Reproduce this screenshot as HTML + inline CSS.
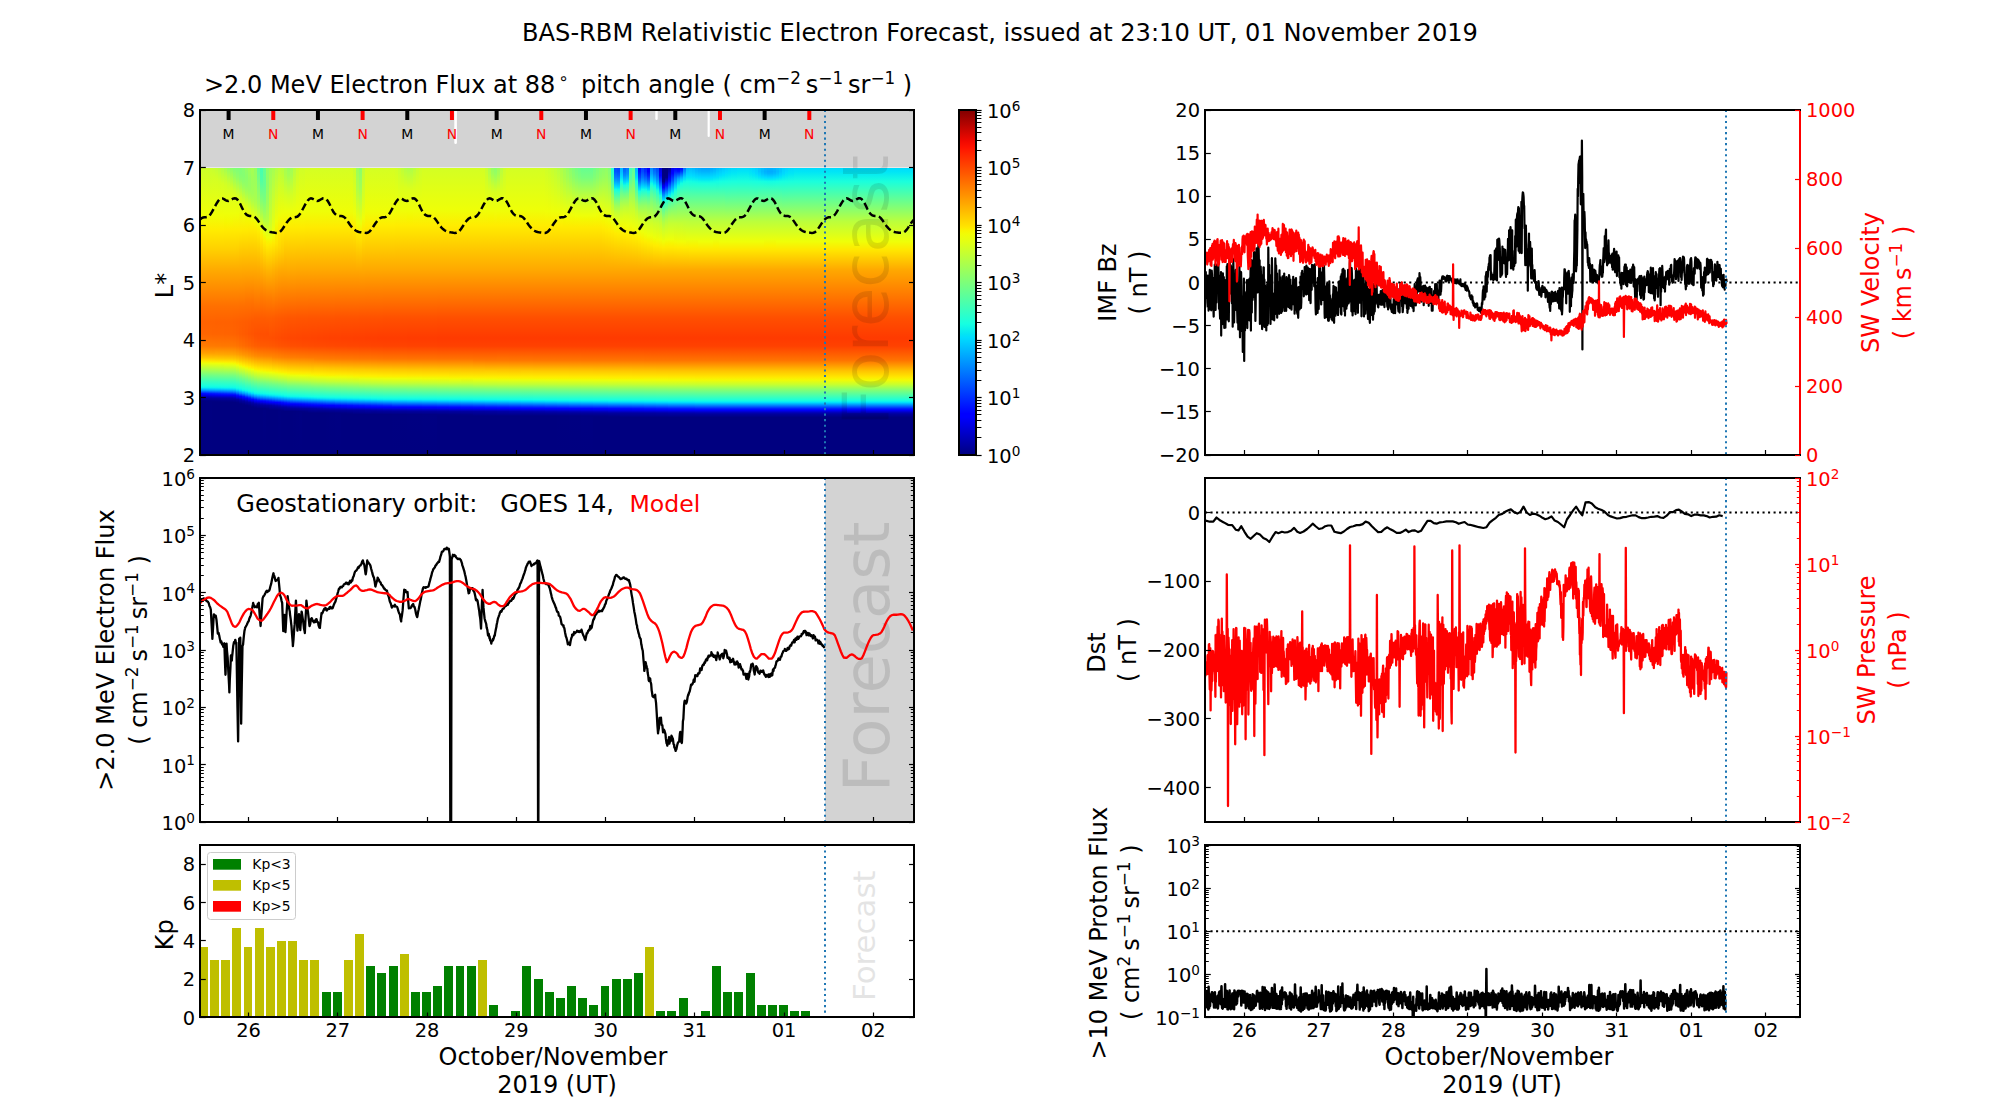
<!DOCTYPE html><html><head><meta charset="utf-8"><title>BAS-RBM Relativistic Electron Forecast</title>
<style>html,body{margin:0;padding:0;background:#fff}svg{display:block}text{font-family:'DejaVu Sans','Liberation Sans',sans-serif}</style></head><body>
<svg width="2000" height="1100" viewBox="0 0 2000 1100">
<rect width="2000" height="1100" fill="#fff"/>
<text xml:space="preserve" x="1000" y="41" font-size="24.11" text-anchor="middle" fill="#000" >BAS-RBM Relativistic Electron Forecast, issued at 23:10 UT, 01 November 2019</text>
<g id="p1">
<rect x="200" y="110" width="714" height="57.5" fill="#d3d3d3" />
<g shape-rendering="crispEdges">
<defs>
<linearGradient id="h0_0" gradientUnits="userSpaceOnUse" x1="0" y1="167.5" x2="0" y2="270"><stop offset="0" stop-color="#cdff2a"/><stop offset="0.468" stop-color="#f0fe07"/><stop offset="0.624" stop-color="#ffea00"/><stop offset="0.8" stop-color="#ffd000"/><stop offset="1" stop-color="#ffab00"/></linearGradient>
<linearGradient id="h0_1" gradientUnits="userSpaceOnUse" x1="0" y1="167.5" x2="0" y2="270"><stop offset="0" stop-color="#caff2d"/><stop offset="0.468" stop-color="#f0fe07"/><stop offset="0.605" stop-color="#ffed00"/><stop offset="0.8" stop-color="#ffd000"/><stop offset="1" stop-color="#ffaa00"/></linearGradient>
<linearGradient id="h0_2" gradientUnits="userSpaceOnUse" x1="0" y1="167.5" x2="0" y2="270"><stop offset="0" stop-color="#c6ff31"/><stop offset="0.098" stop-color="#d3ff24"/><stop offset="0.468" stop-color="#f0fe07"/><stop offset="0.605" stop-color="#ffed00"/><stop offset="0.8" stop-color="#ffd000"/><stop offset="1" stop-color="#ffaa00"/></linearGradient>
<linearGradient id="h0_3" gradientUnits="userSpaceOnUse" x1="0" y1="167.5" x2="0" y2="270"><stop offset="0" stop-color="#c0ff36"/><stop offset="0.117" stop-color="#d4ff23"/><stop offset="0.468" stop-color="#f0fe07"/><stop offset="0.605" stop-color="#ffed00"/><stop offset="0.8" stop-color="#ffd000"/><stop offset="1" stop-color="#ffaa00"/></linearGradient>
<linearGradient id="h0_4" gradientUnits="userSpaceOnUse" x1="0" y1="167.5" x2="0" y2="270"><stop offset="0" stop-color="#b8ff3e"/><stop offset="0.137" stop-color="#d4ff22"/><stop offset="0.468" stop-color="#f0fe07"/><stop offset="0.605" stop-color="#ffed00"/><stop offset="0.8" stop-color="#ffd000"/><stop offset="1" stop-color="#ffaa00"/></linearGradient>
<linearGradient id="h0_5" gradientUnits="userSpaceOnUse" x1="0" y1="167.5" x2="0" y2="270"><stop offset="0" stop-color="#aeff49"/><stop offset="0.156" stop-color="#d5ff22"/><stop offset="0.468" stop-color="#f0fe07"/><stop offset="0.605" stop-color="#ffed00"/><stop offset="0.8" stop-color="#ffd000"/><stop offset="1" stop-color="#ffaa00"/></linearGradient>
<linearGradient id="h0_6" gradientUnits="userSpaceOnUse" x1="0" y1="167.5" x2="0" y2="270"><stop offset="0" stop-color="#a1ff55"/><stop offset="0.098" stop-color="#c2ff34"/><stop offset="0.176" stop-color="#d4ff22"/><stop offset="0.449" stop-color="#eeff09"/><stop offset="0.546" stop-color="#f7f500"/><stop offset="0.605" stop-color="#ffec00"/><stop offset="0.8" stop-color="#ffd000"/><stop offset="1" stop-color="#ffaa00"/></linearGradient>
<linearGradient id="h0_7" gradientUnits="userSpaceOnUse" x1="0" y1="167.5" x2="0" y2="270"><stop offset="0" stop-color="#94ff62"/><stop offset="0.156" stop-color="#caff2c"/><stop offset="0.273" stop-color="#dfff18"/><stop offset="0.449" stop-color="#eeff09"/><stop offset="0.527" stop-color="#f5f802"/><stop offset="0.605" stop-color="#ffec00"/><stop offset="0.8" stop-color="#ffd000"/><stop offset="1" stop-color="#ffaa00"/></linearGradient>
<linearGradient id="h0_8" gradientUnits="userSpaceOnUse" x1="0" y1="167.5" x2="0" y2="270"><stop offset="0" stop-color="#88ff6e"/><stop offset="0.195" stop-color="#cdff29"/><stop offset="0.293" stop-color="#dfff17"/><stop offset="0.449" stop-color="#eeff09"/><stop offset="0.527" stop-color="#f5f802"/><stop offset="0.605" stop-color="#ffec00"/><stop offset="0.8" stop-color="#ffd000"/><stop offset="1" stop-color="#ffaa00"/></linearGradient>
<linearGradient id="h0_9" gradientUnits="userSpaceOnUse" x1="0" y1="167.5" x2="0" y2="270"><stop offset="0" stop-color="#80ff77"/><stop offset="0.078" stop-color="#95ff61"/><stop offset="0.234" stop-color="#d0ff26"/><stop offset="0.351" stop-color="#e5ff12"/><stop offset="0.449" stop-color="#eeff09"/><stop offset="0.605" stop-color="#ffec00"/><stop offset="0.8" stop-color="#ffd000"/><stop offset="1" stop-color="#ffaa00"/></linearGradient>
<linearGradient id="h0_10" gradientUnits="userSpaceOnUse" x1="0" y1="167.5" x2="0" y2="270"><stop offset="0" stop-color="#7dff7a"/><stop offset="0.098" stop-color="#91ff66"/><stop offset="0.273" stop-color="#d4ff23"/><stop offset="0.371" stop-color="#e6ff10"/><stop offset="0.449" stop-color="#eeff08"/><stop offset="0.605" stop-color="#ffec00"/><stop offset="0.8" stop-color="#ffcf00"/><stop offset="1" stop-color="#ffaa00"/></linearGradient>
<linearGradient id="h0_11" gradientUnits="userSpaceOnUse" x1="0" y1="167.5" x2="0" y2="270"><stop offset="0" stop-color="#7fff78"/><stop offset="0.059" stop-color="#82ff75"/><stop offset="0.117" stop-color="#8dff69"/><stop offset="0.293" stop-color="#d1ff26"/><stop offset="0.41" stop-color="#eaff0c"/><stop offset="0.605" stop-color="#ffec00"/><stop offset="1" stop-color="#ffaa00"/></linearGradient>
<linearGradient id="h0_12" gradientUnits="userSpaceOnUse" x1="0" y1="167.5" x2="0" y2="270"><stop offset="0" stop-color="#87ff70"/><stop offset="0.078" stop-color="#85ff72"/><stop offset="0.137" stop-color="#8dff6a"/><stop offset="0.195" stop-color="#9eff59"/><stop offset="0.351" stop-color="#dbff1c"/><stop offset="0.449" stop-color="#eeff08"/><stop offset="0.605" stop-color="#ffeb00"/><stop offset="1" stop-color="#ffa900"/></linearGradient>
<linearGradient id="h0_13" gradientUnits="userSpaceOnUse" x1="0" y1="167.5" x2="0" y2="270"><stop offset="0" stop-color="#92ff65"/><stop offset="0.098" stop-color="#8cff6b"/><stop offset="0.176" stop-color="#93ff64"/><stop offset="0.254" stop-color="#a9ff4e"/><stop offset="0.39" stop-color="#dfff17"/><stop offset="0.507" stop-color="#f4f802"/><stop offset="0.605" stop-color="#ffeb00"/><stop offset="1" stop-color="#ffa900"/></linearGradient>
<linearGradient id="h0_14" gradientUnits="userSpaceOnUse" x1="0" y1="167.5" x2="0" y2="270"><stop offset="0" stop-color="#9fff58"/><stop offset="0.117" stop-color="#95ff62"/><stop offset="0.215" stop-color="#9aff5d"/><stop offset="0.293" stop-color="#aeff49"/><stop offset="0.429" stop-color="#e4ff13"/><stop offset="0.527" stop-color="#f6f601"/><stop offset="0.605" stop-color="#ffea00"/><stop offset="1" stop-color="#ffa900"/></linearGradient>
<linearGradient id="h0_15" gradientUnits="userSpaceOnUse" x1="0" y1="167.5" x2="0" y2="270"><stop offset="0" stop-color="#a6ff51"/><stop offset="0.156" stop-color="#9dff5a"/><stop offset="0.254" stop-color="#a1ff56"/><stop offset="0.332" stop-color="#b3ff44"/><stop offset="0.488" stop-color="#edff09"/><stop offset="0.546" stop-color="#f9f400"/><stop offset="0.605" stop-color="#ffea00"/><stop offset="1" stop-color="#ffa900"/></linearGradient>
<linearGradient id="h0_16" gradientUnits="userSpaceOnUse" x1="0" y1="167.5" x2="0" y2="270"><stop offset="0" stop-color="#95ff62"/><stop offset="0.312" stop-color="#a8ff4f"/><stop offset="0.371" stop-color="#b7ff40"/><stop offset="0.507" stop-color="#ebff0c"/><stop offset="0.546" stop-color="#f6f701"/><stop offset="0.605" stop-color="#ffeb00"/><stop offset="1" stop-color="#ffa900"/></linearGradient>
<linearGradient id="h0_17" gradientUnits="userSpaceOnUse" x1="0" y1="167.5" x2="0" y2="270"><stop offset="0" stop-color="#63ff94"/><stop offset="0.351" stop-color="#a3ff54"/><stop offset="0.429" stop-color="#bcff3b"/><stop offset="0.546" stop-color="#ecff0b"/><stop offset="0.585" stop-color="#f7f500"/><stop offset="0.624" stop-color="#ffec00"/><stop offset="1" stop-color="#ffaa00"/></linearGradient>
<linearGradient id="h0_18" gradientUnits="userSpaceOnUse" x1="0" y1="167.5" x2="0" y2="270"><stop offset="0" stop-color="#46ffb1"/><stop offset="0.117" stop-color="#50ffa6"/><stop offset="0.332" stop-color="#86ff71"/><stop offset="0.449" stop-color="#abff4b"/><stop offset="0.605" stop-color="#efff08"/><stop offset="0.624" stop-color="#f4f802"/><stop offset="0.683" stop-color="#ffea00"/><stop offset="1" stop-color="#ffad00"/></linearGradient>
<linearGradient id="h0_19" gradientUnits="userSpaceOnUse" x1="0" y1="167.5" x2="0" y2="270"><stop offset="0" stop-color="#65ff91"/><stop offset="0.156" stop-color="#62ff95"/><stop offset="0.312" stop-color="#7aff7d"/><stop offset="0.488" stop-color="#a9ff4e"/><stop offset="0.644" stop-color="#ebff0c"/><stop offset="0.683" stop-color="#f6f601"/><stop offset="0.722" stop-color="#feed00"/><stop offset="1" stop-color="#ffb100"/></linearGradient>
<linearGradient id="h0_20" gradientUnits="userSpaceOnUse" x1="0" y1="167.5" x2="0" y2="270"><stop offset="0" stop-color="#8eff68"/><stop offset="0.176" stop-color="#8cff6a"/><stop offset="0.351" stop-color="#9bff5c"/><stop offset="0.527" stop-color="#b8ff3f"/><stop offset="0.683" stop-color="#eeff09"/><stop offset="0.722" stop-color="#f8f400"/><stop offset="0.761" stop-color="#ffeb00"/><stop offset="1" stop-color="#ffb500"/></linearGradient>
<linearGradient id="h0_21" gradientUnits="userSpaceOnUse" x1="0" y1="167.5" x2="0" y2="270"><stop offset="0" stop-color="#9eff58"/><stop offset="0.156" stop-color="#a7ff50"/><stop offset="0.527" stop-color="#ccff2b"/><stop offset="0.605" stop-color="#d8ff1f"/><stop offset="0.683" stop-color="#edff0a"/><stop offset="0.722" stop-color="#f9f400"/><stop offset="0.761" stop-color="#ffe900"/><stop offset="1" stop-color="#ffb500"/></linearGradient>
<linearGradient id="h0_22" gradientUnits="userSpaceOnUse" x1="0" y1="167.5" x2="0" y2="270"><stop offset="0" stop-color="#a5ff52"/><stop offset="0.644" stop-color="#eeff09"/><stop offset="0.741" stop-color="#ffea00"/><stop offset="1" stop-color="#ffb100"/></linearGradient>
<linearGradient id="h0_23" gradientUnits="userSpaceOnUse" x1="0" y1="167.5" x2="0" y2="270"><stop offset="0" stop-color="#b1ff46"/><stop offset="0.527" stop-color="#effe07"/><stop offset="0.585" stop-color="#f6f600"/><stop offset="0.741" stop-color="#ffe400"/><stop offset="1" stop-color="#ffad00"/></linearGradient>
<linearGradient id="h0_24" gradientUnits="userSpaceOnUse" x1="0" y1="167.5" x2="0" y2="270"><stop offset="0" stop-color="#bbff3c"/><stop offset="0.468" stop-color="#effe07"/><stop offset="0.605" stop-color="#ffeb00"/><stop offset="0.78" stop-color="#ffd700"/><stop offset="1" stop-color="#ffaa00"/></linearGradient>
<linearGradient id="h0_25" gradientUnits="userSpaceOnUse" x1="0" y1="167.5" x2="0" y2="270"><stop offset="0" stop-color="#b6ff40"/><stop offset="0.449" stop-color="#effe08"/><stop offset="0.585" stop-color="#ffec00"/><stop offset="0.82" stop-color="#ffcc00"/><stop offset="1" stop-color="#ffa900"/></linearGradient>
<linearGradient id="h0_26" gradientUnits="userSpaceOnUse" x1="0" y1="167.5" x2="0" y2="270"><stop offset="0" stop-color="#a6ff51"/><stop offset="0.078" stop-color="#aeff48"/><stop offset="0.273" stop-color="#d5ff22"/><stop offset="0.429" stop-color="#edff0a"/><stop offset="0.507" stop-color="#f6f701"/><stop offset="0.585" stop-color="#ffeb00"/><stop offset="1" stop-color="#ffa900"/></linearGradient>
<linearGradient id="h0_27" gradientUnits="userSpaceOnUse" x1="0" y1="167.5" x2="0" y2="270"><stop offset="0" stop-color="#9aff5c"/><stop offset="0.078" stop-color="#a4ff53"/><stop offset="0.273" stop-color="#d2ff25"/><stop offset="0.429" stop-color="#edff0a"/><stop offset="0.507" stop-color="#f6f701"/><stop offset="0.585" stop-color="#ffeb00"/><stop offset="1" stop-color="#ffaa00"/></linearGradient>
<linearGradient id="h0_28" gradientUnits="userSpaceOnUse" x1="0" y1="167.5" x2="0" y2="270"><stop offset="0" stop-color="#a1ff56"/><stop offset="0.078" stop-color="#aaff4d"/><stop offset="0.273" stop-color="#d4ff23"/><stop offset="0.429" stop-color="#edff0a"/><stop offset="0.507" stop-color="#f6f601"/><stop offset="0.585" stop-color="#ffeb00"/><stop offset="1" stop-color="#ffa900"/></linearGradient>
<linearGradient id="h0_29" gradientUnits="userSpaceOnUse" x1="0" y1="167.5" x2="0" y2="270"><stop offset="0" stop-color="#b5ff42"/><stop offset="0.429" stop-color="#eeff09"/><stop offset="0.585" stop-color="#ffeb00"/><stop offset="1" stop-color="#ffa900"/></linearGradient>
<linearGradient id="h0_30" gradientUnits="userSpaceOnUse" x1="0" y1="167.5" x2="0" y2="270"><stop offset="0" stop-color="#c7ff30"/><stop offset="0.429" stop-color="#efff08"/><stop offset="0.585" stop-color="#ffeb00"/><stop offset="1" stop-color="#ffa800"/></linearGradient>
<linearGradient id="h0_31" gradientUnits="userSpaceOnUse" x1="0" y1="167.5" x2="0" y2="270"><stop offset="0" stop-color="#d0ff27"/><stop offset="0.429" stop-color="#effe08"/><stop offset="0.585" stop-color="#ffeb00"/><stop offset="1" stop-color="#ffa800"/></linearGradient>
<linearGradient id="h0_32" gradientUnits="userSpaceOnUse" x1="0" y1="167.5" x2="0" y2="270"><stop offset="0" stop-color="#d4ff23"/><stop offset="0.429" stop-color="#effe07"/><stop offset="0.585" stop-color="#ffea00"/><stop offset="1" stop-color="#ffa800"/></linearGradient>
<linearGradient id="h0_33" gradientUnits="userSpaceOnUse" x1="0" y1="167.5" x2="0" y2="270"><stop offset="0" stop-color="#caff2c"/><stop offset="0.312" stop-color="#dfff18"/><stop offset="0.449" stop-color="#eeff09"/><stop offset="0.585" stop-color="#ffec00"/><stop offset="1" stop-color="#ffa800"/></linearGradient>
<linearGradient id="h0_34" gradientUnits="userSpaceOnUse" x1="0" y1="167.5" x2="0" y2="270"><stop offset="0" stop-color="#9aff5d"/><stop offset="0.215" stop-color="#b2ff45"/><stop offset="0.546" stop-color="#f0fe07"/><stop offset="0.585" stop-color="#f7f500"/><stop offset="0.644" stop-color="#ffe900"/><stop offset="1" stop-color="#ffa900"/></linearGradient>
<linearGradient id="h0_35" gradientUnits="userSpaceOnUse" x1="0" y1="167.5" x2="0" y2="270"><stop offset="0" stop-color="#89ff6d"/><stop offset="0.195" stop-color="#a1ff56"/><stop offset="0.546" stop-color="#ecff0b"/><stop offset="0.605" stop-color="#f8f400"/><stop offset="0.644" stop-color="#ffeb00"/><stop offset="1" stop-color="#ffa900"/></linearGradient>
<linearGradient id="h0_36" gradientUnits="userSpaceOnUse" x1="0" y1="167.5" x2="0" y2="270"><stop offset="0" stop-color="#bfff38"/><stop offset="0.312" stop-color="#d8ff1f"/><stop offset="0.488" stop-color="#effe08"/><stop offset="0.605" stop-color="#ffea00"/><stop offset="1" stop-color="#ffa800"/></linearGradient>
<linearGradient id="h0_37" gradientUnits="userSpaceOnUse" x1="0" y1="167.5" x2="0" y2="270"><stop offset="0" stop-color="#d4ff23"/><stop offset="0.429" stop-color="#effe07"/><stop offset="0.566" stop-color="#ffed00"/><stop offset="1" stop-color="#ffa800"/></linearGradient>
<linearGradient id="h0_38" gradientUnits="userSpaceOnUse" x1="0" y1="167.5" x2="0" y2="270"><stop offset="0" stop-color="#d0ff27"/><stop offset="0.41" stop-color="#eeff08"/><stop offset="0.566" stop-color="#ffec00"/><stop offset="1" stop-color="#ffa800"/></linearGradient>
<linearGradient id="h0_39" gradientUnits="userSpaceOnUse" x1="0" y1="167.5" x2="0" y2="270"><stop offset="0" stop-color="#c8ff2f"/><stop offset="0.41" stop-color="#eeff08"/><stop offset="0.566" stop-color="#ffec00"/><stop offset="1" stop-color="#ffa800"/></linearGradient>
<linearGradient id="h0_40" gradientUnits="userSpaceOnUse" x1="0" y1="167.5" x2="0" y2="270"><stop offset="0" stop-color="#bdff39"/><stop offset="0.195" stop-color="#dbff1b"/><stop offset="0.41" stop-color="#eeff08"/><stop offset="0.566" stop-color="#ffec00"/><stop offset="1" stop-color="#ffa800"/></linearGradient>
<linearGradient id="h0_41" gradientUnits="userSpaceOnUse" x1="0" y1="167.5" x2="0" y2="270"><stop offset="0" stop-color="#b2ff44"/><stop offset="0.195" stop-color="#daff1d"/><stop offset="0.41" stop-color="#eeff08"/><stop offset="0.566" stop-color="#ffec00"/><stop offset="1" stop-color="#ffa800"/></linearGradient>
<linearGradient id="h0_42" gradientUnits="userSpaceOnUse" x1="0" y1="167.5" x2="0" y2="270"><stop offset="0" stop-color="#adff4a"/><stop offset="0.215" stop-color="#dcff1b"/><stop offset="0.41" stop-color="#eeff08"/><stop offset="0.488" stop-color="#f6f601"/><stop offset="0.566" stop-color="#ffec00"/><stop offset="1" stop-color="#ffa800"/></linearGradient>
<linearGradient id="h0_43" gradientUnits="userSpaceOnUse" x1="0" y1="167.5" x2="0" y2="270"><stop offset="0" stop-color="#b9ff3d"/><stop offset="0.195" stop-color="#dbff1c"/><stop offset="0.41" stop-color="#eeff08"/><stop offset="0.566" stop-color="#ffec00"/><stop offset="1" stop-color="#ffa800"/></linearGradient>
<linearGradient id="h0_44" gradientUnits="userSpaceOnUse" x1="0" y1="167.5" x2="0" y2="270"><stop offset="0" stop-color="#c5ff32"/><stop offset="0.195" stop-color="#ddff1a"/><stop offset="0.41" stop-color="#eeff08"/><stop offset="0.566" stop-color="#ffec00"/><stop offset="1" stop-color="#ffa800"/></linearGradient>
<linearGradient id="h0_45" gradientUnits="userSpaceOnUse" x1="0" y1="167.5" x2="0" y2="270"><stop offset="0" stop-color="#ceff29"/><stop offset="0.41" stop-color="#eeff08"/><stop offset="0.566" stop-color="#ffec00"/><stop offset="1" stop-color="#ffa800"/></linearGradient>
<linearGradient id="h0_46" gradientUnits="userSpaceOnUse" x1="0" y1="167.5" x2="0" y2="270"><stop offset="0" stop-color="#d3ff24"/><stop offset="0.41" stop-color="#eeff08"/><stop offset="0.566" stop-color="#ffec00"/><stop offset="1" stop-color="#ffa800"/></linearGradient>
<linearGradient id="h0_47" gradientUnits="userSpaceOnUse" x1="0" y1="167.5" x2="0" y2="270"><stop offset="0" stop-color="#c5ff32"/><stop offset="0.41" stop-color="#eeff08"/><stop offset="0.566" stop-color="#ffec00"/><stop offset="1" stop-color="#ffa800"/></linearGradient>
<linearGradient id="h0_48" gradientUnits="userSpaceOnUse" x1="0" y1="167.5" x2="0" y2="270"><stop offset="0" stop-color="#aeff49"/><stop offset="0.059" stop-color="#b5ff42"/><stop offset="0.234" stop-color="#dbff1c"/><stop offset="0.41" stop-color="#eeff09"/><stop offset="0.488" stop-color="#f6f601"/><stop offset="0.566" stop-color="#ffec00"/><stop offset="1" stop-color="#ffa800"/></linearGradient>
<linearGradient id="h0_49" gradientUnits="userSpaceOnUse" x1="0" y1="167.5" x2="0" y2="270"><stop offset="0" stop-color="#95ff62"/><stop offset="0.059" stop-color="#9fff58"/><stop offset="0.176" stop-color="#c7ff30"/><stop offset="0.254" stop-color="#dbff1c"/><stop offset="0.41" stop-color="#eeff09"/><stop offset="0.488" stop-color="#f6f601"/><stop offset="0.566" stop-color="#ffec00"/><stop offset="1" stop-color="#ffa800"/></linearGradient>
<linearGradient id="h0_50" gradientUnits="userSpaceOnUse" x1="0" y1="167.5" x2="0" y2="270"><stop offset="0" stop-color="#8cff6b"/><stop offset="0.059" stop-color="#97ff60"/><stop offset="0.234" stop-color="#d5ff22"/><stop offset="0.41" stop-color="#eeff09"/><stop offset="0.566" stop-color="#ffec00"/><stop offset="1" stop-color="#ffa800"/></linearGradient>
<linearGradient id="h0_51" gradientUnits="userSpaceOnUse" x1="0" y1="167.5" x2="0" y2="270"><stop offset="0" stop-color="#9cff5b"/><stop offset="0.059" stop-color="#a5ff52"/><stop offset="0.234" stop-color="#d8ff1f"/><stop offset="0.41" stop-color="#eeff09"/><stop offset="0.488" stop-color="#f6f601"/><stop offset="0.566" stop-color="#ffec00"/><stop offset="1" stop-color="#ffa800"/></linearGradient>
<linearGradient id="h0_52" gradientUnits="userSpaceOnUse" x1="0" y1="167.5" x2="0" y2="270"><stop offset="0" stop-color="#b7ff40"/><stop offset="0.234" stop-color="#dcff1a"/><stop offset="0.41" stop-color="#eeff08"/><stop offset="0.566" stop-color="#ffec00"/><stop offset="1" stop-color="#ffa800"/></linearGradient>
<linearGradient id="h0_53" gradientUnits="userSpaceOnUse" x1="0" y1="167.5" x2="0" y2="270"><stop offset="0" stop-color="#caff2d"/><stop offset="0.41" stop-color="#eeff08"/><stop offset="0.566" stop-color="#ffec00"/><stop offset="1" stop-color="#ffa800"/></linearGradient>
<linearGradient id="h0_54" gradientUnits="userSpaceOnUse" x1="0" y1="167.5" x2="0" y2="270"><stop offset="0" stop-color="#d3ff24"/><stop offset="0.41" stop-color="#eeff08"/><stop offset="0.566" stop-color="#ffec00"/><stop offset="1" stop-color="#ffa800"/></linearGradient>
<linearGradient id="h0_55" gradientUnits="userSpaceOnUse" x1="0" y1="167.5" x2="0" y2="270"><stop offset="0" stop-color="#ceff29"/><stop offset="0.429" stop-color="#f0fe07"/><stop offset="0.566" stop-color="#ffec00"/><stop offset="1" stop-color="#ffa800"/></linearGradient>
<linearGradient id="h0_56" gradientUnits="userSpaceOnUse" x1="0" y1="167.5" x2="0" y2="270"><stop offset="0" stop-color="#caff2c"/><stop offset="0.429" stop-color="#effe07"/><stop offset="0.566" stop-color="#ffec00"/><stop offset="1" stop-color="#ffa800"/></linearGradient>
<linearGradient id="h0_57" gradientUnits="userSpaceOnUse" x1="0" y1="167.5" x2="0" y2="270"><stop offset="0" stop-color="#c5ff31"/><stop offset="0.429" stop-color="#efff08"/><stop offset="0.566" stop-color="#ffec00"/><stop offset="1" stop-color="#ffa800"/></linearGradient>
<linearGradient id="h0_58" gradientUnits="userSpaceOnUse" x1="0" y1="167.5" x2="0" y2="270"><stop offset="0" stop-color="#bfff38"/><stop offset="0.429" stop-color="#eeff08"/><stop offset="0.566" stop-color="#ffec00"/><stop offset="1" stop-color="#ffa800"/></linearGradient>
<linearGradient id="h0_59" gradientUnits="userSpaceOnUse" x1="0" y1="167.5" x2="0" y2="270"><stop offset="0" stop-color="#b7ff40"/><stop offset="0.429" stop-color="#eeff09"/><stop offset="0.566" stop-color="#ffec00"/><stop offset="1" stop-color="#ffa800"/></linearGradient>
<linearGradient id="h0_60" gradientUnits="userSpaceOnUse" x1="0" y1="167.5" x2="0" y2="270"><stop offset="0" stop-color="#adff4a"/><stop offset="0.098" stop-color="#b7ff40"/><stop offset="0.449" stop-color="#effe07"/><stop offset="0.566" stop-color="#ffed00"/><stop offset="1" stop-color="#ffa800"/></linearGradient>
<linearGradient id="h0_61" gradientUnits="userSpaceOnUse" x1="0" y1="167.5" x2="0" y2="270"><stop offset="0" stop-color="#a2ff55"/><stop offset="0.098" stop-color="#adff49"/><stop offset="0.449" stop-color="#efff08"/><stop offset="0.507" stop-color="#f6f600"/><stop offset="0.585" stop-color="#ffea00"/><stop offset="1" stop-color="#ffa800"/></linearGradient>
<linearGradient id="h0_62" gradientUnits="userSpaceOnUse" x1="0" y1="167.5" x2="0" y2="270"><stop offset="0" stop-color="#96ff60"/><stop offset="0.098" stop-color="#a3ff54"/><stop offset="0.449" stop-color="#eeff09"/><stop offset="0.507" stop-color="#f6f701"/><stop offset="0.585" stop-color="#ffea00"/><stop offset="1" stop-color="#ffa800"/></linearGradient>
<linearGradient id="h0_63" gradientUnits="userSpaceOnUse" x1="0" y1="167.5" x2="0" y2="270"><stop offset="0" stop-color="#8aff6d"/><stop offset="0.098" stop-color="#98ff5f"/><stop offset="0.293" stop-color="#cdff2a"/><stop offset="0.449" stop-color="#edff0a"/><stop offset="0.507" stop-color="#f6f701"/><stop offset="0.585" stop-color="#ffea00"/><stop offset="1" stop-color="#ffa800"/></linearGradient>
<linearGradient id="h0_64" gradientUnits="userSpaceOnUse" x1="0" y1="167.5" x2="0" y2="270"><stop offset="0" stop-color="#7eff79"/><stop offset="0.098" stop-color="#8dff69"/><stop offset="0.371" stop-color="#ddff1a"/><stop offset="0.468" stop-color="#effe07"/><stop offset="0.507" stop-color="#f5f702"/><stop offset="0.585" stop-color="#ffea00"/><stop offset="1" stop-color="#ffa800"/></linearGradient>
<linearGradient id="h0_65" gradientUnits="userSpaceOnUse" x1="0" y1="167.5" x2="0" y2="270"><stop offset="0" stop-color="#73ff83"/><stop offset="0.098" stop-color="#84ff73"/><stop offset="0.371" stop-color="#dbff1c"/><stop offset="0.468" stop-color="#efff08"/><stop offset="0.507" stop-color="#f5f802"/><stop offset="0.585" stop-color="#ffea00"/><stop offset="1" stop-color="#ffa800"/></linearGradient>
<linearGradient id="h0_66" gradientUnits="userSpaceOnUse" x1="0" y1="167.5" x2="0" y2="270"><stop offset="0" stop-color="#6bff8c"/><stop offset="0.098" stop-color="#7dff7a"/><stop offset="0.371" stop-color="#daff1d"/><stop offset="0.468" stop-color="#eeff08"/><stop offset="0.507" stop-color="#f5f802"/><stop offset="0.585" stop-color="#ffea00"/><stop offset="1" stop-color="#ffa800"/></linearGradient>
<linearGradient id="h0_67" gradientUnits="userSpaceOnUse" x1="0" y1="167.5" x2="0" y2="270"><stop offset="0" stop-color="#65ff92"/><stop offset="0.098" stop-color="#78ff7f"/><stop offset="0.273" stop-color="#baff3d"/><stop offset="0.371" stop-color="#d9ff1e"/><stop offset="0.468" stop-color="#eeff09"/><stop offset="0.507" stop-color="#f4f802"/><stop offset="0.585" stop-color="#ffea00"/><stop offset="1" stop-color="#ffa800"/></linearGradient>
<linearGradient id="h0_68" gradientUnits="userSpaceOnUse" x1="0" y1="167.5" x2="0" y2="270"><stop offset="0" stop-color="#70ff86"/><stop offset="0.098" stop-color="#81ff75"/><stop offset="0.371" stop-color="#dbff1c"/><stop offset="0.468" stop-color="#efff08"/><stop offset="0.507" stop-color="#f5f802"/><stop offset="0.585" stop-color="#ffea00"/><stop offset="1" stop-color="#ffa800"/></linearGradient>
<linearGradient id="h0_69" gradientUnits="userSpaceOnUse" x1="0" y1="167.5" x2="0" y2="270"><stop offset="0" stop-color="#7aff7c"/><stop offset="0.098" stop-color="#8aff6d"/><stop offset="0.371" stop-color="#dcff1b"/><stop offset="0.468" stop-color="#effe07"/><stop offset="0.507" stop-color="#f5f802"/><stop offset="0.585" stop-color="#ffea00"/><stop offset="1" stop-color="#ffa800"/></linearGradient>
<linearGradient id="h0_70" gradientUnits="userSpaceOnUse" x1="0" y1="167.5" x2="0" y2="270"><stop offset="0" stop-color="#85ff72"/><stop offset="0.098" stop-color="#93ff63"/><stop offset="0.351" stop-color="#d9ff1e"/><stop offset="0.449" stop-color="#ecff0a"/><stop offset="0.507" stop-color="#f5f802"/><stop offset="0.585" stop-color="#ffea00"/><stop offset="1" stop-color="#ffa800"/></linearGradient>
<linearGradient id="h0_71" gradientUnits="userSpaceOnUse" x1="0" y1="167.5" x2="0" y2="270"><stop offset="0" stop-color="#8aff6c"/><stop offset="0.098" stop-color="#98ff5f"/><stop offset="0.293" stop-color="#caff2c"/><stop offset="0.468" stop-color="#eeff09"/><stop offset="0.527" stop-color="#f6f600"/><stop offset="0.585" stop-color="#ffec00"/><stop offset="1" stop-color="#ffa800"/></linearGradient>
<linearGradient id="h0_72" gradientUnits="userSpaceOnUse" x1="0" y1="167.5" x2="0" y2="270"><stop offset="0" stop-color="#8fff68"/><stop offset="0.098" stop-color="#9bff5b"/><stop offset="0.468" stop-color="#ecff0b"/><stop offset="0.527" stop-color="#f5f802"/><stop offset="0.605" stop-color="#ffeb00"/><stop offset="1" stop-color="#ffa800"/></linearGradient>
<linearGradient id="h0_73" gradientUnits="userSpaceOnUse" x1="0" y1="167.5" x2="0" y2="270"><stop offset="0" stop-color="#81ff76"/><stop offset="0.098" stop-color="#8fff68"/><stop offset="0.371" stop-color="#d5ff21"/><stop offset="0.488" stop-color="#ecff0b"/><stop offset="0.546" stop-color="#f6f701"/><stop offset="0.605" stop-color="#ffed00"/><stop offset="1" stop-color="#ffa800"/></linearGradient>
<linearGradient id="h0_74" gradientUnits="userSpaceOnUse" x1="0" y1="167.5" x2="0" y2="270"><stop offset="0" stop-color="#25ffd2"/><stop offset="0.059" stop-color="#2fffc7"/><stop offset="0.117" stop-color="#44ffb2"/><stop offset="0.273" stop-color="#95ff62"/><stop offset="0.371" stop-color="#c0ff36"/><stop offset="0.527" stop-color="#edff0a"/><stop offset="0.624" stop-color="#ffec00"/><stop offset="1" stop-color="#ffa800"/></linearGradient>
<linearGradient id="h0_75" gradientUnits="userSpaceOnUse" x1="0" y1="167.5" x2="0" y2="270"><stop offset="0" stop-color="#0049ff"/><stop offset="0.039" stop-color="#0054ff"/><stop offset="0.098" stop-color="#007bff"/><stop offset="0.176" stop-color="#00d0ff"/><stop offset="0.195" stop-color="#02e8f5"/><stop offset="0.215" stop-color="#16ffe1"/><stop offset="0.293" stop-color="#60ff96"/><stop offset="0.371" stop-color="#9dff59"/><stop offset="0.449" stop-color="#c9ff2e"/><stop offset="0.527" stop-color="#e5ff12"/><stop offset="0.585" stop-color="#f4f903"/><stop offset="0.644" stop-color="#ffeb00"/><stop offset="1" stop-color="#ffa800"/></linearGradient>
<linearGradient id="h0_76" gradientUnits="userSpaceOnUse" x1="0" y1="167.5" x2="0" y2="270"><stop offset="0" stop-color="#0040ff"/><stop offset="0.039" stop-color="#004bff"/><stop offset="0.078" stop-color="#0063ff"/><stop offset="0.117" stop-color="#0086ff"/><stop offset="0.176" stop-color="#00caff"/><stop offset="0.195" stop-color="#00e2f9"/><stop offset="0.215" stop-color="#11fbe5"/><stop offset="0.234" stop-color="#25ffd2"/><stop offset="0.312" stop-color="#6eff89"/><stop offset="0.39" stop-color="#a7ff50"/><stop offset="0.468" stop-color="#cfff28"/><stop offset="0.546" stop-color="#e9ff0e"/><stop offset="0.605" stop-color="#f6f600"/><stop offset="0.644" stop-color="#feed00"/><stop offset="1" stop-color="#ffa800"/></linearGradient>
<linearGradient id="h0_77" gradientUnits="userSpaceOnUse" x1="0" y1="167.5" x2="0" y2="270"><stop offset="0" stop-color="#00b6ff"/><stop offset="0.039" stop-color="#00c0ff"/><stop offset="0.078" stop-color="#00d4ff"/><stop offset="0.098" stop-color="#00e1fa"/><stop offset="0.137" stop-color="#16ffe1"/><stop offset="0.254" stop-color="#6fff88"/><stop offset="0.351" stop-color="#aaff4d"/><stop offset="0.429" stop-color="#cbff2b"/><stop offset="0.527" stop-color="#e7ff0f"/><stop offset="0.605" stop-color="#f7f500"/><stop offset="0.644" stop-color="#feed00"/><stop offset="1" stop-color="#ffa800"/></linearGradient>
<linearGradient id="h0_78" gradientUnits="userSpaceOnUse" x1="0" y1="167.5" x2="0" y2="270"><stop offset="0" stop-color="#0064ff"/><stop offset="0.039" stop-color="#0071ff"/><stop offset="0.078" stop-color="#008eff"/><stop offset="0.137" stop-color="#00d0ff"/><stop offset="0.156" stop-color="#04eaf3"/><stop offset="0.176" stop-color="#19ffde"/><stop offset="0.254" stop-color="#68ff8f"/><stop offset="0.312" stop-color="#96ff61"/><stop offset="0.39" stop-color="#c0ff37"/><stop offset="0.468" stop-color="#daff1d"/><stop offset="0.566" stop-color="#f0fd07"/><stop offset="0.605" stop-color="#f7f600"/><stop offset="0.663" stop-color="#ffea00"/><stop offset="1" stop-color="#ffa800"/></linearGradient>
<linearGradient id="h0_79" gradientUnits="userSpaceOnUse" x1="0" y1="167.5" x2="0" y2="270"><stop offset="0" stop-color="#0076ff"/><stop offset="0.059" stop-color="#008fff"/><stop offset="0.098" stop-color="#00b1ff"/><stop offset="0.137" stop-color="#00defd"/><stop offset="0.156" stop-color="#0ef7e9"/><stop offset="0.176" stop-color="#22ffd5"/><stop offset="0.254" stop-color="#6dff8a"/><stop offset="0.312" stop-color="#98ff5f"/><stop offset="0.39" stop-color="#c0ff36"/><stop offset="0.468" stop-color="#d9ff1d"/><stop offset="0.566" stop-color="#efff08"/><stop offset="0.663" stop-color="#ffec00"/><stop offset="1" stop-color="#ffa800"/></linearGradient>
<linearGradient id="h0_80" gradientUnits="userSpaceOnUse" x1="0" y1="167.5" x2="0" y2="270"><stop offset="0" stop-color="#3effb8"/><stop offset="0.098" stop-color="#56ffa1"/><stop offset="0.254" stop-color="#9aff5d"/><stop offset="0.351" stop-color="#bcff3b"/><stop offset="0.546" stop-color="#eaff0d"/><stop offset="0.624" stop-color="#f7f500"/><stop offset="0.683" stop-color="#ffe900"/><stop offset="1" stop-color="#ffa800"/></linearGradient>
<linearGradient id="h0_81" gradientUnits="userSpaceOnUse" x1="0" y1="167.5" x2="0" y2="270"><stop offset="0" stop-color="#5cff9a"/><stop offset="0.117" stop-color="#72ff84"/><stop offset="0.41" stop-color="#caff2d"/><stop offset="0.585" stop-color="#effe08"/><stop offset="0.624" stop-color="#f6f601"/><stop offset="0.683" stop-color="#ffeb00"/><stop offset="1" stop-color="#ffa800"/></linearGradient>
<linearGradient id="h0_82" gradientUnits="userSpaceOnUse" x1="0" y1="167.5" x2="0" y2="270"><stop offset="0" stop-color="#00baff"/><stop offset="0.039" stop-color="#00c5ff"/><stop offset="0.078" stop-color="#00d7ff"/><stop offset="0.098" stop-color="#00e3f9"/><stop offset="0.137" stop-color="#15ffe1"/><stop offset="0.254" stop-color="#68ff8f"/><stop offset="0.351" stop-color="#a1ff56"/><stop offset="0.429" stop-color="#c2ff35"/><stop offset="0.527" stop-color="#dfff18"/><stop offset="0.605" stop-color="#effe07"/><stop offset="0.683" stop-color="#feed00"/><stop offset="1" stop-color="#ffa800"/></linearGradient>
<linearGradient id="h0_83" gradientUnits="userSpaceOnUse" x1="0" y1="167.5" x2="0" y2="270"><stop offset="0" stop-color="#0006ff"/><stop offset="0.039" stop-color="#0015ff"/><stop offset="0.098" stop-color="#0045ff"/><stop offset="0.137" stop-color="#0074ff"/><stop offset="0.195" stop-color="#00c8ff"/><stop offset="0.215" stop-color="#00e4f8"/><stop offset="0.234" stop-color="#15ffe2"/><stop offset="0.293" stop-color="#52ffa5"/><stop offset="0.371" stop-color="#91ff66"/><stop offset="0.449" stop-color="#bbff3b"/><stop offset="0.527" stop-color="#d8ff1e"/><stop offset="0.624" stop-color="#effe07"/><stop offset="0.702" stop-color="#ffec00"/><stop offset="1" stop-color="#ffa800"/></linearGradient>
<linearGradient id="h0_84" gradientUnits="userSpaceOnUse" x1="0" y1="167.5" x2="0" y2="270"><stop offset="0" stop-color="#003cff"/><stop offset="0.039" stop-color="#0049ff"/><stop offset="0.098" stop-color="#0074ff"/><stop offset="0.176" stop-color="#00ccff"/><stop offset="0.195" stop-color="#00e5f7"/><stop offset="0.215" stop-color="#13fde4"/><stop offset="0.293" stop-color="#5bff9c"/><stop offset="0.371" stop-color="#92ff64"/><stop offset="0.449" stop-color="#b9ff3e"/><stop offset="0.527" stop-color="#d5ff21"/><stop offset="0.624" stop-color="#ecff0b"/><stop offset="0.683" stop-color="#f8f400"/><stop offset="0.722" stop-color="#ffeb00"/><stop offset="1" stop-color="#ffa800"/></linearGradient>
<linearGradient id="h0_85" gradientUnits="userSpaceOnUse" x1="0" y1="167.5" x2="0" y2="270"><stop offset="0" stop-color="#001fff"/><stop offset="0.039" stop-color="#002eff"/><stop offset="0.078" stop-color="#004cff"/><stop offset="0.117" stop-color="#0075ff"/><stop offset="0.195" stop-color="#00e0fb"/><stop offset="0.215" stop-color="#11fae6"/><stop offset="0.234" stop-color="#25ffd1"/><stop offset="0.293" stop-color="#5cff9b"/><stop offset="0.371" stop-color="#93ff64"/><stop offset="0.429" stop-color="#b0ff47"/><stop offset="0.527" stop-color="#d3ff24"/><stop offset="0.644" stop-color="#edff09"/><stop offset="0.722" stop-color="#feee00"/><stop offset="1" stop-color="#ffa800"/></linearGradient>
<linearGradient id="h0_86" gradientUnits="userSpaceOnUse" x1="0" y1="167.5" x2="0" y2="270"><stop offset="0" stop-color="#0000fd"/><stop offset="0.039" stop-color="#0000ff"/><stop offset="0.078" stop-color="#0023ff"/><stop offset="0.117" stop-color="#0052ff"/><stop offset="0.195" stop-color="#00caff"/><stop offset="0.215" stop-color="#02e7f5"/><stop offset="0.234" stop-color="#18ffdf"/><stop offset="0.293" stop-color="#53ffa4"/><stop offset="0.371" stop-color="#8dff6a"/><stop offset="0.429" stop-color="#abff4c"/><stop offset="0.527" stop-color="#cfff28"/><stop offset="0.663" stop-color="#efff08"/><stop offset="0.702" stop-color="#f7f500"/><stop offset="0.741" stop-color="#ffeb00"/><stop offset="1" stop-color="#ffa800"/></linearGradient>
<linearGradient id="h0_87" gradientUnits="userSpaceOnUse" x1="0" y1="167.5" x2="0" y2="270"><stop offset="0" stop-color="#0085ff"/><stop offset="0.059" stop-color="#00a2ff"/><stop offset="0.117" stop-color="#00d3ff"/><stop offset="0.137" stop-color="#02e8f5"/><stop offset="0.156" stop-color="#12fce4"/><stop offset="0.176" stop-color="#22ffd4"/><stop offset="0.254" stop-color="#59ff9e"/><stop offset="0.332" stop-color="#83ff74"/><stop offset="0.429" stop-color="#abff4c"/><stop offset="0.546" stop-color="#d1ff26"/><stop offset="0.663" stop-color="#ecff0b"/><stop offset="0.741" stop-color="#fdee00"/><stop offset="1" stop-color="#ffa800"/></linearGradient>
<linearGradient id="h0_88" gradientUnits="userSpaceOnUse" x1="0" y1="167.5" x2="0" y2="270"><stop offset="0" stop-color="#005aff"/><stop offset="0.059" stop-color="#007bff"/><stop offset="0.137" stop-color="#00ccff"/><stop offset="0.156" stop-color="#00e3f9"/><stop offset="0.176" stop-color="#10f9e7"/><stop offset="0.195" stop-color="#21ffd6"/><stop offset="0.273" stop-color="#58ff9f"/><stop offset="0.351" stop-color="#82ff75"/><stop offset="0.546" stop-color="#cdff2a"/><stop offset="0.683" stop-color="#edff09"/><stop offset="0.722" stop-color="#f6f600"/><stop offset="0.761" stop-color="#ffec00"/><stop offset="1" stop-color="#ffa800"/></linearGradient>
<linearGradient id="h0_89" gradientUnits="userSpaceOnUse" x1="0" y1="167.5" x2="0" y2="270"><stop offset="0" stop-color="#0046ff"/><stop offset="0.039" stop-color="#0055ff"/><stop offset="0.078" stop-color="#006eff"/><stop offset="0.117" stop-color="#008eff"/><stop offset="0.176" stop-color="#00cfff"/><stop offset="0.195" stop-color="#00e4f8"/><stop offset="0.215" stop-color="#10fae6"/><stop offset="0.234" stop-color="#21ffd6"/><stop offset="0.293" stop-color="#4effa8"/><stop offset="0.371" stop-color="#80ff77"/><stop offset="0.449" stop-color="#a6ff51"/><stop offset="0.546" stop-color="#cbff2c"/><stop offset="0.702" stop-color="#f1fc06"/><stop offset="0.761" stop-color="#ffed00"/><stop offset="1" stop-color="#ffa800"/></linearGradient>
<linearGradient id="h0_90" gradientUnits="userSpaceOnUse" x1="0" y1="167.5" x2="0" y2="270"><stop offset="0" stop-color="#0000da"/><stop offset="0.059" stop-color="#0000fc"/><stop offset="0.078" stop-color="#0000ff"/><stop offset="0.098" stop-color="#0012ff"/><stop offset="0.137" stop-color="#0042ff"/><stop offset="0.234" stop-color="#00cfff"/><stop offset="0.254" stop-color="#03eaf3"/><stop offset="0.273" stop-color="#18ffdf"/><stop offset="0.332" stop-color="#4fffa8"/><stop offset="0.39" stop-color="#7aff7d"/><stop offset="0.468" stop-color="#a6ff51"/><stop offset="0.546" stop-color="#c6ff30"/><stop offset="0.702" stop-color="#effe07"/><stop offset="0.78" stop-color="#ffe900"/><stop offset="1" stop-color="#ffa800"/></linearGradient>
<linearGradient id="h0_91" gradientUnits="userSpaceOnUse" x1="0" y1="167.5" x2="0" y2="270"><stop offset="0" stop-color="#000080"/><stop offset="0.117" stop-color="#000080"/><stop offset="0.137" stop-color="#00008d"/><stop offset="0.176" stop-color="#0000e4"/><stop offset="0.195" stop-color="#0000ff"/><stop offset="0.254" stop-color="#0074ff"/><stop offset="0.312" stop-color="#00d9ff"/><stop offset="0.332" stop-color="#0ef7e8"/><stop offset="0.351" stop-color="#25ffd2"/><stop offset="0.41" stop-color="#5eff99"/><stop offset="0.488" stop-color="#97ff60"/><stop offset="0.546" stop-color="#b6ff40"/><stop offset="0.624" stop-color="#d3ff24"/><stop offset="0.722" stop-color="#f0fd06"/><stop offset="0.78" stop-color="#ffeb00"/><stop offset="1" stop-color="#ffa800"/></linearGradient>
<linearGradient id="h0_92" gradientUnits="userSpaceOnUse" x1="0" y1="167.5" x2="0" y2="270"><stop offset="0" stop-color="#000080"/><stop offset="0.078" stop-color="#000080"/><stop offset="0.098" stop-color="#000085"/><stop offset="0.117" stop-color="#0000a6"/><stop offset="0.156" stop-color="#0000f7"/><stop offset="0.176" stop-color="#000fff"/><stop offset="0.273" stop-color="#00c4ff"/><stop offset="0.293" stop-color="#00e3f8"/><stop offset="0.312" stop-color="#16ffe1"/><stop offset="0.371" stop-color="#53ffa4"/><stop offset="0.429" stop-color="#81ff76"/><stop offset="0.507" stop-color="#aeff48"/><stop offset="0.566" stop-color="#c6ff31"/><stop offset="0.702" stop-color="#edff0a"/><stop offset="0.741" stop-color="#f7f500"/><stop offset="0.78" stop-color="#ffea00"/><stop offset="1" stop-color="#ffa800"/></linearGradient>
<linearGradient id="h0_93" gradientUnits="userSpaceOnUse" x1="0" y1="167.5" x2="0" y2="270"><stop offset="0" stop-color="#000094"/><stop offset="0.039" stop-color="#0000aa"/><stop offset="0.117" stop-color="#0000ff"/><stop offset="0.137" stop-color="#0017ff"/><stop offset="0.254" stop-color="#00d6ff"/><stop offset="0.273" stop-color="#0af2ec"/><stop offset="0.293" stop-color="#20ffd7"/><stop offset="0.351" stop-color="#58ff9f"/><stop offset="0.41" stop-color="#83ff74"/><stop offset="0.488" stop-color="#adff4a"/><stop offset="0.546" stop-color="#c5ff32"/><stop offset="0.702" stop-color="#eeff09"/><stop offset="0.741" stop-color="#f8f400"/><stop offset="0.78" stop-color="#ffea00"/><stop offset="1" stop-color="#ffa800"/></linearGradient>
<linearGradient id="h0_94" gradientUnits="userSpaceOnUse" x1="0" y1="167.5" x2="0" y2="270"><stop offset="0" stop-color="#0000eb"/><stop offset="0.039" stop-color="#0000ff"/><stop offset="0.059" stop-color="#0005ff"/><stop offset="0.117" stop-color="#0043ff"/><stop offset="0.215" stop-color="#00c7ff"/><stop offset="0.234" stop-color="#00e0fb"/><stop offset="0.254" stop-color="#0ff9e7"/><stop offset="0.273" stop-color="#22ffd5"/><stop offset="0.332" stop-color="#54ffa3"/><stop offset="0.39" stop-color="#7cff7b"/><stop offset="0.468" stop-color="#a5ff52"/><stop offset="0.546" stop-color="#c5ff32"/><stop offset="0.702" stop-color="#eeff09"/><stop offset="0.741" stop-color="#f7f500"/><stop offset="0.78" stop-color="#ffea00"/><stop offset="1" stop-color="#ffa800"/></linearGradient>
<linearGradient id="h0_95" gradientUnits="userSpaceOnUse" x1="0" y1="167.5" x2="0" y2="270"><stop offset="0" stop-color="#0000ff"/><stop offset="0.02" stop-color="#0008ff"/><stop offset="0.039" stop-color="#001cff"/><stop offset="0.098" stop-color="#006fff"/><stop offset="0.176" stop-color="#00ceff"/><stop offset="0.195" stop-color="#00e3f9"/><stop offset="0.215" stop-color="#0ef7e9"/><stop offset="0.234" stop-color="#1dffda"/><stop offset="0.371" stop-color="#78ff7f"/><stop offset="0.546" stop-color="#c5ff32"/><stop offset="0.722" stop-color="#f2fb05"/><stop offset="0.78" stop-color="#ffeb00"/><stop offset="1" stop-color="#ffa800"/></linearGradient>
<linearGradient id="h0_96" gradientUnits="userSpaceOnUse" x1="0" y1="167.5" x2="0" y2="270"><stop offset="0" stop-color="#0000f0"/><stop offset="0.02" stop-color="#0000ff"/><stop offset="0.039" stop-color="#0012ff"/><stop offset="0.098" stop-color="#0090ff"/><stop offset="0.117" stop-color="#00b1ff"/><stop offset="0.137" stop-color="#00ceff"/><stop offset="0.156" stop-color="#00e6f7"/><stop offset="0.176" stop-color="#10f9e7"/><stop offset="0.195" stop-color="#1dffda"/><stop offset="0.371" stop-color="#7eff79"/><stop offset="0.546" stop-color="#c4ff32"/><stop offset="0.722" stop-color="#f1fc06"/><stop offset="0.78" stop-color="#ffec00"/><stop offset="1" stop-color="#ffa800"/></linearGradient>
<linearGradient id="h0_97" gradientUnits="userSpaceOnUse" x1="0" y1="167.5" x2="0" y2="270"><stop offset="0" stop-color="#0007ff"/><stop offset="0.02" stop-color="#0016ff"/><stop offset="0.039" stop-color="#0035ff"/><stop offset="0.098" stop-color="#00b0ff"/><stop offset="0.117" stop-color="#00cfff"/><stop offset="0.137" stop-color="#03eaf3"/><stop offset="0.156" stop-color="#14ffe2"/><stop offset="0.215" stop-color="#38ffbf"/><stop offset="0.332" stop-color="#6fff88"/><stop offset="0.546" stop-color="#c4ff33"/><stop offset="0.722" stop-color="#f1fd06"/><stop offset="0.78" stop-color="#ffec00"/><stop offset="1" stop-color="#ffa800"/></linearGradient>
<linearGradient id="h0_98" gradientUnits="userSpaceOnUse" x1="0" y1="167.5" x2="0" y2="270"><stop offset="0" stop-color="#006fff"/><stop offset="0.02" stop-color="#007aff"/><stop offset="0.039" stop-color="#008dff"/><stop offset="0.098" stop-color="#00d5ff"/><stop offset="0.117" stop-color="#02e8f4"/><stop offset="0.137" stop-color="#11fbe5"/><stop offset="0.156" stop-color="#1effd8"/><stop offset="0.293" stop-color="#5fff98"/><stop offset="0.527" stop-color="#bdff3a"/><stop offset="0.722" stop-color="#f0fd07"/><stop offset="0.78" stop-color="#feed00"/><stop offset="1" stop-color="#ffa800"/></linearGradient>
<linearGradient id="h0_99" gradientUnits="userSpaceOnUse" x1="0" y1="167.5" x2="0" y2="270"><stop offset="0" stop-color="#00b0ff"/><stop offset="0.078" stop-color="#00dbff"/><stop offset="0.098" stop-color="#01e7f5"/><stop offset="0.137" stop-color="#16ffe1"/><stop offset="0.254" stop-color="#4dffa9"/><stop offset="0.527" stop-color="#bcff3b"/><stop offset="0.702" stop-color="#eaff0c"/><stop offset="0.78" stop-color="#feed00"/><stop offset="1" stop-color="#ffa800"/></linearGradient>
<linearGradient id="h0_100" gradientUnits="userSpaceOnUse" x1="0" y1="167.5" x2="0" y2="270"><stop offset="0" stop-color="#00b8ff"/><stop offset="0.078" stop-color="#00dcfe"/><stop offset="0.098" stop-color="#01e7f6"/><stop offset="0.137" stop-color="#14fee3"/><stop offset="0.254" stop-color="#4cffab"/><stop offset="0.527" stop-color="#bbff3c"/><stop offset="0.702" stop-color="#eaff0d"/><stop offset="0.761" stop-color="#f9f300"/><stop offset="0.8" stop-color="#ffe800"/><stop offset="1" stop-color="#ffa800"/></linearGradient>
<linearGradient id="h0_101" gradientUnits="userSpaceOnUse" x1="0" y1="167.5" x2="0" y2="270"><stop offset="0" stop-color="#00b2ff"/><stop offset="0.078" stop-color="#00d8ff"/><stop offset="0.117" stop-color="#07eff0"/><stop offset="0.137" stop-color="#12fce5"/><stop offset="0.156" stop-color="#1dffd9"/><stop offset="0.273" stop-color="#54ffa3"/><stop offset="0.527" stop-color="#bbff3c"/><stop offset="0.702" stop-color="#eaff0d"/><stop offset="0.761" stop-color="#f9f300"/><stop offset="0.8" stop-color="#ffe800"/><stop offset="1" stop-color="#ffa800"/></linearGradient>
<linearGradient id="h0_102" gradientUnits="userSpaceOnUse" x1="0" y1="167.5" x2="0" y2="270"><stop offset="0" stop-color="#00aaff"/><stop offset="0.039" stop-color="#00bbff"/><stop offset="0.098" stop-color="#00dffc"/><stop offset="0.137" stop-color="#11fae6"/><stop offset="0.156" stop-color="#1cffda"/><stop offset="0.273" stop-color="#54ffa3"/><stop offset="0.527" stop-color="#bbff3c"/><stop offset="0.702" stop-color="#eaff0d"/><stop offset="0.761" stop-color="#f9f300"/><stop offset="0.8" stop-color="#ffe800"/><stop offset="1" stop-color="#ffa800"/></linearGradient>
<linearGradient id="h0_103" gradientUnits="userSpaceOnUse" x1="0" y1="167.5" x2="0" y2="270"><stop offset="0" stop-color="#00a4ff"/><stop offset="0.039" stop-color="#00b5ff"/><stop offset="0.098" stop-color="#00dcfe"/><stop offset="0.117" stop-color="#03e9f4"/><stop offset="0.137" stop-color="#0ff8e8"/><stop offset="0.156" stop-color="#1bffdb"/><stop offset="0.273" stop-color="#54ffa3"/><stop offset="0.527" stop-color="#bbff3c"/><stop offset="0.722" stop-color="#efff08"/><stop offset="0.8" stop-color="#ffe800"/><stop offset="1" stop-color="#ffa800"/></linearGradient>
<linearGradient id="h0_104" gradientUnits="userSpaceOnUse" x1="0" y1="167.5" x2="0" y2="270"><stop offset="0" stop-color="#009fff"/><stop offset="0.039" stop-color="#00b1ff"/><stop offset="0.098" stop-color="#00daff"/><stop offset="0.117" stop-color="#02e7f5"/><stop offset="0.137" stop-color="#0ef7e8"/><stop offset="0.156" stop-color="#1bffdc"/><stop offset="0.273" stop-color="#54ffa3"/><stop offset="0.527" stop-color="#bbff3c"/><stop offset="0.722" stop-color="#efff08"/><stop offset="0.8" stop-color="#ffe800"/><stop offset="1" stop-color="#ffa800"/></linearGradient>
<linearGradient id="h0_105" gradientUnits="userSpaceOnUse" x1="0" y1="167.5" x2="0" y2="270"><stop offset="0" stop-color="#00a6ff"/><stop offset="0.039" stop-color="#00b7ff"/><stop offset="0.098" stop-color="#00ddfe"/><stop offset="0.117" stop-color="#03eaf3"/><stop offset="0.137" stop-color="#10f9e7"/><stop offset="0.156" stop-color="#1cffdb"/><stop offset="0.273" stop-color="#54ffa3"/><stop offset="0.527" stop-color="#bbff3c"/><stop offset="0.722" stop-color="#efff08"/><stop offset="0.8" stop-color="#ffe800"/><stop offset="1" stop-color="#ffa800"/></linearGradient>
<linearGradient id="h0_106" gradientUnits="userSpaceOnUse" x1="0" y1="167.5" x2="0" y2="270"><stop offset="0" stop-color="#00adff"/><stop offset="0.039" stop-color="#00bdff"/><stop offset="0.098" stop-color="#00e1fb"/><stop offset="0.137" stop-color="#11fbe6"/><stop offset="0.156" stop-color="#1dffda"/><stop offset="0.273" stop-color="#54ffa3"/><stop offset="0.527" stop-color="#bbff3c"/><stop offset="0.702" stop-color="#eaff0d"/><stop offset="0.761" stop-color="#f9f300"/><stop offset="0.8" stop-color="#ffe800"/><stop offset="1" stop-color="#ffa800"/></linearGradient>
<linearGradient id="h0_107" gradientUnits="userSpaceOnUse" x1="0" y1="167.5" x2="0" y2="270"><stop offset="0" stop-color="#00b6ff"/><stop offset="0.078" stop-color="#00daff"/><stop offset="0.098" stop-color="#00e5f7"/><stop offset="0.137" stop-color="#13fde4"/><stop offset="0.254" stop-color="#4cffab"/><stop offset="0.527" stop-color="#bbff3c"/><stop offset="0.702" stop-color="#eaff0d"/><stop offset="0.761" stop-color="#f9f300"/><stop offset="0.8" stop-color="#ffe800"/><stop offset="1" stop-color="#ffa800"/></linearGradient>
<linearGradient id="h0_108" gradientUnits="userSpaceOnUse" x1="0" y1="167.5" x2="0" y2="270"><stop offset="0" stop-color="#00beff"/><stop offset="0.078" stop-color="#00dffc"/><stop offset="0.137" stop-color="#15ffe2"/><stop offset="0.273" stop-color="#54ffa3"/><stop offset="0.527" stop-color="#bbff3c"/><stop offset="0.722" stop-color="#efff08"/><stop offset="0.8" stop-color="#ffe800"/><stop offset="1" stop-color="#ffa800"/></linearGradient>
<linearGradient id="h0_109" gradientUnits="userSpaceOnUse" x1="0" y1="167.5" x2="0" y2="270"><stop offset="0" stop-color="#00c6ff"/><stop offset="0.059" stop-color="#00dcff"/><stop offset="0.078" stop-color="#00e5f8"/><stop offset="0.137" stop-color="#16ffe0"/><stop offset="0.293" stop-color="#5dff9a"/><stop offset="0.527" stop-color="#bbff3c"/><stop offset="0.722" stop-color="#efff08"/><stop offset="0.8" stop-color="#ffe800"/><stop offset="1" stop-color="#ffa800"/></linearGradient>
<linearGradient id="h0_110" gradientUnits="userSpaceOnUse" x1="0" y1="167.5" x2="0" y2="270"><stop offset="0" stop-color="#00cdff"/><stop offset="0.039" stop-color="#00daff"/><stop offset="0.078" stop-color="#03e9f4"/><stop offset="0.137" stop-color="#18ffdf"/><stop offset="0.527" stop-color="#bbff3c"/><stop offset="0.722" stop-color="#efff08"/><stop offset="0.8" stop-color="#ffe800"/><stop offset="1" stop-color="#ffa800"/></linearGradient>
<linearGradient id="h0_111" gradientUnits="userSpaceOnUse" x1="0" y1="167.5" x2="0" y2="270"><stop offset="0" stop-color="#00d2ff"/><stop offset="0.059" stop-color="#00e5f7"/><stop offset="0.137" stop-color="#19ffde"/><stop offset="0.527" stop-color="#bbff3c"/><stop offset="0.722" stop-color="#efff08"/><stop offset="0.8" stop-color="#ffe800"/><stop offset="1" stop-color="#ffa800"/></linearGradient>
<linearGradient id="h0_112" gradientUnits="userSpaceOnUse" x1="0" y1="167.5" x2="0" y2="270"><stop offset="0" stop-color="#00d5ff"/><stop offset="0.059" stop-color="#02e8f5"/><stop offset="0.137" stop-color="#1affdd"/><stop offset="0.527" stop-color="#bbff3c"/><stop offset="0.722" stop-color="#efff08"/><stop offset="0.8" stop-color="#ffe800"/><stop offset="1" stop-color="#ffa800"/></linearGradient>
<linearGradient id="h0_113" gradientUnits="userSpaceOnUse" x1="0" y1="167.5" x2="0" y2="270"><stop offset="0" stop-color="#00d9ff"/><stop offset="0.039" stop-color="#00e5f7"/><stop offset="0.137" stop-color="#1affdc"/><stop offset="0.527" stop-color="#bbff3c"/><stop offset="0.722" stop-color="#efff08"/><stop offset="0.8" stop-color="#ffe800"/><stop offset="1" stop-color="#ffa800"/></linearGradient>
<linearGradient id="h0_114" gradientUnits="userSpaceOnUse" x1="0" y1="167.5" x2="0" y2="270"><stop offset="0" stop-color="#00d7ff"/><stop offset="0.059" stop-color="#01e6f6"/><stop offset="0.137" stop-color="#1affdd"/><stop offset="0.527" stop-color="#bbff3c"/><stop offset="0.722" stop-color="#efff08"/><stop offset="0.8" stop-color="#ffe800"/><stop offset="1" stop-color="#ffa800"/></linearGradient>
<linearGradient id="h0_115" gradientUnits="userSpaceOnUse" x1="0" y1="167.5" x2="0" y2="270"><stop offset="0" stop-color="#00d3ff"/><stop offset="0.039" stop-color="#00dbff"/><stop offset="0.078" stop-color="#03e9f4"/><stop offset="0.137" stop-color="#19ffde"/><stop offset="0.527" stop-color="#bbff3c"/><stop offset="0.722" stop-color="#efff08"/><stop offset="0.8" stop-color="#ffe800"/><stop offset="1" stop-color="#ffa800"/></linearGradient>
<linearGradient id="h0_116" gradientUnits="userSpaceOnUse" x1="0" y1="167.5" x2="0" y2="270"><stop offset="0" stop-color="#00ceff"/><stop offset="0.059" stop-color="#00d9ff"/><stop offset="0.098" stop-color="#06edf1"/><stop offset="0.137" stop-color="#18ffdf"/><stop offset="0.527" stop-color="#bbff3c"/><stop offset="0.722" stop-color="#efff08"/><stop offset="0.8" stop-color="#ffe800"/><stop offset="1" stop-color="#ffa800"/></linearGradient>
<linearGradient id="h0_117" gradientUnits="userSpaceOnUse" x1="0" y1="167.5" x2="0" y2="270"><stop offset="0" stop-color="#00c6ff"/><stop offset="0.039" stop-color="#00c7ff"/><stop offset="0.078" stop-color="#00d9ff"/><stop offset="0.098" stop-color="#01e7f6"/><stop offset="0.137" stop-color="#17ffe0"/><stop offset="0.254" stop-color="#4cffab"/><stop offset="0.527" stop-color="#bbff3c"/><stop offset="0.722" stop-color="#efff08"/><stop offset="0.8" stop-color="#ffe800"/><stop offset="1" stop-color="#ffa800"/></linearGradient>
<linearGradient id="h0_118" gradientUnits="userSpaceOnUse" x1="0" y1="167.5" x2="0" y2="270"><stop offset="0" stop-color="#00beff"/><stop offset="0.039" stop-color="#00bbff"/><stop offset="0.059" stop-color="#00c3ff"/><stop offset="0.098" stop-color="#00e0fb"/><stop offset="0.137" stop-color="#15ffe2"/><stop offset="0.215" stop-color="#3cffbb"/><stop offset="0.527" stop-color="#bbff3c"/><stop offset="0.722" stop-color="#efff08"/><stop offset="0.8" stop-color="#ffe800"/><stop offset="1" stop-color="#ffa800"/></linearGradient>
<linearGradient id="h0_119" gradientUnits="userSpaceOnUse" x1="0" y1="167.5" x2="0" y2="270"><stop offset="0" stop-color="#00b7ff"/><stop offset="0.039" stop-color="#00b1ff"/><stop offset="0.059" stop-color="#00b9ff"/><stop offset="0.098" stop-color="#00dbff"/><stop offset="0.117" stop-color="#06ecf1"/><stop offset="0.137" stop-color="#14fee3"/><stop offset="0.215" stop-color="#3cffbb"/><stop offset="0.527" stop-color="#bbff3c"/><stop offset="0.702" stop-color="#eaff0d"/><stop offset="0.761" stop-color="#f9f300"/><stop offset="0.8" stop-color="#ffe800"/><stop offset="1" stop-color="#ffa800"/></linearGradient>
<linearGradient id="h0_120" gradientUnits="userSpaceOnUse" x1="0" y1="167.5" x2="0" y2="270"><stop offset="0" stop-color="#00b3ff"/><stop offset="0.039" stop-color="#00abff"/><stop offset="0.059" stop-color="#00b3ff"/><stop offset="0.098" stop-color="#00d7ff"/><stop offset="0.117" stop-color="#04eaf3"/><stop offset="0.137" stop-color="#13fde4"/><stop offset="0.215" stop-color="#3cffbb"/><stop offset="0.527" stop-color="#bbff3c"/><stop offset="0.702" stop-color="#eaff0d"/><stop offset="0.761" stop-color="#f9f300"/><stop offset="0.8" stop-color="#ffe800"/><stop offset="1" stop-color="#ffa800"/></linearGradient>
<linearGradient id="h0_121" gradientUnits="userSpaceOnUse" x1="0" y1="167.5" x2="0" y2="270"><stop offset="0" stop-color="#00b7ff"/><stop offset="0.039" stop-color="#00b1ff"/><stop offset="0.059" stop-color="#00b9ff"/><stop offset="0.098" stop-color="#00dbff"/><stop offset="0.117" stop-color="#06ecf1"/><stop offset="0.137" stop-color="#14fee3"/><stop offset="0.215" stop-color="#3cffbb"/><stop offset="0.527" stop-color="#bbff3c"/><stop offset="0.702" stop-color="#eaff0d"/><stop offset="0.761" stop-color="#f9f300"/><stop offset="0.8" stop-color="#ffe800"/><stop offset="1" stop-color="#ffa800"/></linearGradient>
<linearGradient id="h0_122" gradientUnits="userSpaceOnUse" x1="0" y1="167.5" x2="0" y2="270"><stop offset="0" stop-color="#00beff"/><stop offset="0.039" stop-color="#00bbff"/><stop offset="0.059" stop-color="#00c3ff"/><stop offset="0.098" stop-color="#00e0fb"/><stop offset="0.137" stop-color="#15ffe2"/><stop offset="0.215" stop-color="#3cffbb"/><stop offset="0.527" stop-color="#bbff3c"/><stop offset="0.722" stop-color="#efff08"/><stop offset="0.8" stop-color="#ffe800"/><stop offset="1" stop-color="#ffa800"/></linearGradient>
<linearGradient id="h0_123" gradientUnits="userSpaceOnUse" x1="0" y1="167.5" x2="0" y2="270"><stop offset="0" stop-color="#00c6ff"/><stop offset="0.039" stop-color="#00c7ff"/><stop offset="0.078" stop-color="#00d9ff"/><stop offset="0.098" stop-color="#01e7f6"/><stop offset="0.137" stop-color="#17ffe0"/><stop offset="0.254" stop-color="#4cffab"/><stop offset="0.527" stop-color="#bbff3c"/><stop offset="0.722" stop-color="#efff08"/><stop offset="0.8" stop-color="#ffe800"/><stop offset="1" stop-color="#ffa800"/></linearGradient>
<linearGradient id="h0_124" gradientUnits="userSpaceOnUse" x1="0" y1="167.5" x2="0" y2="270"><stop offset="0" stop-color="#00ceff"/><stop offset="0.059" stop-color="#00d9ff"/><stop offset="0.098" stop-color="#06edf1"/><stop offset="0.137" stop-color="#18ffdf"/><stop offset="0.527" stop-color="#bbff3c"/><stop offset="0.722" stop-color="#efff08"/><stop offset="0.8" stop-color="#ffe800"/><stop offset="1" stop-color="#ffa800"/></linearGradient>
<linearGradient id="h0_125" gradientUnits="userSpaceOnUse" x1="0" y1="167.5" x2="0" y2="270"><stop offset="0" stop-color="#00d3ff"/><stop offset="0.039" stop-color="#00dbff"/><stop offset="0.078" stop-color="#03e9f4"/><stop offset="0.137" stop-color="#19ffde"/><stop offset="0.527" stop-color="#bbff3c"/><stop offset="0.722" stop-color="#efff08"/><stop offset="0.8" stop-color="#ffe800"/><stop offset="1" stop-color="#ffa800"/></linearGradient>
<linearGradient id="h0_126" gradientUnits="userSpaceOnUse" x1="0" y1="167.5" x2="0" y2="270"><stop offset="0" stop-color="#00d7ff"/><stop offset="0.059" stop-color="#01e6f6"/><stop offset="0.137" stop-color="#1affdd"/><stop offset="0.527" stop-color="#bbff3c"/><stop offset="0.722" stop-color="#efff08"/><stop offset="0.8" stop-color="#ffe800"/><stop offset="1" stop-color="#ffa800"/></linearGradient>
<linearGradient id="h0_127" gradientUnits="userSpaceOnUse" x1="0" y1="167.5" x2="0" y2="270"><stop offset="0" stop-color="#00daff"/><stop offset="0.039" stop-color="#00e5f7"/><stop offset="0.137" stop-color="#1bffdc"/><stop offset="0.527" stop-color="#bbff3c"/><stop offset="0.722" stop-color="#efff08"/><stop offset="0.8" stop-color="#ffe800"/><stop offset="1" stop-color="#ffa800"/></linearGradient>
</defs>
<rect x="200" y="167.5" width="9" height="103" fill="url(#h0_0)"/>
<rect x="209" y="167.5" width="3" height="103" fill="url(#h0_1)"/>
<rect x="212" y="167.5" width="3" height="103" fill="url(#h0_2)"/>
<rect x="215" y="167.5" width="3" height="103" fill="url(#h0_3)"/>
<rect x="218" y="167.5" width="3" height="103" fill="url(#h0_4)"/>
<rect x="221" y="167.5" width="3" height="103" fill="url(#h0_5)"/>
<rect x="224" y="167.5" width="3" height="103" fill="url(#h0_6)"/>
<rect x="227" y="167.5" width="3" height="103" fill="url(#h0_7)"/>
<rect x="230" y="167.5" width="3" height="103" fill="url(#h0_8)"/>
<rect x="233" y="167.5" width="3" height="103" fill="url(#h0_9)"/>
<rect x="236" y="167.5" width="3" height="103" fill="url(#h0_10)"/>
<rect x="239" y="167.5" width="3" height="103" fill="url(#h0_11)"/>
<rect x="242" y="167.5" width="3" height="103" fill="url(#h0_12)"/>
<rect x="245" y="167.5" width="3" height="103" fill="url(#h0_13)"/>
<rect x="248" y="167.5" width="3" height="103" fill="url(#h0_14)"/>
<rect x="251" y="167.5" width="3" height="103" fill="url(#h0_15)"/>
<rect x="254" y="167.5" width="3" height="103" fill="url(#h0_16)"/>
<rect x="257" y="167.5" width="3" height="103" fill="url(#h0_17)"/>
<rect x="260" y="167.5" width="3" height="103" fill="url(#h0_18)"/>
<rect x="263" y="167.5" width="3" height="103" fill="url(#h0_19)"/>
<rect x="266" y="167.5" width="3" height="103" fill="url(#h0_20)"/>
<rect x="269" y="167.5" width="3" height="103" fill="url(#h0_21)"/>
<rect x="272" y="167.5" width="3" height="103" fill="url(#h0_22)"/>
<rect x="275" y="167.5" width="3" height="103" fill="url(#h0_23)"/>
<rect x="278" y="167.5" width="3" height="103" fill="url(#h0_24)"/>
<rect x="281" y="167.5" width="3" height="103" fill="url(#h0_25)"/>
<rect x="284" y="167.5" width="3" height="103" fill="url(#h0_26)"/>
<rect x="287" y="167.5" width="3" height="103" fill="url(#h0_27)"/>
<rect x="290" y="167.5" width="3" height="103" fill="url(#h0_28)"/>
<rect x="293" y="167.5" width="3" height="103" fill="url(#h0_29)"/>
<rect x="296" y="167.5" width="3" height="103" fill="url(#h0_30)"/>
<rect x="299" y="167.5" width="6" height="103" fill="url(#h0_31)"/>
<rect x="305" y="167.5" width="48" height="103" fill="url(#h0_32)"/>
<rect x="353" y="167.5" width="3" height="103" fill="url(#h0_33)"/>
<rect x="356" y="167.5" width="3" height="103" fill="url(#h0_34)"/>
<rect x="359" y="167.5" width="3" height="103" fill="url(#h0_35)"/>
<rect x="362" y="167.5" width="3" height="103" fill="url(#h0_36)"/>
<rect x="365" y="167.5" width="30" height="103" fill="url(#h0_37)"/>
<rect x="395" y="167.5" width="3" height="103" fill="url(#h0_38)"/>
<rect x="398" y="167.5" width="3" height="103" fill="url(#h0_39)"/>
<rect x="401" y="167.5" width="3" height="103" fill="url(#h0_40)"/>
<rect x="404" y="167.5" width="3" height="103" fill="url(#h0_41)"/>
<rect x="407" y="167.5" width="6" height="103" fill="url(#h0_42)"/>
<rect x="413" y="167.5" width="3" height="103" fill="url(#h0_43)"/>
<rect x="416" y="167.5" width="3" height="103" fill="url(#h0_44)"/>
<rect x="419" y="167.5" width="3" height="103" fill="url(#h0_45)"/>
<rect x="422" y="167.5" width="63" height="103" fill="url(#h0_46)"/>
<rect x="485" y="167.5" width="3" height="103" fill="url(#h0_47)"/>
<rect x="488" y="167.5" width="3" height="103" fill="url(#h0_48)"/>
<rect x="491" y="167.5" width="3" height="103" fill="url(#h0_49)"/>
<rect x="494" y="167.5" width="3" height="103" fill="url(#h0_50)"/>
<rect x="497" y="167.5" width="3" height="103" fill="url(#h0_51)"/>
<rect x="500" y="167.5" width="3" height="103" fill="url(#h0_52)"/>
<rect x="503" y="167.5" width="3" height="103" fill="url(#h0_53)"/>
<rect x="506" y="167.5" width="39" height="103" fill="url(#h0_54)"/>
<rect x="545" y="167.5" width="3" height="103" fill="url(#h0_55)"/>
<rect x="548" y="167.5" width="3" height="103" fill="url(#h0_56)"/>
<rect x="551" y="167.5" width="3" height="103" fill="url(#h0_57)"/>
<rect x="554" y="167.5" width="3" height="103" fill="url(#h0_58)"/>
<rect x="557" y="167.5" width="3" height="103" fill="url(#h0_59)"/>
<rect x="560" y="167.5" width="3" height="103" fill="url(#h0_60)"/>
<rect x="563" y="167.5" width="3" height="103" fill="url(#h0_61)"/>
<rect x="566" y="167.5" width="3" height="103" fill="url(#h0_62)"/>
<rect x="569" y="167.5" width="3" height="103" fill="url(#h0_63)"/>
<rect x="572" y="167.5" width="3" height="103" fill="url(#h0_64)"/>
<rect x="575" y="167.5" width="3" height="103" fill="url(#h0_65)"/>
<rect x="578" y="167.5" width="3" height="103" fill="url(#h0_66)"/>
<rect x="581" y="167.5" width="12" height="103" fill="url(#h0_67)"/>
<rect x="593" y="167.5" width="3" height="103" fill="url(#h0_68)"/>
<rect x="596" y="167.5" width="3" height="103" fill="url(#h0_69)"/>
<rect x="599" y="167.5" width="3" height="103" fill="url(#h0_70)"/>
<rect x="602" y="167.5" width="3" height="103" fill="url(#h0_71)"/>
<rect x="605" y="167.5" width="3" height="103" fill="url(#h0_72)"/>
<rect x="608" y="167.5" width="3" height="103" fill="url(#h0_73)"/>
<rect x="611" y="167.5" width="3" height="103" fill="url(#h0_74)"/>
<rect x="614" y="167.5" width="3" height="103" fill="url(#h0_75)"/>
<rect x="617" y="167.5" width="3" height="103" fill="url(#h0_76)"/>
<rect x="620" y="167.5" width="3" height="103" fill="url(#h0_77)"/>
<rect x="623" y="167.5" width="3" height="103" fill="url(#h0_78)"/>
<rect x="626" y="167.5" width="3" height="103" fill="url(#h0_79)"/>
<rect x="629" y="167.5" width="3" height="103" fill="url(#h0_80)"/>
<rect x="632" y="167.5" width="3" height="103" fill="url(#h0_81)"/>
<rect x="635" y="167.5" width="3" height="103" fill="url(#h0_82)"/>
<rect x="638" y="167.5" width="3" height="103" fill="url(#h0_83)"/>
<rect x="641" y="167.5" width="3" height="103" fill="url(#h0_84)"/>
<rect x="644" y="167.5" width="3" height="103" fill="url(#h0_85)"/>
<rect x="647" y="167.5" width="3" height="103" fill="url(#h0_86)"/>
<rect x="650" y="167.5" width="3" height="103" fill="url(#h0_87)"/>
<rect x="653" y="167.5" width="3" height="103" fill="url(#h0_88)"/>
<rect x="656" y="167.5" width="3" height="103" fill="url(#h0_89)"/>
<rect x="659" y="167.5" width="3" height="103" fill="url(#h0_90)"/>
<rect x="662" y="167.5" width="3" height="103" fill="url(#h0_91)"/>
<rect x="665" y="167.5" width="3" height="103" fill="url(#h0_92)"/>
<rect x="668" y="167.5" width="3" height="103" fill="url(#h0_93)"/>
<rect x="671" y="167.5" width="3" height="103" fill="url(#h0_94)"/>
<rect x="674" y="167.5" width="3" height="103" fill="url(#h0_95)"/>
<rect x="677" y="167.5" width="3" height="103" fill="url(#h0_96)"/>
<rect x="680" y="167.5" width="3" height="103" fill="url(#h0_97)"/>
<rect x="683" y="167.5" width="3" height="103" fill="url(#h0_98)"/>
<rect x="686" y="167.5" width="3" height="103" fill="url(#h0_99)"/>
<rect x="689" y="167.5" width="3" height="103" fill="url(#h0_100)"/>
<rect x="692" y="167.5" width="3" height="103" fill="url(#h0_101)"/>
<rect x="695" y="167.5" width="3" height="103" fill="url(#h0_102)"/>
<rect x="698" y="167.5" width="3" height="103" fill="url(#h0_103)"/>
<rect x="701" y="167.5" width="9" height="103" fill="url(#h0_104)"/>
<rect x="710" y="167.5" width="3" height="103" fill="url(#h0_105)"/>
<rect x="713" y="167.5" width="3" height="103" fill="url(#h0_106)"/>
<rect x="716" y="167.5" width="3" height="103" fill="url(#h0_107)"/>
<rect x="719" y="167.5" width="3" height="103" fill="url(#h0_108)"/>
<rect x="722" y="167.5" width="3" height="103" fill="url(#h0_109)"/>
<rect x="725" y="167.5" width="3" height="103" fill="url(#h0_110)"/>
<rect x="728" y="167.5" width="3" height="103" fill="url(#h0_111)"/>
<rect x="731" y="167.5" width="6" height="103" fill="url(#h0_112)"/>
<rect x="737" y="167.5" width="12" height="103" fill="url(#h0_113)"/>
<rect x="749" y="167.5" width="3" height="103" fill="url(#h0_114)"/>
<rect x="752" y="167.5" width="3" height="103" fill="url(#h0_115)"/>
<rect x="755" y="167.5" width="3" height="103" fill="url(#h0_116)"/>
<rect x="758" y="167.5" width="3" height="103" fill="url(#h0_117)"/>
<rect x="761" y="167.5" width="3" height="103" fill="url(#h0_118)"/>
<rect x="764" y="167.5" width="3" height="103" fill="url(#h0_119)"/>
<rect x="767" y="167.5" width="6" height="103" fill="url(#h0_120)"/>
<rect x="773" y="167.5" width="3" height="103" fill="url(#h0_121)"/>
<rect x="776" y="167.5" width="3" height="103" fill="url(#h0_122)"/>
<rect x="779" y="167.5" width="3" height="103" fill="url(#h0_123)"/>
<rect x="782" y="167.5" width="3" height="103" fill="url(#h0_124)"/>
<rect x="785" y="167.5" width="3" height="103" fill="url(#h0_125)"/>
<rect x="788" y="167.5" width="6" height="103" fill="url(#h0_126)"/>
<rect x="794" y="167.5" width="120" height="103" fill="url(#h0_127)"/>
<defs>
<linearGradient id="h1_0" gradientUnits="userSpaceOnUse" x1="0" y1="270" x2="0" y2="455"><stop offset="0" stop-color="#ffab00"/><stop offset="0.195" stop-color="#ff7000"/><stop offset="0.281" stop-color="#ff6200"/><stop offset="0.346" stop-color="#ff6500"/><stop offset="0.411" stop-color="#ff7b00"/><stop offset="0.449" stop-color="#ffa000"/><stop offset="0.473" stop-color="#ffc200"/><stop offset="0.489" stop-color="#ffe300"/><stop offset="0.497" stop-color="#f7f500"/><stop offset="0.505" stop-color="#e9ff0e"/><stop offset="0.57" stop-color="#6eff89"/><stop offset="0.603" stop-color="#36ffc1"/><stop offset="0.627" stop-color="#15ffe2"/><stop offset="0.635" stop-color="#0af2ed"/><stop offset="0.643" stop-color="#00c5ff"/><stop offset="0.651" stop-color="#0092ff"/><stop offset="0.659" stop-color="#0050ff"/><stop offset="0.668" stop-color="#0007ff"/><stop offset="0.676" stop-color="#0000ea"/><stop offset="0.684" stop-color="#0000bc"/><stop offset="0.692" stop-color="#00009c"/><stop offset="0.708" stop-color="#000080"/><stop offset="1" stop-color="#000080"/></linearGradient>
<linearGradient id="h1_1" gradientUnits="userSpaceOnUse" x1="0" y1="270" x2="0" y2="455"><stop offset="0" stop-color="#ffab00"/><stop offset="0.195" stop-color="#ff7000"/><stop offset="0.281" stop-color="#ff6200"/><stop offset="0.346" stop-color="#ff6500"/><stop offset="0.411" stop-color="#ff7b00"/><stop offset="0.449" stop-color="#ffa000"/><stop offset="0.473" stop-color="#ffc200"/><stop offset="0.489" stop-color="#ffe200"/><stop offset="0.497" stop-color="#f8f400"/><stop offset="0.505" stop-color="#eaff0d"/><stop offset="0.57" stop-color="#6fff88"/><stop offset="0.603" stop-color="#37ffc0"/><stop offset="0.627" stop-color="#16ffe1"/><stop offset="0.635" stop-color="#0bf3ec"/><stop offset="0.643" stop-color="#00c7ff"/><stop offset="0.651" stop-color="#0094ff"/><stop offset="0.659" stop-color="#0054ff"/><stop offset="0.668" stop-color="#000bff"/><stop offset="0.676" stop-color="#0000ec"/><stop offset="0.684" stop-color="#0000bf"/><stop offset="0.692" stop-color="#00009d"/><stop offset="0.708" stop-color="#000081"/><stop offset="1" stop-color="#000080"/></linearGradient>
<linearGradient id="h1_2" gradientUnits="userSpaceOnUse" x1="0" y1="270" x2="0" y2="455"><stop offset="0" stop-color="#ffaa00"/><stop offset="0.195" stop-color="#ff7000"/><stop offset="0.281" stop-color="#ff6200"/><stop offset="0.346" stop-color="#ff6500"/><stop offset="0.411" stop-color="#ff7a00"/><stop offset="0.449" stop-color="#ff9f00"/><stop offset="0.473" stop-color="#ffc100"/><stop offset="0.489" stop-color="#ffe100"/><stop offset="0.497" stop-color="#f9f300"/><stop offset="0.505" stop-color="#ebff0c"/><stop offset="0.57" stop-color="#6fff87"/><stop offset="0.603" stop-color="#37ffbf"/><stop offset="0.627" stop-color="#16ffe1"/><stop offset="0.635" stop-color="#0bf3ec"/><stop offset="0.643" stop-color="#00caff"/><stop offset="0.651" stop-color="#0097ff"/><stop offset="0.659" stop-color="#0058ff"/><stop offset="0.668" stop-color="#000fff"/><stop offset="0.676" stop-color="#0000ef"/><stop offset="0.684" stop-color="#0000c1"/><stop offset="0.692" stop-color="#00009e"/><stop offset="0.708" stop-color="#000082"/><stop offset="1" stop-color="#000080"/></linearGradient>
<linearGradient id="h1_3" gradientUnits="userSpaceOnUse" x1="0" y1="270" x2="0" y2="455"><stop offset="0" stop-color="#ffaa00"/><stop offset="0.195" stop-color="#ff7000"/><stop offset="0.281" stop-color="#ff6200"/><stop offset="0.346" stop-color="#ff6500"/><stop offset="0.411" stop-color="#ff7a00"/><stop offset="0.449" stop-color="#ff9f00"/><stop offset="0.473" stop-color="#ffc100"/><stop offset="0.489" stop-color="#ffe000"/><stop offset="0.497" stop-color="#faf200"/><stop offset="0.505" stop-color="#ecff0b"/><stop offset="0.57" stop-color="#70ff86"/><stop offset="0.603" stop-color="#38ffbf"/><stop offset="0.627" stop-color="#17ffe0"/><stop offset="0.635" stop-color="#0cf4eb"/><stop offset="0.643" stop-color="#00cdff"/><stop offset="0.651" stop-color="#009aff"/><stop offset="0.659" stop-color="#005cff"/><stop offset="0.668" stop-color="#0013ff"/><stop offset="0.676" stop-color="#0000f1"/><stop offset="0.684" stop-color="#0000c4"/><stop offset="0.692" stop-color="#00009e"/><stop offset="0.708" stop-color="#000082"/><stop offset="1" stop-color="#000080"/></linearGradient>
<linearGradient id="h1_4" gradientUnits="userSpaceOnUse" x1="0" y1="270" x2="0" y2="455"><stop offset="0" stop-color="#ffaa00"/><stop offset="0.195" stop-color="#ff7000"/><stop offset="0.281" stop-color="#ff6200"/><stop offset="0.346" stop-color="#ff6400"/><stop offset="0.411" stop-color="#ff7a00"/><stop offset="0.449" stop-color="#ff9e00"/><stop offset="0.473" stop-color="#ffc000"/><stop offset="0.489" stop-color="#ffdf00"/><stop offset="0.497" stop-color="#fbf000"/><stop offset="0.505" stop-color="#edff0a"/><stop offset="0.57" stop-color="#71ff86"/><stop offset="0.603" stop-color="#39ffbe"/><stop offset="0.627" stop-color="#17ffdf"/><stop offset="0.635" stop-color="#0cf5eb"/><stop offset="0.643" stop-color="#00cfff"/><stop offset="0.651" stop-color="#009cff"/><stop offset="0.659" stop-color="#0060ff"/><stop offset="0.668" stop-color="#0017ff"/><stop offset="0.676" stop-color="#0000f4"/><stop offset="0.692" stop-color="#00009f"/><stop offset="0.708" stop-color="#000083"/><stop offset="0.716" stop-color="#000080"/><stop offset="1" stop-color="#000080"/></linearGradient>
<linearGradient id="h1_5" gradientUnits="userSpaceOnUse" x1="0" y1="270" x2="0" y2="455"><stop offset="0" stop-color="#ffaa00"/><stop offset="0.195" stop-color="#ff7000"/><stop offset="0.281" stop-color="#ff6100"/><stop offset="0.346" stop-color="#ff6400"/><stop offset="0.411" stop-color="#ff7900"/><stop offset="0.457" stop-color="#ffa900"/><stop offset="0.481" stop-color="#ffcd00"/><stop offset="0.497" stop-color="#fcef00"/><stop offset="0.505" stop-color="#eeff09"/><stop offset="0.57" stop-color="#72ff85"/><stop offset="0.603" stop-color="#39ffbd"/><stop offset="0.627" stop-color="#18ffdf"/><stop offset="0.635" stop-color="#0df5ea"/><stop offset="0.643" stop-color="#00d2ff"/><stop offset="0.651" stop-color="#009fff"/><stop offset="0.659" stop-color="#0064ff"/><stop offset="0.668" stop-color="#001bff"/><stop offset="0.676" stop-color="#0000f6"/><stop offset="0.692" stop-color="#0000a0"/><stop offset="0.708" stop-color="#000084"/><stop offset="0.716" stop-color="#000080"/><stop offset="1" stop-color="#000080"/></linearGradient>
<linearGradient id="h1_6" gradientUnits="userSpaceOnUse" x1="0" y1="270" x2="0" y2="455"><stop offset="0" stop-color="#ffaa00"/><stop offset="0.195" stop-color="#ff7000"/><stop offset="0.281" stop-color="#ff6100"/><stop offset="0.346" stop-color="#ff6400"/><stop offset="0.411" stop-color="#ff7900"/><stop offset="0.457" stop-color="#ffa800"/><stop offset="0.481" stop-color="#ffcc00"/><stop offset="0.497" stop-color="#fdee00"/><stop offset="0.505" stop-color="#efff08"/><stop offset="0.57" stop-color="#73ff84"/><stop offset="0.603" stop-color="#3affbd"/><stop offset="0.627" stop-color="#19ffde"/><stop offset="0.635" stop-color="#0df6e9"/><stop offset="0.643" stop-color="#00d4ff"/><stop offset="0.659" stop-color="#0067ff"/><stop offset="0.668" stop-color="#001fff"/><stop offset="0.676" stop-color="#0000f9"/><stop offset="0.692" stop-color="#0000a1"/><stop offset="0.708" stop-color="#000085"/><stop offset="0.716" stop-color="#000080"/><stop offset="1" stop-color="#000080"/></linearGradient>
<linearGradient id="h1_7" gradientUnits="userSpaceOnUse" x1="0" y1="270" x2="0" y2="455"><stop offset="0" stop-color="#ffaa00"/><stop offset="0.195" stop-color="#ff7000"/><stop offset="0.281" stop-color="#ff6100"/><stop offset="0.346" stop-color="#ff6400"/><stop offset="0.411" stop-color="#ff7800"/><stop offset="0.457" stop-color="#ffa800"/><stop offset="0.481" stop-color="#ffcb00"/><stop offset="0.497" stop-color="#feed00"/><stop offset="0.505" stop-color="#effe07"/><stop offset="0.57" stop-color="#74ff83"/><stop offset="0.603" stop-color="#3bffbc"/><stop offset="0.627" stop-color="#19ffde"/><stop offset="0.635" stop-color="#0ef7e9"/><stop offset="0.643" stop-color="#00d7ff"/><stop offset="0.659" stop-color="#006bff"/><stop offset="0.668" stop-color="#0023ff"/><stop offset="0.676" stop-color="#0000fc"/><stop offset="0.692" stop-color="#0000a2"/><stop offset="0.708" stop-color="#000086"/><stop offset="0.716" stop-color="#000080"/><stop offset="1" stop-color="#000080"/></linearGradient>
<linearGradient id="h1_8" gradientUnits="userSpaceOnUse" x1="0" y1="270" x2="0" y2="455"><stop offset="0" stop-color="#ffaa00"/><stop offset="0.195" stop-color="#ff7000"/><stop offset="0.281" stop-color="#ff6100"/><stop offset="0.346" stop-color="#ff6300"/><stop offset="0.411" stop-color="#ff7800"/><stop offset="0.457" stop-color="#ffa700"/><stop offset="0.481" stop-color="#ffca00"/><stop offset="0.497" stop-color="#ffec00"/><stop offset="0.505" stop-color="#f0fd06"/><stop offset="0.514" stop-color="#e2ff15"/><stop offset="0.57" stop-color="#75ff82"/><stop offset="0.603" stop-color="#3cffbb"/><stop offset="0.627" stop-color="#1affdd"/><stop offset="0.635" stop-color="#0ff8e8"/><stop offset="0.643" stop-color="#00daff"/><stop offset="0.659" stop-color="#006fff"/><stop offset="0.668" stop-color="#0027ff"/><stop offset="0.676" stop-color="#0000fe"/><stop offset="0.692" stop-color="#0000a3"/><stop offset="0.708" stop-color="#000086"/><stop offset="0.716" stop-color="#000080"/><stop offset="1" stop-color="#000080"/></linearGradient>
<linearGradient id="h1_9" gradientUnits="userSpaceOnUse" x1="0" y1="270" x2="0" y2="455"><stop offset="0" stop-color="#ffaa00"/><stop offset="0.195" stop-color="#ff7000"/><stop offset="0.281" stop-color="#ff6100"/><stop offset="0.346" stop-color="#ff6300"/><stop offset="0.411" stop-color="#ff7800"/><stop offset="0.457" stop-color="#ffa600"/><stop offset="0.481" stop-color="#ffca00"/><stop offset="0.497" stop-color="#ffeb00"/><stop offset="0.505" stop-color="#f1fc05"/><stop offset="0.514" stop-color="#e3ff14"/><stop offset="0.57" stop-color="#76ff81"/><stop offset="0.603" stop-color="#3dffba"/><stop offset="0.627" stop-color="#1affdc"/><stop offset="0.635" stop-color="#0ff8e8"/><stop offset="0.643" stop-color="#00dcfe"/><stop offset="0.659" stop-color="#0073ff"/><stop offset="0.668" stop-color="#002bff"/><stop offset="0.676" stop-color="#0000ff"/><stop offset="0.692" stop-color="#0000a5"/><stop offset="0.708" stop-color="#000087"/><stop offset="0.716" stop-color="#000080"/><stop offset="1" stop-color="#000080"/></linearGradient>
<linearGradient id="h1_10" gradientUnits="userSpaceOnUse" x1="0" y1="270" x2="0" y2="455"><stop offset="0" stop-color="#ffaa00"/><stop offset="0.195" stop-color="#ff7000"/><stop offset="0.281" stop-color="#ff6100"/><stop offset="0.346" stop-color="#ff6300"/><stop offset="0.411" stop-color="#ff7700"/><stop offset="0.457" stop-color="#ffa600"/><stop offset="0.481" stop-color="#ffc900"/><stop offset="0.497" stop-color="#ffea00"/><stop offset="0.505" stop-color="#f2fb04"/><stop offset="0.514" stop-color="#e4ff13"/><stop offset="0.57" stop-color="#76ff80"/><stop offset="0.603" stop-color="#3dffb9"/><stop offset="0.627" stop-color="#1bffdc"/><stop offset="0.635" stop-color="#10f9e7"/><stop offset="0.643" stop-color="#00dffc"/><stop offset="0.659" stop-color="#0076ff"/><stop offset="0.668" stop-color="#002fff"/><stop offset="0.676" stop-color="#0000ff"/><stop offset="0.692" stop-color="#0000a8"/><stop offset="0.708" stop-color="#000088"/><stop offset="0.716" stop-color="#000080"/><stop offset="1" stop-color="#000080"/></linearGradient>
<linearGradient id="h1_11" gradientUnits="userSpaceOnUse" x1="0" y1="270" x2="0" y2="455"><stop offset="0" stop-color="#ffaa00"/><stop offset="0.195" stop-color="#ff7000"/><stop offset="0.281" stop-color="#ff6000"/><stop offset="0.346" stop-color="#ff6200"/><stop offset="0.411" stop-color="#ff7600"/><stop offset="0.457" stop-color="#ffa400"/><stop offset="0.481" stop-color="#ffc700"/><stop offset="0.497" stop-color="#ffe800"/><stop offset="0.505" stop-color="#f5f802"/><stop offset="0.514" stop-color="#e6ff11"/><stop offset="0.57" stop-color="#78ff7e"/><stop offset="0.603" stop-color="#3fffb7"/><stop offset="0.627" stop-color="#1cffda"/><stop offset="0.635" stop-color="#11fbe6"/><stop offset="0.643" stop-color="#00e5f7"/><stop offset="0.659" stop-color="#007fff"/><stop offset="0.668" stop-color="#0038ff"/><stop offset="0.676" stop-color="#0000ff"/><stop offset="0.684" stop-color="#0000dc"/><stop offset="0.692" stop-color="#0000ae"/><stop offset="0.7" stop-color="#000098"/><stop offset="0.716" stop-color="#000080"/><stop offset="1" stop-color="#000080"/></linearGradient>
<linearGradient id="h1_12" gradientUnits="userSpaceOnUse" x1="0" y1="270" x2="0" y2="455"><stop offset="0" stop-color="#ffaa00"/><stop offset="0.195" stop-color="#ff7000"/><stop offset="0.281" stop-color="#ff5f00"/><stop offset="0.346" stop-color="#ff6000"/><stop offset="0.411" stop-color="#ff7300"/><stop offset="0.457" stop-color="#ff9f00"/><stop offset="0.481" stop-color="#ffc200"/><stop offset="0.505" stop-color="#fdef00"/><stop offset="0.514" stop-color="#efff08"/><stop offset="0.578" stop-color="#72ff85"/><stop offset="0.611" stop-color="#39ffbe"/><stop offset="0.635" stop-color="#16ffe0"/><stop offset="0.643" stop-color="#0bf3ec"/><stop offset="0.651" stop-color="#00c9ff"/><stop offset="0.659" stop-color="#0097ff"/><stop offset="0.668" stop-color="#005aff"/><stop offset="0.676" stop-color="#0014ff"/><stop offset="0.684" stop-color="#0000f3"/><stop offset="0.7" stop-color="#00009f"/><stop offset="0.716" stop-color="#000083"/><stop offset="0.724" stop-color="#000080"/><stop offset="1" stop-color="#000080"/></linearGradient>
<linearGradient id="h1_13" gradientUnits="userSpaceOnUse" x1="0" y1="270" x2="0" y2="455"><stop offset="0" stop-color="#ffaa00"/><stop offset="0.195" stop-color="#ff6f00"/><stop offset="0.281" stop-color="#ff5e00"/><stop offset="0.346" stop-color="#ff5d00"/><stop offset="0.411" stop-color="#ff6f00"/><stop offset="0.457" stop-color="#ff9a00"/><stop offset="0.489" stop-color="#ffc800"/><stop offset="0.505" stop-color="#ffe600"/><stop offset="0.514" stop-color="#f7f500"/><stop offset="0.522" stop-color="#e9ff0e"/><stop offset="0.546" stop-color="#beff39"/><stop offset="0.578" stop-color="#7aff7d"/><stop offset="0.611" stop-color="#40ffb7"/><stop offset="0.635" stop-color="#1cffdb"/><stop offset="0.643" stop-color="#10fae6"/><stop offset="0.651" stop-color="#00e1fb"/><stop offset="0.668" stop-color="#007bff"/><stop offset="0.676" stop-color="#0036ff"/><stop offset="0.684" stop-color="#0000ff"/><stop offset="0.692" stop-color="#0000dc"/><stop offset="0.7" stop-color="#0000af"/><stop offset="0.708" stop-color="#000098"/><stop offset="0.724" stop-color="#000080"/><stop offset="1" stop-color="#000080"/></linearGradient>
<linearGradient id="h1_14" gradientUnits="userSpaceOnUse" x1="0" y1="270" x2="0" y2="455"><stop offset="0" stop-color="#ffa900"/><stop offset="0.195" stop-color="#ff6f00"/><stop offset="0.281" stop-color="#ff5d00"/><stop offset="0.346" stop-color="#ff5b00"/><stop offset="0.411" stop-color="#ff6c00"/><stop offset="0.457" stop-color="#ff9500"/><stop offset="0.489" stop-color="#ffc300"/><stop offset="0.514" stop-color="#ffec00"/><stop offset="0.522" stop-color="#f2fb05"/><stop offset="0.53" stop-color="#e3ff14"/><stop offset="0.586" stop-color="#74ff83"/><stop offset="0.619" stop-color="#39ffbd"/><stop offset="0.643" stop-color="#16ffe1"/><stop offset="0.651" stop-color="#0af2ed"/><stop offset="0.659" stop-color="#00c6ff"/><stop offset="0.668" stop-color="#0093ff"/><stop offset="0.684" stop-color="#0014ff"/><stop offset="0.692" stop-color="#0000f3"/><stop offset="0.708" stop-color="#00009f"/><stop offset="0.724" stop-color="#000084"/><stop offset="0.732" stop-color="#000080"/><stop offset="1" stop-color="#000080"/></linearGradient>
<linearGradient id="h1_15" gradientUnits="userSpaceOnUse" x1="0" y1="270" x2="0" y2="455"><stop offset="0" stop-color="#ffa900"/><stop offset="0.173" stop-color="#ff7300"/><stop offset="0.281" stop-color="#ff5c00"/><stop offset="0.346" stop-color="#ff5900"/><stop offset="0.411" stop-color="#ff6800"/><stop offset="0.465" stop-color="#ff9a00"/><stop offset="0.514" stop-color="#ffe500"/><stop offset="0.522" stop-color="#faf200"/><stop offset="0.53" stop-color="#ecff0b"/><stop offset="0.554" stop-color="#c1ff36"/><stop offset="0.586" stop-color="#7cff7b"/><stop offset="0.643" stop-color="#1cffdb"/><stop offset="0.651" stop-color="#10f9e7"/><stop offset="0.659" stop-color="#00ddfe"/><stop offset="0.676" stop-color="#0077ff"/><stop offset="0.684" stop-color="#0035ff"/><stop offset="0.692" stop-color="#0000ff"/><stop offset="0.7" stop-color="#0000dd"/><stop offset="0.708" stop-color="#0000b0"/><stop offset="0.716" stop-color="#000099"/><stop offset="0.732" stop-color="#000080"/><stop offset="1" stop-color="#000080"/></linearGradient>
<linearGradient id="h1_16" gradientUnits="userSpaceOnUse" x1="0" y1="270" x2="0" y2="455"><stop offset="0" stop-color="#ffa900"/><stop offset="0.173" stop-color="#ff7300"/><stop offset="0.281" stop-color="#ff5b00"/><stop offset="0.346" stop-color="#ff5600"/><stop offset="0.411" stop-color="#ff6500"/><stop offset="0.465" stop-color="#ff9500"/><stop offset="0.522" stop-color="#ffeb00"/><stop offset="0.53" stop-color="#f4f802"/><stop offset="0.538" stop-color="#e6ff11"/><stop offset="0.562" stop-color="#baff3c"/><stop offset="0.595" stop-color="#75ff81"/><stop offset="0.627" stop-color="#3affbd"/><stop offset="0.651" stop-color="#15ffe1"/><stop offset="0.659" stop-color="#09f1ee"/><stop offset="0.668" stop-color="#00c2ff"/><stop offset="0.676" stop-color="#0090ff"/><stop offset="0.692" stop-color="#0014ff"/><stop offset="0.7" stop-color="#0000f4"/><stop offset="0.716" stop-color="#0000a0"/><stop offset="0.732" stop-color="#000084"/><stop offset="0.741" stop-color="#000080"/><stop offset="1" stop-color="#000080"/></linearGradient>
<linearGradient id="h1_17" gradientUnits="userSpaceOnUse" x1="0" y1="270" x2="0" y2="455"><stop offset="0" stop-color="#ffa900"/><stop offset="0.173" stop-color="#ff7200"/><stop offset="0.281" stop-color="#ff5900"/><stop offset="0.346" stop-color="#ff5400"/><stop offset="0.411" stop-color="#ff6100"/><stop offset="0.465" stop-color="#ff9000"/><stop offset="0.522" stop-color="#ffe400"/><stop offset="0.53" stop-color="#fcf000"/><stop offset="0.538" stop-color="#efff08"/><stop offset="0.562" stop-color="#c3ff33"/><stop offset="0.603" stop-color="#6fff88"/><stop offset="0.651" stop-color="#1bffdb"/><stop offset="0.659" stop-color="#0ff8e8"/><stop offset="0.668" stop-color="#00d9ff"/><stop offset="0.684" stop-color="#0073ff"/><stop offset="0.692" stop-color="#0034ff"/><stop offset="0.7" stop-color="#0000ff"/><stop offset="0.708" stop-color="#0000de"/><stop offset="0.716" stop-color="#0000b1"/><stop offset="0.724" stop-color="#000099"/><stop offset="0.741" stop-color="#000080"/><stop offset="1" stop-color="#000080"/></linearGradient>
<linearGradient id="h1_18" gradientUnits="userSpaceOnUse" x1="0" y1="270" x2="0" y2="455"><stop offset="0" stop-color="#ffa900"/><stop offset="0.259" stop-color="#ff5c00"/><stop offset="0.346" stop-color="#ff5100"/><stop offset="0.368" stop-color="#ff5400"/><stop offset="0.411" stop-color="#ff5e00"/><stop offset="0.465" stop-color="#ff8b00"/><stop offset="0.53" stop-color="#ffe900"/><stop offset="0.538" stop-color="#f7f500"/><stop offset="0.546" stop-color="#e9ff0e"/><stop offset="0.57" stop-color="#beff39"/><stop offset="0.603" stop-color="#77ff80"/><stop offset="0.635" stop-color="#3bffbc"/><stop offset="0.659" stop-color="#15ffe2"/><stop offset="0.668" stop-color="#08f0ef"/><stop offset="0.676" stop-color="#00beff"/><stop offset="0.684" stop-color="#008dff"/><stop offset="0.7" stop-color="#0014ff"/><stop offset="0.708" stop-color="#0000f5"/><stop offset="0.724" stop-color="#0000a0"/><stop offset="0.741" stop-color="#000085"/><stop offset="0.749" stop-color="#000080"/><stop offset="1" stop-color="#000080"/></linearGradient>
<linearGradient id="h1_19" gradientUnits="userSpaceOnUse" x1="0" y1="270" x2="0" y2="455"><stop offset="0" stop-color="#ffaa00"/><stop offset="0.259" stop-color="#ff5c00"/><stop offset="0.346" stop-color="#ff5000"/><stop offset="0.368" stop-color="#ff5200"/><stop offset="0.411" stop-color="#ff5c00"/><stop offset="0.465" stop-color="#ff8800"/><stop offset="0.53" stop-color="#ffe500"/><stop offset="0.538" stop-color="#fbf000"/><stop offset="0.546" stop-color="#efff08"/><stop offset="0.57" stop-color="#c4ff33"/><stop offset="0.611" stop-color="#6eff89"/><stop offset="0.659" stop-color="#19ffde"/><stop offset="0.668" stop-color="#0cf5ea"/><stop offset="0.676" stop-color="#00ceff"/><stop offset="0.692" stop-color="#0067ff"/><stop offset="0.7" stop-color="#002aff"/><stop offset="0.708" stop-color="#0000ff"/><stop offset="0.724" stop-color="#0000ab"/><stop offset="0.732" stop-color="#000097"/><stop offset="0.749" stop-color="#000080"/><stop offset="1" stop-color="#000080"/></linearGradient>
<linearGradient id="h1_20" gradientUnits="userSpaceOnUse" x1="0" y1="270" x2="0" y2="455"><stop offset="0" stop-color="#ffad00"/><stop offset="0.151" stop-color="#ff7900"/><stop offset="0.259" stop-color="#ff5c00"/><stop offset="0.346" stop-color="#ff4f00"/><stop offset="0.368" stop-color="#ff5100"/><stop offset="0.411" stop-color="#ff5a00"/><stop offset="0.465" stop-color="#ff8700"/><stop offset="0.538" stop-color="#feee00"/><stop offset="0.546" stop-color="#f2fb05"/><stop offset="0.554" stop-color="#e4ff13"/><stop offset="0.578" stop-color="#b8ff3f"/><stop offset="0.611" stop-color="#71ff86"/><stop offset="0.659" stop-color="#1bffdb"/><stop offset="0.668" stop-color="#0ff8e8"/><stop offset="0.676" stop-color="#00d7ff"/><stop offset="0.692" stop-color="#0072ff"/><stop offset="0.708" stop-color="#0000ff"/><stop offset="0.716" stop-color="#0000e1"/><stop offset="0.724" stop-color="#0000b4"/><stop offset="0.732" stop-color="#00009a"/><stop offset="0.749" stop-color="#000080"/><stop offset="1" stop-color="#000080"/></linearGradient>
<linearGradient id="h1_21" gradientUnits="userSpaceOnUse" x1="0" y1="270" x2="0" y2="455"><stop offset="0" stop-color="#ffb100"/><stop offset="0.151" stop-color="#ff7b00"/><stop offset="0.259" stop-color="#ff5c00"/><stop offset="0.346" stop-color="#ff4f00"/><stop offset="0.368" stop-color="#ff5000"/><stop offset="0.411" stop-color="#ff5a00"/><stop offset="0.465" stop-color="#ff8500"/><stop offset="0.538" stop-color="#ffeb00"/><stop offset="0.546" stop-color="#f6f701"/><stop offset="0.554" stop-color="#e7ff10"/><stop offset="0.578" stop-color="#bcff3b"/><stop offset="0.611" stop-color="#74ff82"/><stop offset="0.659" stop-color="#1effd9"/><stop offset="0.668" stop-color="#11fbe6"/><stop offset="0.676" stop-color="#00e0fb"/><stop offset="0.692" stop-color="#007dff"/><stop offset="0.708" stop-color="#0005ff"/><stop offset="0.716" stop-color="#0000ea"/><stop offset="0.724" stop-color="#0000bd"/><stop offset="0.732" stop-color="#00009d"/><stop offset="0.749" stop-color="#000082"/><stop offset="1" stop-color="#000080"/></linearGradient>
<linearGradient id="h1_22" gradientUnits="userSpaceOnUse" x1="0" y1="270" x2="0" y2="455"><stop offset="0" stop-color="#ffb500"/><stop offset="0.151" stop-color="#ff7d00"/><stop offset="0.259" stop-color="#ff5d00"/><stop offset="0.346" stop-color="#ff4e00"/><stop offset="0.368" stop-color="#ff5000"/><stop offset="0.411" stop-color="#ff5900"/><stop offset="0.465" stop-color="#ff8400"/><stop offset="0.538" stop-color="#ffe900"/><stop offset="0.546" stop-color="#f8f400"/><stop offset="0.554" stop-color="#eaff0c"/><stop offset="0.578" stop-color="#bfff38"/><stop offset="0.611" stop-color="#78ff7f"/><stop offset="0.659" stop-color="#20ffd6"/><stop offset="0.668" stop-color="#13fee3"/><stop offset="0.676" stop-color="#03e9f4"/><stop offset="0.684" stop-color="#00b8ff"/><stop offset="0.692" stop-color="#0086ff"/><stop offset="0.708" stop-color="#0011ff"/><stop offset="0.716" stop-color="#0000f2"/><stop offset="0.732" stop-color="#0000a0"/><stop offset="0.749" stop-color="#000085"/><stop offset="0.757" stop-color="#000080"/><stop offset="1" stop-color="#000080"/></linearGradient>
<linearGradient id="h1_23" gradientUnits="userSpaceOnUse" x1="0" y1="270" x2="0" y2="455"><stop offset="0" stop-color="#ffb500"/><stop offset="0.151" stop-color="#ff7d00"/><stop offset="0.259" stop-color="#ff5d00"/><stop offset="0.368" stop-color="#ff4f00"/><stop offset="0.411" stop-color="#ff5800"/><stop offset="0.465" stop-color="#ff8300"/><stop offset="0.538" stop-color="#ffe700"/><stop offset="0.546" stop-color="#faf200"/><stop offset="0.554" stop-color="#eeff09"/><stop offset="0.578" stop-color="#c3ff34"/><stop offset="0.611" stop-color="#7bff7c"/><stop offset="0.668" stop-color="#16ffe1"/><stop offset="0.676" stop-color="#09f0ee"/><stop offset="0.684" stop-color="#00c1ff"/><stop offset="0.692" stop-color="#008fff"/><stop offset="0.708" stop-color="#001cff"/><stop offset="0.716" stop-color="#0000fb"/><stop offset="0.732" stop-color="#0000a2"/><stop offset="0.757" stop-color="#000080"/><stop offset="1" stop-color="#000080"/></linearGradient>
<linearGradient id="h1_24" gradientUnits="userSpaceOnUse" x1="0" y1="270" x2="0" y2="455"><stop offset="0" stop-color="#ffb100"/><stop offset="0.259" stop-color="#ff5c00"/><stop offset="0.368" stop-color="#ff4e00"/><stop offset="0.411" stop-color="#ff5700"/><stop offset="0.473" stop-color="#ff8800"/><stop offset="0.546" stop-color="#fcef00"/><stop offset="0.554" stop-color="#f1fc06"/><stop offset="0.562" stop-color="#e3ff14"/><stop offset="0.586" stop-color="#b6ff41"/><stop offset="0.619" stop-color="#6fff88"/><stop offset="0.668" stop-color="#18ffdf"/><stop offset="0.676" stop-color="#0bf3ec"/><stop offset="0.684" stop-color="#00caff"/><stop offset="0.7" stop-color="#0063ff"/><stop offset="0.708" stop-color="#0028ff"/><stop offset="0.716" stop-color="#0000ff"/><stop offset="0.732" stop-color="#0000ab"/><stop offset="0.741" stop-color="#000098"/><stop offset="0.757" stop-color="#000080"/><stop offset="1" stop-color="#000080"/></linearGradient>
<linearGradient id="h1_25" gradientUnits="userSpaceOnUse" x1="0" y1="270" x2="0" y2="455"><stop offset="0" stop-color="#ffad00"/><stop offset="0.259" stop-color="#ff5a00"/><stop offset="0.368" stop-color="#ff4c00"/><stop offset="0.411" stop-color="#ff5500"/><stop offset="0.473" stop-color="#ff8600"/><stop offset="0.546" stop-color="#ffed00"/><stop offset="0.554" stop-color="#f5f802"/><stop offset="0.562" stop-color="#e6ff11"/><stop offset="0.586" stop-color="#baff3c"/><stop offset="0.619" stop-color="#72ff84"/><stop offset="0.668" stop-color="#1bffdc"/><stop offset="0.676" stop-color="#0ef6e9"/><stop offset="0.684" stop-color="#00d3ff"/><stop offset="0.7" stop-color="#006eff"/><stop offset="0.716" stop-color="#0000ff"/><stop offset="0.724" stop-color="#0000e1"/><stop offset="0.732" stop-color="#0000b4"/><stop offset="0.741" stop-color="#00009a"/><stop offset="0.757" stop-color="#000080"/><stop offset="1" stop-color="#000080"/></linearGradient>
<linearGradient id="h1_26" gradientUnits="userSpaceOnUse" x1="0" y1="270" x2="0" y2="455"><stop offset="0" stop-color="#ffaa00"/><stop offset="0.259" stop-color="#ff5900"/><stop offset="0.368" stop-color="#ff4b00"/><stop offset="0.411" stop-color="#ff5300"/><stop offset="0.473" stop-color="#ff8400"/><stop offset="0.546" stop-color="#ffea00"/><stop offset="0.554" stop-color="#f8f500"/><stop offset="0.562" stop-color="#eaff0d"/><stop offset="0.586" stop-color="#bfff38"/><stop offset="0.619" stop-color="#76ff81"/><stop offset="0.668" stop-color="#1dffd9"/><stop offset="0.676" stop-color="#10f9e7"/><stop offset="0.684" stop-color="#00dcff"/><stop offset="0.7" stop-color="#0078ff"/><stop offset="0.716" stop-color="#0005ff"/><stop offset="0.724" stop-color="#0000e9"/><stop offset="0.732" stop-color="#0000bd"/><stop offset="0.741" stop-color="#00009d"/><stop offset="0.757" stop-color="#000082"/><stop offset="1" stop-color="#000080"/></linearGradient>
<linearGradient id="h1_27" gradientUnits="userSpaceOnUse" x1="0" y1="270" x2="0" y2="455"><stop offset="0" stop-color="#ffa900"/><stop offset="0.259" stop-color="#ff5800"/><stop offset="0.368" stop-color="#ff4900"/><stop offset="0.411" stop-color="#ff5200"/><stop offset="0.473" stop-color="#ff8200"/><stop offset="0.546" stop-color="#ffe800"/><stop offset="0.554" stop-color="#faf200"/><stop offset="0.562" stop-color="#edff0a"/><stop offset="0.586" stop-color="#c2ff35"/><stop offset="0.619" stop-color="#79ff7d"/><stop offset="0.668" stop-color="#20ffd7"/><stop offset="0.676" stop-color="#13fce4"/><stop offset="0.684" stop-color="#00e4f8"/><stop offset="0.7" stop-color="#0083ff"/><stop offset="0.716" stop-color="#0010ff"/><stop offset="0.724" stop-color="#0000f2"/><stop offset="0.741" stop-color="#0000a0"/><stop offset="0.757" stop-color="#000085"/><stop offset="0.765" stop-color="#000080"/><stop offset="1" stop-color="#000080"/></linearGradient>
<linearGradient id="h1_28" gradientUnits="userSpaceOnUse" x1="0" y1="270" x2="0" y2="455"><stop offset="0" stop-color="#ffa900"/><stop offset="0.259" stop-color="#ff5700"/><stop offset="0.368" stop-color="#ff4800"/><stop offset="0.411" stop-color="#ff5100"/><stop offset="0.473" stop-color="#ff8000"/><stop offset="0.546" stop-color="#ffe500"/><stop offset="0.554" stop-color="#fcf000"/><stop offset="0.562" stop-color="#f1fd06"/><stop offset="0.586" stop-color="#c5ff31"/><stop offset="0.619" stop-color="#7dff7a"/><stop offset="0.651" stop-color="#3effb9"/><stop offset="0.676" stop-color="#15ffe2"/><stop offset="0.684" stop-color="#06edf0"/><stop offset="0.692" stop-color="#00bcff"/><stop offset="0.7" stop-color="#008cff"/><stop offset="0.716" stop-color="#001bff"/><stop offset="0.724" stop-color="#0000fb"/><stop offset="0.741" stop-color="#0000a3"/><stop offset="0.765" stop-color="#000080"/><stop offset="1" stop-color="#000080"/></linearGradient>
<linearGradient id="h1_29" gradientUnits="userSpaceOnUse" x1="0" y1="270" x2="0" y2="455"><stop offset="0" stop-color="#ffaa00"/><stop offset="0.259" stop-color="#ff5600"/><stop offset="0.368" stop-color="#ff4700"/><stop offset="0.411" stop-color="#ff5000"/><stop offset="0.473" stop-color="#ff7f00"/><stop offset="0.554" stop-color="#feed00"/><stop offset="0.562" stop-color="#f4f903"/><stop offset="0.57" stop-color="#e6ff11"/><stop offset="0.595" stop-color="#baff3d"/><stop offset="0.627" stop-color="#71ff86"/><stop offset="0.676" stop-color="#18ffdf"/><stop offset="0.684" stop-color="#0af2ed"/><stop offset="0.692" stop-color="#00c5ff"/><stop offset="0.7" stop-color="#0095ff"/><stop offset="0.716" stop-color="#0026ff"/><stop offset="0.724" stop-color="#0000ff"/><stop offset="0.741" stop-color="#0000ac"/><stop offset="0.749" stop-color="#000098"/><stop offset="0.765" stop-color="#000080"/><stop offset="1" stop-color="#000080"/></linearGradient>
<linearGradient id="h1_30" gradientUnits="userSpaceOnUse" x1="0" y1="270" x2="0" y2="455"><stop offset="0" stop-color="#ffa900"/><stop offset="0.259" stop-color="#ff5600"/><stop offset="0.368" stop-color="#ff4600"/><stop offset="0.411" stop-color="#ff4e00"/><stop offset="0.473" stop-color="#ff7d00"/><stop offset="0.554" stop-color="#ffeb00"/><stop offset="0.562" stop-color="#f7f500"/><stop offset="0.57" stop-color="#e9ff0e"/><stop offset="0.595" stop-color="#bdff39"/><stop offset="0.627" stop-color="#74ff83"/><stop offset="0.676" stop-color="#1affdd"/><stop offset="0.684" stop-color="#0cf5eb"/><stop offset="0.692" stop-color="#00cdff"/><stop offset="0.724" stop-color="#0000ff"/><stop offset="0.732" stop-color="#0000e0"/><stop offset="0.741" stop-color="#0000b4"/><stop offset="0.749" stop-color="#00009a"/><stop offset="0.765" stop-color="#000080"/><stop offset="1" stop-color="#000080"/></linearGradient>
<linearGradient id="h1_31" gradientUnits="userSpaceOnUse" x1="0" y1="270" x2="0" y2="455"><stop offset="0" stop-color="#ffa900"/><stop offset="0.259" stop-color="#ff5600"/><stop offset="0.368" stop-color="#ff4600"/><stop offset="0.411" stop-color="#ff4e00"/><stop offset="0.473" stop-color="#ff7d00"/><stop offset="0.554" stop-color="#ffea00"/><stop offset="0.562" stop-color="#f8f400"/><stop offset="0.57" stop-color="#eaff0d"/><stop offset="0.595" stop-color="#bfff38"/><stop offset="0.627" stop-color="#75ff82"/><stop offset="0.676" stop-color="#1bffdc"/><stop offset="0.684" stop-color="#0df6e9"/><stop offset="0.692" stop-color="#00d1ff"/><stop offset="0.708" stop-color="#006dff"/><stop offset="0.724" stop-color="#0000ff"/><stop offset="0.732" stop-color="#0000e4"/><stop offset="0.741" stop-color="#0000b8"/><stop offset="0.749" stop-color="#00009b"/><stop offset="0.765" stop-color="#000081"/><stop offset="1" stop-color="#000080"/></linearGradient>
<linearGradient id="h1_32" gradientUnits="userSpaceOnUse" x1="0" y1="270" x2="0" y2="455"><stop offset="0" stop-color="#ffa800"/><stop offset="0.259" stop-color="#ff5500"/><stop offset="0.368" stop-color="#ff4500"/><stop offset="0.411" stop-color="#ff4d00"/><stop offset="0.473" stop-color="#ff7c00"/><stop offset="0.554" stop-color="#ffe900"/><stop offset="0.562" stop-color="#f9f300"/><stop offset="0.57" stop-color="#ecff0b"/><stop offset="0.595" stop-color="#c0ff36"/><stop offset="0.627" stop-color="#77ff80"/><stop offset="0.676" stop-color="#1cffdb"/><stop offset="0.684" stop-color="#0ef7e8"/><stop offset="0.692" stop-color="#00d5ff"/><stop offset="0.708" stop-color="#0072ff"/><stop offset="0.724" stop-color="#0003ff"/><stop offset="0.732" stop-color="#0000e7"/><stop offset="0.741" stop-color="#0000bb"/><stop offset="0.749" stop-color="#00009d"/><stop offset="0.765" stop-color="#000082"/><stop offset="1" stop-color="#000080"/></linearGradient>
<linearGradient id="h1_33" gradientUnits="userSpaceOnUse" x1="0" y1="270" x2="0" y2="455"><stop offset="0" stop-color="#ffa800"/><stop offset="0.259" stop-color="#ff5500"/><stop offset="0.368" stop-color="#ff4500"/><stop offset="0.411" stop-color="#ff4d00"/><stop offset="0.473" stop-color="#ff7b00"/><stop offset="0.554" stop-color="#ffe800"/><stop offset="0.562" stop-color="#faf200"/><stop offset="0.57" stop-color="#edff0a"/><stop offset="0.595" stop-color="#c2ff35"/><stop offset="0.627" stop-color="#78ff7f"/><stop offset="0.676" stop-color="#1dffd9"/><stop offset="0.684" stop-color="#10f9e7"/><stop offset="0.692" stop-color="#00d9ff"/><stop offset="0.708" stop-color="#0076ff"/><stop offset="0.724" stop-color="#0006ff"/><stop offset="0.732" stop-color="#0000eb"/><stop offset="0.741" stop-color="#0000bf"/><stop offset="0.749" stop-color="#00009e"/><stop offset="0.765" stop-color="#000083"/><stop offset="1" stop-color="#000080"/></linearGradient>
<linearGradient id="h1_34" gradientUnits="userSpaceOnUse" x1="0" y1="270" x2="0" y2="455"><stop offset="0" stop-color="#ffa800"/><stop offset="0.259" stop-color="#ff5500"/><stop offset="0.368" stop-color="#ff4400"/><stop offset="0.411" stop-color="#ff4c00"/><stop offset="0.473" stop-color="#ff7b00"/><stop offset="0.554" stop-color="#ffe700"/><stop offset="0.562" stop-color="#faf100"/><stop offset="0.57" stop-color="#eeff08"/><stop offset="0.595" stop-color="#c3ff33"/><stop offset="0.627" stop-color="#7aff7d"/><stop offset="0.676" stop-color="#1effd8"/><stop offset="0.684" stop-color="#11fae6"/><stop offset="0.692" stop-color="#00ddfe"/><stop offset="0.708" stop-color="#007bff"/><stop offset="0.724" stop-color="#000bff"/><stop offset="0.732" stop-color="#0000ef"/><stop offset="0.749" stop-color="#00009f"/><stop offset="0.765" stop-color="#000084"/><stop offset="0.773" stop-color="#000080"/><stop offset="1" stop-color="#000080"/></linearGradient>
<linearGradient id="h1_35" gradientUnits="userSpaceOnUse" x1="0" y1="270" x2="0" y2="455"><stop offset="0" stop-color="#ffa800"/><stop offset="0.259" stop-color="#ff5500"/><stop offset="0.368" stop-color="#ff4400"/><stop offset="0.411" stop-color="#ff4c00"/><stop offset="0.473" stop-color="#ff7a00"/><stop offset="0.554" stop-color="#ffe700"/><stop offset="0.57" stop-color="#f0fd07"/><stop offset="0.595" stop-color="#c5ff32"/><stop offset="0.627" stop-color="#7bff7c"/><stop offset="0.676" stop-color="#20ffd7"/><stop offset="0.684" stop-color="#12fbe5"/><stop offset="0.692" stop-color="#00e0fb"/><stop offset="0.708" stop-color="#007fff"/><stop offset="0.724" stop-color="#0010ff"/><stop offset="0.732" stop-color="#0000f3"/><stop offset="0.749" stop-color="#0000a0"/><stop offset="0.765" stop-color="#000086"/><stop offset="0.773" stop-color="#000080"/><stop offset="1" stop-color="#000080"/></linearGradient>
<linearGradient id="h1_36" gradientUnits="userSpaceOnUse" x1="0" y1="270" x2="0" y2="455"><stop offset="0" stop-color="#ffa800"/><stop offset="0.259" stop-color="#ff5400"/><stop offset="0.368" stop-color="#ff4400"/><stop offset="0.411" stop-color="#ff4b00"/><stop offset="0.473" stop-color="#ff7900"/><stop offset="0.554" stop-color="#ffe600"/><stop offset="0.57" stop-color="#f1fc05"/><stop offset="0.595" stop-color="#c6ff31"/><stop offset="0.627" stop-color="#7dff7a"/><stop offset="0.676" stop-color="#21ffd6"/><stop offset="0.684" stop-color="#13fde4"/><stop offset="0.692" stop-color="#00e4f8"/><stop offset="0.708" stop-color="#0083ff"/><stop offset="0.724" stop-color="#0015ff"/><stop offset="0.732" stop-color="#0000f6"/><stop offset="0.749" stop-color="#0000a1"/><stop offset="0.773" stop-color="#000080"/><stop offset="1" stop-color="#000080"/></linearGradient>
<linearGradient id="h1_37" gradientUnits="userSpaceOnUse" x1="0" y1="270" x2="0" y2="455"><stop offset="0" stop-color="#ffa800"/><stop offset="0.259" stop-color="#ff5400"/><stop offset="0.368" stop-color="#ff4300"/><stop offset="0.411" stop-color="#ff4b00"/><stop offset="0.473" stop-color="#ff7900"/><stop offset="0.562" stop-color="#fdee00"/><stop offset="0.57" stop-color="#f3fa04"/><stop offset="0.578" stop-color="#e4ff12"/><stop offset="0.603" stop-color="#b8ff3f"/><stop offset="0.635" stop-color="#6eff88"/><stop offset="0.684" stop-color="#14fee3"/><stop offset="0.692" stop-color="#02e8f5"/><stop offset="0.7" stop-color="#00b7ff"/><stop offset="0.708" stop-color="#0087ff"/><stop offset="0.724" stop-color="#0019ff"/><stop offset="0.732" stop-color="#0000fa"/><stop offset="0.749" stop-color="#0000a3"/><stop offset="0.773" stop-color="#000080"/><stop offset="1" stop-color="#000080"/></linearGradient>
<linearGradient id="h1_38" gradientUnits="userSpaceOnUse" x1="0" y1="270" x2="0" y2="455"><stop offset="0" stop-color="#ffa800"/><stop offset="0.259" stop-color="#ff5400"/><stop offset="0.368" stop-color="#ff4300"/><stop offset="0.411" stop-color="#ff4a00"/><stop offset="0.481" stop-color="#ff7f00"/><stop offset="0.53" stop-color="#ffc700"/><stop offset="0.562" stop-color="#feee00"/><stop offset="0.57" stop-color="#f4f802"/><stop offset="0.578" stop-color="#e6ff11"/><stop offset="0.603" stop-color="#baff3d"/><stop offset="0.635" stop-color="#70ff87"/><stop offset="0.684" stop-color="#15ffe2"/><stop offset="0.692" stop-color="#05ecf2"/><stop offset="0.7" stop-color="#00bbff"/><stop offset="0.724" stop-color="#001eff"/><stop offset="0.732" stop-color="#0000fe"/><stop offset="0.749" stop-color="#0000a6"/><stop offset="0.773" stop-color="#000080"/><stop offset="1" stop-color="#000080"/></linearGradient>
<linearGradient id="h1_39" gradientUnits="userSpaceOnUse" x1="0" y1="270" x2="0" y2="455"><stop offset="0" stop-color="#ffa800"/><stop offset="0.259" stop-color="#ff5400"/><stop offset="0.368" stop-color="#ff4200"/><stop offset="0.411" stop-color="#ff4a00"/><stop offset="0.481" stop-color="#ff7e00"/><stop offset="0.53" stop-color="#ffc600"/><stop offset="0.562" stop-color="#ffed00"/><stop offset="0.57" stop-color="#f6f701"/><stop offset="0.578" stop-color="#e7ff0f"/><stop offset="0.603" stop-color="#bcff3b"/><stop offset="0.635" stop-color="#71ff85"/><stop offset="0.684" stop-color="#16ffe1"/><stop offset="0.692" stop-color="#08f0ef"/><stop offset="0.7" stop-color="#00bfff"/><stop offset="0.724" stop-color="#0023ff"/><stop offset="0.732" stop-color="#0000ff"/><stop offset="0.749" stop-color="#0000aa"/><stop offset="0.757" stop-color="#000097"/><stop offset="0.773" stop-color="#000080"/><stop offset="1" stop-color="#000080"/></linearGradient>
<linearGradient id="h1_40" gradientUnits="userSpaceOnUse" x1="0" y1="270" x2="0" y2="455"><stop offset="0" stop-color="#ffa800"/><stop offset="0.259" stop-color="#ff5300"/><stop offset="0.368" stop-color="#ff4200"/><stop offset="0.411" stop-color="#ff4900"/><stop offset="0.481" stop-color="#ff7d00"/><stop offset="0.53" stop-color="#ffc500"/><stop offset="0.562" stop-color="#ffec00"/><stop offset="0.57" stop-color="#f7f500"/><stop offset="0.578" stop-color="#e9ff0e"/><stop offset="0.603" stop-color="#beff39"/><stop offset="0.635" stop-color="#73ff84"/><stop offset="0.684" stop-color="#17ffdf"/><stop offset="0.692" stop-color="#09f1ed"/><stop offset="0.7" stop-color="#00c3ff"/><stop offset="0.724" stop-color="#0027ff"/><stop offset="0.732" stop-color="#0000ff"/><stop offset="0.749" stop-color="#0000ae"/><stop offset="0.757" stop-color="#000099"/><stop offset="0.773" stop-color="#000080"/><stop offset="1" stop-color="#000080"/></linearGradient>
<linearGradient id="h1_41" gradientUnits="userSpaceOnUse" x1="0" y1="270" x2="0" y2="455"><stop offset="0" stop-color="#ffa800"/><stop offset="0.259" stop-color="#ff5300"/><stop offset="0.368" stop-color="#ff4100"/><stop offset="0.411" stop-color="#ff4900"/><stop offset="0.481" stop-color="#ff7c00"/><stop offset="0.53" stop-color="#ffc400"/><stop offset="0.562" stop-color="#ffeb00"/><stop offset="0.57" stop-color="#f8f400"/><stop offset="0.578" stop-color="#eaff0c"/><stop offset="0.603" stop-color="#bfff38"/><stop offset="0.635" stop-color="#74ff82"/><stop offset="0.684" stop-color="#19ffde"/><stop offset="0.692" stop-color="#0af2ec"/><stop offset="0.7" stop-color="#00c7ff"/><stop offset="0.724" stop-color="#002cff"/><stop offset="0.732" stop-color="#0000ff"/><stop offset="0.741" stop-color="#0000de"/><stop offset="0.749" stop-color="#0000b2"/><stop offset="0.757" stop-color="#00009a"/><stop offset="0.773" stop-color="#000080"/><stop offset="1" stop-color="#000080"/></linearGradient>
<linearGradient id="h1_42" gradientUnits="userSpaceOnUse" x1="0" y1="270" x2="0" y2="455"><stop offset="0" stop-color="#ffa800"/><stop offset="0.259" stop-color="#ff5300"/><stop offset="0.368" stop-color="#ff4100"/><stop offset="0.411" stop-color="#ff4800"/><stop offset="0.481" stop-color="#ff7c00"/><stop offset="0.53" stop-color="#ffc300"/><stop offset="0.562" stop-color="#ffea00"/><stop offset="0.57" stop-color="#f9f300"/><stop offset="0.578" stop-color="#ecff0b"/><stop offset="0.603" stop-color="#c1ff36"/><stop offset="0.635" stop-color="#76ff81"/><stop offset="0.684" stop-color="#1affdd"/><stop offset="0.692" stop-color="#0cf4eb"/><stop offset="0.7" stop-color="#00cbff"/><stop offset="0.732" stop-color="#0000ff"/><stop offset="0.741" stop-color="#0000e1"/><stop offset="0.749" stop-color="#0000b6"/><stop offset="0.757" stop-color="#00009b"/><stop offset="0.773" stop-color="#000081"/><stop offset="1" stop-color="#000080"/></linearGradient>
<linearGradient id="h1_43" gradientUnits="userSpaceOnUse" x1="0" y1="270" x2="0" y2="455"><stop offset="0" stop-color="#ffa800"/><stop offset="0.259" stop-color="#ff5300"/><stop offset="0.368" stop-color="#ff4000"/><stop offset="0.411" stop-color="#ff4800"/><stop offset="0.481" stop-color="#ff7b00"/><stop offset="0.53" stop-color="#ffc200"/><stop offset="0.562" stop-color="#ffe900"/><stop offset="0.57" stop-color="#faf200"/><stop offset="0.578" stop-color="#edff0a"/><stop offset="0.603" stop-color="#c2ff35"/><stop offset="0.635" stop-color="#77ff7f"/><stop offset="0.684" stop-color="#1bffdc"/><stop offset="0.692" stop-color="#0df5ea"/><stop offset="0.7" stop-color="#00ceff"/><stop offset="0.732" stop-color="#0000ff"/><stop offset="0.741" stop-color="#0000e5"/><stop offset="0.749" stop-color="#0000b9"/><stop offset="0.757" stop-color="#00009c"/><stop offset="0.773" stop-color="#000082"/><stop offset="1" stop-color="#000080"/></linearGradient>
<linearGradient id="h1_44" gradientUnits="userSpaceOnUse" x1="0" y1="270" x2="0" y2="455"><stop offset="0" stop-color="#ffa800"/><stop offset="0.259" stop-color="#ff5200"/><stop offset="0.368" stop-color="#ff4000"/><stop offset="0.411" stop-color="#ff4700"/><stop offset="0.481" stop-color="#ff7a00"/><stop offset="0.53" stop-color="#ffc100"/><stop offset="0.562" stop-color="#ffe800"/><stop offset="0.578" stop-color="#effe08"/><stop offset="0.603" stop-color="#c4ff33"/><stop offset="0.635" stop-color="#79ff7d"/><stop offset="0.684" stop-color="#1cffda"/><stop offset="0.692" stop-color="#0ef7e9"/><stop offset="0.7" stop-color="#00d3ff"/><stop offset="0.716" stop-color="#0071ff"/><stop offset="0.732" stop-color="#0005ff"/><stop offset="0.741" stop-color="#0000ea"/><stop offset="0.749" stop-color="#0000be"/><stop offset="0.757" stop-color="#00009e"/><stop offset="0.773" stop-color="#000083"/><stop offset="1" stop-color="#000080"/></linearGradient>
<linearGradient id="h1_45" gradientUnits="userSpaceOnUse" x1="0" y1="270" x2="0" y2="455"><stop offset="0" stop-color="#ffa800"/><stop offset="0.259" stop-color="#ff5200"/><stop offset="0.368" stop-color="#ff3f00"/><stop offset="0.411" stop-color="#ff4700"/><stop offset="0.481" stop-color="#ff7900"/><stop offset="0.53" stop-color="#ffc000"/><stop offset="0.562" stop-color="#ffe700"/><stop offset="0.578" stop-color="#f1fd06"/><stop offset="0.603" stop-color="#c5ff31"/><stop offset="0.635" stop-color="#7bff7c"/><stop offset="0.684" stop-color="#1effd9"/><stop offset="0.692" stop-color="#0ff8e8"/><stop offset="0.7" stop-color="#00d7ff"/><stop offset="0.716" stop-color="#0075ff"/><stop offset="0.732" stop-color="#0009ff"/><stop offset="0.741" stop-color="#0000ee"/><stop offset="0.749" stop-color="#0000c2"/><stop offset="0.757" stop-color="#00009f"/><stop offset="0.773" stop-color="#000084"/><stop offset="0.781" stop-color="#000080"/><stop offset="1" stop-color="#000080"/></linearGradient>
<linearGradient id="h1_46" gradientUnits="userSpaceOnUse" x1="0" y1="270" x2="0" y2="455"><stop offset="0" stop-color="#ffa800"/><stop offset="0.259" stop-color="#ff5200"/><stop offset="0.368" stop-color="#ff3f00"/><stop offset="0.411" stop-color="#ff4600"/><stop offset="0.481" stop-color="#ff7900"/><stop offset="0.53" stop-color="#ffbf00"/><stop offset="0.562" stop-color="#ffe600"/><stop offset="0.578" stop-color="#f2fb05"/><stop offset="0.603" stop-color="#c7ff30"/><stop offset="0.635" stop-color="#7dff7a"/><stop offset="0.684" stop-color="#1fffd8"/><stop offset="0.692" stop-color="#10fae6"/><stop offset="0.7" stop-color="#00dbff"/><stop offset="0.716" stop-color="#007aff"/><stop offset="0.732" stop-color="#000eff"/><stop offset="0.741" stop-color="#0000f2"/><stop offset="0.757" stop-color="#0000a0"/><stop offset="0.773" stop-color="#000086"/><stop offset="0.781" stop-color="#000080"/><stop offset="1" stop-color="#000080"/></linearGradient>
<linearGradient id="h1_47" gradientUnits="userSpaceOnUse" x1="0" y1="270" x2="0" y2="455"><stop offset="0" stop-color="#ffa800"/><stop offset="0.259" stop-color="#ff5200"/><stop offset="0.368" stop-color="#ff3e00"/><stop offset="0.411" stop-color="#ff4600"/><stop offset="0.481" stop-color="#ff7800"/><stop offset="0.538" stop-color="#ffc900"/><stop offset="0.57" stop-color="#fdee00"/><stop offset="0.578" stop-color="#f4f903"/><stop offset="0.603" stop-color="#c8ff2e"/><stop offset="0.635" stop-color="#7fff78"/><stop offset="0.684" stop-color="#20ffd7"/><stop offset="0.692" stop-color="#12fbe5"/><stop offset="0.7" stop-color="#00dffc"/><stop offset="0.716" stop-color="#007eff"/><stop offset="0.732" stop-color="#0013ff"/><stop offset="0.741" stop-color="#0000f6"/><stop offset="0.757" stop-color="#0000a1"/><stop offset="0.781" stop-color="#000080"/><stop offset="1" stop-color="#000080"/></linearGradient>
<linearGradient id="h1_48" gradientUnits="userSpaceOnUse" x1="0" y1="270" x2="0" y2="455"><stop offset="0" stop-color="#ffa900"/><stop offset="0.259" stop-color="#ff5100"/><stop offset="0.368" stop-color="#ff3e00"/><stop offset="0.411" stop-color="#ff4500"/><stop offset="0.481" stop-color="#ff7700"/><stop offset="0.538" stop-color="#ffc900"/><stop offset="0.57" stop-color="#feed00"/><stop offset="0.578" stop-color="#f5f702"/><stop offset="0.586" stop-color="#e7ff10"/><stop offset="0.611" stop-color="#bbff3c"/><stop offset="0.643" stop-color="#6fff87"/><stop offset="0.684" stop-color="#21ffd6"/><stop offset="0.692" stop-color="#13fde4"/><stop offset="0.7" stop-color="#00e3f9"/><stop offset="0.716" stop-color="#0082ff"/><stop offset="0.732" stop-color="#0017ff"/><stop offset="0.741" stop-color="#0000f9"/><stop offset="0.757" stop-color="#0000a2"/><stop offset="0.781" stop-color="#000080"/><stop offset="1" stop-color="#000080"/></linearGradient>
<linearGradient id="h1_49" gradientUnits="userSpaceOnUse" x1="0" y1="270" x2="0" y2="455"><stop offset="0" stop-color="#ffa800"/><stop offset="0.259" stop-color="#ff5100"/><stop offset="0.368" stop-color="#ff3d00"/><stop offset="0.411" stop-color="#ff4500"/><stop offset="0.481" stop-color="#ff7700"/><stop offset="0.538" stop-color="#ffc800"/><stop offset="0.57" stop-color="#ffed00"/><stop offset="0.578" stop-color="#f7f600"/><stop offset="0.586" stop-color="#e8ff0f"/><stop offset="0.611" stop-color="#bdff3a"/><stop offset="0.643" stop-color="#71ff86"/><stop offset="0.692" stop-color="#14fee3"/><stop offset="0.7" stop-color="#01e7f6"/><stop offset="0.708" stop-color="#00b6ff"/><stop offset="0.732" stop-color="#001cff"/><stop offset="0.741" stop-color="#0000fd"/><stop offset="0.757" stop-color="#0000a6"/><stop offset="0.781" stop-color="#000080"/><stop offset="1" stop-color="#000080"/></linearGradient>
<linearGradient id="h1_50" gradientUnits="userSpaceOnUse" x1="0" y1="270" x2="0" y2="455"><stop offset="0" stop-color="#ffa800"/><stop offset="0.259" stop-color="#ff5100"/><stop offset="0.368" stop-color="#ff3d00"/><stop offset="0.411" stop-color="#ff4400"/><stop offset="0.481" stop-color="#ff7600"/><stop offset="0.538" stop-color="#ffc700"/><stop offset="0.57" stop-color="#ffec00"/><stop offset="0.578" stop-color="#f8f500"/><stop offset="0.586" stop-color="#eaff0d"/><stop offset="0.611" stop-color="#bfff38"/><stop offset="0.643" stop-color="#73ff84"/><stop offset="0.692" stop-color="#15ffe2"/><stop offset="0.7" stop-color="#04ebf3"/><stop offset="0.708" stop-color="#00baff"/><stop offset="0.732" stop-color="#0021ff"/><stop offset="0.741" stop-color="#0000ff"/><stop offset="0.757" stop-color="#0000aa"/><stop offset="0.765" stop-color="#000097"/><stop offset="0.781" stop-color="#000080"/><stop offset="1" stop-color="#000080"/></linearGradient>
<linearGradient id="h1_51" gradientUnits="userSpaceOnUse" x1="0" y1="270" x2="0" y2="455"><stop offset="0" stop-color="#ffa800"/><stop offset="0.259" stop-color="#ff5100"/><stop offset="0.368" stop-color="#ff3c00"/><stop offset="0.411" stop-color="#ff4400"/><stop offset="0.481" stop-color="#ff7500"/><stop offset="0.538" stop-color="#ffc600"/><stop offset="0.57" stop-color="#ffeb00"/><stop offset="0.578" stop-color="#f8f400"/><stop offset="0.586" stop-color="#ebff0c"/><stop offset="0.611" stop-color="#c0ff37"/><stop offset="0.643" stop-color="#74ff83"/><stop offset="0.692" stop-color="#16ffe0"/><stop offset="0.7" stop-color="#07eef0"/><stop offset="0.708" stop-color="#00beff"/><stop offset="0.732" stop-color="#0025ff"/><stop offset="0.741" stop-color="#0000ff"/><stop offset="0.757" stop-color="#0000ae"/><stop offset="0.765" stop-color="#000099"/><stop offset="0.781" stop-color="#000080"/><stop offset="1" stop-color="#000080"/></linearGradient>
<linearGradient id="h1_52" gradientUnits="userSpaceOnUse" x1="0" y1="270" x2="0" y2="455"><stop offset="0" stop-color="#ffa800"/><stop offset="0.259" stop-color="#ff5000"/><stop offset="0.368" stop-color="#ff3c00"/><stop offset="0.411" stop-color="#ff4300"/><stop offset="0.481" stop-color="#ff7400"/><stop offset="0.538" stop-color="#ffc600"/><stop offset="0.57" stop-color="#ffea00"/><stop offset="0.578" stop-color="#f9f300"/><stop offset="0.586" stop-color="#edff0a"/><stop offset="0.611" stop-color="#c2ff35"/><stop offset="0.643" stop-color="#76ff81"/><stop offset="0.692" stop-color="#18ffdf"/><stop offset="0.7" stop-color="#09f1ee"/><stop offset="0.708" stop-color="#00c2ff"/><stop offset="0.732" stop-color="#002aff"/><stop offset="0.741" stop-color="#0000ff"/><stop offset="0.749" stop-color="#0000dd"/><stop offset="0.757" stop-color="#0000b2"/><stop offset="0.765" stop-color="#00009a"/><stop offset="0.781" stop-color="#000080"/><stop offset="1" stop-color="#000080"/></linearGradient>
<linearGradient id="h1_53" gradientUnits="userSpaceOnUse" x1="0" y1="270" x2="0" y2="455"><stop offset="0" stop-color="#ffa800"/><stop offset="0.259" stop-color="#ff5000"/><stop offset="0.368" stop-color="#ff3c00"/><stop offset="0.411" stop-color="#ff4300"/><stop offset="0.481" stop-color="#ff7400"/><stop offset="0.538" stop-color="#ffc500"/><stop offset="0.57" stop-color="#ffe900"/><stop offset="0.578" stop-color="#faf200"/><stop offset="0.586" stop-color="#eeff09"/><stop offset="0.611" stop-color="#c3ff34"/><stop offset="0.643" stop-color="#77ff80"/><stop offset="0.692" stop-color="#19ffde"/><stop offset="0.7" stop-color="#0af2ed"/><stop offset="0.708" stop-color="#00c5ff"/><stop offset="0.741" stop-color="#0000ff"/><stop offset="0.749" stop-color="#0000e0"/><stop offset="0.757" stop-color="#0000b5"/><stop offset="0.765" stop-color="#00009b"/><stop offset="0.781" stop-color="#000081"/><stop offset="1" stop-color="#000080"/></linearGradient>
<linearGradient id="h1_54" gradientUnits="userSpaceOnUse" x1="0" y1="270" x2="0" y2="455"><stop offset="0" stop-color="#ffa800"/><stop offset="0.259" stop-color="#ff5000"/><stop offset="0.368" stop-color="#ff3b00"/><stop offset="0.411" stop-color="#ff4200"/><stop offset="0.481" stop-color="#ff7300"/><stop offset="0.538" stop-color="#ffc400"/><stop offset="0.57" stop-color="#ffe800"/><stop offset="0.586" stop-color="#effe07"/><stop offset="0.611" stop-color="#c4ff33"/><stop offset="0.643" stop-color="#79ff7e"/><stop offset="0.692" stop-color="#1affdd"/><stop offset="0.7" stop-color="#0bf3ec"/><stop offset="0.708" stop-color="#00c9ff"/><stop offset="0.741" stop-color="#0000ff"/><stop offset="0.749" stop-color="#0000e4"/><stop offset="0.757" stop-color="#0000b9"/><stop offset="0.765" stop-color="#00009c"/><stop offset="0.781" stop-color="#000082"/><stop offset="1" stop-color="#000080"/></linearGradient>
<linearGradient id="h1_55" gradientUnits="userSpaceOnUse" x1="0" y1="270" x2="0" y2="455"><stop offset="0" stop-color="#ffa800"/><stop offset="0.259" stop-color="#ff5000"/><stop offset="0.368" stop-color="#ff3b00"/><stop offset="0.411" stop-color="#ff4200"/><stop offset="0.481" stop-color="#ff7300"/><stop offset="0.538" stop-color="#ffc300"/><stop offset="0.57" stop-color="#ffe700"/><stop offset="0.586" stop-color="#f1fc06"/><stop offset="0.611" stop-color="#c6ff31"/><stop offset="0.643" stop-color="#7aff7d"/><stop offset="0.692" stop-color="#1bffdc"/><stop offset="0.7" stop-color="#0cf5ea"/><stop offset="0.708" stop-color="#00cdff"/><stop offset="0.741" stop-color="#0003ff"/><stop offset="0.749" stop-color="#0000e8"/><stop offset="0.757" stop-color="#0000bc"/><stop offset="0.765" stop-color="#00009d"/><stop offset="0.781" stop-color="#000083"/><stop offset="1" stop-color="#000080"/></linearGradient>
<linearGradient id="h1_56" gradientUnits="userSpaceOnUse" x1="0" y1="270" x2="0" y2="455"><stop offset="0" stop-color="#ffa800"/><stop offset="0.259" stop-color="#ff4f00"/><stop offset="0.368" stop-color="#ff3a00"/><stop offset="0.411" stop-color="#ff4100"/><stop offset="0.481" stop-color="#ff7200"/><stop offset="0.538" stop-color="#ffc200"/><stop offset="0.57" stop-color="#ffe700"/><stop offset="0.586" stop-color="#f2fb05"/><stop offset="0.611" stop-color="#c7ff30"/><stop offset="0.643" stop-color="#7cff7b"/><stop offset="0.692" stop-color="#1cffdb"/><stop offset="0.7" stop-color="#0df6e9"/><stop offset="0.708" stop-color="#00d1ff"/><stop offset="0.741" stop-color="#0006ff"/><stop offset="0.749" stop-color="#0000ec"/><stop offset="0.757" stop-color="#0000c0"/><stop offset="0.765" stop-color="#00009e"/><stop offset="0.781" stop-color="#000084"/><stop offset="0.789" stop-color="#000080"/><stop offset="1" stop-color="#000080"/></linearGradient>
<linearGradient id="h1_57" gradientUnits="userSpaceOnUse" x1="0" y1="270" x2="0" y2="455"><stop offset="0" stop-color="#ffa800"/><stop offset="0.259" stop-color="#ff4f00"/><stop offset="0.368" stop-color="#ff3a00"/><stop offset="0.411" stop-color="#ff4100"/><stop offset="0.481" stop-color="#ff7200"/><stop offset="0.538" stop-color="#ffc200"/><stop offset="0.578" stop-color="#fcef00"/><stop offset="0.586" stop-color="#f3fa04"/><stop offset="0.595" stop-color="#e4ff12"/><stop offset="0.611" stop-color="#c8ff2f"/><stop offset="0.643" stop-color="#7dff7a"/><stop offset="0.692" stop-color="#1dffda"/><stop offset="0.7" stop-color="#0ef7e8"/><stop offset="0.708" stop-color="#00d4ff"/><stop offset="0.741" stop-color="#000aff"/><stop offset="0.749" stop-color="#0000ef"/><stop offset="0.765" stop-color="#00009f"/><stop offset="0.781" stop-color="#000085"/><stop offset="0.789" stop-color="#000080"/><stop offset="1" stop-color="#000080"/></linearGradient>
<linearGradient id="h1_58" gradientUnits="userSpaceOnUse" x1="0" y1="270" x2="0" y2="455"><stop offset="0" stop-color="#ffa800"/><stop offset="0.259" stop-color="#ff4f00"/><stop offset="0.368" stop-color="#ff3a00"/><stop offset="0.411" stop-color="#ff4100"/><stop offset="0.481" stop-color="#ff7200"/><stop offset="0.538" stop-color="#ffc100"/><stop offset="0.578" stop-color="#fdef00"/><stop offset="0.586" stop-color="#f3f903"/><stop offset="0.611" stop-color="#c8ff2e"/><stop offset="0.643" stop-color="#7eff79"/><stop offset="0.692" stop-color="#1effd9"/><stop offset="0.7" stop-color="#0ff8e8"/><stop offset="0.708" stop-color="#00d7ff"/><stop offset="0.741" stop-color="#000dff"/><stop offset="0.749" stop-color="#0000f2"/><stop offset="0.765" stop-color="#0000a0"/><stop offset="0.781" stop-color="#000086"/><stop offset="0.789" stop-color="#000080"/><stop offset="1" stop-color="#000080"/></linearGradient>
<linearGradient id="h1_59" gradientUnits="userSpaceOnUse" x1="0" y1="270" x2="0" y2="455"><stop offset="0" stop-color="#ffa800"/><stop offset="0.259" stop-color="#ff4f00"/><stop offset="0.368" stop-color="#ff3a00"/><stop offset="0.411" stop-color="#ff4100"/><stop offset="0.481" stop-color="#ff7100"/><stop offset="0.489" stop-color="#ff7900"/><stop offset="0.538" stop-color="#ffc100"/><stop offset="0.578" stop-color="#fdee00"/><stop offset="0.586" stop-color="#f4f903"/><stop offset="0.595" stop-color="#e6ff11"/><stop offset="0.619" stop-color="#baff3d"/><stop offset="0.643" stop-color="#7fff78"/><stop offset="0.692" stop-color="#1fffd8"/><stop offset="0.7" stop-color="#10fae7"/><stop offset="0.708" stop-color="#00daff"/><stop offset="0.724" stop-color="#0079ff"/><stop offset="0.741" stop-color="#0011ff"/><stop offset="0.749" stop-color="#0000f5"/><stop offset="0.765" stop-color="#0000a1"/><stop offset="0.789" stop-color="#000080"/><stop offset="1" stop-color="#000080"/></linearGradient>
<linearGradient id="h1_60" gradientUnits="userSpaceOnUse" x1="0" y1="270" x2="0" y2="455"><stop offset="0" stop-color="#ffa800"/><stop offset="0.259" stop-color="#ff4f00"/><stop offset="0.368" stop-color="#ff3a00"/><stop offset="0.411" stop-color="#ff4100"/><stop offset="0.481" stop-color="#ff7100"/><stop offset="0.489" stop-color="#ff7800"/><stop offset="0.546" stop-color="#ffcb00"/><stop offset="0.578" stop-color="#fdee00"/><stop offset="0.586" stop-color="#f5f802"/><stop offset="0.595" stop-color="#e6ff10"/><stop offset="0.619" stop-color="#bbff3c"/><stop offset="0.643" stop-color="#80ff77"/><stop offset="0.692" stop-color="#20ffd7"/><stop offset="0.7" stop-color="#11fbe6"/><stop offset="0.708" stop-color="#00ddfe"/><stop offset="0.724" stop-color="#007dff"/><stop offset="0.741" stop-color="#0015ff"/><stop offset="0.749" stop-color="#0000f8"/><stop offset="0.765" stop-color="#0000a2"/><stop offset="0.789" stop-color="#000080"/><stop offset="1" stop-color="#000080"/></linearGradient>
<linearGradient id="h1_61" gradientUnits="userSpaceOnUse" x1="0" y1="270" x2="0" y2="455"><stop offset="0" stop-color="#ffa800"/><stop offset="0.259" stop-color="#ff4f00"/><stop offset="0.368" stop-color="#ff3a00"/><stop offset="0.411" stop-color="#ff4100"/><stop offset="0.489" stop-color="#ff7800"/><stop offset="0.538" stop-color="#ffc000"/><stop offset="0.578" stop-color="#feee00"/><stop offset="0.586" stop-color="#f5f701"/><stop offset="0.595" stop-color="#e7ff10"/><stop offset="0.619" stop-color="#bcff3b"/><stop offset="0.651" stop-color="#70ff87"/><stop offset="0.692" stop-color="#21ffd6"/><stop offset="0.7" stop-color="#12fce5"/><stop offset="0.708" stop-color="#00dffc"/><stop offset="0.724" stop-color="#0080ff"/><stop offset="0.741" stop-color="#0018ff"/><stop offset="0.749" stop-color="#0000fb"/><stop offset="0.765" stop-color="#0000a5"/><stop offset="0.789" stop-color="#000080"/><stop offset="1" stop-color="#000080"/></linearGradient>
<linearGradient id="h1_62" gradientUnits="userSpaceOnUse" x1="0" y1="270" x2="0" y2="455"><stop offset="0" stop-color="#ffa800"/><stop offset="0.259" stop-color="#ff4f00"/><stop offset="0.368" stop-color="#ff3a00"/><stop offset="0.411" stop-color="#ff4100"/><stop offset="0.489" stop-color="#ff7700"/><stop offset="0.538" stop-color="#ffbf00"/><stop offset="0.578" stop-color="#feed00"/><stop offset="0.586" stop-color="#f6f601"/><stop offset="0.595" stop-color="#e8ff0f"/><stop offset="0.619" stop-color="#bdff3a"/><stop offset="0.651" stop-color="#71ff86"/><stop offset="0.692" stop-color="#22ffd5"/><stop offset="0.7" stop-color="#13fde4"/><stop offset="0.708" stop-color="#00e2f9"/><stop offset="0.716" stop-color="#00b3ff"/><stop offset="0.741" stop-color="#001cff"/><stop offset="0.749" stop-color="#0000fe"/><stop offset="0.765" stop-color="#0000a8"/><stop offset="0.789" stop-color="#000080"/><stop offset="1" stop-color="#000080"/></linearGradient>
<linearGradient id="h1_63" gradientUnits="userSpaceOnUse" x1="0" y1="270" x2="0" y2="455"><stop offset="0" stop-color="#ffa800"/><stop offset="0.259" stop-color="#ff4f00"/><stop offset="0.368" stop-color="#ff3a00"/><stop offset="0.411" stop-color="#ff4100"/><stop offset="0.489" stop-color="#ff7700"/><stop offset="0.546" stop-color="#ffca00"/><stop offset="0.578" stop-color="#feed00"/><stop offset="0.586" stop-color="#f7f600"/><stop offset="0.595" stop-color="#e8ff0e"/><stop offset="0.619" stop-color="#beff39"/><stop offset="0.651" stop-color="#71ff85"/><stop offset="0.7" stop-color="#14fee3"/><stop offset="0.708" stop-color="#00e5f7"/><stop offset="0.716" stop-color="#00b6ff"/><stop offset="0.741" stop-color="#0020ff"/><stop offset="0.749" stop-color="#0000ff"/><stop offset="0.765" stop-color="#0000ab"/><stop offset="0.773" stop-color="#000098"/><stop offset="0.789" stop-color="#000080"/><stop offset="1" stop-color="#000080"/></linearGradient>
<linearGradient id="h1_64" gradientUnits="userSpaceOnUse" x1="0" y1="270" x2="0" y2="455"><stop offset="0" stop-color="#ffa800"/><stop offset="0.259" stop-color="#ff4f00"/><stop offset="0.368" stop-color="#ff3a00"/><stop offset="0.411" stop-color="#ff4100"/><stop offset="0.489" stop-color="#ff7600"/><stop offset="0.546" stop-color="#ffc900"/><stop offset="0.578" stop-color="#ffec00"/><stop offset="0.586" stop-color="#f7f500"/><stop offset="0.595" stop-color="#e9ff0e"/><stop offset="0.619" stop-color="#beff39"/><stop offset="0.651" stop-color="#72ff85"/><stop offset="0.7" stop-color="#15ffe2"/><stop offset="0.708" stop-color="#02e8f5"/><stop offset="0.716" stop-color="#00b9ff"/><stop offset="0.741" stop-color="#0023ff"/><stop offset="0.749" stop-color="#0000ff"/><stop offset="0.765" stop-color="#0000ae"/><stop offset="0.773" stop-color="#000099"/><stop offset="0.789" stop-color="#000080"/><stop offset="1" stop-color="#000080"/></linearGradient>
<linearGradient id="h1_65" gradientUnits="userSpaceOnUse" x1="0" y1="270" x2="0" y2="455"><stop offset="0" stop-color="#ffa800"/><stop offset="0.259" stop-color="#ff4f00"/><stop offset="0.368" stop-color="#ff3a00"/><stop offset="0.411" stop-color="#ff4100"/><stop offset="0.489" stop-color="#ff7600"/><stop offset="0.546" stop-color="#ffc900"/><stop offset="0.578" stop-color="#ffec00"/><stop offset="0.586" stop-color="#f7f500"/><stop offset="0.595" stop-color="#eaff0d"/><stop offset="0.619" stop-color="#bfff38"/><stop offset="0.651" stop-color="#73ff84"/><stop offset="0.7" stop-color="#15ffe1"/><stop offset="0.708" stop-color="#05ebf2"/><stop offset="0.716" stop-color="#00bcff"/><stop offset="0.741" stop-color="#0027ff"/><stop offset="0.749" stop-color="#0000ff"/><stop offset="0.757" stop-color="#0000dc"/><stop offset="0.765" stop-color="#0000b2"/><stop offset="0.773" stop-color="#00009a"/><stop offset="0.789" stop-color="#000080"/><stop offset="1" stop-color="#000080"/></linearGradient>
<linearGradient id="h1_66" gradientUnits="userSpaceOnUse" x1="0" y1="270" x2="0" y2="455"><stop offset="0" stop-color="#ffa800"/><stop offset="0.259" stop-color="#ff4f00"/><stop offset="0.368" stop-color="#ff3a00"/><stop offset="0.411" stop-color="#ff4100"/><stop offset="0.489" stop-color="#ff7600"/><stop offset="0.546" stop-color="#ffc900"/><stop offset="0.578" stop-color="#ffec00"/><stop offset="0.586" stop-color="#f8f400"/><stop offset="0.595" stop-color="#eaff0c"/><stop offset="0.619" stop-color="#c0ff37"/><stop offset="0.651" stop-color="#74ff83"/><stop offset="0.7" stop-color="#16ffe0"/><stop offset="0.708" stop-color="#07eef0"/><stop offset="0.716" stop-color="#00bfff"/><stop offset="0.741" stop-color="#002aff"/><stop offset="0.749" stop-color="#0000ff"/><stop offset="0.757" stop-color="#0000df"/><stop offset="0.765" stop-color="#0000b5"/><stop offset="0.773" stop-color="#00009b"/><stop offset="0.789" stop-color="#000081"/><stop offset="1" stop-color="#000080"/></linearGradient>
<linearGradient id="h1_67" gradientUnits="userSpaceOnUse" x1="0" y1="270" x2="0" y2="455"><stop offset="0" stop-color="#ffa800"/><stop offset="0.259" stop-color="#ff4f00"/><stop offset="0.368" stop-color="#ff3a00"/><stop offset="0.411" stop-color="#ff4100"/><stop offset="0.489" stop-color="#ff7600"/><stop offset="0.546" stop-color="#ffc800"/><stop offset="0.578" stop-color="#ffeb00"/><stop offset="0.586" stop-color="#f8f400"/><stop offset="0.595" stop-color="#ebff0c"/><stop offset="0.619" stop-color="#c0ff36"/><stop offset="0.651" stop-color="#75ff82"/><stop offset="0.7" stop-color="#17ffe0"/><stop offset="0.708" stop-color="#09f0ee"/><stop offset="0.716" stop-color="#00c2ff"/><stop offset="0.749" stop-color="#0000ff"/><stop offset="0.757" stop-color="#0000e3"/><stop offset="0.765" stop-color="#0000b8"/><stop offset="0.773" stop-color="#00009c"/><stop offset="0.789" stop-color="#000082"/><stop offset="1" stop-color="#000080"/></linearGradient>
<linearGradient id="h1_68" gradientUnits="userSpaceOnUse" x1="0" y1="270" x2="0" y2="455"><stop offset="0" stop-color="#ffa800"/><stop offset="0.259" stop-color="#ff4f00"/><stop offset="0.368" stop-color="#ff3a00"/><stop offset="0.411" stop-color="#ff4100"/><stop offset="0.489" stop-color="#ff7500"/><stop offset="0.546" stop-color="#ffc800"/><stop offset="0.578" stop-color="#ffeb00"/><stop offset="0.586" stop-color="#f8f400"/><stop offset="0.595" stop-color="#ecff0b"/><stop offset="0.619" stop-color="#c1ff36"/><stop offset="0.651" stop-color="#76ff81"/><stop offset="0.7" stop-color="#18ffdf"/><stop offset="0.708" stop-color="#0af1ed"/><stop offset="0.716" stop-color="#00c5ff"/><stop offset="0.749" stop-color="#0000ff"/><stop offset="0.757" stop-color="#0000e6"/><stop offset="0.765" stop-color="#0000bb"/><stop offset="0.773" stop-color="#00009d"/><stop offset="0.789" stop-color="#000083"/><stop offset="1" stop-color="#000080"/></linearGradient>
<linearGradient id="h1_69" gradientUnits="userSpaceOnUse" x1="0" y1="270" x2="0" y2="455"><stop offset="0" stop-color="#ffa800"/><stop offset="0.259" stop-color="#ff4f00"/><stop offset="0.368" stop-color="#ff3a00"/><stop offset="0.411" stop-color="#ff4100"/><stop offset="0.489" stop-color="#ff7500"/><stop offset="0.546" stop-color="#ffc700"/><stop offset="0.578" stop-color="#ffeb00"/><stop offset="0.586" stop-color="#f9f300"/><stop offset="0.595" stop-color="#ecff0a"/><stop offset="0.619" stop-color="#c2ff35"/><stop offset="0.651" stop-color="#77ff80"/><stop offset="0.7" stop-color="#19ffde"/><stop offset="0.708" stop-color="#0af2ec"/><stop offset="0.716" stop-color="#00c8ff"/><stop offset="0.749" stop-color="#0003ff"/><stop offset="0.757" stop-color="#0000e9"/><stop offset="0.765" stop-color="#0000be"/><stop offset="0.773" stop-color="#00009e"/><stop offset="0.789" stop-color="#000084"/><stop offset="0.797" stop-color="#000080"/><stop offset="1" stop-color="#000080"/></linearGradient>
<linearGradient id="h1_70" gradientUnits="userSpaceOnUse" x1="0" y1="270" x2="0" y2="455"><stop offset="0" stop-color="#ffa800"/><stop offset="0.259" stop-color="#ff4f00"/><stop offset="0.368" stop-color="#ff3a00"/><stop offset="0.411" stop-color="#ff4100"/><stop offset="0.489" stop-color="#ff7500"/><stop offset="0.546" stop-color="#ffc700"/><stop offset="0.578" stop-color="#ffea00"/><stop offset="0.586" stop-color="#f9f300"/><stop offset="0.595" stop-color="#edff0a"/><stop offset="0.619" stop-color="#c3ff34"/><stop offset="0.651" stop-color="#78ff7f"/><stop offset="0.7" stop-color="#1affdd"/><stop offset="0.708" stop-color="#0cf4eb"/><stop offset="0.716" stop-color="#00ccff"/><stop offset="0.749" stop-color="#0006ff"/><stop offset="0.757" stop-color="#0000ec"/><stop offset="0.773" stop-color="#00009f"/><stop offset="0.789" stop-color="#000086"/><stop offset="0.797" stop-color="#000080"/><stop offset="1" stop-color="#000080"/></linearGradient>
<linearGradient id="h1_71" gradientUnits="userSpaceOnUse" x1="0" y1="270" x2="0" y2="455"><stop offset="0" stop-color="#ffa800"/><stop offset="0.259" stop-color="#ff4f00"/><stop offset="0.368" stop-color="#ff3a00"/><stop offset="0.411" stop-color="#ff4100"/><stop offset="0.489" stop-color="#ff7500"/><stop offset="0.546" stop-color="#ffc700"/><stop offset="0.578" stop-color="#ffea00"/><stop offset="0.586" stop-color="#faf200"/><stop offset="0.595" stop-color="#eeff09"/><stop offset="0.619" stop-color="#c3ff34"/><stop offset="0.651" stop-color="#79ff7e"/><stop offset="0.7" stop-color="#1bffdc"/><stop offset="0.708" stop-color="#0cf5ea"/><stop offset="0.716" stop-color="#00cfff"/><stop offset="0.749" stop-color="#000aff"/><stop offset="0.757" stop-color="#0000f0"/><stop offset="0.773" stop-color="#0000a0"/><stop offset="0.797" stop-color="#000080"/><stop offset="1" stop-color="#000080"/></linearGradient>
<linearGradient id="h1_72" gradientUnits="userSpaceOnUse" x1="0" y1="270" x2="0" y2="455"><stop offset="0" stop-color="#ffa800"/><stop offset="0.259" stop-color="#ff4f00"/><stop offset="0.368" stop-color="#ff3a00"/><stop offset="0.411" stop-color="#ff4100"/><stop offset="0.489" stop-color="#ff7500"/><stop offset="0.546" stop-color="#ffc600"/><stop offset="0.578" stop-color="#ffe900"/><stop offset="0.586" stop-color="#faf200"/><stop offset="0.595" stop-color="#eeff08"/><stop offset="0.619" stop-color="#c4ff33"/><stop offset="0.651" stop-color="#79ff7d"/><stop offset="0.7" stop-color="#1cffdb"/><stop offset="0.708" stop-color="#0df6e9"/><stop offset="0.716" stop-color="#00d1ff"/><stop offset="0.749" stop-color="#000dff"/><stop offset="0.757" stop-color="#0000f3"/><stop offset="0.773" stop-color="#0000a1"/><stop offset="0.797" stop-color="#000080"/><stop offset="1" stop-color="#000080"/></linearGradient>
<linearGradient id="h1_73" gradientUnits="userSpaceOnUse" x1="0" y1="270" x2="0" y2="455"><stop offset="0" stop-color="#ffa800"/><stop offset="0.259" stop-color="#ff4f00"/><stop offset="0.368" stop-color="#ff3a00"/><stop offset="0.411" stop-color="#ff4100"/><stop offset="0.489" stop-color="#ff7400"/><stop offset="0.546" stop-color="#ffc600"/><stop offset="0.578" stop-color="#ffe900"/><stop offset="0.595" stop-color="#effe08"/><stop offset="0.619" stop-color="#c5ff32"/><stop offset="0.651" stop-color="#7aff7c"/><stop offset="0.7" stop-color="#1dffda"/><stop offset="0.708" stop-color="#0ef7e9"/><stop offset="0.716" stop-color="#00d4ff"/><stop offset="0.749" stop-color="#0011ff"/><stop offset="0.757" stop-color="#0000f6"/><stop offset="0.773" stop-color="#0000a2"/><stop offset="0.797" stop-color="#000080"/><stop offset="1" stop-color="#000080"/></linearGradient>
<linearGradient id="h1_74" gradientUnits="userSpaceOnUse" x1="0" y1="270" x2="0" y2="455"><stop offset="0" stop-color="#ffa800"/><stop offset="0.259" stop-color="#ff4f00"/><stop offset="0.368" stop-color="#ff3a00"/><stop offset="0.411" stop-color="#ff4100"/><stop offset="0.489" stop-color="#ff7400"/><stop offset="0.546" stop-color="#ffc500"/><stop offset="0.578" stop-color="#ffe900"/><stop offset="0.595" stop-color="#f0fe07"/><stop offset="0.619" stop-color="#c5ff31"/><stop offset="0.651" stop-color="#7bff7c"/><stop offset="0.7" stop-color="#1effd9"/><stop offset="0.708" stop-color="#0ff8e8"/><stop offset="0.716" stop-color="#00d7ff"/><stop offset="0.749" stop-color="#0014ff"/><stop offset="0.757" stop-color="#0000f9"/><stop offset="0.773" stop-color="#0000a4"/><stop offset="0.797" stop-color="#000080"/><stop offset="1" stop-color="#000080"/></linearGradient>
<linearGradient id="h1_75" gradientUnits="userSpaceOnUse" x1="0" y1="270" x2="0" y2="455"><stop offset="0" stop-color="#ffa800"/><stop offset="0.259" stop-color="#ff4f00"/><stop offset="0.368" stop-color="#ff3a00"/><stop offset="0.411" stop-color="#ff4100"/><stop offset="0.489" stop-color="#ff7400"/><stop offset="0.546" stop-color="#ffc500"/><stop offset="0.578" stop-color="#ffe800"/><stop offset="0.595" stop-color="#f0fd06"/><stop offset="0.619" stop-color="#c6ff31"/><stop offset="0.651" stop-color="#7cff7b"/><stop offset="0.7" stop-color="#1effd8"/><stop offset="0.708" stop-color="#10f9e7"/><stop offset="0.716" stop-color="#00daff"/><stop offset="0.732" stop-color="#007dff"/><stop offset="0.749" stop-color="#0018ff"/><stop offset="0.757" stop-color="#0000fc"/><stop offset="0.773" stop-color="#0000a7"/><stop offset="0.797" stop-color="#000080"/><stop offset="1" stop-color="#000080"/></linearGradient>
<linearGradient id="h1_76" gradientUnits="userSpaceOnUse" x1="0" y1="270" x2="0" y2="455"><stop offset="0" stop-color="#ffa800"/><stop offset="0.259" stop-color="#ff4f00"/><stop offset="0.368" stop-color="#ff3a00"/><stop offset="0.411" stop-color="#ff4100"/><stop offset="0.489" stop-color="#ff7400"/><stop offset="0.546" stop-color="#ffc400"/><stop offset="0.578" stop-color="#ffe800"/><stop offset="0.595" stop-color="#f1fc06"/><stop offset="0.619" stop-color="#c7ff30"/><stop offset="0.651" stop-color="#7dff7a"/><stop offset="0.7" stop-color="#1fffd7"/><stop offset="0.708" stop-color="#11fae6"/><stop offset="0.716" stop-color="#00ddfe"/><stop offset="0.732" stop-color="#0080ff"/><stop offset="0.749" stop-color="#001bff"/><stop offset="0.757" stop-color="#0000ff"/><stop offset="0.773" stop-color="#0000aa"/><stop offset="0.781" stop-color="#000098"/><stop offset="0.797" stop-color="#000080"/><stop offset="1" stop-color="#000080"/></linearGradient>
<linearGradient id="h1_77" gradientUnits="userSpaceOnUse" x1="0" y1="270" x2="0" y2="455"><stop offset="0" stop-color="#ffa800"/><stop offset="0.259" stop-color="#ff4f00"/><stop offset="0.368" stop-color="#ff3a00"/><stop offset="0.411" stop-color="#ff4100"/><stop offset="0.489" stop-color="#ff7400"/><stop offset="0.546" stop-color="#ffc400"/><stop offset="0.578" stop-color="#ffe700"/><stop offset="0.595" stop-color="#f2fb05"/><stop offset="0.619" stop-color="#c7ff2f"/><stop offset="0.651" stop-color="#7eff78"/><stop offset="0.7" stop-color="#20ffd6"/><stop offset="0.708" stop-color="#12fce5"/><stop offset="0.716" stop-color="#00e1fb"/><stop offset="0.749" stop-color="#0020ff"/><stop offset="0.757" stop-color="#0000ff"/><stop offset="0.773" stop-color="#0000ae"/><stop offset="0.781" stop-color="#000099"/><stop offset="0.797" stop-color="#000080"/><stop offset="1" stop-color="#000080"/></linearGradient>
</defs>
<rect x="200" y="270" width="3" height="185" fill="url(#h1_0)"/>
<rect x="203" y="270" width="3" height="185" fill="url(#h1_1)"/>
<rect x="206" y="270" width="3" height="185" fill="url(#h1_2)"/>
<rect x="209" y="270" width="3" height="185" fill="url(#h1_3)"/>
<rect x="212" y="270" width="3" height="185" fill="url(#h1_4)"/>
<rect x="215" y="270" width="3" height="185" fill="url(#h1_5)"/>
<rect x="218" y="270" width="3" height="185" fill="url(#h1_6)"/>
<rect x="221" y="270" width="3" height="185" fill="url(#h1_7)"/>
<rect x="224" y="270" width="3" height="185" fill="url(#h1_8)"/>
<rect x="227" y="270" width="3" height="185" fill="url(#h1_9)"/>
<rect x="230" y="270" width="3" height="185" fill="url(#h1_10)"/>
<rect x="233" y="270" width="3" height="185" fill="url(#h1_11)"/>
<rect x="236" y="270" width="3" height="185" fill="url(#h1_12)"/>
<rect x="239" y="270" width="3" height="185" fill="url(#h1_13)"/>
<rect x="242" y="270" width="3" height="185" fill="url(#h1_14)"/>
<rect x="245" y="270" width="3" height="185" fill="url(#h1_15)"/>
<rect x="248" y="270" width="3" height="185" fill="url(#h1_16)"/>
<rect x="251" y="270" width="3" height="185" fill="url(#h1_17)"/>
<rect x="254" y="270" width="3" height="185" fill="url(#h1_18)"/>
<rect x="257" y="270" width="3" height="185" fill="url(#h1_19)"/>
<rect x="260" y="270" width="3" height="185" fill="url(#h1_20)"/>
<rect x="263" y="270" width="3" height="185" fill="url(#h1_21)"/>
<rect x="266" y="270" width="3" height="185" fill="url(#h1_22)"/>
<rect x="269" y="270" width="3" height="185" fill="url(#h1_23)"/>
<rect x="272" y="270" width="3" height="185" fill="url(#h1_24)"/>
<rect x="275" y="270" width="3" height="185" fill="url(#h1_25)"/>
<rect x="278" y="270" width="3" height="185" fill="url(#h1_26)"/>
<rect x="281" y="270" width="3" height="185" fill="url(#h1_27)"/>
<rect x="284" y="270" width="3" height="185" fill="url(#h1_28)"/>
<rect x="287" y="270" width="3" height="185" fill="url(#h1_29)"/>
<rect x="290" y="270" width="3" height="185" fill="url(#h1_30)"/>
<rect x="293" y="270" width="3" height="185" fill="url(#h1_31)"/>
<rect x="296" y="270" width="3" height="185" fill="url(#h1_32)"/>
<rect x="299" y="270" width="3" height="185" fill="url(#h1_33)"/>
<rect x="302" y="270" width="3" height="185" fill="url(#h1_34)"/>
<rect x="305" y="270" width="3" height="185" fill="url(#h1_35)"/>
<rect x="308" y="270" width="3" height="185" fill="url(#h1_36)"/>
<rect x="311" y="270" width="3" height="185" fill="url(#h1_37)"/>
<rect x="314" y="270" width="3" height="185" fill="url(#h1_38)"/>
<rect x="317" y="270" width="3" height="185" fill="url(#h1_39)"/>
<rect x="320" y="270" width="3" height="185" fill="url(#h1_40)"/>
<rect x="323" y="270" width="3" height="185" fill="url(#h1_41)"/>
<rect x="326" y="270" width="3" height="185" fill="url(#h1_42)"/>
<rect x="329" y="270" width="6" height="185" fill="url(#h1_43)"/>
<rect x="335" y="270" width="6" height="185" fill="url(#h1_44)"/>
<rect x="341" y="270" width="6" height="185" fill="url(#h1_45)"/>
<rect x="347" y="270" width="6" height="185" fill="url(#h1_46)"/>
<rect x="353" y="270" width="6" height="185" fill="url(#h1_47)"/>
<rect x="359" y="270" width="6" height="185" fill="url(#h1_48)"/>
<rect x="365" y="270" width="6" height="185" fill="url(#h1_49)"/>
<rect x="371" y="270" width="6" height="185" fill="url(#h1_50)"/>
<rect x="377" y="270" width="6" height="185" fill="url(#h1_51)"/>
<rect x="383" y="270" width="9" height="185" fill="url(#h1_52)"/>
<rect x="392" y="270" width="15" height="185" fill="url(#h1_53)"/>
<rect x="407" y="270" width="15" height="185" fill="url(#h1_54)"/>
<rect x="422" y="270" width="15" height="185" fill="url(#h1_55)"/>
<rect x="437" y="270" width="12" height="185" fill="url(#h1_56)"/>
<rect x="449" y="270" width="12" height="185" fill="url(#h1_57)"/>
<rect x="461" y="270" width="12" height="185" fill="url(#h1_58)"/>
<rect x="473" y="270" width="12" height="185" fill="url(#h1_59)"/>
<rect x="485" y="270" width="12" height="185" fill="url(#h1_60)"/>
<rect x="497" y="270" width="12" height="185" fill="url(#h1_61)"/>
<rect x="509" y="270" width="12" height="185" fill="url(#h1_62)"/>
<rect x="521" y="270" width="12" height="185" fill="url(#h1_63)"/>
<rect x="533" y="270" width="12" height="185" fill="url(#h1_64)"/>
<rect x="545" y="270" width="12" height="185" fill="url(#h1_65)"/>
<rect x="557" y="270" width="12" height="185" fill="url(#h1_66)"/>
<rect x="569" y="270" width="12" height="185" fill="url(#h1_67)"/>
<rect x="581" y="270" width="12" height="185" fill="url(#h1_68)"/>
<rect x="593" y="270" width="15" height="185" fill="url(#h1_69)"/>
<rect x="608" y="270" width="12" height="185" fill="url(#h1_70)"/>
<rect x="620" y="270" width="12" height="185" fill="url(#h1_71)"/>
<rect x="632" y="270" width="12" height="185" fill="url(#h1_72)"/>
<rect x="644" y="270" width="12" height="185" fill="url(#h1_73)"/>
<rect x="656" y="270" width="12" height="185" fill="url(#h1_74)"/>
<rect x="668" y="270" width="12" height="185" fill="url(#h1_75)"/>
<rect x="680" y="270" width="15" height="185" fill="url(#h1_76)"/>
<rect x="695" y="270" width="219" height="185" fill="url(#h1_77)"/>
</g>
<line x1="455.6" y1="111" x2="455.6" y2="142.8" stroke="#fff" stroke-width="2.6" stroke-linecap="round"/>
<line x1="656.5" y1="111" x2="656.5" y2="118.8" stroke="#fff" stroke-width="2.4" stroke-linecap="round"/>
<line x1="708.7" y1="111" x2="708.7" y2="136" stroke="#fff" stroke-width="2.2" stroke-linecap="round"/>
<line x1="228.6" y1="111" x2="228.6" y2="120" stroke="#000" stroke-width="4" />
<text xml:space="preserve" x="228.6" y="138.5" font-size="13.89" text-anchor="middle" fill="#000" >M</text>
<line x1="273.27" y1="111" x2="273.27" y2="120" stroke="#f00" stroke-width="4" />
<text xml:space="preserve" x="273.27" y="138.5" font-size="13.89" text-anchor="middle" fill="#f00" >N</text>
<line x1="317.94" y1="111" x2="317.94" y2="120" stroke="#000" stroke-width="4" />
<text xml:space="preserve" x="317.94" y="138.5" font-size="13.89" text-anchor="middle" fill="#000" >M</text>
<line x1="362.61" y1="111" x2="362.61" y2="120" stroke="#f00" stroke-width="4" />
<text xml:space="preserve" x="362.61" y="138.5" font-size="13.89" text-anchor="middle" fill="#f00" >N</text>
<line x1="407.28" y1="111" x2="407.28" y2="120" stroke="#000" stroke-width="4" />
<text xml:space="preserve" x="407.28" y="138.5" font-size="13.89" text-anchor="middle" fill="#000" >M</text>
<line x1="451.95" y1="111" x2="451.95" y2="120" stroke="#f00" stroke-width="4" />
<text xml:space="preserve" x="451.95" y="138.5" font-size="13.89" text-anchor="middle" fill="#f00" >N</text>
<line x1="496.62" y1="111" x2="496.62" y2="120" stroke="#000" stroke-width="4" />
<text xml:space="preserve" x="496.62" y="138.5" font-size="13.89" text-anchor="middle" fill="#000" >M</text>
<line x1="541.29" y1="111" x2="541.29" y2="120" stroke="#f00" stroke-width="4" />
<text xml:space="preserve" x="541.29" y="138.5" font-size="13.89" text-anchor="middle" fill="#f00" >N</text>
<line x1="585.96" y1="111" x2="585.96" y2="120" stroke="#000" stroke-width="4" />
<text xml:space="preserve" x="585.96" y="138.5" font-size="13.89" text-anchor="middle" fill="#000" >M</text>
<line x1="630.63" y1="111" x2="630.63" y2="120" stroke="#f00" stroke-width="4" />
<text xml:space="preserve" x="630.63" y="138.5" font-size="13.89" text-anchor="middle" fill="#f00" >N</text>
<line x1="675.3" y1="111" x2="675.3" y2="120" stroke="#000" stroke-width="4" />
<text xml:space="preserve" x="675.3" y="138.5" font-size="13.89" text-anchor="middle" fill="#000" >M</text>
<line x1="719.97" y1="111" x2="719.97" y2="120" stroke="#f00" stroke-width="4" />
<text xml:space="preserve" x="719.97" y="138.5" font-size="13.89" text-anchor="middle" fill="#f00" >N</text>
<line x1="764.64" y1="111" x2="764.64" y2="120" stroke="#000" stroke-width="4" />
<text xml:space="preserve" x="764.64" y="138.5" font-size="13.89" text-anchor="middle" fill="#000" >M</text>
<line x1="809.31" y1="111" x2="809.31" y2="120" stroke="#f00" stroke-width="4" />
<text xml:space="preserve" x="809.31" y="138.5" font-size="13.89" text-anchor="middle" fill="#f00" >N</text>
<text xml:space="preserve" x="0" y="0" transform="translate(888 425.6) rotate(-90)" font-size="64" text-anchor="start" fill="#000" opacity="0.1">Forecast</text>
<path d="M200 219.5 201.5 218.25 203 217.52 204.5 217.28 206 217.2 207.5 216.9 209 215.99 210.5 214.26 212 211.91 213.5 209.18 215 206.33 216.5 203.59 218 201.22 219.5 199.43 221 198.46 222.5 198.46 224 199.16 225.5 200.1 227 200.84 228.5 200.95 230 200.37 231.5 199.46 233 198.61 234.5 198.19 236 198.52 237.5 199.67 239 201.67 240.5 204.47 242 207.68 243.5 210.72 245 213.08 246.5 214.64 248 215.54 249.5 215.92 251 216.01 252.5 216.11 254 216.53 255.5 217.58 257 219.29 258.5 221.4 260 223.64 261.5 225.75 263 227.57 264.5 229.09 266 230.29 267.5 231.17 269 231.74 270.5 232.1 272 232.34 273.5 232.53 275 232.75 276.5 232.9 278 232.77 279.5 232.15 281 230.85 282.5 228.95 284 226.7 285.5 224.36 287 222.17 288.5 220.29 290 218.81 291.5 217.81 293 217.36 294.5 217.25 296 217.1 297.5 216.54 299 215.22 300.5 213.15 302 210.58 303.5 207.75 305 204.93 306.5 202.35 308 200.23 309.5 198.82 311 198.34 312.5 198.75 314 199.62 315.5 200.52 317 201 318.5 200.72 320 199.93 321.5 199.01 323 198.32 324.5 198.26 326 198.99 327.5 200.56 329 202.99 330.5 206.06 332 209.25 333.5 212.01 335 213.95 336.5 215.17 338 215.79 339.5 215.99 341 216.04 342.5 216.26 344 216.96 345.5 218.37 347 220.31 348.5 222.52 350 224.73 351.5 226.7 353 228.37 354.5 229.73 356 230.77 357.5 231.48 359 231.94 360.5 232.23 362 232.43 363.5 232.64 365 232.85 366.5 232.89 368 232.54 369.5 231.59 371 229.96 372.5 227.85 374 225.52 375.5 223.23 377 221.19 378.5 219.5 380 218.25 381.5 217.52 383 217.28 384.5 217.2 386 216.9 387.5 215.99 389 214.26 390.5 211.91 392 209.18 393.5 206.33 395 203.59 396.5 201.22 398 199.43 399.5 198.46 401 198.46 402.5 199.16 404 200.1 405.5 200.84 407 200.95 408.5 200.37 410 199.46 411.5 198.61 413 198.19 414.5 198.52 416 199.67 417.5 201.67 419 204.47 420.5 207.68 422 210.72 423.5 213.08 425 214.64 426.5 215.54 428 215.92 429.5 216.01 431 216.11 432.5 216.53 434 217.58 435.5 219.29 437 221.4 438.5 223.64 440 225.75 441.5 227.57 443 229.09 444.5 230.29 446 231.17 447.5 231.74 449 232.1 450.5 232.34 452 232.53 453.5 232.75 455 232.9 456.5 232.77 458 232.15 459.5 230.85 461 228.95 462.5 226.7 464 224.36 465.5 222.17 467 220.29 468.5 218.81 470 217.81 471.5 217.36 473 217.25 474.5 217.1 476 216.54 477.5 215.22 479 213.15 480.5 210.58 482 207.75 483.5 204.93 485 202.35 486.5 200.23 488 198.82 489.5 198.34 491 198.75 492.5 199.62 494 200.52 495.5 201 497 200.72 498.5 199.93 500 199.01 501.5 198.32 503 198.26 504.5 198.99 506 200.56 507.5 202.99 509 206.06 510.5 209.25 512 212.01 513.5 213.95 515 215.17 516.5 215.79 518 215.99 519.5 216.04 521 216.26 522.5 216.96 524 218.37 525.5 220.31 527 222.52 528.5 224.73 530 226.7 531.5 228.37 533 229.73 534.5 230.77 536 231.48 537.5 231.94 539 232.23 540.5 232.43 542 232.64 543.5 232.85 545 232.89 546.5 232.54 548 231.59 549.5 229.96 551 227.85 552.5 225.52 554 223.23 555.5 221.19 557 219.5 558.5 218.25 560 217.52 561.5 217.28 563 217.2 564.5 216.9 566 215.99 567.5 214.26 569 211.91 570.5 209.18 572 206.33 573.5 203.59 575 201.22 576.5 199.43 578 198.46 579.5 198.46 581 199.16 582.5 200.1 584 200.84 585.5 200.95 587 200.37 588.5 199.46 590 198.61 591.5 198.19 593 198.52 594.5 199.67 596 201.67 597.5 204.47 599 207.68 600.5 210.72 602 213.08 603.5 214.64 605 215.54 606.5 215.92 608 216.01 609.5 216.11 611 216.53 612.5 217.58 614 219.29 615.5 221.4 617 223.64 618.5 225.75 620 227.57 621.5 229.09 623 230.29 624.5 231.17 626 231.74 627.5 232.1 629 232.34 630.5 232.53 632 232.75 633.5 232.9 635 232.77 636.5 232.15 638 230.85 639.5 228.95 641 226.7 642.5 224.36 644 222.17 645.5 220.29 647 218.81 648.5 217.81 650 217.36 651.5 217.25 653 217.1 654.5 216.54 656 215.22 657.5 213.15 659 210.58 660.5 207.75 662 204.93 663.5 202.35 665 200.23 666.5 198.82 668 198.34 669.5 198.75 671 199.62 672.5 200.52 674 201 675.5 200.72 677 199.93 678.5 199.01 680 198.32 681.5 198.26 683 198.99 684.5 200.56 686 202.99 687.5 206.06 689 209.25 690.5 212.01 692 213.95 693.5 215.17 695 215.79 696.5 215.99 698 216.04 699.5 216.26 701 216.96 702.5 218.37 704 220.31 705.5 222.52 707 224.73 708.5 226.7 710 228.37 711.5 229.73 713 230.77 714.5 231.48 716 231.94 717.5 232.23 719 232.43 720.5 232.64 722 232.85 723.5 232.89 725 232.54 726.5 231.59 728 229.96 729.5 227.85 731 225.52 732.5 223.23 734 221.19 735.5 219.5 737 218.25 738.5 217.52 740 217.28 741.5 217.2 743 216.9 744.5 215.99 746 214.26 747.5 211.91 749 209.18 750.5 206.33 752 203.59 753.5 201.22 755 199.43 756.5 198.46 758 198.46 759.5 199.16 761 200.1 762.5 200.84 764 200.95 765.5 200.37 767 199.46 768.5 198.61 770 198.19 771.5 198.52 773 199.67 774.5 201.67 776 204.47 777.5 207.68 779 210.72 780.5 213.08 782 214.64 783.5 215.54 785 215.92 786.5 216.01 788 216.11 789.5 216.53 791 217.58 792.5 219.29 794 221.4 795.5 223.64 797 225.75 798.5 227.57 800 229.09 801.5 230.29 803 231.17 804.5 231.74 806 232.1 807.5 232.34 809 232.53 810.5 232.75 812 232.9 813.5 232.77 815 232.15 816.5 230.85 818 228.95 819.5 226.7 821 224.36 822.5 222.17 824 220.29 825.5 218.81 827 217.81 828.5 217.36 830 217.25 831.5 217.1 833 216.54 834.5 215.22 836 213.15 837.5 210.58 839 207.75 840.5 204.93 842 202.35 843.5 200.23 845 198.82 846.5 198.34 848 198.75 849.5 199.62 851 200.52 852.5 201 854 200.72 855.5 199.93 857 199.01 858.5 198.32 860 198.26 861.5 198.99 863 200.56 864.5 202.99 866 206.06 867.5 209.25 869 212.01 870.5 213.95 872 215.17 873.5 215.79 875 215.99 876.5 216.04 878 216.26 879.5 216.96 881 218.37 882.5 220.31 884 222.52 885.5 224.73 887 226.7 888.5 228.37 890 229.73 891.5 230.77 893 231.48 894.5 231.94 896 232.23 897.5 232.43 899 232.64 900.5 232.85 902 232.89 903.5 232.54 905 231.59 906.5 229.96 908 227.85 909.5 225.52 911 223.23 912.5 221.19 914 219.5" fill="none" stroke="#000" stroke-width="2.5" stroke-dasharray="7.4 3.4"/>
<line x1="825" y1="110" x2="825" y2="455" stroke="#1f77b4" stroke-width="2" stroke-dasharray="2.08 3.44"/>
<rect x="200" y="110" width="714" height="345" fill="none" stroke="#000" stroke-width="2"/>
<line x1="248.5" y1="455" x2="248.5" y2="450" stroke="#000" stroke-width="1.2" />
<line x1="337.5" y1="455" x2="337.5" y2="450" stroke="#000" stroke-width="1.2" />
<line x1="427.5" y1="455" x2="427.5" y2="450" stroke="#000" stroke-width="1.2" />
<line x1="516.5" y1="455" x2="516.5" y2="450" stroke="#000" stroke-width="1.2" />
<line x1="605.5" y1="455" x2="605.5" y2="450" stroke="#000" stroke-width="1.2" />
<line x1="694.5" y1="455" x2="694.5" y2="450" stroke="#000" stroke-width="1.2" />
<line x1="784.5" y1="455" x2="784.5" y2="450" stroke="#000" stroke-width="1.2" />
<line x1="873.5" y1="455" x2="873.5" y2="450" stroke="#000" stroke-width="1.2" />
<line x1="200" y1="455.5" x2="205.8" y2="455.5" stroke="#000" stroke-width="1.2" />
<line x1="914" y1="455.5" x2="909" y2="455.5" stroke="#000" stroke-width="1.2" />
<text xml:space="preserve" x="195" y="462.1" font-size="19.44" text-anchor="end" fill="#000" >2</text>
<line x1="200" y1="397.5" x2="205.8" y2="397.5" stroke="#000" stroke-width="1.2" />
<line x1="914" y1="397.5" x2="909" y2="397.5" stroke="#000" stroke-width="1.2" />
<text xml:space="preserve" x="195" y="404.6" font-size="19.44" text-anchor="end" fill="#000" >3</text>
<line x1="200" y1="340.5" x2="205.8" y2="340.5" stroke="#000" stroke-width="1.2" />
<line x1="914" y1="340.5" x2="909" y2="340.5" stroke="#000" stroke-width="1.2" />
<text xml:space="preserve" x="195" y="347.1" font-size="19.44" text-anchor="end" fill="#000" >4</text>
<line x1="200" y1="282.5" x2="205.8" y2="282.5" stroke="#000" stroke-width="1.2" />
<line x1="914" y1="282.5" x2="909" y2="282.5" stroke="#000" stroke-width="1.2" />
<text xml:space="preserve" x="195" y="289.6" font-size="19.44" text-anchor="end" fill="#000" >5</text>
<line x1="200" y1="225.5" x2="205.8" y2="225.5" stroke="#000" stroke-width="1.2" />
<line x1="914" y1="225.5" x2="909" y2="225.5" stroke="#000" stroke-width="1.2" />
<text xml:space="preserve" x="195" y="232.1" font-size="19.44" text-anchor="end" fill="#000" >6</text>
<line x1="200" y1="167.5" x2="205.8" y2="167.5" stroke="#000" stroke-width="1.2" />
<line x1="914" y1="167.5" x2="909" y2="167.5" stroke="#000" stroke-width="1.2" />
<text xml:space="preserve" x="195" y="174.6" font-size="19.44" text-anchor="end" fill="#000" >7</text>
<line x1="200" y1="110.5" x2="205.8" y2="110.5" stroke="#000" stroke-width="1.2" />
<line x1="914" y1="110.5" x2="909" y2="110.5" stroke="#000" stroke-width="1.2" />
<text xml:space="preserve" x="195" y="117.1" font-size="19.44" text-anchor="end" fill="#000" >8</text>
<text xml:space="preserve" x="0" y="0" transform="translate(173 285.5) rotate(-90)" font-size="24" text-anchor="middle" fill="#000" >L*</text>
<text xml:space="preserve" x="204" y="93" font-size="24" text-anchor="start" fill="#000" >&gt;2.0 MeV Electron Flux at 88<tspan dy="-9" dx="3" font-size="16.8">∘</tspan><tspan dy="9" dx="4.5"> pitch angle ( cm</tspan><tspan dy="-9" font-size="16.8">−2</tspan><tspan dy="9" dx="5">s</tspan><tspan dy="-9" font-size="16.8">−1</tspan><tspan dy="9" dx="5">sr</tspan><tspan dy="-9" font-size="16.8">−1</tspan><tspan dy="9"> )</tspan></text>
<defs><linearGradient id="cb" x1="0" y1="1" x2="0" y2="0">
<stop offset="0" stop-color="#000080"/>
<stop offset="0.11" stop-color="#0000ff"/>
<stop offset="0.12" stop-color="#0000ff"/>
<stop offset="0.34" stop-color="#00dcfe"/>
<stop offset="0.35" stop-color="#03e4f4"/>
<stop offset="0.38" stop-color="#16ffe1"/>
<stop offset="0.5" stop-color="#7dff7a"/>
<stop offset="0.62" stop-color="#e4ff13"/>
<stop offset="0.64" stop-color="#f1fc06"/>
<stop offset="0.65" stop-color="#f8f500"/>
<stop offset="0.66" stop-color="#ffe600"/>
<stop offset="0.88" stop-color="#ff1e00"/>
<stop offset="0.89" stop-color="#ff1300"/>
<stop offset="0.91" stop-color="#f10800"/>
<stop offset="1" stop-color="#800000"/>
</linearGradient></defs>
<rect x="959" y="110" width="17" height="345" fill="url(#cb)" stroke="#000" stroke-width="2"/>
<line x1="976" y1="455.5" x2="981.6" y2="455.5" stroke="#000" stroke-width="1.2" />
<text xml:space="preserve" x="987" y="462.9" font-size="19.44" text-anchor="start" fill="#000" >10<tspan dy="-7.1" font-size="13.61">0</tspan></text>
<line x1="976" y1="437.5" x2="981.4" y2="437.5" stroke="#000" stroke-width="1" />
<line x1="976" y1="427.5" x2="981.4" y2="427.5" stroke="#000" stroke-width="1" />
<line x1="976" y1="420.5" x2="981.4" y2="420.5" stroke="#000" stroke-width="1" />
<line x1="976" y1="414.5" x2="981.4" y2="414.5" stroke="#000" stroke-width="1" />
<line x1="976" y1="410.5" x2="981.4" y2="410.5" stroke="#000" stroke-width="1" />
<line x1="976" y1="406.5" x2="981.4" y2="406.5" stroke="#000" stroke-width="1" />
<line x1="976" y1="403.5" x2="981.4" y2="403.5" stroke="#000" stroke-width="1" />
<line x1="976" y1="400.5" x2="981.4" y2="400.5" stroke="#000" stroke-width="1" />
<line x1="976" y1="397.5" x2="981.6" y2="397.5" stroke="#000" stroke-width="1.2" />
<text xml:space="preserve" x="987" y="405.4" font-size="19.44" text-anchor="start" fill="#000" >10<tspan dy="-7.1" font-size="13.61">1</tspan></text>
<line x1="976" y1="380.5" x2="981.4" y2="380.5" stroke="#000" stroke-width="1" />
<line x1="976" y1="370.5" x2="981.4" y2="370.5" stroke="#000" stroke-width="1" />
<line x1="976" y1="362.5" x2="981.4" y2="362.5" stroke="#000" stroke-width="1" />
<line x1="976" y1="357.5" x2="981.4" y2="357.5" stroke="#000" stroke-width="1" />
<line x1="976" y1="352.5" x2="981.4" y2="352.5" stroke="#000" stroke-width="1" />
<line x1="976" y1="348.5" x2="981.4" y2="348.5" stroke="#000" stroke-width="1" />
<line x1="976" y1="345.5" x2="981.4" y2="345.5" stroke="#000" stroke-width="1" />
<line x1="976" y1="342.5" x2="981.4" y2="342.5" stroke="#000" stroke-width="1" />
<line x1="976" y1="340.5" x2="981.6" y2="340.5" stroke="#000" stroke-width="1.2" />
<text xml:space="preserve" x="987" y="347.9" font-size="19.44" text-anchor="start" fill="#000" >10<tspan dy="-7.1" font-size="13.61">2</tspan></text>
<line x1="976" y1="322.5" x2="981.4" y2="322.5" stroke="#000" stroke-width="1" />
<line x1="976" y1="312.5" x2="981.4" y2="312.5" stroke="#000" stroke-width="1" />
<line x1="976" y1="305.5" x2="981.4" y2="305.5" stroke="#000" stroke-width="1" />
<line x1="976" y1="299.5" x2="981.4" y2="299.5" stroke="#000" stroke-width="1" />
<line x1="976" y1="295.5" x2="981.4" y2="295.5" stroke="#000" stroke-width="1" />
<line x1="976" y1="291.5" x2="981.4" y2="291.5" stroke="#000" stroke-width="1" />
<line x1="976" y1="288.5" x2="981.4" y2="288.5" stroke="#000" stroke-width="1" />
<line x1="976" y1="285.5" x2="981.4" y2="285.5" stroke="#000" stroke-width="1" />
<line x1="976" y1="282.5" x2="981.6" y2="282.5" stroke="#000" stroke-width="1.2" />
<text xml:space="preserve" x="987" y="290.4" font-size="19.44" text-anchor="start" fill="#000" >10<tspan dy="-7.1" font-size="13.61">3</tspan></text>
<line x1="976" y1="265.5" x2="981.4" y2="265.5" stroke="#000" stroke-width="1" />
<line x1="976" y1="255.5" x2="981.4" y2="255.5" stroke="#000" stroke-width="1" />
<line x1="976" y1="247.5" x2="981.4" y2="247.5" stroke="#000" stroke-width="1" />
<line x1="976" y1="242.5" x2="981.4" y2="242.5" stroke="#000" stroke-width="1" />
<line x1="976" y1="237.5" x2="981.4" y2="237.5" stroke="#000" stroke-width="1" />
<line x1="976" y1="233.5" x2="981.4" y2="233.5" stroke="#000" stroke-width="1" />
<line x1="976" y1="230.5" x2="981.4" y2="230.5" stroke="#000" stroke-width="1" />
<line x1="976" y1="227.5" x2="981.4" y2="227.5" stroke="#000" stroke-width="1" />
<line x1="976" y1="225.5" x2="981.6" y2="225.5" stroke="#000" stroke-width="1.2" />
<text xml:space="preserve" x="987" y="232.9" font-size="19.44" text-anchor="start" fill="#000" >10<tspan dy="-7.1" font-size="13.61">4</tspan></text>
<line x1="976" y1="207.5" x2="981.4" y2="207.5" stroke="#000" stroke-width="1" />
<line x1="976" y1="197.5" x2="981.4" y2="197.5" stroke="#000" stroke-width="1" />
<line x1="976" y1="190.5" x2="981.4" y2="190.5" stroke="#000" stroke-width="1" />
<line x1="976" y1="184.5" x2="981.4" y2="184.5" stroke="#000" stroke-width="1" />
<line x1="976" y1="180.5" x2="981.4" y2="180.5" stroke="#000" stroke-width="1" />
<line x1="976" y1="176.5" x2="981.4" y2="176.5" stroke="#000" stroke-width="1" />
<line x1="976" y1="173.5" x2="981.4" y2="173.5" stroke="#000" stroke-width="1" />
<line x1="976" y1="170.5" x2="981.4" y2="170.5" stroke="#000" stroke-width="1" />
<line x1="976" y1="167.5" x2="981.6" y2="167.5" stroke="#000" stroke-width="1.2" />
<text xml:space="preserve" x="987" y="175.4" font-size="19.44" text-anchor="start" fill="#000" >10<tspan dy="-7.1" font-size="13.61">5</tspan></text>
<line x1="976" y1="150.5" x2="981.4" y2="150.5" stroke="#000" stroke-width="1" />
<line x1="976" y1="140.5" x2="981.4" y2="140.5" stroke="#000" stroke-width="1" />
<line x1="976" y1="132.5" x2="981.4" y2="132.5" stroke="#000" stroke-width="1" />
<line x1="976" y1="127.5" x2="981.4" y2="127.5" stroke="#000" stroke-width="1" />
<line x1="976" y1="122.5" x2="981.4" y2="122.5" stroke="#000" stroke-width="1" />
<line x1="976" y1="118.5" x2="981.4" y2="118.5" stroke="#000" stroke-width="1" />
<line x1="976" y1="115.5" x2="981.4" y2="115.5" stroke="#000" stroke-width="1" />
<line x1="976" y1="112.5" x2="981.4" y2="112.5" stroke="#000" stroke-width="1" />
<line x1="976" y1="110.5" x2="981.6" y2="110.5" stroke="#000" stroke-width="1.2" />
<text xml:space="preserve" x="987" y="117.9" font-size="19.44" text-anchor="start" fill="#000" >10<tspan dy="-7.1" font-size="13.61">6</tspan></text>
</g>
<g id="p2">
<rect x="825" y="478" width="89" height="344" fill="#d3d3d3" />
<text xml:space="preserve" x="0" y="0" transform="translate(888.6 792.2) rotate(-90)" font-size="64" text-anchor="start" fill="#000" opacity="0.1">Forecast</text>
<clipPath id="c2"><rect x="200" y="478" width="714" height="344"/></clipPath>
<g clip-path="url(#c2)">
<path d="M200.36 601.83 201.06 601.38 201.76 599.91 202.46 600.07 203.16 598.81 203.64 598.31 203.86 598.39 204.56 599.54 205.26 599.93 205.96 599.71 206.66 601.13 207.36 601.3 208 601.89 208.06 602.17 208.76 603.23 209.46 605.96 210.16 607.27 210.84 609.75 210.86 610.45 211.56 623.52 212.26 635.96 212.36 638.93 212.96 629.2 213.66 616.64 213.89 614.29 214.36 614.81 215.06 616.81 215.76 615.8 216.07 617.46 216.46 619.66 217.16 626.73 217.82 633.62 217.86 633.61 218.56 632.8 219.26 635.68 219.96 639.35 220.66 642.37 221.09 641.39 221.36 641.47 222.06 644.43 222.76 643.94 223.27 646.73 223.46 644.39 224.16 643.86 224.36 643.23 224.86 658.85 225.45 674.76 225.56 673.62 226.26 651.21 226.55 643.56 226.96 650.51 227.66 657.5 228.07 666.2 228.36 672.05 229.06 684.63 229.38 692.46 229.76 680.6 230.46 666.91 230.91 655.47 231.16 656.18 231.86 660.5 232 657.6 232.56 652.71 233.26 645.76 233.53 644.47 233.96 642.18 234.66 642.93 235.27 639.79 235.36 640.35 236.06 643.79 236.36 642.57 236.76 665.27 237.46 707.54 238.11 741.41 238.16 738.34 238.86 670.58 239.2 638.62 239.56 639 240.26 638.83 240.29 637.71 240.96 702 241.16 723.63 241.66 689.95 242.36 652.24 242.47 646.16 243.06 644.63 243.76 636.81 244.46 630.94 245.09 628.24 245.16 627.7 245.86 626.5 246.56 625.22 247.26 623.83 247.96 621.95 248.36 621.69 248.66 621.13 249.36 618.57 250.06 617.08 250.55 615.79 250.76 615.11 251.46 611.9 252.16 608.31 252.86 604.76 253.16 602.89 253.56 604.79 254.26 605.54 254.91 607.28 254.96 607.04 255.66 606.95 256.36 606.4 257.06 607.4 257.09 606.26 257.76 603.96 258.46 603.37 258.84 602.68 259.16 607.73 259.86 617.4 260.56 625.18 260.58 625.98 261.26 616.2 261.96 606.88 262.55 598.81 262.66 598.14 263.36 596.29 264.06 595.87 264.76 594.37 265.46 593.05 265.82 592.15 266.16 591.54 266.86 590.67 267.56 591.94 268.26 590.98 268.96 590.35 269.09 590.73 269.66 589.47 270.36 586.55 271.06 584.16 271.27 583.4 271.76 580.73 272.46 577.35 273.16 574.34 273.46 573.29 273.86 574.74 274.56 576.89 275.26 579.8 275.64 581.02 275.96 580.67 276.66 580.23 277.36 579.8 278.06 579.07 278.47 577.84 278.76 581.04 279.46 588.18 280 594.33 280.16 595.6 280.86 597.34 281.56 600.82 282.18 602.86 282.26 604.92 282.96 623.38 283.27 631.16 283.66 626.6 284.36 614.91 284.36 615.85 285.06 626.39 285.46 632.06 285.76 627.6 286.46 614.62 287.16 604.21 287.64 596.15 287.86 597.88 288.56 603.13 289.26 609.1 289.82 611.85 289.96 613.99 290.66 618.93 291.35 625.28 291.36 624.76 292.06 634.52 292.76 643.09 292.87 646.19 293.46 640.01 294.16 629.71 294.62 624.63 294.86 619.87 295.56 607.21 295.93 600.64 296.26 606.62 296.96 622.57 297.46 630.71 297.66 628.04 298.36 621.17 298.98 614.03 299.06 614.68 299.76 623.34 300.29 630.2 300.46 627.51 301.16 618.5 301.6 611.54 301.86 612.6 302.56 617.3 303.26 622.11 303.35 622.85 303.96 628.39 304.66 631.57 304.87 633.02 305.36 621.79 306.06 609.26 306.4 600.67 306.76 603.57 307.46 609.51 307.93 611.5 308.16 613.69 308.86 619.86 309.46 625.53 309.56 626.14 310.26 623.88 310.96 619.04 311.64 618.41 311.66 618.05 312.36 619.78 313.06 621.2 313.76 621.35 313.82 622.47 314.46 620.77 315.16 622.06 315.86 621.2 316 619.29 316.56 619.18 317.26 622.1 317.96 622.06 318.18 622.98 318.66 625.73 319.36 627.72 319.93 627.89 320.06 625.85 320.76 619.71 321.46 613.8 321.46 613.16 322.16 613.46 322.86 611.91 323.56 610.28 324.26 608.88 324.73 608.49 324.96 609.46 325.66 608.07 326.36 610.15 326.91 610.49 327.06 609.87 327.76 609.26 328.46 608.69 329.16 608.88 329.53 607.28 329.86 607.14 330.56 606.92 331.26 608.42 331.96 607.74 332.36 608.34 332.66 608.1 333.36 606.06 334.06 604.18 334.76 602.67 335.46 601.6 335.64 600.72 336.16 598.92 336.86 596.44 337.56 593.5 338.26 591.26 338.91 588.69 338.96 589.26 339.66 588.48 340.36 586.89 341.06 587.19 341.76 587.38 342.18 586.51 342.46 586.05 343.16 586.06 343.86 584.32 344.56 584.2 345.26 583.76 345.46 583.4 345.96 582.76 346.66 582.65 347.36 584.02 348.06 582.88 348.73 583.26 348.76 584.45 349.46 582.31 350.16 580.74 350.86 582.53 351.56 580.94 352 580.05 352.26 580.69 352.96 577.4 353.66 576.29 354.36 573.71 355.06 571.7 355.27 571.37 355.76 571.06 356.46 570.33 357.16 569.35 357.86 567.57 358.55 566.9 358.56 567.86 359.26 566.5 359.96 565.54 360.66 565.47 360.73 564.94 361.36 564.1 362.06 561.78 362.76 560.46 362.91 560.48 363.46 562.94 364.16 564.24 364.44 565.75 364.86 568.54 365.56 573.83 365.75 574.38 366.26 571.1 366.96 563.29 367.27 560.46 367.66 562.1 368.36 562.42 369.06 563.61 369.76 564.26 370 564.8 370.46 565.83 371.16 568.77 371.86 571.27 372.18 572.22 372.56 574.21 373.26 576.38 373.96 577.67 374.36 580.12 374.66 581.34 375.36 586.3 375.45 586.43 376.06 583.93 376.76 581.52 377.46 579.48 377.64 577.59 378.16 578.53 378.86 579.7 379.56 581.58 380.26 582.08 380.91 583.34 380.96 584.03 381.66 584.92 382.36 585.49 383.06 586.65 383.76 587.9 384.18 588.75 384.46 588.52 385.16 589.46 385.86 590.31 386.56 590.33 387.02 590.84 387.26 591.98 387.96 594.86 388.66 596.41 389.36 599.22 389.64 600.93 390.06 602 390.76 603.5 391.46 606.28 391.82 607.56 392.16 606.67 392.86 606.01 393.56 605.97 394.26 606.57 394.96 604.8 395.09 605.18 395.66 606.25 396.36 606.73 397.06 606.86 397.27 607.39 397.76 608.85 398.46 611.38 399.16 613.22 399.45 613.85 399.86 614.35 400.56 619.17 401.2 621.43 401.26 619.28 401.96 615.43 402.66 610.15 402.73 609.43 403.36 600.01 404.06 591.91 404.25 589.67 404.76 590.3 405.46 590.18 406 592.04 406.16 592.27 406.86 592.29 407.53 591.99 407.56 592.4 408.26 601.72 408.84 608.45 408.96 608.04 409.66 608.14 410.36 608.03 411.02 607.49 411.06 607.49 411.76 605.7 412.46 604.83 413.16 604.18 413.2 604.05 413.86 606.59 414.56 606.94 415.26 609.73 415.38 610.32 415.96 613.47 416.66 615.91 417.13 617.17 417.36 616.51 418.06 612.03 418.76 609.25 419.09 607.29 419.46 605.47 420.16 601.85 420.86 598.89 421.27 596.52 421.56 594.28 422.26 591.4 422.96 588.38 423.02 588.16 423.66 587.17 424.36 587.4 425.06 587.58 425.64 587.9 425.76 587.16 426.46 587.13 427.16 587.04 427.86 586.73 428.47 586.57 428.56 586.17 429.26 583.29 429.96 580.73 430.65 577.86 430.66 577.98 431.36 575.66 432.06 572.55 432.76 570.88 433.27 569.12 433.46 569.2 434.16 568.1 434.86 567.48 435.46 565.7 435.56 565.62 436.26 564.92 436.96 563.63 437.66 562.93 438.07 562.49 438.36 561.77 439.06 561.82 439.76 559.35 439.82 559.49 440.46 556.6 441.16 554.71 441.86 551.81 442 551.69 442.56 551.8 443.26 551.09 443.96 549.69 444.18 549.09 444.66 548.91 445.36 548.93 446.06 549.24 446.76 547.58 446.8 548.32 447.46 548.23 448.16 549.56 448.86 548.8 448.98 549.58 449.56 553.99 449.86 556.94 450.26 808.34 450.29 825.46 450.96 825.46 451.16 825.46 451.6 559.14 451.66 559.37 452.36 556.73 452.91 554.77 453.06 555.25 453.76 555.96 454.46 555.01 455.16 555.82 455.53 555.89 455.86 557.1 456.56 557.75 457.26 558.51 457.27 558.6 457.96 559.19 458.66 558.71 459.36 558.92 459.89 558.81 460.06 559.43 460.76 559.91 461.46 561.9 462.07 563.69 462.16 564.86 462.86 566.57 463.56 568.83 464.26 571.18 464.26 570.99 464.96 574.28 465.66 577.05 466 578.93 466.36 580.74 467.06 585.22 467.75 587.63 467.76 588.31 468.46 591.93 468.62 593.24 469.16 592.95 469.86 589.71 470.36 588.56 470.56 589.21 471.26 588.51 471.96 588.14 472.55 588.15 472.66 588.5 473.36 590.55 474.06 591.72 474.29 591.92 474.76 593.83 475.46 597.03 475.82 599.48 476.16 600.42 476.86 599.59 477.56 600.78 477.56 600.92 478.26 605.08 478.96 609.7 479.09 609.6 479.66 615.16 480.18 618.06 480.36 619.6 481.06 628.54 481.06 628.11 481.76 607.72 481.93 602.82 482.46 593.01 482.58 589.9 483.16 601.72 483.46 607.16 483.86 611.44 484.55 618.09 484.56 618.2 485.26 621.16 485.96 623.1 486.29 624.52 486.66 627.58 487.36 629.93 487.82 633.88 488.06 635.46 488.76 633.86 489.46 638.23 489.56 636.48 490.16 640.41 490.86 641 491.31 643.54 491.56 641.42 492.26 641.28 492.84 638.95 492.96 640.41 493.66 638.36 494.36 635.49 494.8 635.75 495.06 633.36 495.76 629.83 496.46 626.61 496.55 625.14 497.16 622.43 497.86 618.86 498.56 616.75 498.73 616.47 499.26 614.87 499.96 612.55 500.66 611.23 500.91 611.41 501.36 611.81 502.06 610 502.76 608.88 503.46 608.69 503.53 608.55 504.16 607.56 504.86 606.37 505.56 606.16 506.26 605.7 506.36 604.82 506.96 603.73 507.66 604.91 508.36 603.35 509.06 602.6 509.64 601.61 509.76 601.2 510.46 600.88 511.16 600.94 511.86 599.66 512.56 598.1 512.91 598.78 513.26 598.76 513.96 597.24 514.66 595.09 515.36 594.15 516.06 593.17 516.18 593.11 516.76 592.84 517.46 589.87 518.16 588.79 518.86 587.74 519.46 586.46 519.56 586.02 520.26 583.66 520.96 582.55 521.66 580.5 522.36 578.88 522.73 577.96 523.06 576.71 523.76 574.74 524.46 572.89 525.16 570.5 525.35 570.21 525.86 567.77 526.56 566.11 527.26 564.69 527.53 563.67 527.96 563.65 528.66 561.95 529.36 561.71 529.93 561.44 530.06 561.8 530.76 563.73 531.46 566.03 531.46 565.58 532.16 565.07 532.86 564.9 533.56 564.3 534.07 563.66 534.26 564.36 534.96 563.47 535.66 562.73 536.26 562.4 536.36 562.97 537.06 560.89 537.56 560.42 537.76 664.63 538.07 825.46 538.37 825.46 538.46 787.19 539.09 561.5 539.16 561.03 539.86 563.93 540.56 567.11 540.62 566.72 541.26 569.65 541.96 572.25 542.62 575.02 542.66 574.62 543.36 578.47 544.06 581.05 544.36 582.7 544.76 582.76 545.46 583.41 546.16 584.1 546.55 583.8 546.86 583.77 547.56 584.49 548.26 584.49 548.73 584.79 548.96 586.47 549.66 588.04 550.36 590.68 550.91 593.52 551.06 593.71 551.76 597.04 552.46 599.31 553.09 601.18 553.16 601.25 553.86 602.76 554.56 604.26 555.26 606.18 555.71 607.63 555.96 607.62 556.66 610.47 557.36 611.86 558.06 612.16 558.55 613.61 558.76 615.62 559.46 616.09 560.16 616.91 560.86 619.96 561.38 622.96 561.56 624.2 562.26 624.55 562.96 625.73 563.56 625.55 563.66 627.2 564.36 628.21 565.06 632.4 565.75 635.81 565.76 636.11 566.46 637.79 567.16 640.54 567.86 644.39 567.93 642.31 568.56 643.94 569.26 642.64 569.89 643.85 569.96 645.13 570.66 640.82 571.36 638.03 572.06 636.41 572.07 634.51 572.76 634.36 573.46 635.09 574.16 632 574.47 632.8 574.86 633.3 575.56 632.71 576.26 631.88 576.96 631.58 577.09 630.68 577.66 631.7 578.36 631.81 579.06 631.07 579.27 632.11 579.76 631.38 580.46 631.72 581.16 630.28 581.45 629.6 581.86 630.92 582.56 633.57 583.2 634.75 583.26 635.38 583.96 636.4 584.66 638.73 584.73 638.92 585.36 640.01 586.06 636.56 586.76 633.25 586.91 633.71 587.46 633.05 588.16 630.9 588.86 630.61 589.09 629.58 589.56 630.13 590.26 625.92 590.96 628.59 591.66 627.53 591.71 627.55 592.36 623.94 593.06 620.77 593.45 619.37 593.76 619.42 594.46 617.83 595.16 615.11 595.86 614.61 596.29 614.18 596.56 613.02 597.26 612.72 597.96 612.03 598.66 610.85 598.91 610.59 599.36 611.66 600.06 611.08 600.76 611.14 601.46 610.54 602.16 611.03 602.18 610.78 602.86 609.42 603.56 608.12 604.26 606.92 604.8 605.36 604.96 604.58 605.66 603.78 606.36 600.49 607.06 599.38 607.2 598.89 607.76 597.84 608.46 595.54 609.16 593.5 609.82 592.38 609.86 591.59 610.56 589.98 611.26 588.74 611.96 587.06 612.44 585.6 612.66 585.62 613.36 582.43 614.06 580.52 614.76 577.91 614.84 577.1 615.46 576.2 616.16 574.92 616.8 575.06 616.86 575.75 617.56 575.91 618.26 576.7 618.96 577.06 618.98 577.38 619.66 577.89 620.36 578.96 621.06 578.65 621.16 578.97 621.76 578.76 622.46 578.19 623.16 577.51 623.86 577.41 624 577.35 624.56 578.41 625.26 578.79 625.96 578.63 626.18 579.18 626.66 578.82 627.36 579.81 628.06 580.3 628.76 579.84 629.02 580.3 629.46 582.47 630.16 584.47 630.55 586.95 630.86 589.76 631.56 594.34 632.26 598.02 632.73 601.09 632.96 602.92 633.66 607.12 634.36 611.89 634.91 614.24 635.06 615.3 635.76 619.17 636.46 624.16 637.09 625.95 637.16 627.7 637.86 629.97 638.56 633.19 639.26 635.23 639.27 636.02 639.96 637.95 640.66 638.87 641.36 644.77 641.46 644.31 642.06 648.41 642.76 650.73 642.98 653.36 643.46 659.49 644.16 666.82 644.29 670.97 644.86 667.7 645.56 662.1 646.04 664.09 646.26 665.08 646.96 667.83 647.35 668.8 647.66 672.83 648.36 676.62 648.66 680.05 649.06 681.09 649.76 678.23 650.18 678.63 650.46 681.21 651.16 683.92 651.71 690.81 651.86 691.22 652.56 696.22 653.26 696.91 653.46 696.66 653.96 697.23 654.66 695.58 655.2 694.74 655.36 697.53 656.06 702.86 656.73 713.22 656.76 713.77 657.46 726.17 658.04 733.4 658.16 731.79 658.86 728.36 659.56 717.84 659.56 721.67 660.26 721.38 660.96 717.68 661.31 722.12 661.66 725.06 662.36 725.33 663.06 732.37 663.27 730.77 663.76 729.52 664.46 730.54 665.16 733.22 665.46 733.89 665.86 738.4 666.56 743.32 667.2 744.56 667.26 745.72 667.96 741.5 668.66 738.98 669.16 737 669.36 743.65 670.06 741.04 670.76 741.12 670.91 739.2 671.46 735.69 672.16 737.15 672.66 738.28 672.86 738.7 673.56 744.23 674.18 744.85 674.26 747.12 674.96 748.56 675.66 750.88 675.71 748.98 676.36 749.35 677.06 745.69 677.46 744.2 677.76 743.18 678.46 741.96 679.16 741.54 679.2 741.29 679.86 733.86 680.29 731.84 680.56 734.23 681.26 741.89 681.82 742.97 681.96 741.8 682.66 728.3 682.91 721.16 683.36 719.11 684.06 705.26 684.44 701.79 684.76 700.63 685.46 701.68 686.16 702.59 686.18 703.51 686.86 701.73 687.56 697.32 688.26 694.41 688.36 695.26 688.96 692.88 689.66 691.51 690.36 688.25 691.06 684.64 691.64 685.09 691.76 684.7 692.46 684.14 693.16 682.11 693.86 679.34 694.56 681.71 694.91 677.96 695.26 675.08 695.96 676.12 696.66 675.38 697.36 676.08 698.06 673.45 698.18 674.19 698.76 673.59 699.46 673.11 700.16 668.42 700.86 670.07 701.46 668.18 701.56 670.15 702.26 665.99 702.96 664.71 703.66 665.04 704.36 662.86 704.73 662.14 705.06 662.7 705.76 660.11 706.46 659.03 707.16 660.3 707.86 657.26 708 657.89 708.56 655.63 709.26 656.52 709.96 655.44 710.66 655.65 711.27 655.4 711.36 652.16 712.06 654.07 712.76 655.6 713.46 656.78 713.46 654.81 714.16 656.95 714.86 656.2 715 657.39 715.56 655.7 716.26 660.07 716.96 656.17 717.55 655.73 717.66 652.51 718.36 655.01 719.06 656.37 719.76 659.37 720.09 657.03 720.46 657.36 721.16 654.75 721.86 654.83 722 654.08 722.56 653.72 723.26 656.95 723.27 658.34 723.96 655.63 724.55 651.56 724.66 649.98 725.36 652.62 725.82 650.87 726.06 650.59 726.76 653.33 727.09 654.72 727.46 657.92 728.16 657.29 728.86 658.23 729 659.09 729.56 657.7 730.26 662.24 730.96 659.9 731.55 661.87 731.66 660.44 732.36 660.71 733.06 658.77 733.76 661.92 734.09 662.75 734.46 664.49 735.16 662.83 735.86 664.52 736.56 661.71 737.26 661.47 737.27 663.59 737.96 662.83 738.66 667.55 739.36 667.21 740.06 664.22 740.46 666.12 740.76 666.37 741.46 669.44 742.16 669.11 742.86 671.04 743 670.67 743.56 674.58 744.26 674.33 744.96 673.94 745.55 673.79 745.66 674.75 746.36 678.87 746.82 674.11 747.06 676.81 747.76 673.94 748.35 679.49 748.46 678.55 749.16 676.46 749.62 671.54 749.86 672.17 750.56 669.26 751.26 664.54 751.27 664.29 751.96 665.71 752.55 665.18 752.66 663.73 753.36 666.31 753.82 670.79 754.06 671.29 754.71 674.47 754.76 673.25 755.46 669.43 755.98 667.08 756.16 666.24 756.86 667.2 757.56 668.57 757.64 670.26 758.26 672.55 758.96 672.5 759.55 673.7 759.66 673.36 760.36 670.73 761.06 670.88 761.46 671.78 761.76 671.12 762.46 671.88 763.11 671.74 763.16 670.32 763.86 673.3 764.56 674.87 764.64 674.22 765.26 675.7 765.96 676.86 766.55 675 766.66 676.32 767.36 676.07 768.06 675.69 768.46 674.41 768.76 677.05 769.46 676.09 769.98 676.66 770.16 674.07 770.86 675.95 771.56 673.65 771.64 673.22 772.26 675.31 772.96 669.67 773.55 671 773.66 668.83 774.36 668.15 775.06 667.57 775.46 665.5 775.76 665.11 776.46 661.57 776.73 661.16 777.16 661.22 777.86 660.44 778.56 658.32 778.64 659.1 779.26 658.72 779.96 659.79 780.55 657.33 780.66 656.75 781.36 656.64 782.06 653.93 782.46 653.01 782.76 652.53 783.46 650.9 784.16 650.74 784.75 650.24 784.86 648.85 785.56 650.9 786.26 650.88 786.27 649.77 786.96 650.05 787.66 647.88 788.18 647.89 788.36 649.45 789.06 648.89 789.76 646.29 790.46 645.41 790.73 644.83 791.16 645.66 791.86 643.29 792.56 642.07 793.26 642.4 793.27 642.09 793.96 639.99 794.66 642.32 795.36 638.61 796.06 638.1 796.46 639.85 796.76 638.91 797.46 636.7 798.16 638.91 798.86 638.05 799 636.93 799.56 636.47 800.26 636.22 800.96 636.34 801.55 635.04 801.66 633.82 802.36 634.15 803.06 633.03 803.76 631.24 804.09 632.39 804.46 630.93 805.16 631 805.37 630.97 805.86 631.82 806.56 635.15 806.64 632.67 807.26 633.29 807.96 632.94 808.66 635.41 809.18 635.19 809.36 633.44 810.06 634.62 810.76 636.12 811.46 635.17 811.73 635.85 812.16 636.15 812.86 638.41 813.56 635.08 814.26 636.8 814.27 636.58 814.96 636.73 815.66 640.46 816.36 640.08 816.82 639.74 817.06 639.72 817.76 640.52 818.46 643.45 819.16 640.73 819.37 642.53 819.86 643.85 820.56 642.26 821.26 644.27 821.91 644.4 821.96 644.73 822.66 646.06 823.36 645.73 824.06 647.19 824.46 646.19" fill="none" stroke="#000" stroke-width="2.3" stroke-linejoin="round" />
<path d="M200.36 602.91 201.86 601.25 203.36 599.87 204.86 598.91 206.36 598.18 207.86 597.62 209.36 597.47 210.86 597.96 212.36 598.89 213.86 599.94 215.36 601.41 216.86 603.07 218.36 604.45 219.86 605.6 221.36 606.67 222.86 607.75 224.36 608.68 225.86 609.83 227.36 611.92 228.86 615.72 230.36 619.57 231.86 623.69 233.36 626.03 234.86 626.86 236.36 626.38 237.86 624.57 239.36 622.28 240.86 619.05 242.36 616.08 243.86 613.36 245.36 611.34 246.86 609.76 248.36 609.02 249.86 609.12 251.36 609.39 252.86 610.53 254.36 612.95 255.86 615.51 257.36 618.31 258.86 619.76 260.36 620.58 261.86 620.73 263.36 619.45 264.86 617.33 266.36 615.29 267.86 613.18 269.36 610.83 270.86 608.21 272.36 605.15 273.86 602.03 275.36 599.17 276.86 596.29 278.36 594.27 279.86 593.21 281.36 592.66 282.86 593.43 284.36 595.27 285.86 598.22 287.36 601.43 288.86 603.38 290.36 604.99 291.86 605.74 293.36 605.72 294.86 605.63 296.36 605.53 297.86 605.37 299.36 605.17 300.86 605.1 302.36 606 303.86 607.21 305.36 607.89 306.86 608.34 308.36 608.04 309.86 606.96 311.36 605.88 312.86 605.21 314.36 604.59 315.86 604.14 317.36 604.01 318.86 604.32 320.36 604.82 321.86 605.16 323.36 605.42 324.86 605.52 326.36 604.99 327.86 603.89 329.36 602.69 330.86 601.19 332.36 599.54 333.86 598.23 335.36 597.03 336.86 596.13 338.36 595.93 339.86 595.93 341.36 595.93 342.86 595.81 344.36 594.91 345.86 593.64 347.36 592.47 348.86 591.22 350.36 589.88 351.86 588.36 353.36 586.69 354.86 585.81 356.36 585.46 357.86 586.92 359.36 589.15 360.86 590.19 362.36 590.85 363.86 590.82 365.36 590.46 366.86 590.08 368.36 589.64 369.86 589.38 371.36 589.63 372.86 590.27 374.36 590.91 375.86 591.48 377.36 592.05 378.86 592.47 380.36 592.73 381.86 592.94 383.36 593.12 384.86 593.25 386.36 593.37 387.86 593.66 389.36 594.85 390.86 596.53 392.36 597.91 393.86 599.22 395.36 600.33 396.86 600.98 398.36 601.48 399.86 601.78 401.36 601.76 402.86 601.42 404.36 600.92 405.86 600.2 407.36 599.2 408.86 599.09 410.36 599.8 411.86 600.43 413.36 600.94 414.86 601.16 416.36 600.44 417.86 599.11 419.36 597.26 420.86 595.08 422.36 593.55 423.86 592.35 425.36 591.71 426.86 591.31 428.36 591.01 429.86 590.76 431.36 590.58 432.86 590.35 434.36 589.82 435.86 588.85 437.36 587.81 438.86 586.87 440.36 585.92 441.86 585.09 443.36 584.35 444.86 583.69 446.36 583.27 447.86 583.1 449.36 582.99 450.86 582.81 452.36 582.4 453.86 581.86 455.36 581.48 456.86 581.21 458.36 581.09 459.86 581.4 461.36 582.06 462.86 582.93 464.36 584.17 465.86 585.36 467.36 586.37 468.86 587.32 470.36 588.07 471.86 588.54 473.36 588.91 474.86 589.44 476.36 590.42 477.86 591.8 479.36 593.41 480.86 595.62 482.36 598.11 483.86 600.12 485.36 601.82 486.86 602.98 488.36 603.74 489.86 603.96 491.36 602.96 492.86 602.23 494.36 601.85 495.86 602.33 497.36 603.78 498.86 605.03 500.36 606.07 501.86 606.18 503.36 606.18 504.86 604.96 506.36 602.47 507.86 600.11 509.36 597.8 510.86 596.07 512.36 594.64 513.86 593.39 515.36 592.3 516.86 591.9 518.36 591.77 519.86 591.65 521.36 591.42 522.86 591.03 524.36 590.49 525.86 589.66 527.36 588.29 528.86 586.87 530.36 585.71 531.86 584.61 533.36 583.8 534.86 583.35 536.36 583 537.86 582.84 539.36 582.86 540.86 582.94 542.36 583.05 543.86 583.16 545.36 583.27 546.86 583.39 548.36 583.58 549.86 584.12 551.36 585.35 552.86 586.72 554.36 588.04 555.86 589.44 557.36 590.57 558.86 591.3 560.36 591.89 561.86 592.38 563.36 592.73 564.86 593.03 566.36 593.54 567.86 594.91 569.36 597.06 570.86 599.44 572.36 602.66 573.86 606.01 575.36 608.13 576.86 609.67 578.36 610.71 579.86 610.8 581.36 609.89 582.86 608.91 584.36 608.86 585.86 609.78 587.36 611.06 588.86 612.35 590.36 614.02 591.86 615.18 593.36 614.82 594.86 612.9 596.36 610.4 597.86 607.67 599.36 604.26 600.86 601.4 602.36 599.49 603.86 597.89 605.36 597.17 606.86 597.32 608.36 597.65 609.86 597.82 611.36 597.56 612.86 596.96 614.36 596.19 615.86 594.86 617.36 593.13 618.86 591.65 620.36 590.33 621.86 589.19 623.36 588.49 624.86 587.97 626.36 587.63 627.86 587.63 629.36 588.17 630.86 588.85 632.36 589.22 633.86 589.4 635.36 589.6 636.86 590.12 638.36 591.35 639.86 593.26 641.36 596.79 642.86 600.86 644.36 605.43 645.86 609.94 647.36 614.2 648.86 617.73 650.36 619.85 651.86 621.38 653.36 622.5 654.86 623.36 656.36 624.94 657.86 627.94 659.36 631.82 660.86 637.17 662.36 643.31 663.86 650.39 665.36 657.03 666.86 662.14 668.36 659.73 669.86 656.27 671.36 653.44 672.86 652.18 674.36 651.72 675.86 652.47 677.36 653.86 678.86 656.58 680.36 657.58 681.86 657.81 683.36 656.63 684.86 652.95 686.36 648.14 687.86 642.15 689.36 636.98 690.86 632.31 692.36 629.25 693.86 627.07 695.36 625.96 696.86 625.47 698.36 625.03 699.86 624.62 701.36 624.05 702.86 622.26 704.36 619.27 705.86 615.92 707.36 612.17 708.86 609.49 710.36 607.42 711.86 606.09 713.36 605.11 714.86 604.8 716.36 604.88 717.86 605.07 719.36 605.23 720.86 605.35 722.36 605.52 723.86 605.96 725.36 606.8 726.86 607.93 728.36 609.64 729.86 612.39 731.36 615.8 732.86 619.68 734.36 623.13 735.86 625.99 737.36 627.85 738.86 628.84 740.36 629.21 741.86 629.53 743.36 629.89 744.86 631.34 746.36 634.2 747.86 638.58 749.36 643.65 750.86 649.08 752.36 653.6 753.86 656.78 755.36 658.26 756.86 658.51 758.36 657.24 759.86 655.61 761.36 654.19 762.86 654.18 764.36 654.25 765.86 655.44 767.36 657.03 768.86 658.6 770.36 658.64 771.86 658.59 773.36 656.48 774.86 653.26 776.36 648.89 777.86 644.34 779.36 639.95 780.86 636.11 782.36 633.85 783.86 632.65 785.36 632.55 786.86 632.55 788.36 632.29 789.86 631.73 791.36 630.65 792.86 628.64 794.36 625.31 795.86 621.9 797.36 618.65 798.86 615.87 800.36 613.81 801.86 612.35 803.36 611.76 804.86 611.55 806.36 611.55 807.86 611.55 809.36 611.42 810.86 611.21 812.36 611.2 813.86 611.54 815.36 612.24 816.86 614.41 818.36 616.84 819.86 619.56 821.36 622.45 822.86 625.65 824.36 629.22 825.86 631.06 827.36 632.08 828.86 632.61 830.36 633 831.86 633.3 833.36 633.9 834.86 635.41 836.36 639.12 837.86 643.29 839.36 647.48 840.86 651.51 842.36 654.99 843.86 657.61 845.36 657.75 846.86 657.73 848.36 656.34 849.86 655.13 851.36 654.49 852.86 654.74 854.36 655.71 855.86 657.12 857.36 658.26 858.86 658.94 860.36 658.92 861.86 658.2 863.36 655.28 864.86 651.6 866.36 647.71 867.86 643.9 869.36 640.49 870.86 637.7 872.36 635.81 873.86 635.03 875.36 634.91 876.86 634.68 878.36 634.27 879.86 633.53 881.36 632.25 882.86 629.66 884.36 626.53 885.86 623.03 887.36 620.09 888.86 617.74 890.36 615.99 891.86 615.14 893.36 614.76 894.86 614.73 896.36 614.73 897.86 614.65 899.36 614.3 900.86 614.09 902.36 614.36 903.86 615.02 905.36 616.6 906.86 618.54 908.36 620.93 909.86 623.77 911.36 626.97 912.86 630.52" fill="none" stroke="#f00" stroke-width="2.3" stroke-linejoin="round" />
</g>
<line x1="825" y1="478" x2="825" y2="822" stroke="#1f77b4" stroke-width="2" stroke-dasharray="2.08 3.44"/>
<rect x="200" y="478" width="714" height="344" fill="none" stroke="#000" stroke-width="2"/>
<line x1="248.5" y1="822" x2="248.5" y2="817" stroke="#000" stroke-width="1.2" />
<line x1="337.5" y1="822" x2="337.5" y2="817" stroke="#000" stroke-width="1.2" />
<line x1="427.5" y1="822" x2="427.5" y2="817" stroke="#000" stroke-width="1.2" />
<line x1="516.5" y1="822" x2="516.5" y2="817" stroke="#000" stroke-width="1.2" />
<line x1="605.5" y1="822" x2="605.5" y2="817" stroke="#000" stroke-width="1.2" />
<line x1="694.5" y1="822" x2="694.5" y2="817" stroke="#000" stroke-width="1.2" />
<line x1="784.5" y1="822" x2="784.5" y2="817" stroke="#000" stroke-width="1.2" />
<line x1="873.5" y1="822" x2="873.5" y2="817" stroke="#000" stroke-width="1.2" />
<line x1="200" y1="822.5" x2="205.8" y2="822.5" stroke="#000" stroke-width="1.2" />
<line x1="914" y1="822.5" x2="909" y2="822.5" stroke="#000" stroke-width="1.2" />
<text xml:space="preserve" x="195" y="829.9" font-size="19.44" text-anchor="end" fill="#000" >10<tspan dy="-7.1" font-size="13.61">0</tspan></text>
<line x1="200" y1="804.5" x2="203.8" y2="804.5" stroke="#000" stroke-width="1" />
<line x1="914" y1="804.5" x2="910.8" y2="804.5" stroke="#000" stroke-width="1" />
<line x1="200" y1="794.5" x2="203.8" y2="794.5" stroke="#000" stroke-width="1" />
<line x1="914" y1="794.5" x2="910.8" y2="794.5" stroke="#000" stroke-width="1" />
<line x1="200" y1="787.5" x2="203.8" y2="787.5" stroke="#000" stroke-width="1" />
<line x1="914" y1="787.5" x2="910.8" y2="787.5" stroke="#000" stroke-width="1" />
<line x1="200" y1="781.5" x2="203.8" y2="781.5" stroke="#000" stroke-width="1" />
<line x1="914" y1="781.5" x2="910.8" y2="781.5" stroke="#000" stroke-width="1" />
<line x1="200" y1="777.5" x2="203.8" y2="777.5" stroke="#000" stroke-width="1" />
<line x1="914" y1="777.5" x2="910.8" y2="777.5" stroke="#000" stroke-width="1" />
<line x1="200" y1="773.5" x2="203.8" y2="773.5" stroke="#000" stroke-width="1" />
<line x1="914" y1="773.5" x2="910.8" y2="773.5" stroke="#000" stroke-width="1" />
<line x1="200" y1="770.5" x2="203.8" y2="770.5" stroke="#000" stroke-width="1" />
<line x1="914" y1="770.5" x2="910.8" y2="770.5" stroke="#000" stroke-width="1" />
<line x1="200" y1="767.5" x2="203.8" y2="767.5" stroke="#000" stroke-width="1" />
<line x1="914" y1="767.5" x2="910.8" y2="767.5" stroke="#000" stroke-width="1" />
<line x1="200" y1="764.5" x2="205.8" y2="764.5" stroke="#000" stroke-width="1.2" />
<line x1="914" y1="764.5" x2="909" y2="764.5" stroke="#000" stroke-width="1.2" />
<text xml:space="preserve" x="195" y="772.57" font-size="19.44" text-anchor="end" fill="#000" >10<tspan dy="-7.1" font-size="13.61">1</tspan></text>
<line x1="200" y1="747.5" x2="203.8" y2="747.5" stroke="#000" stroke-width="1" />
<line x1="914" y1="747.5" x2="910.8" y2="747.5" stroke="#000" stroke-width="1" />
<line x1="200" y1="737.5" x2="203.8" y2="737.5" stroke="#000" stroke-width="1" />
<line x1="914" y1="737.5" x2="910.8" y2="737.5" stroke="#000" stroke-width="1" />
<line x1="200" y1="730.5" x2="203.8" y2="730.5" stroke="#000" stroke-width="1" />
<line x1="914" y1="730.5" x2="910.8" y2="730.5" stroke="#000" stroke-width="1" />
<line x1="200" y1="724.5" x2="203.8" y2="724.5" stroke="#000" stroke-width="1" />
<line x1="914" y1="724.5" x2="910.8" y2="724.5" stroke="#000" stroke-width="1" />
<line x1="200" y1="720.5" x2="203.8" y2="720.5" stroke="#000" stroke-width="1" />
<line x1="914" y1="720.5" x2="910.8" y2="720.5" stroke="#000" stroke-width="1" />
<line x1="200" y1="716.5" x2="203.8" y2="716.5" stroke="#000" stroke-width="1" />
<line x1="914" y1="716.5" x2="910.8" y2="716.5" stroke="#000" stroke-width="1" />
<line x1="200" y1="712.5" x2="203.8" y2="712.5" stroke="#000" stroke-width="1" />
<line x1="914" y1="712.5" x2="910.8" y2="712.5" stroke="#000" stroke-width="1" />
<line x1="200" y1="709.5" x2="203.8" y2="709.5" stroke="#000" stroke-width="1" />
<line x1="914" y1="709.5" x2="910.8" y2="709.5" stroke="#000" stroke-width="1" />
<line x1="200" y1="707.5" x2="205.8" y2="707.5" stroke="#000" stroke-width="1.2" />
<line x1="914" y1="707.5" x2="909" y2="707.5" stroke="#000" stroke-width="1.2" />
<text xml:space="preserve" x="195" y="715.23" font-size="19.44" text-anchor="end" fill="#000" >10<tspan dy="-7.1" font-size="13.61">2</tspan></text>
<line x1="200" y1="690.5" x2="203.8" y2="690.5" stroke="#000" stroke-width="1" />
<line x1="914" y1="690.5" x2="910.8" y2="690.5" stroke="#000" stroke-width="1" />
<line x1="200" y1="679.5" x2="203.8" y2="679.5" stroke="#000" stroke-width="1" />
<line x1="914" y1="679.5" x2="910.8" y2="679.5" stroke="#000" stroke-width="1" />
<line x1="200" y1="672.5" x2="203.8" y2="672.5" stroke="#000" stroke-width="1" />
<line x1="914" y1="672.5" x2="910.8" y2="672.5" stroke="#000" stroke-width="1" />
<line x1="200" y1="667.5" x2="203.8" y2="667.5" stroke="#000" stroke-width="1" />
<line x1="914" y1="667.5" x2="910.8" y2="667.5" stroke="#000" stroke-width="1" />
<line x1="200" y1="662.5" x2="203.8" y2="662.5" stroke="#000" stroke-width="1" />
<line x1="914" y1="662.5" x2="910.8" y2="662.5" stroke="#000" stroke-width="1" />
<line x1="200" y1="658.5" x2="203.8" y2="658.5" stroke="#000" stroke-width="1" />
<line x1="914" y1="658.5" x2="910.8" y2="658.5" stroke="#000" stroke-width="1" />
<line x1="200" y1="655.5" x2="203.8" y2="655.5" stroke="#000" stroke-width="1" />
<line x1="914" y1="655.5" x2="910.8" y2="655.5" stroke="#000" stroke-width="1" />
<line x1="200" y1="652.5" x2="203.8" y2="652.5" stroke="#000" stroke-width="1" />
<line x1="914" y1="652.5" x2="910.8" y2="652.5" stroke="#000" stroke-width="1" />
<line x1="200" y1="650.5" x2="205.8" y2="650.5" stroke="#000" stroke-width="1.2" />
<line x1="914" y1="650.5" x2="909" y2="650.5" stroke="#000" stroke-width="1.2" />
<text xml:space="preserve" x="195" y="657.9" font-size="19.44" text-anchor="end" fill="#000" >10<tspan dy="-7.1" font-size="13.61">3</tspan></text>
<line x1="200" y1="632.5" x2="203.8" y2="632.5" stroke="#000" stroke-width="1" />
<line x1="914" y1="632.5" x2="910.8" y2="632.5" stroke="#000" stroke-width="1" />
<line x1="200" y1="622.5" x2="203.8" y2="622.5" stroke="#000" stroke-width="1" />
<line x1="914" y1="622.5" x2="910.8" y2="622.5" stroke="#000" stroke-width="1" />
<line x1="200" y1="615.5" x2="203.8" y2="615.5" stroke="#000" stroke-width="1" />
<line x1="914" y1="615.5" x2="910.8" y2="615.5" stroke="#000" stroke-width="1" />
<line x1="200" y1="609.5" x2="203.8" y2="609.5" stroke="#000" stroke-width="1" />
<line x1="914" y1="609.5" x2="910.8" y2="609.5" stroke="#000" stroke-width="1" />
<line x1="200" y1="605.5" x2="203.8" y2="605.5" stroke="#000" stroke-width="1" />
<line x1="914" y1="605.5" x2="910.8" y2="605.5" stroke="#000" stroke-width="1" />
<line x1="200" y1="601.5" x2="203.8" y2="601.5" stroke="#000" stroke-width="1" />
<line x1="914" y1="601.5" x2="910.8" y2="601.5" stroke="#000" stroke-width="1" />
<line x1="200" y1="598.5" x2="203.8" y2="598.5" stroke="#000" stroke-width="1" />
<line x1="914" y1="598.5" x2="910.8" y2="598.5" stroke="#000" stroke-width="1" />
<line x1="200" y1="595.5" x2="203.8" y2="595.5" stroke="#000" stroke-width="1" />
<line x1="914" y1="595.5" x2="910.8" y2="595.5" stroke="#000" stroke-width="1" />
<line x1="200" y1="592.5" x2="205.8" y2="592.5" stroke="#000" stroke-width="1.2" />
<line x1="914" y1="592.5" x2="909" y2="592.5" stroke="#000" stroke-width="1.2" />
<text xml:space="preserve" x="195" y="600.57" font-size="19.44" text-anchor="end" fill="#000" >10<tspan dy="-7.1" font-size="13.61">4</tspan></text>
<line x1="200" y1="575.5" x2="203.8" y2="575.5" stroke="#000" stroke-width="1" />
<line x1="914" y1="575.5" x2="910.8" y2="575.5" stroke="#000" stroke-width="1" />
<line x1="200" y1="565.5" x2="203.8" y2="565.5" stroke="#000" stroke-width="1" />
<line x1="914" y1="565.5" x2="910.8" y2="565.5" stroke="#000" stroke-width="1" />
<line x1="200" y1="558.5" x2="203.8" y2="558.5" stroke="#000" stroke-width="1" />
<line x1="914" y1="558.5" x2="910.8" y2="558.5" stroke="#000" stroke-width="1" />
<line x1="200" y1="552.5" x2="203.8" y2="552.5" stroke="#000" stroke-width="1" />
<line x1="914" y1="552.5" x2="910.8" y2="552.5" stroke="#000" stroke-width="1" />
<line x1="200" y1="548.5" x2="203.8" y2="548.5" stroke="#000" stroke-width="1" />
<line x1="914" y1="548.5" x2="910.8" y2="548.5" stroke="#000" stroke-width="1" />
<line x1="200" y1="544.5" x2="203.8" y2="544.5" stroke="#000" stroke-width="1" />
<line x1="914" y1="544.5" x2="910.8" y2="544.5" stroke="#000" stroke-width="1" />
<line x1="200" y1="540.5" x2="203.8" y2="540.5" stroke="#000" stroke-width="1" />
<line x1="914" y1="540.5" x2="910.8" y2="540.5" stroke="#000" stroke-width="1" />
<line x1="200" y1="537.5" x2="203.8" y2="537.5" stroke="#000" stroke-width="1" />
<line x1="914" y1="537.5" x2="910.8" y2="537.5" stroke="#000" stroke-width="1" />
<line x1="200" y1="535.5" x2="205.8" y2="535.5" stroke="#000" stroke-width="1.2" />
<line x1="914" y1="535.5" x2="909" y2="535.5" stroke="#000" stroke-width="1.2" />
<text xml:space="preserve" x="195" y="543.23" font-size="19.44" text-anchor="end" fill="#000" >10<tspan dy="-7.1" font-size="13.61">5</tspan></text>
<line x1="200" y1="518.5" x2="203.8" y2="518.5" stroke="#000" stroke-width="1" />
<line x1="914" y1="518.5" x2="910.8" y2="518.5" stroke="#000" stroke-width="1" />
<line x1="200" y1="507.5" x2="203.8" y2="507.5" stroke="#000" stroke-width="1" />
<line x1="914" y1="507.5" x2="910.8" y2="507.5" stroke="#000" stroke-width="1" />
<line x1="200" y1="500.5" x2="203.8" y2="500.5" stroke="#000" stroke-width="1" />
<line x1="914" y1="500.5" x2="910.8" y2="500.5" stroke="#000" stroke-width="1" />
<line x1="200" y1="495.5" x2="203.8" y2="495.5" stroke="#000" stroke-width="1" />
<line x1="914" y1="495.5" x2="910.8" y2="495.5" stroke="#000" stroke-width="1" />
<line x1="200" y1="490.5" x2="203.8" y2="490.5" stroke="#000" stroke-width="1" />
<line x1="914" y1="490.5" x2="910.8" y2="490.5" stroke="#000" stroke-width="1" />
<line x1="200" y1="486.5" x2="203.8" y2="486.5" stroke="#000" stroke-width="1" />
<line x1="914" y1="486.5" x2="910.8" y2="486.5" stroke="#000" stroke-width="1" />
<line x1="200" y1="483.5" x2="203.8" y2="483.5" stroke="#000" stroke-width="1" />
<line x1="914" y1="483.5" x2="910.8" y2="483.5" stroke="#000" stroke-width="1" />
<line x1="200" y1="480.5" x2="203.8" y2="480.5" stroke="#000" stroke-width="1" />
<line x1="914" y1="480.5" x2="910.8" y2="480.5" stroke="#000" stroke-width="1" />
<line x1="200" y1="478.5" x2="205.8" y2="478.5" stroke="#000" stroke-width="1.2" />
<line x1="914" y1="478.5" x2="909" y2="478.5" stroke="#000" stroke-width="1.2" />
<text xml:space="preserve" x="195" y="485.9" font-size="19.44" text-anchor="end" fill="#000" >10<tspan dy="-7.1" font-size="13.61">6</tspan></text>
<text xml:space="preserve" x="236.3" y="512" font-size="24" text-anchor="start" fill="#000" >Geostationary orbit:   GOES 14,</text>
<text xml:space="preserve" x="629.5" y="512" font-size="23.6" text-anchor="start" fill="#f00" >Model</text>
<text xml:space="preserve" x="0" y="0" transform="translate(114 650) rotate(-90)" font-size="24" text-anchor="middle" fill="#000" >&gt;2.0 MeV Electron Flux</text>
<text xml:space="preserve" x="0" y="0" transform="translate(147 650) rotate(-90)" font-size="24" text-anchor="middle" fill="#000" >( cm<tspan dy="-9" font-size="16.8">−2</tspan><tspan dy="9" dx="5">s</tspan><tspan dy="-9" font-size="16.8">−1</tspan><tspan dy="9" dx="5">sr</tspan><tspan dy="-9" font-size="16.8">−1</tspan><tspan dy="9"> )</tspan></text>
</g>
<g id="p3">
<g shape-rendering="crispEdges">
<rect x="200" y="947.22" width="7.85" height="70.28" fill="#bfbf00" />
<rect x="210.09" y="960" width="8.92" height="57.5" fill="#bfbf00" />
<rect x="221.25" y="960" width="8.92" height="57.5" fill="#bfbf00" />
<rect x="232.4" y="928.05" width="8.92" height="89.45" fill="#bfbf00" />
<rect x="243.56" y="947.22" width="8.92" height="70.28" fill="#bfbf00" />
<rect x="254.71" y="928.05" width="8.92" height="89.45" fill="#bfbf00" />
<rect x="265.87" y="947.22" width="8.92" height="70.28" fill="#bfbf00" />
<rect x="277.03" y="940.83" width="8.92" height="76.67" fill="#bfbf00" />
<rect x="288.18" y="940.83" width="8.92" height="76.67" fill="#bfbf00" />
<rect x="299.34" y="960" width="8.92" height="57.5" fill="#bfbf00" />
<rect x="310.49" y="960" width="8.92" height="57.5" fill="#bfbf00" />
<rect x="321.65" y="991.95" width="8.92" height="25.55" fill="#008000" />
<rect x="332.81" y="991.95" width="8.92" height="25.55" fill="#008000" />
<rect x="343.96" y="960" width="8.92" height="57.5" fill="#bfbf00" />
<rect x="355.12" y="934.45" width="8.92" height="83.05" fill="#bfbf00" />
<rect x="366.27" y="966.38" width="8.92" height="51.12" fill="#008000" />
<rect x="377.43" y="972.78" width="8.92" height="44.72" fill="#008000" />
<rect x="388.59" y="966.38" width="8.92" height="51.12" fill="#008000" />
<rect x="399.74" y="953.62" width="8.92" height="63.88" fill="#bfbf00" />
<rect x="410.9" y="991.95" width="8.92" height="25.55" fill="#008000" />
<rect x="422.05" y="991.95" width="8.92" height="25.55" fill="#008000" />
<rect x="433.21" y="985.55" width="8.92" height="31.95" fill="#008000" />
<rect x="444.37" y="966.38" width="8.92" height="51.12" fill="#008000" />
<rect x="455.52" y="966.38" width="8.92" height="51.12" fill="#008000" />
<rect x="466.68" y="966.38" width="8.92" height="51.12" fill="#008000" />
<rect x="477.83" y="960" width="8.92" height="57.5" fill="#bfbf00" />
<rect x="488.99" y="1004.72" width="8.92" height="12.78" fill="#008000" />
<rect x="511.3" y="1011.12" width="8.92" height="6.38" fill="#008000" />
<rect x="522.46" y="966.38" width="8.92" height="51.12" fill="#008000" />
<rect x="533.61" y="979.17" width="8.92" height="38.33" fill="#008000" />
<rect x="544.77" y="991.95" width="8.92" height="25.55" fill="#008000" />
<rect x="555.93" y="998.33" width="8.92" height="19.17" fill="#008000" />
<rect x="567.08" y="985.55" width="8.92" height="31.95" fill="#008000" />
<rect x="578.24" y="998.33" width="8.92" height="19.17" fill="#008000" />
<rect x="589.39" y="1004.72" width="8.92" height="12.78" fill="#008000" />
<rect x="600.55" y="985.55" width="8.92" height="31.95" fill="#008000" />
<rect x="611.71" y="979.17" width="8.92" height="38.33" fill="#008000" />
<rect x="622.86" y="979.17" width="8.92" height="38.33" fill="#008000" />
<rect x="634.02" y="972.78" width="8.92" height="44.72" fill="#008000" />
<rect x="645.17" y="947.22" width="8.92" height="70.28" fill="#bfbf00" />
<rect x="656.33" y="1011.12" width="8.92" height="6.38" fill="#008000" />
<rect x="667.49" y="1011.12" width="8.92" height="6.38" fill="#008000" />
<rect x="678.64" y="998.33" width="8.92" height="19.17" fill="#008000" />
<rect x="700.95" y="1011.12" width="8.92" height="6.38" fill="#008000" />
<rect x="712.11" y="966.38" width="8.92" height="51.12" fill="#008000" />
<rect x="723.27" y="991.95" width="8.92" height="25.55" fill="#008000" />
<rect x="734.42" y="991.95" width="8.92" height="25.55" fill="#008000" />
<rect x="745.58" y="972.78" width="8.92" height="44.72" fill="#008000" />
<rect x="756.73" y="1004.72" width="8.92" height="12.78" fill="#008000" />
<rect x="767.89" y="1004.72" width="8.92" height="12.78" fill="#008000" />
<rect x="779.05" y="1004.72" width="8.92" height="12.78" fill="#008000" />
<rect x="790.2" y="1011.12" width="8.92" height="6.38" fill="#008000" />
<rect x="801.36" y="1011.12" width="8.92" height="6.38" fill="#008000" />
</g>
<line x1="825" y1="845" x2="825" y2="1017.5" stroke="#1f77b4" stroke-width="2" stroke-dasharray="2.08 3.44"/>
<text xml:space="preserve" x="0" y="0" transform="translate(875.2 1001) rotate(-90)" font-size="30.9" text-anchor="start" fill="#000" opacity="0.1">Forecast</text>
<rect x="200" y="845" width="714" height="172" fill="none" stroke="#000" stroke-width="2"/>
<line x1="248.5" y1="1017.5" x2="248.5" y2="1012.5" stroke="#000" stroke-width="1.2" />
<text xml:space="preserve" x="248.5" y="1037.1" font-size="19.44" text-anchor="middle" fill="#000" >26</text>
<line x1="337.5" y1="1017.5" x2="337.5" y2="1012.5" stroke="#000" stroke-width="1.2" />
<text xml:space="preserve" x="337.75" y="1037.1" font-size="19.44" text-anchor="middle" fill="#000" >27</text>
<line x1="427.5" y1="1017.5" x2="427.5" y2="1012.5" stroke="#000" stroke-width="1.2" />
<text xml:space="preserve" x="427" y="1037.1" font-size="19.44" text-anchor="middle" fill="#000" >28</text>
<line x1="516.5" y1="1017.5" x2="516.5" y2="1012.5" stroke="#000" stroke-width="1.2" />
<text xml:space="preserve" x="516.25" y="1037.1" font-size="19.44" text-anchor="middle" fill="#000" >29</text>
<line x1="605.5" y1="1017.5" x2="605.5" y2="1012.5" stroke="#000" stroke-width="1.2" />
<text xml:space="preserve" x="605.5" y="1037.1" font-size="19.44" text-anchor="middle" fill="#000" >30</text>
<line x1="694.5" y1="1017.5" x2="694.5" y2="1012.5" stroke="#000" stroke-width="1.2" />
<text xml:space="preserve" x="694.75" y="1037.1" font-size="19.44" text-anchor="middle" fill="#000" >31</text>
<line x1="784.5" y1="1017.5" x2="784.5" y2="1012.5" stroke="#000" stroke-width="1.2" />
<text xml:space="preserve" x="784" y="1037.1" font-size="19.44" text-anchor="middle" fill="#000" >01</text>
<line x1="873.5" y1="1017.5" x2="873.5" y2="1012.5" stroke="#000" stroke-width="1.2" />
<text xml:space="preserve" x="873.25" y="1037.1" font-size="19.44" text-anchor="middle" fill="#000" >02</text>
<line x1="200" y1="1017.5" x2="205.8" y2="1017.5" stroke="#000" stroke-width="1.2" />
<line x1="914" y1="1017.5" x2="909" y2="1017.5" stroke="#000" stroke-width="1.2" />
<text xml:space="preserve" x="195" y="1024.6" font-size="19.44" text-anchor="end" fill="#000" >0</text>
<line x1="200" y1="979.5" x2="205.8" y2="979.5" stroke="#000" stroke-width="1.2" />
<line x1="914" y1="979.5" x2="909" y2="979.5" stroke="#000" stroke-width="1.2" />
<text xml:space="preserve" x="195" y="986.27" font-size="19.44" text-anchor="end" fill="#000" >2</text>
<line x1="200" y1="940.5" x2="205.8" y2="940.5" stroke="#000" stroke-width="1.2" />
<line x1="914" y1="940.5" x2="909" y2="940.5" stroke="#000" stroke-width="1.2" />
<text xml:space="preserve" x="195" y="947.93" font-size="19.44" text-anchor="end" fill="#000" >4</text>
<line x1="200" y1="902.5" x2="205.8" y2="902.5" stroke="#000" stroke-width="1.2" />
<line x1="914" y1="902.5" x2="909" y2="902.5" stroke="#000" stroke-width="1.2" />
<text xml:space="preserve" x="195" y="909.6" font-size="19.44" text-anchor="end" fill="#000" >6</text>
<line x1="200" y1="864.5" x2="205.8" y2="864.5" stroke="#000" stroke-width="1.2" />
<line x1="914" y1="864.5" x2="909" y2="864.5" stroke="#000" stroke-width="1.2" />
<text xml:space="preserve" x="195" y="871.27" font-size="19.44" text-anchor="end" fill="#000" >8</text>
<text xml:space="preserve" x="0" y="0" transform="translate(173 934.75) rotate(-90)" font-size="24" text-anchor="middle" fill="#000" >Kp</text>
<text xml:space="preserve" x="553" y="1065" font-size="24" text-anchor="middle" fill="#000" >October/November</text>
<text xml:space="preserve" x="557" y="1093" font-size="24" text-anchor="middle" fill="#000" >2019 (UT)</text>
<rect x="207.5" y="852.5" width="88" height="67" rx="3" fill="#fff" fill-opacity="0.8" stroke="#ccc" stroke-width="1"/>
<rect x="213" y="859" width="28" height="10.7" fill="#008000" />
<text xml:space="preserve" x="252.3" y="869.2" font-size="13.89" text-anchor="start" fill="#000" >Kp&lt;3</text>
<rect x="213" y="880" width="28" height="10.7" fill="#bfbf00" />
<text xml:space="preserve" x="252.3" y="890.2" font-size="13.89" text-anchor="start" fill="#000" >Kp&lt;5</text>
<rect x="213" y="901" width="28" height="10.7" fill="#ff0000" />
<text xml:space="preserve" x="252.3" y="911.2" font-size="13.89" text-anchor="start" fill="#000" >Kp&gt;5</text>
</g>
<g id="r1">
<line x1="1205" y1="282.5" x2="1800" y2="282.5" stroke="#000" stroke-width="2" stroke-dasharray="2.08 3.44"/>
<clipPath id="cr1"><rect x="1205" y="110" width="595" height="345"/></clipPath><g clip-path="url(#cr1)">
<path d="M1205.0 299.6 1205.3 307.0 1205.6 302.3 1205.8 272.1 1206.1 293.4 1206.4 290.7 1206.7 295.3 1207.0 286.4 1207.2 298.3 1207.5 290.9 1207.8 275.6 1208.1 306.8 1208.4 302.3 1208.6 310.6 1208.9 283.4 1209.2 277.9 1209.5 278.6 1209.8 269.8 1210.0 308.9 1210.3 274.3 1210.6 271.9 1210.9 284.0 1211.2 310.3 1211.4 289.7 1211.7 270.6 1212.0 274.6 1212.3 299.7 1212.6 286.6 1212.8 278.0 1213.1 290.2 1213.4 309.0 1213.7 316.6 1214.0 277.9 1214.2 288.9 1214.5 283.2 1214.8 264.5 1215.1 275.9 1215.4 273.5 1215.6 309.9 1215.9 288.9 1216.2 266.8 1216.5 302.6 1216.8 280.8 1217.0 264.5 1217.3 273.9 1217.6 274.5 1217.9 271.7 1218.2 289.0 1218.4 264.4 1218.7 284.5 1219.0 308.8 1219.3 304.4 1219.6 308.6 1219.8 310.5 1220.1 318.7 1220.4 275.5 1220.7 317.9 1221.0 272.0 1221.2 335.6 1221.5 273.9 1221.8 324.0 1222.1 324.3 1222.4 292.6 1222.6 322.6 1222.9 273.4 1223.2 291.4 1223.5 297.8 1223.8 277.0 1224.0 313.1 1224.3 327.9 1224.6 279.8 1224.9 319.7 1225.2 297.7 1225.4 327.7 1225.7 314.7 1226.0 317.4 1226.3 315.0 1226.6 302.9 1226.8 266.3 1227.1 319.4 1227.4 264.2 1227.7 292.2 1228.0 304.6 1228.2 273.4 1228.5 299.2 1228.8 321.3 1229.1 291.1 1229.4 268.0 1229.6 258.7 1229.9 264.2 1230.2 269.1 1230.5 271.2 1230.8 265.3 1231.0 293.7 1231.3 270.6 1231.6 280.6 1231.9 303.3 1232.2 267.1 1232.4 275.5 1232.7 326.7 1233.0 295.9 1233.3 258.8 1233.6 276.2 1233.8 300.7 1234.1 322.4 1234.4 302.3 1234.7 285.2 1235.0 279.1 1235.2 310.1 1235.5 294.4 1235.8 269.9 1236.1 272.7 1236.4 269.9 1236.6 301.4 1236.9 275.0 1237.2 311.6 1237.5 322.8 1237.8 317.4 1238.0 285.0 1238.3 329.5 1238.6 288.8 1238.9 315.6 1239.2 283.6 1239.4 266.8 1239.7 297.1 1240.0 337.3 1240.3 281.5 1240.6 287.5 1240.8 271.8 1241.1 272.5 1241.4 286.3 1241.7 330.9 1242.0 321.2 1242.2 296.4 1242.5 324.4 1242.8 352.0 1243.1 310.3 1243.4 331.1 1243.6 308.9 1243.9 278.7 1244.2 361.0 1244.5 314.2 1244.8 314.1 1245.0 330.5 1245.3 294.2 1245.6 323.9 1245.9 313.3 1246.2 292.1 1246.4 312.7 1246.7 306.1 1247.0 280.2 1247.3 328.1 1247.6 285.6 1247.8 316.1 1248.1 309.5 1248.4 312.0 1248.7 279.7 1249.0 293.4 1249.2 292.2 1249.5 320.5 1249.8 278.4 1250.1 295.4 1250.4 283.1 1250.6 264.8 1250.9 330.6 1251.2 278.1 1251.5 260.1 1251.8 312.6 1252.0 260.9 1252.3 285.6 1252.6 300.0 1252.9 264.7 1253.2 266.5 1253.4 261.7 1253.7 264.3 1254.0 252.1 1254.3 252.1 1254.6 262.1 1254.8 297.8 1255.1 294.1 1255.4 320.9 1255.7 304.1 1256.0 272.2 1256.2 284.8 1256.5 248.3 1256.8 263.4 1257.1 259.9 1257.4 289.6 1257.6 292.4 1257.9 253.3 1258.2 249.5 1258.5 243.6 1258.8 256.1 1259.0 270.7 1259.3 286.0 1259.6 260.3 1259.9 324.0 1260.2 316.7 1260.4 281.0 1260.7 266.5 1261.0 274.8 1261.3 296.1 1261.6 298.1 1261.8 313.3 1262.1 329.1 1262.4 322.9 1262.7 316.2 1263.0 275.0 1263.2 287.3 1263.5 267.3 1263.8 267.6 1264.1 325.7 1264.4 279.7 1264.6 327.0 1264.9 285.3 1265.2 303.1 1265.5 320.2 1265.8 296.7 1266.0 307.9 1266.3 330.4 1266.6 286.7 1266.9 297.4 1267.2 284.3 1267.4 325.1 1267.7 295.2 1268.0 323.6 1268.3 247.5 1268.6 279.9 1268.8 290.2 1269.1 264.9 1269.4 299.9 1269.7 291.6 1270.0 275.1 1270.2 301.6 1270.5 323.9 1270.8 302.5 1271.1 303.0 1271.4 281.4 1271.6 290.7 1271.9 258.2 1272.2 272.4 1272.5 319.3 1272.8 299.6 1273.0 293.4 1273.3 309.9 1273.6 319.7 1273.9 311.2 1274.2 320.3 1274.4 314.8 1274.7 293.9 1275.0 314.2 1275.3 258.3 1275.6 266.7 1275.8 281.6 1276.1 265.6 1276.4 280.2 1276.7 274.0 1277.0 273.5 1277.2 317.7 1277.5 294.8 1277.8 282.2 1278.1 309.2 1278.4 285.3 1278.6 307.8 1278.9 299.9 1279.2 313.8 1279.5 270.3 1279.8 305.1 1280.0 297.2 1280.3 277.4 1280.6 310.6 1280.9 280.7 1281.2 312.9 1281.4 301.6 1281.7 305.6 1282.0 300.3 1282.3 311.3 1282.6 276.3 1282.8 302.8 1283.1 288.2 1283.4 297.5 1283.7 286.8 1284.0 293.0 1284.2 273.5 1284.5 306.9 1284.8 310.8 1285.1 282.9 1285.4 288.8 1285.6 296.0 1285.9 307.8 1286.2 310.8 1286.5 277.1 1286.8 285.3 1287.0 282.1 1287.3 284.1 1287.6 278.6 1287.9 303.2 1288.2 279.4 1288.4 307.0 1288.7 298.6 1289.0 275.0 1289.3 276.6 1289.6 284.7 1289.8 308.2 1290.1 286.9 1290.4 279.5 1290.7 297.1 1291.0 301.0 1291.2 286.7 1291.5 309.7 1291.8 299.3 1292.1 302.1 1292.4 285.5 1292.6 298.0 1292.9 298.0 1293.2 276.8 1293.5 304.3 1293.8 279.3 1294.0 298.8 1294.3 280.8 1294.6 313.7 1294.9 302.6 1295.2 308.5 1295.4 308.8 1295.7 282.0 1296.0 278.2 1296.3 292.8 1296.6 309.8 1296.8 302.9 1297.1 312.0 1297.4 313.9 1297.7 287.5 1298.0 311.3 1298.2 317.8 1298.5 305.5 1298.8 287.2 1299.1 308.4 1299.4 303.3 1299.6 309.4 1299.9 291.4 1300.2 302.8 1300.5 276.6 1300.8 305.7 1301.0 307.9 1301.3 302.2 1301.6 272.9 1301.9 283.9 1302.2 270.9 1302.4 286.3 1302.7 283.3 1303.0 273.8 1303.3 288.8 1303.6 286.2 1303.8 296.3 1304.1 286.6 1304.4 288.1 1304.7 267.1 1305.0 270.9 1305.2 277.1 1305.5 286.1 1305.8 280.6 1306.1 294.6 1306.4 265.6 1306.6 268.2 1306.9 271.9 1307.2 267.5 1307.5 276.8 1307.8 267.6 1308.0 294.1 1308.3 272.9 1308.6 293.5 1308.9 279.6 1309.2 300.2 1309.4 268.9 1309.7 297.0 1310.0 286.0 1310.3 295.3 1310.6 303.1 1310.8 271.6 1311.1 269.0 1311.4 271.8 1311.7 289.8 1312.0 264.8 1312.2 280.8 1312.5 265.2 1312.8 265.2 1313.1 270.0 1313.4 282.8 1313.6 272.4 1313.9 277.4 1314.2 286.3 1314.5 280.9 1314.8 264.3 1315.0 277.4 1315.3 289.1 1315.6 308.5 1315.9 314.4 1316.2 308.9 1316.4 303.5 1316.7 285.7 1317.0 303.6 1317.3 310.6 1317.6 312.9 1317.8 278.0 1318.1 293.1 1318.4 298.0 1318.7 309.1 1319.0 278.9 1319.2 266.7 1319.5 264.9 1319.8 267.7 1320.1 265.5 1320.4 290.9 1320.6 298.5 1320.9 294.3 1321.2 304.5 1321.5 274.0 1321.8 288.9 1322.0 272.4 1322.3 278.0 1322.6 300.0 1322.9 273.7 1323.2 260.5 1323.4 273.5 1323.7 270.6 1324.0 266.0 1324.3 278.8 1324.6 313.1 1324.8 318.0 1325.1 293.0 1325.4 315.2 1325.7 317.2 1326.0 286.3 1326.2 309.1 1326.5 311.1 1326.8 314.1 1327.1 283.7 1327.4 301.9 1327.6 317.4 1327.9 318.2 1328.2 320.6 1328.5 295.7 1328.8 320.8 1329.0 311.2 1329.3 281.3 1329.6 312.6 1329.9 295.4 1330.2 309.4 1330.4 298.8 1330.7 317.3 1331.0 306.5 1331.3 300.7 1331.6 319.2 1331.8 312.7 1332.1 301.7 1332.4 320.4 1332.7 298.3 1333.0 294.1 1333.2 296.3 1333.5 285.9 1333.8 301.8 1334.1 322.8 1334.4 297.2 1334.6 308.4 1334.9 287.0 1335.2 288.8 1335.5 315.6 1335.8 307.1 1336.0 287.6 1336.3 301.4 1336.6 292.1 1336.9 296.0 1337.2 296.0 1337.4 296.7 1337.7 313.6 1338.0 315.0 1338.3 312.4 1338.6 300.6 1338.8 281.6 1339.1 295.3 1339.4 281.3 1339.7 305.6 1340.0 301.2 1340.2 306.8 1340.5 292.3 1340.8 276.4 1341.1 313.9 1341.4 314.5 1341.6 274.0 1341.9 286.8 1342.2 297.6 1342.5 269.7 1342.8 299.7 1343.0 271.3 1343.3 268.9 1343.6 306.6 1343.9 296.4 1344.2 285.1 1344.4 311.3 1344.7 270.6 1345.0 315.6 1345.3 288.8 1345.6 305.8 1345.8 293.0 1346.1 304.8 1346.4 308.7 1346.7 279.1 1347.0 305.8 1347.2 286.8 1347.5 277.8 1347.8 284.7 1348.1 269.9 1348.4 272.7 1348.6 303.4 1348.9 281.1 1349.2 301.9 1349.5 286.1 1349.8 263.9 1350.0 260.3 1350.3 272.9 1350.6 296.2 1350.9 295.3 1351.2 281.2 1351.4 311.3 1351.7 268.2 1352.0 275.8 1352.3 302.5 1352.6 315.5 1352.8 306.9 1353.1 280.5 1353.4 308.0 1353.7 308.8 1354.0 311.0 1354.2 289.2 1354.5 279.9 1354.8 296.2 1355.1 298.9 1355.4 312.1 1355.6 314.1 1355.9 268.4 1356.2 269.3 1356.5 274.6 1356.8 271.8 1357.0 287.4 1357.3 292.1 1357.6 293.2 1357.9 312.8 1358.2 293.2 1358.4 277.5 1358.7 270.4 1359.0 277.0 1359.3 276.2 1359.6 267.0 1359.8 302.7 1360.1 291.9 1360.4 280.6 1360.7 274.5 1361.0 268.8 1361.2 275.1 1361.5 316.3 1361.8 267.6 1362.1 290.2 1362.4 298.8 1362.6 285.9 1362.9 278.2 1363.2 296.4 1363.5 272.6 1363.8 300.9 1364.0 316.4 1364.3 284.2 1364.6 289.9 1364.9 304.8 1365.2 312.8 1365.4 313.6 1365.7 301.6 1366.0 279.6 1366.3 276.7 1366.6 301.3 1366.8 306.4 1367.1 281.9 1367.4 303.2 1367.7 310.2 1368.0 319.0 1368.2 293.1 1368.5 316.8 1368.8 289.2 1369.1 300.3 1369.4 304.3 1369.6 320.3 1369.9 322.8 1370.2 300.0 1370.5 300.6 1370.8 306.1 1371.0 273.8 1371.3 298.4 1371.6 274.4 1371.9 315.1 1372.2 314.9 1372.4 305.1 1372.7 287.9 1373.0 319.7 1373.3 310.0 1373.6 309.2 1373.8 314.1 1374.1 283.5 1374.4 309.7 1374.7 311.5 1375.0 299.1 1375.2 292.2 1375.5 280.5 1375.8 296.4 1376.1 291.4 1376.4 289.1 1376.6 283.8 1376.9 298.7 1377.2 304.0 1377.5 297.1 1377.8 303.7 1378.0 306.6 1378.3 307.4 1378.6 298.2 1378.9 294.8 1379.2 294.6 1379.4 299.8 1379.7 303.4 1380.0 304.2 1380.3 296.4 1380.6 299.8 1380.8 291.1 1381.1 304.8 1381.4 295.9 1381.7 300.8 1382.0 291.9 1382.2 293.2 1382.5 290.1 1382.8 304.7 1383.1 298.1 1383.4 296.5 1383.6 293.2 1383.9 296.4 1384.2 303.9 1384.5 307.1 1384.8 291.2 1385.0 293.2 1385.3 297.0 1385.6 293.5 1385.9 290.4 1386.2 296.3 1386.4 301.3 1386.7 291.5 1387.0 300.6 1387.3 306.2 1387.6 307.2 1387.8 301.1 1388.1 309.4 1388.4 305.6 1388.7 296.8 1389.0 305.5 1389.2 294.6 1389.5 303.8 1389.8 294.2 1390.1 303.2 1390.4 297.0 1390.6 307.9 1390.9 308.4 1391.2 309.4 1391.5 310.1 1391.8 311.9 1392.0 304.5 1392.3 311.9 1392.6 311.5 1392.9 310.6 1393.2 308.9 1393.4 313.1 1393.7 299.4 1394.0 302.1 1394.3 300.4 1394.6 310.2 1394.8 297.5 1395.1 313.2 1395.4 302.9 1395.7 297.1 1396.0 297.8 1396.2 298.7 1396.5 296.0 1396.8 291.0 1397.1 303.6 1397.4 302.3 1397.6 305.0 1397.9 289.4 1398.2 308.7 1398.5 311.5 1398.8 302.8 1399.0 291.8 1399.3 294.9 1399.6 312.6 1399.9 289.8 1400.2 285.3 1400.4 283.5 1400.7 287.6 1401.0 283.2 1401.3 283.0 1401.6 282.9 1401.8 291.7 1402.1 306.5 1402.4 302.1 1402.7 312.2 1403.0 308.6 1403.2 306.3 1403.5 302.5 1403.8 296.7 1404.1 302.2 1404.4 297.4 1404.6 290.6 1404.9 297.3 1405.2 297.6 1405.5 303.4 1405.8 300.6 1406.0 300.6 1406.3 287.2 1406.6 299.0 1406.9 308.2 1407.2 292.5 1407.4 312.8 1407.7 309.2 1408.0 306.0 1408.3 292.5 1408.6 308.8 1408.8 292.1 1409.1 293.2 1409.4 299.6 1409.7 289.8 1410.0 290.7 1410.2 291.2 1410.5 299.8 1410.8 305.9 1411.1 304.4 1411.4 301.5 1411.6 292.9 1411.9 293.5 1412.2 290.1 1412.5 307.7 1412.8 302.1 1413.0 293.7 1413.3 301.9 1413.6 311.1 1413.9 292.5 1414.2 291.3 1414.4 290.2 1414.7 284.0 1415.0 288.8 1415.3 296.2 1415.6 286.7 1415.8 305.4 1416.1 295.5 1416.4 293.9 1416.7 297.4 1417.0 288.3 1417.2 280.2 1417.5 281.5 1417.8 278.4 1418.1 278.6 1418.4 279.1 1418.6 291.4 1418.9 290.9 1419.2 285.9 1419.5 273.2 1419.8 277.6 1420.0 282.2 1420.3 277.2 1420.6 284.1 1420.9 299.5 1421.2 301.6 1421.4 298.5 1421.7 300.3 1422.0 298.5 1422.3 297.4 1422.6 294.7 1422.8 286.4 1423.1 288.4 1423.4 285.8 1423.7 305.2 1424.0 289.5 1424.2 287.6 1424.5 286.5 1424.8 287.3 1425.1 285.7 1425.4 290.6 1425.6 287.1 1425.9 295.9 1426.2 287.4 1426.5 297.1 1426.8 302.4 1427.0 288.3 1427.3 299.7 1427.6 301.7 1427.9 298.1 1428.2 297.7 1428.4 287.8 1428.7 305.8 1429.0 288.5 1429.3 287.0 1429.6 298.9 1429.8 286.8 1430.1 302.9 1430.4 298.3 1430.7 299.1 1431.0 294.5 1431.2 290.3 1431.5 289.1 1431.8 310.7 1432.1 296.5 1432.4 295.6 1432.6 310.6 1432.9 298.1 1433.2 302.9 1433.5 303.0 1433.8 301.8 1434.0 291.5 1434.3 290.7 1434.6 300.8 1434.9 296.7 1435.2 284.0 1435.4 284.9 1435.7 295.6 1436.0 293.3 1436.3 291.3 1436.6 299.5 1436.8 284.2 1437.1 300.5 1437.4 295.5 1437.7 301.0 1438.0 300.2 1438.2 303.3 1438.5 295.5 1438.8 290.3 1439.1 294.6 1439.4 287.4 1439.6 280.6 1439.9 291.3 1440.2 291.0 1440.5 294.7 1440.8 290.3 1441.0 291.6 1441.3 286.6 1441.6 280.5 1441.9 279.1 1442.2 277.1 1442.4 276.5 1442.7 277.1 1443.0 276.4 1443.3 276.4 1443.6 276.6 1443.8 278.8 1444.1 277.3 1444.4 277.6 1444.7 277.4 1445.0 278.1 1445.2 277.8 1445.5 281.5 1445.8 280.9 1446.1 280.8 1446.4 277.4 1446.6 281.5 1446.9 276.1 1447.2 275.7 1447.5 276.3 1447.8 276.9 1448.0 278.1 1448.3 276.1 1448.6 278.5 1448.9 280.9 1449.2 276.7 1449.4 277.1 1449.7 276.0 1450.0 278.4 1450.3 279.1 1450.6 278.5 1450.8 278.5 1451.1 280.0 1451.4 278.6 1451.7 281.4 1452.0 279.4 1452.2 280.8 1452.5 282.7 1452.8 281.9 1453.1 283.1 1453.4 283.3 1453.6 282.6 1453.9 280.6 1454.2 280.0 1454.5 282.8 1454.8 279.3 1455.0 281.3 1455.3 281.1 1455.6 281.9 1455.9 283.2 1456.2 281.4 1456.4 279.6 1456.7 283.4 1457.0 281.4 1457.3 281.6 1457.6 279.4 1457.8 280.6 1458.1 281.8 1458.4 282.8 1458.7 281.4 1459.0 282.4 1459.2 283.9 1459.5 283.9 1459.8 284.3 1460.1 282.4 1460.4 279.4 1460.6 284.4 1460.9 285.0 1461.2 285.2 1461.5 286.0 1461.8 285.6 1462.0 283.8 1462.3 285.8 1462.6 284.2 1462.9 286.1 1463.2 284.6 1463.4 284.9 1463.7 284.8 1464.0 285.4 1464.3 283.7 1464.6 287.1 1464.8 283.3 1465.1 287.9 1465.4 288.8 1465.7 290.0 1466.0 288.7 1466.2 286.8 1466.5 285.6 1466.8 290.7 1467.1 286.3 1467.4 288.1 1467.6 287.6 1467.9 288.7 1468.2 290.1 1468.5 290.5 1468.8 290.9 1469.0 291.3 1469.3 292.2 1469.6 296.2 1469.9 296.7 1470.2 296.7 1470.4 298.0 1470.7 295.9 1471.0 299.3 1471.3 299.3 1471.6 295.4 1471.8 296.8 1472.1 299.1 1472.4 296.5 1472.7 302.6 1473.0 303.0 1473.2 301.2 1473.5 304.6 1473.8 305.6 1474.1 303.2 1474.4 306.1 1474.6 305.8 1474.9 306.2 1475.2 307.4 1475.5 307.0 1475.8 305.3 1476.0 303.8 1476.3 305.2 1476.6 305.2 1476.9 303.3 1477.2 304.0 1477.4 306.2 1477.7 309.8 1478.0 310.2 1478.3 310.0 1478.6 310.4 1478.8 310.9 1479.1 308.6 1479.4 307.9 1479.7 308.3 1480.0 307.7 1480.2 311.3 1480.5 309.1 1480.8 312.6 1481.1 311.5 1481.4 309.5 1481.6 309.5 1481.9 303.0 1482.2 304.4 1482.5 300.3 1482.8 292.8 1483.0 290.2 1483.3 291.3 1483.6 286.4 1483.9 290.8 1484.2 295.0 1484.4 299.4 1484.7 292.1 1485.0 293.8 1485.3 297.0 1485.6 276.2 1485.8 287.4 1486.1 274.5 1486.4 272.0 1486.7 291.7 1487.0 276.7 1487.2 284.5 1487.5 271.6 1487.8 277.4 1488.1 269.5 1488.4 266.6 1488.6 266.0 1488.9 263.7 1489.2 269.6 1489.5 257.6 1489.8 257.7 1490.0 255.4 1490.3 259.3 1490.6 255.2 1490.9 279.4 1491.2 272.3 1491.4 277.0 1491.7 274.6 1492.0 278.1 1492.3 275.2 1492.6 274.9 1492.8 278.2 1493.1 279.5 1493.4 280.2 1493.7 278.0 1494.0 277.4 1494.2 275.3 1494.5 264.6 1494.8 250.6 1495.1 276.7 1495.4 279.3 1495.6 265.4 1495.9 264.1 1496.2 248.3 1496.5 272.6 1496.8 253.5 1497.0 280.4 1497.3 239.8 1497.6 257.2 1497.9 260.2 1498.2 243.8 1498.4 238.9 1498.7 242.6 1499.0 238.5 1499.3 240.2 1499.6 245.1 1499.8 248.0 1500.1 260.9 1500.4 276.9 1500.7 268.6 1501.0 271.7 1501.2 261.6 1501.5 275.4 1501.8 257.4 1502.1 274.1 1502.4 246.5 1502.6 254.1 1502.9 248.8 1503.2 261.9 1503.5 255.6 1503.8 249.2 1504.0 250.6 1504.3 263.3 1504.6 254.4 1504.9 262.6 1505.2 249.8 1505.4 252.9 1505.7 271.8 1506.0 277.0 1506.3 264.4 1506.6 272.5 1506.8 257.9 1507.1 274.2 1507.4 258.5 1507.7 256.7 1508.0 238.9 1508.2 249.3 1508.5 251.4 1508.8 260.3 1509.1 230.3 1509.4 245.3 1509.6 231.3 1509.9 232.8 1510.2 230.1 1510.5 227.2 1510.8 232.1 1511.0 268.4 1511.3 236.1 1511.6 247.8 1511.9 267.0 1512.2 230.4 1512.4 265.7 1512.7 259.6 1513.0 267.0 1513.3 269.7 1513.6 263.0 1513.8 260.6 1514.1 266.1 1514.4 265.0 1514.7 250.8 1515.0 255.3 1515.2 236.1 1515.5 262.9 1515.8 219.7 1516.1 227.9 1516.4 246.8 1516.6 231.6 1516.9 218.6 1517.2 214.4 1517.5 213.1 1517.8 226.4 1518.0 211.4 1518.3 207.0 1518.6 250.8 1518.9 208.0 1519.2 223.2 1519.4 236.9 1519.7 252.8 1520.0 250.2 1520.3 230.7 1520.6 247.0 1520.8 243.7 1521.1 231.0 1521.4 201.8 1521.7 253.1 1522.0 209.2 1522.2 201.2 1522.5 195.9 1522.8 192.3 1523.1 192.7 1523.4 194.8 1523.6 196.8 1523.9 205.2 1524.2 206.1 1524.5 228.5 1524.8 226.7 1525.0 250.3 1525.3 265.2 1525.6 253.2 1525.9 225.6 1526.2 242.1 1526.4 244.8 1526.7 264.9 1527.0 249.0 1527.3 253.8 1527.6 251.0 1527.8 290.7 1528.1 263.4 1528.4 254.6 1528.7 260.2 1529.0 233.6 1529.2 264.6 1529.5 250.0 1529.8 254.3 1530.1 241.9 1530.4 250.0 1530.6 266.8 1530.9 265.3 1531.2 278.4 1531.5 267.5 1531.8 248.6 1532.0 264.0 1532.3 265.0 1532.6 278.5 1532.9 274.1 1533.2 278.0 1533.4 273.6 1533.7 278.1 1534.0 280.8 1534.3 272.1 1534.6 270.0 1534.8 273.8 1535.1 282.8 1535.4 281.5 1535.7 282.1 1536.0 281.9 1536.2 287.9 1536.5 288.6 1536.8 289.5 1537.1 289.3 1537.4 289.7 1537.6 286.9 1537.9 288.4 1538.2 290.4 1538.5 281.0 1538.8 282.9 1539.0 291.2 1539.3 294.9 1539.6 287.5 1539.9 292.1 1540.2 292.7 1540.4 291.7 1540.7 290.8 1541.0 292.3 1541.3 296.6 1541.6 293.7 1541.8 290.1 1542.1 287.4 1542.4 285.8 1542.7 286.7 1543.0 291.6 1543.2 290.2 1543.5 291.9 1543.8 288.6 1544.1 287.5 1544.4 287.9 1544.6 287.4 1544.9 288.7 1545.2 289.5 1545.5 297.3 1545.8 291.4 1546.0 294.0 1546.3 289.8 1546.6 292.1 1546.9 293.7 1547.2 291.3 1547.4 295.0 1547.7 297.2 1548.0 302.0 1548.3 294.2 1548.6 295.4 1548.8 293.3 1549.1 293.0 1549.4 304.5 1549.7 307.8 1550.0 299.3 1550.2 311.0 1550.5 296.8 1550.8 304.5 1551.1 301.8 1551.4 292.2 1551.6 298.8 1551.9 291.6 1552.2 294.4 1552.5 296.6 1552.8 301.5 1553.0 298.1 1553.3 292.8 1553.6 295.7 1553.9 301.2 1554.2 296.1 1554.4 300.2 1554.7 292.6 1555.0 292.6 1555.3 291.8 1555.6 293.8 1555.8 300.9 1556.1 293.9 1556.4 299.8 1556.7 297.2 1557.0 297.8 1557.2 293.6 1557.5 294.4 1557.8 302.7 1558.1 290.8 1558.4 297.0 1558.6 301.5 1558.9 298.7 1559.2 308.4 1559.5 288.1 1559.8 307.9 1560.0 303.5 1560.3 307.1 1560.6 307.6 1560.9 309.7 1561.2 296.2 1561.4 311.1 1561.7 287.7 1562.0 314.4 1562.3 309.3 1562.6 296.4 1562.8 297.3 1563.1 290.9 1563.4 288.3 1563.7 287.1 1564.0 289.4 1564.2 278.2 1564.5 269.4 1564.8 269.3 1565.1 275.3 1565.4 272.2 1565.6 281.4 1565.9 278.9 1566.2 303.3 1566.5 273.3 1566.8 281.9 1567.0 292.7 1567.3 277.1 1567.6 275.8 1567.9 293.7 1568.2 271.9 1568.4 271.4 1568.7 271.0 1569.0 275.2 1569.3 282.0 1569.6 281.1 1569.8 311.8 1570.1 295.5 1570.4 300.6 1570.7 295.0 1571.0 306.2 1571.2 286.1 1571.5 277.7 1571.8 297.3 1572.1 293.1 1572.4 290.4 1572.6 274.4 1572.9 277.7 1573.2 283.2 1573.5 283.0 1573.8 277.6 1574.0 262.9 1574.3 250.8 1574.6 220.4 1574.9 221.0 1575.2 214.7 1575.4 220.0 1575.7 239.7 1576.0 271.3 1576.3 267.9 1576.6 245.3 1576.8 265.7 1577.1 247.9 1577.4 229.0 1577.7 188.8 1578.0 196.2 1578.2 178.9 1578.5 164.4 1578.8 162.6 1579.1 160.4 1579.4 182.8 1579.6 159.2 1579.9 156.8 1580.2 156.5 1580.5 179.6 1580.8 204.3 1581.0 162.0 1581.3 204.4 1581.6 181.1 1581.9 140.5 1582.2 176.9 1582.4 349.5 1582.7 207.3 1583.0 226.4 1583.3 193.8 1583.6 213.1 1583.8 217.9 1584.1 224.9 1584.4 211.9 1584.7 218.8 1585.0 236.7 1585.2 248.1 1585.5 232.3 1585.8 243.9 1586.1 239.3 1586.4 245.1 1586.6 241.5 1586.9 244.6 1587.2 244.4 1587.5 250.8 1587.8 262.6 1588.0 259.4 1588.3 265.6 1588.6 258.4 1588.9 267.9 1589.2 258.1 1589.4 261.0 1589.7 266.7 1590.0 263.8 1590.3 281.6 1590.6 281.6 1590.8 274.4 1591.1 278.7 1591.4 265.9 1591.7 267.5 1592.0 270.5 1592.2 265.1 1592.5 282.0 1592.8 270.8 1593.1 282.5 1593.4 275.2 1593.6 278.0 1593.9 269.6 1594.2 272.2 1594.5 270.5 1594.8 273.5 1595.0 280.9 1595.3 270.5 1595.6 273.7 1595.9 277.9 1596.2 282.3 1596.4 277.2 1596.7 276.0 1597.0 275.0 1597.3 279.4 1597.6 281.7 1597.8 278.8 1598.1 282.0 1598.4 283.6 1598.7 282.1 1599.0 278.1 1599.2 277.8 1599.5 271.0 1599.8 265.0 1600.1 263.8 1600.4 260.1 1600.6 268.1 1600.9 273.1 1601.2 274.5 1601.5 266.4 1601.8 275.9 1602.0 276.8 1602.3 276.6 1602.6 272.9 1602.9 272.7 1603.2 259.6 1603.4 255.5 1603.7 248.0 1604.0 252.1 1604.3 262.1 1604.6 260.5 1604.8 236.0 1605.1 242.5 1605.4 246.6 1605.7 234.3 1606.0 229.5 1606.2 258.5 1606.5 247.6 1606.8 250.9 1607.1 265.3 1607.4 258.2 1607.6 260.3 1607.9 263.8 1608.2 249.2 1608.5 240.4 1608.8 257.8 1609.0 253.0 1609.3 262.0 1609.6 262.5 1609.9 255.9 1610.2 261.5 1610.4 257.9 1610.7 258.1 1611.0 259.7 1611.3 263.0 1611.6 263.7 1611.8 254.5 1612.1 267.1 1612.4 253.7 1612.7 269.7 1613.0 254.4 1613.2 257.0 1613.5 264.8 1613.8 254.1 1614.1 248.8 1614.4 251.8 1614.6 268.1 1614.9 270.6 1615.2 272.2 1615.5 270.5 1615.8 262.9 1616.0 264.7 1616.3 267.8 1616.6 251.6 1616.9 276.1 1617.2 256.6 1617.4 267.6 1617.7 268.4 1618.0 258.2 1618.3 255.4 1618.6 260.6 1618.8 270.8 1619.1 257.4 1619.4 277.3 1619.7 275.7 1620.0 275.4 1620.2 281.0 1620.5 282.4 1620.8 285.2 1621.1 280.5 1621.4 288.7 1621.6 272.8 1621.9 279.1 1622.2 277.1 1622.5 283.5 1622.8 277.9 1623.0 282.6 1623.3 272.8 1623.6 284.2 1623.9 280.9 1624.2 272.9 1624.4 266.8 1624.7 267.4 1625.0 264.7 1625.3 277.8 1625.6 274.0 1625.8 264.6 1626.1 285.1 1626.4 276.0 1626.7 267.4 1627.0 286.3 1627.2 286.3 1627.5 278.9 1627.8 271.4 1628.1 282.0 1628.4 271.0 1628.6 272.9 1628.9 275.8 1629.2 275.7 1629.5 273.1 1629.8 272.4 1630.0 282.7 1630.3 269.7 1630.6 281.7 1630.9 281.5 1631.2 282.6 1631.4 275.9 1631.7 278.2 1632.0 280.5 1632.3 267.0 1632.6 271.3 1632.8 273.3 1633.1 264.7 1633.4 266.5 1633.7 286.6 1634.0 281.8 1634.2 267.2 1634.5 283.1 1634.8 285.2 1635.1 296.8 1635.4 298.1 1635.6 279.3 1635.9 297.5 1636.2 299.9 1636.5 300.1 1636.8 296.5 1637.0 288.0 1637.3 291.1 1637.6 279.7 1637.9 280.4 1638.2 278.5 1638.4 283.6 1638.7 282.4 1639.0 282.2 1639.3 276.9 1639.6 276.2 1639.8 279.9 1640.1 294.9 1640.4 278.9 1640.7 294.8 1641.0 298.1 1641.2 275.9 1641.5 276.5 1641.8 285.7 1642.1 286.3 1642.4 278.0 1642.6 287.1 1642.9 294.2 1643.2 295.0 1643.5 299.7 1643.8 297.7 1644.0 299.1 1644.3 276.7 1644.6 292.4 1644.9 287.8 1645.2 279.8 1645.4 281.6 1645.7 285.1 1646.0 281.2 1646.3 279.2 1646.6 285.1 1646.8 279.0 1647.1 274.3 1647.4 273.1 1647.7 271.2 1648.0 271.9 1648.2 273.9 1648.5 273.9 1648.8 292.1 1649.1 286.8 1649.4 288.4 1649.6 289.3 1649.9 283.7 1650.2 283.2 1650.5 293.1 1650.8 267.6 1651.0 279.9 1651.3 276.6 1651.6 288.7 1651.9 279.8 1652.2 293.5 1652.4 284.1 1652.7 292.5 1653.0 268.2 1653.3 288.3 1653.6 291.5 1653.8 276.0 1654.1 298.6 1654.4 288.9 1654.7 300.5 1655.0 294.6 1655.2 294.3 1655.5 285.2 1655.8 272.1 1656.1 287.9 1656.4 285.5 1656.6 274.2 1656.9 284.1 1657.2 287.5 1657.5 282.8 1657.8 280.9 1658.0 296.8 1658.3 278.6 1658.6 281.7 1658.9 284.3 1659.2 272.4 1659.4 268.9 1659.7 277.0 1660.0 268.0 1660.3 272.4 1660.6 305.2 1660.8 280.0 1661.1 291.9 1661.4 275.4 1661.7 280.7 1662.0 280.0 1662.2 265.9 1662.5 271.7 1662.8 283.2 1663.1 287.1 1663.4 285.1 1663.6 277.4 1663.9 288.1 1664.2 282.7 1664.5 280.7 1664.8 284.4 1665.0 291.6 1665.3 276.6 1665.6 284.6 1665.9 279.2 1666.2 272.1 1666.4 273.2 1666.7 275.6 1667.0 273.6 1667.3 275.6 1667.6 271.0 1667.8 270.8 1668.1 279.5 1668.4 276.4 1668.7 274.3 1669.0 279.4 1669.2 284.6 1669.5 274.8 1669.8 268.9 1670.1 273.7 1670.4 274.8 1670.6 270.3 1670.9 265.3 1671.2 264.8 1671.5 277.5 1671.8 275.5 1672.0 281.2 1672.3 281.4 1672.6 282.7 1672.9 282.4 1673.2 282.0 1673.4 281.6 1673.7 274.7 1674.0 275.4 1674.3 268.6 1674.6 259.1 1674.8 260.4 1675.1 260.6 1675.4 260.9 1675.7 274.4 1676.0 279.1 1676.2 277.9 1676.5 267.3 1676.8 261.5 1677.1 271.9 1677.4 263.7 1677.6 265.6 1677.9 261.5 1678.2 260.4 1678.5 280.9 1678.8 268.5 1679.0 267.1 1679.3 258.9 1679.6 266.8 1679.9 258.0 1680.2 258.2 1680.4 259.2 1680.7 261.9 1681.0 277.1 1681.3 262.7 1681.6 279.9 1681.8 273.5 1682.1 272.7 1682.4 266.5 1682.7 269.0 1683.0 256.5 1683.2 257.5 1683.5 262.6 1683.8 257.1 1684.1 259.2 1684.4 270.5 1684.6 274.8 1684.9 278.0 1685.2 284.3 1685.5 283.1 1685.8 289.3 1686.0 284.0 1686.3 277.2 1686.6 286.3 1686.9 267.3 1687.2 265.4 1687.4 264.9 1687.7 268.6 1688.0 265.3 1688.3 270.2 1688.6 275.3 1688.8 283.8 1689.1 276.9 1689.4 279.9 1689.7 283.6 1690.0 267.5 1690.2 264.0 1690.5 259.2 1690.8 260.0 1691.1 258.1 1691.4 261.9 1691.6 271.3 1691.9 281.9 1692.2 284.1 1692.5 282.4 1692.8 284.3 1693.0 272.0 1693.3 285.2 1693.6 285.0 1693.9 268.2 1694.2 272.6 1694.4 268.9 1694.7 273.7 1695.0 261.9 1695.3 257.3 1695.6 266.2 1695.8 257.5 1696.1 261.7 1696.4 258.6 1696.7 259.5 1697.0 266.9 1697.2 268.3 1697.5 259.5 1697.8 259.4 1698.1 259.8 1698.4 260.1 1698.6 260.4 1698.9 262.2 1699.2 261.4 1699.5 268.8 1699.8 264.6 1700.0 266.7 1700.3 262.8 1700.6 265.5 1700.9 277.5 1701.2 287.6 1701.4 287.8 1701.7 287.1 1702.0 277.0 1702.3 290.6 1702.6 289.7 1702.8 288.0 1703.1 295.7 1703.4 278.8 1703.7 294.6 1704.0 273.3 1704.2 271.8 1704.5 275.8 1704.8 267.6 1705.1 275.5 1705.4 282.6 1705.6 269.3 1705.9 275.8 1706.2 268.4 1706.5 270.3 1706.8 274.8 1707.0 259.0 1707.3 258.7 1707.6 262.5 1707.9 259.9 1708.2 274.2 1708.4 271.1 1708.7 268.9 1709.0 260.1 1709.3 262.8 1709.6 272.6 1709.8 272.3 1710.1 261.2 1710.4 261.1 1710.7 259.9 1711.0 259.9 1711.2 260.2 1711.5 268.2 1711.8 261.5 1712.1 266.5 1712.4 281.0 1712.6 271.8 1712.9 280.0 1713.2 286.2 1713.5 283.2 1713.8 284.3 1714.0 275.7 1714.3 280.2 1714.6 273.1 1714.9 264.4 1715.2 266.3 1715.4 274.3 1715.7 277.5 1716.0 278.0 1716.3 280.6 1716.6 273.9 1716.8 271.5 1717.1 271.3 1717.4 261.9 1717.7 272.3 1718.0 273.5 1718.2 277.0 1718.5 264.6 1718.8 265.9 1719.1 269.1 1719.4 267.7 1719.6 265.2 1719.9 278.9 1720.2 273.8 1720.5 277.0 1720.8 268.8 1721.0 279.8 1721.3 274.5 1721.6 275.6 1721.9 284.5 1722.2 285.9 1722.4 283.1 1722.7 286.8 1723.0 287.3 1723.3 284.5 1723.6 274.8 1723.8 283.4 1724.1 286.9 1724.4 282.5 1724.7 289.6 1725.0 286.5 1725.2 284.7 1725.5 285.9 1725.8 279.8 1726.1 282.1 1726.4 279.5 1726.6 282.1" fill="none" stroke="#000" stroke-width="2.2" stroke-linejoin="round" />
<path d="M1205.0 261.0 1205.3 258.4 1205.6 260.6 1205.8 262.3 1206.1 256.1 1206.4 259.9 1206.7 259.8 1207.0 252.5 1207.2 264.5 1207.5 262.7 1207.8 255.3 1208.1 257.5 1208.4 261.4 1208.6 256.0 1208.9 255.7 1209.2 249.9 1209.5 260.3 1209.8 257.0 1210.0 257.7 1210.3 248.1 1210.6 265.0 1210.9 255.8 1211.2 251.6 1211.4 265.9 1211.7 253.1 1212.0 245.7 1212.3 249.3 1212.6 243.9 1212.8 259.6 1213.1 246.9 1213.4 244.6 1213.7 257.8 1214.0 241.8 1214.2 252.2 1214.5 240.7 1214.8 243.2 1215.1 241.1 1215.4 262.8 1215.6 264.8 1215.9 247.8 1216.2 260.5 1216.5 250.6 1216.8 258.7 1217.0 245.1 1217.3 239.4 1217.6 239.2 1217.9 255.4 1218.2 265.6 1218.4 253.0 1218.7 244.9 1219.0 264.2 1219.3 251.7 1219.6 250.3 1219.8 251.8 1220.1 248.1 1220.4 246.5 1220.7 240.5 1221.0 254.1 1221.2 248.4 1221.5 259.7 1221.8 246.0 1222.1 240.2 1222.4 248.3 1222.6 262.1 1222.9 246.4 1223.2 243.6 1223.5 242.5 1223.8 243.5 1224.0 248.9 1224.3 243.5 1224.6 261.9 1224.9 250.1 1225.2 253.7 1225.4 261.8 1225.7 261.9 1226.0 250.9 1226.3 255.3 1226.6 258.0 1226.8 250.1 1227.1 241.2 1227.4 256.6 1227.7 258.1 1228.0 254.6 1228.2 244.2 1228.5 249.7 1228.8 246.8 1229.1 249.5 1229.4 301.3 1229.6 261.4 1229.9 258.1 1230.2 257.5 1230.5 258.5 1230.8 253.9 1231.0 253.7 1231.3 248.7 1231.6 253.9 1231.9 262.0 1232.2 259.3 1232.4 250.1 1232.7 248.1 1233.0 244.2 1233.3 253.5 1233.6 252.6 1233.8 239.9 1234.1 251.6 1234.4 242.5 1234.7 258.8 1235.0 247.5 1235.2 261.1 1235.5 243.0 1235.8 244.6 1236.1 250.7 1236.4 258.9 1236.6 255.1 1236.9 281.6 1237.2 252.6 1237.5 251.4 1237.8 247.2 1238.0 245.5 1238.3 266.2 1238.6 249.0 1238.9 244.8 1239.2 261.5 1239.4 257.0 1239.7 255.4 1240.0 264.5 1240.3 262.6 1240.6 261.6 1240.8 266.4 1241.1 260.0 1241.4 247.9 1241.7 249.7 1242.0 246.4 1242.2 254.1 1242.5 239.4 1242.8 236.4 1243.1 248.7 1243.4 236.9 1243.6 235.6 1243.9 250.7 1244.2 239.1 1244.5 252.3 1244.8 240.5 1245.0 236.8 1245.3 236.3 1245.6 240.8 1245.9 243.0 1246.2 237.9 1246.4 242.2 1246.7 234.6 1247.0 245.0 1247.3 233.9 1247.6 242.6 1247.8 255.6 1248.1 262.1 1248.4 269.1 1248.7 234.3 1249.0 260.7 1249.2 266.0 1249.5 262.9 1249.8 237.3 1250.1 253.5 1250.4 266.4 1250.6 232.2 1250.9 250.3 1251.2 256.8 1251.5 234.4 1251.8 248.3 1252.0 231.3 1252.3 232.5 1252.6 232.4 1252.9 242.6 1253.2 239.5 1253.4 251.0 1253.7 231.6 1254.0 239.3 1254.3 249.5 1254.6 245.1 1254.8 226.5 1255.1 243.1 1255.4 229.5 1255.7 236.7 1256.0 234.3 1256.2 242.8 1256.5 230.6 1256.8 219.5 1257.1 219.9 1257.4 238.2 1257.6 214.5 1257.9 243.6 1258.2 238.0 1258.5 228.4 1258.8 245.3 1259.0 230.2 1259.3 220.6 1259.6 247.1 1259.9 221.4 1260.2 244.0 1260.4 245.0 1260.7 239.0 1261.0 220.8 1261.3 243.8 1261.6 220.9 1261.8 220.8 1262.1 227.6 1262.4 238.9 1262.7 232.9 1263.0 237.7 1263.2 224.2 1263.5 226.4 1263.8 219.9 1264.1 225.3 1264.4 235.3 1264.6 226.2 1264.9 235.1 1265.2 224.8 1265.5 225.1 1265.8 232.3 1266.0 230.5 1266.3 238.8 1266.6 235.6 1266.9 244.5 1267.2 233.5 1267.4 234.2 1267.7 228.5 1268.0 237.4 1268.3 241.1 1268.6 232.8 1268.8 237.7 1269.1 240.9 1269.4 237.3 1269.7 234.9 1270.0 240.3 1270.2 237.3 1270.5 238.0 1270.8 239.6 1271.1 239.2 1271.4 233.3 1271.6 232.1 1271.9 235.6 1272.2 233.5 1272.5 228.2 1272.8 238.4 1273.0 234.3 1273.3 237.0 1273.6 229.7 1273.9 239.2 1274.2 232.8 1274.4 235.8 1274.7 230.0 1275.0 236.0 1275.3 235.7 1275.6 236.0 1275.8 240.8 1276.1 238.1 1276.4 245.9 1276.7 234.9 1277.0 232.1 1277.2 239.2 1277.5 245.7 1277.8 250.7 1278.1 248.4 1278.4 228.7 1278.6 246.0 1278.9 253.5 1279.2 244.4 1279.5 238.7 1279.8 248.0 1280.0 239.5 1280.3 251.3 1280.6 245.2 1280.9 255.0 1281.2 249.8 1281.4 234.9 1281.7 250.0 1282.0 252.3 1282.3 234.7 1282.6 235.8 1282.8 223.9 1283.1 250.7 1283.4 232.9 1283.7 224.5 1284.0 225.4 1284.2 237.4 1284.5 249.6 1284.8 239.7 1285.1 247.0 1285.4 229.7 1285.6 228.5 1285.9 252.3 1286.2 248.6 1286.5 242.5 1286.8 255.6 1287.0 232.4 1287.3 237.9 1287.6 254.1 1287.9 258.2 1288.2 243.3 1288.4 257.9 1288.7 236.4 1289.0 247.8 1289.3 241.8 1289.6 229.6 1289.8 247.0 1290.1 253.9 1290.4 241.2 1290.7 241.5 1291.0 256.2 1291.2 230.5 1291.5 229.5 1291.8 233.3 1292.1 230.3 1292.4 253.9 1292.6 242.5 1292.9 232.2 1293.2 234.4 1293.5 260.8 1293.8 236.1 1294.0 235.5 1294.3 247.8 1294.6 251.9 1294.9 247.1 1295.2 234.8 1295.4 232.8 1295.7 248.8 1296.0 239.8 1296.3 230.7 1296.6 251.1 1296.8 245.7 1297.1 235.3 1297.4 235.5 1297.7 240.6 1298.0 234.3 1298.2 232.5 1298.5 248.2 1298.8 234.5 1299.1 254.0 1299.4 237.5 1299.6 252.6 1299.9 253.1 1300.2 262.1 1300.5 243.4 1300.8 239.9 1301.0 246.0 1301.3 240.9 1301.6 244.6 1301.9 253.7 1302.2 256.2 1302.4 261.1 1302.7 242.8 1303.0 262.8 1303.3 262.3 1303.6 250.1 1303.8 239.5 1304.1 253.7 1304.4 256.0 1304.7 241.1 1305.0 257.4 1305.2 255.8 1305.5 251.3 1305.8 261.1 1306.1 262.4 1306.4 254.5 1306.6 259.5 1306.9 253.2 1307.2 252.1 1307.5 258.4 1307.8 260.6 1308.0 253.2 1308.3 244.8 1308.6 260.6 1308.9 246.8 1309.2 257.8 1309.4 263.8 1309.7 257.1 1310.0 249.4 1310.3 248.4 1310.6 263.1 1310.8 257.6 1311.1 260.8 1311.4 262.3 1311.7 256.6 1312.0 254.3 1312.2 250.2 1312.5 247.3 1312.8 248.3 1313.1 253.4 1313.4 252.4 1313.6 255.5 1313.9 252.3 1314.2 253.9 1314.5 257.9 1314.8 250.3 1315.0 252.7 1315.3 249.9 1315.6 261.1 1315.9 256.3 1316.2 259.8 1316.4 264.9 1316.7 263.9 1317.0 258.5 1317.3 263.6 1317.6 253.0 1317.8 262.6 1318.1 261.2 1318.4 253.3 1318.7 266.5 1319.0 256.9 1319.2 264.4 1319.5 258.3 1319.8 265.6 1320.1 266.8 1320.4 256.4 1320.6 254.7 1320.9 260.3 1321.2 265.9 1321.5 259.9 1321.8 259.2 1322.0 265.7 1322.3 255.3 1322.6 260.8 1322.9 257.9 1323.2 266.2 1323.4 260.7 1323.7 258.6 1324.0 262.4 1324.3 256.5 1324.6 263.1 1324.8 258.6 1325.1 259.3 1325.4 256.8 1325.7 264.6 1326.0 258.6 1326.2 261.7 1326.5 261.1 1326.8 254.5 1327.1 261.5 1327.4 260.3 1327.6 260.4 1327.9 256.7 1328.2 256.9 1328.5 263.5 1328.8 265.8 1329.0 255.3 1329.3 262.5 1329.6 257.6 1329.9 262.9 1330.2 261.1 1330.4 263.1 1330.7 249.2 1331.0 253.9 1331.3 251.1 1331.6 255.2 1331.8 250.6 1332.1 250.2 1332.4 258.2 1332.7 262.2 1333.0 242.8 1333.2 249.8 1333.5 254.4 1333.8 251.7 1334.1 248.6 1334.4 241.4 1334.6 243.2 1334.9 256.6 1335.2 258.2 1335.5 251.2 1335.8 241.9 1336.0 250.5 1336.3 246.7 1336.6 253.5 1336.9 249.0 1337.2 241.2 1337.4 248.6 1337.7 236.6 1338.0 254.0 1338.3 256.5 1338.6 236.3 1338.8 251.0 1339.1 237.7 1339.4 256.4 1339.7 255.5 1340.0 245.7 1340.2 256.2 1340.5 244.4 1340.8 242.6 1341.1 243.4 1341.4 247.2 1341.6 245.3 1341.9 249.2 1342.2 242.3 1342.5 253.3 1342.8 254.7 1343.0 243.2 1343.3 238.1 1343.6 252.9 1343.9 255.0 1344.2 246.9 1344.4 239.9 1344.7 250.6 1345.0 255.9 1345.3 238.7 1345.6 252.2 1345.8 247.1 1346.1 243.6 1346.4 252.0 1346.7 241.5 1347.0 250.6 1347.2 254.4 1347.5 250.3 1347.8 244.2 1348.1 240.6 1348.4 242.8 1348.6 240.7 1348.9 258.3 1349.2 251.3 1349.5 245.4 1349.8 284.9 1350.0 244.7 1350.3 249.9 1350.6 242.0 1350.9 261.5 1351.2 243.9 1351.4 242.9 1351.7 251.7 1352.0 261.1 1352.3 260.6 1352.6 244.1 1352.8 251.9 1353.1 251.8 1353.4 257.3 1353.7 255.7 1354.0 244.1 1354.2 242.4 1354.5 258.6 1354.8 243.9 1355.1 269.1 1355.4 258.3 1355.6 245.2 1355.9 252.9 1356.2 250.3 1356.5 254.8 1356.8 266.8 1357.0 242.5 1357.3 241.2 1357.6 262.0 1357.9 256.7 1358.2 261.8 1358.4 265.6 1358.7 227.3 1359.0 269.5 1359.3 251.7 1359.6 262.9 1359.8 252.3 1360.1 249.3 1360.4 267.7 1360.7 267.1 1361.0 245.3 1361.2 249.8 1361.5 265.5 1361.8 272.5 1362.1 257.3 1362.4 264.2 1362.6 252.5 1362.9 276.3 1363.2 272.6 1363.5 274.9 1363.8 274.3 1364.0 275.9 1364.3 274.8 1364.6 266.5 1364.9 275.9 1365.2 270.4 1365.4 279.0 1365.7 259.8 1366.0 262.1 1366.3 276.3 1366.6 280.7 1366.8 271.0 1367.1 259.3 1367.4 267.5 1367.7 262.1 1368.0 285.3 1368.2 280.5 1368.5 283.7 1368.8 274.0 1369.1 261.2 1369.4 284.6 1369.6 288.0 1369.9 279.7 1370.2 271.1 1370.5 286.2 1370.8 265.7 1371.0 283.7 1371.3 259.8 1371.6 255.9 1371.9 294.7 1372.2 275.3 1372.4 292.0 1372.7 263.2 1373.0 267.3 1373.3 253.4 1373.6 251.1 1373.8 251.6 1374.1 271.9 1374.4 254.2 1374.7 281.2 1375.0 284.7 1375.2 262.5 1375.5 287.2 1375.8 271.1 1376.1 283.6 1376.4 267.7 1376.6 283.5 1376.9 262.7 1377.2 282.1 1377.5 270.6 1377.8 275.8 1378.0 284.3 1378.3 280.6 1378.6 278.4 1378.9 285.3 1379.2 285.5 1379.4 266.0 1379.7 283.3 1380.0 283.6 1380.3 270.7 1380.6 281.2 1380.8 266.8 1381.1 287.6 1381.4 275.4 1381.7 277.2 1382.0 287.5 1382.2 277.8 1382.5 285.2 1382.8 272.3 1383.1 277.3 1383.4 272.2 1383.6 283.1 1383.9 291.4 1384.2 288.6 1384.5 292.1 1384.8 280.3 1385.0 282.2 1385.3 286.2 1385.6 292.7 1385.9 291.7 1386.2 289.1 1386.4 292.5 1386.7 286.3 1387.0 286.3 1387.3 294.3 1387.6 280.5 1387.8 285.7 1388.1 295.3 1388.4 285.0 1388.7 290.1 1389.0 281.2 1389.2 297.5 1389.5 278.1 1389.8 281.0 1390.1 282.3 1390.4 298.5 1390.6 294.3 1390.9 290.7 1391.2 283.9 1391.5 295.9 1391.8 294.7 1392.0 289.0 1392.3 283.9 1392.6 286.7 1392.9 296.4 1393.2 297.3 1393.4 296.4 1393.7 295.2 1394.0 284.5 1394.3 296.7 1394.6 288.8 1394.8 296.3 1395.1 298.4 1395.4 290.0 1395.7 287.2 1396.0 299.8 1396.2 295.9 1396.5 288.6 1396.8 283.5 1397.1 292.7 1397.4 297.8 1397.6 300.6 1397.9 290.1 1398.2 291.1 1398.5 293.3 1398.8 301.0 1399.0 289.6 1399.3 296.9 1399.6 291.5 1399.9 299.0 1400.2 284.0 1400.4 293.8 1400.7 288.5 1401.0 289.6 1401.3 293.1 1401.6 294.9 1401.8 282.4 1402.1 293.9 1402.4 291.9 1402.7 287.3 1403.0 294.3 1403.2 289.8 1403.5 293.8 1403.8 286.0 1404.1 285.1 1404.4 294.3 1404.6 295.6 1404.9 293.1 1405.2 294.3 1405.5 288.5 1405.8 285.1 1406.0 290.1 1406.3 296.3 1406.6 284.3 1406.9 288.8 1407.2 284.6 1407.4 291.8 1407.7 295.3 1408.0 286.2 1408.3 289.3 1408.6 297.1 1408.8 291.2 1409.1 286.9 1409.4 286.9 1409.7 286.2 1410.0 296.1 1410.2 289.2 1410.5 297.7 1410.8 297.2 1411.1 290.2 1411.4 291.0 1411.6 297.5 1411.9 294.6 1412.2 295.2 1412.5 288.5 1412.8 298.2 1413.0 290.1 1413.3 288.5 1413.6 290.8 1413.9 295.3 1414.2 301.3 1414.4 291.7 1414.7 289.6 1415.0 301.5 1415.3 294.6 1415.6 293.1 1415.8 290.8 1416.1 291.4 1416.4 301.5 1416.7 295.4 1417.0 294.8 1417.2 295.5 1417.5 302.4 1417.8 295.9 1418.1 301.1 1418.4 300.1 1418.6 300.1 1418.9 295.2 1419.2 301.4 1419.5 302.8 1419.8 298.5 1420.0 294.4 1420.3 293.0 1420.6 298.6 1420.9 296.3 1421.2 297.0 1421.4 297.4 1421.7 292.6 1422.0 300.5 1422.3 298.2 1422.6 296.8 1422.8 298.0 1423.1 300.9 1423.4 297.2 1423.7 294.2 1424.0 301.8 1424.2 295.7 1424.5 294.9 1424.8 293.4 1425.1 298.1 1425.4 294.6 1425.6 296.4 1425.9 300.7 1426.2 299.1 1426.5 303.0 1426.8 300.5 1427.0 297.4 1427.3 297.6 1427.6 296.9 1427.9 301.9 1428.2 299.1 1428.4 297.3 1428.7 302.8 1429.0 299.7 1429.3 297.4 1429.6 294.6 1429.8 301.9 1430.1 301.1 1430.4 300.3 1430.7 298.2 1431.0 296.6 1431.2 299.1 1431.5 301.3 1431.8 299.7 1432.1 299.6 1432.4 298.2 1432.6 302.1 1432.9 301.6 1433.2 297.2 1433.5 304.1 1433.8 304.1 1434.0 304.1 1434.3 299.3 1434.6 299.0 1434.9 295.9 1435.2 303.6 1435.4 295.1 1435.7 298.2 1436.0 298.4 1436.3 304.3 1436.6 300.1 1436.8 297.1 1437.1 296.6 1437.4 298.2 1437.7 301.9 1438.0 302.1 1438.2 301.5 1438.5 299.9 1438.8 302.6 1439.1 308.7 1439.4 299.8 1439.6 305.4 1439.9 311.0 1440.2 308.7 1440.5 304.0 1440.8 309.4 1441.0 302.6 1441.3 306.2 1441.6 311.8 1441.9 312.3 1442.2 300.0 1442.4 308.9 1442.7 312.6 1443.0 302.9 1443.3 306.7 1443.6 312.0 1443.8 303.7 1444.1 308.4 1444.4 306.4 1444.7 301.5 1445.0 309.3 1445.2 307.1 1445.5 312.1 1445.8 314.1 1446.1 311.5 1446.4 307.0 1446.6 310.6 1446.9 309.4 1447.2 312.5 1447.5 303.7 1447.8 304.2 1448.0 303.5 1448.3 310.2 1448.6 307.5 1448.9 305.6 1449.2 305.6 1449.4 306.1 1449.7 305.5 1450.0 307.3 1450.3 307.1 1450.6 314.2 1450.8 310.9 1451.1 306.9 1451.4 307.9 1451.7 314.4 1452.0 312.3 1452.2 311.9 1452.5 313.5 1452.8 315.4 1453.1 264.3 1453.4 308.5 1453.6 320.0 1453.9 313.2 1454.2 310.0 1454.5 309.0 1454.8 308.8 1455.0 314.0 1455.3 311.1 1455.6 309.7 1455.9 315.4 1456.2 308.4 1456.4 308.0 1456.7 316.5 1457.0 310.5 1457.3 310.0 1457.6 309.5 1457.8 311.5 1458.1 314.6 1458.4 314.5 1458.7 314.0 1459.0 311.3 1459.2 328.0 1459.5 313.6 1459.8 316.5 1460.1 316.1 1460.4 313.2 1460.6 316.0 1460.9 313.1 1461.2 314.3 1461.5 310.7 1461.8 313.6 1462.0 314.8 1462.3 313.6 1462.6 315.9 1462.9 317.2 1463.2 316.5 1463.4 311.9 1463.7 310.7 1464.0 310.8 1464.3 310.3 1464.6 312.5 1464.8 313.7 1465.1 313.2 1465.4 313.4 1465.7 313.6 1466.0 313.0 1466.2 311.7 1466.5 317.8 1466.8 316.9 1467.1 312.0 1467.4 312.2 1467.6 313.2 1467.9 315.2 1468.2 318.2 1468.5 318.0 1468.8 318.3 1469.0 318.5 1469.3 318.7 1469.6 318.3 1469.9 317.8 1470.2 316.4 1470.4 312.6 1470.7 316.5 1471.0 319.9 1471.3 315.3 1471.6 315.0 1471.8 319.3 1472.1 317.0 1472.4 315.4 1472.7 320.3 1473.0 318.8 1473.2 319.3 1473.5 315.7 1473.8 319.0 1474.1 318.8 1474.4 319.9 1474.6 320.6 1474.9 320.7 1475.2 318.4 1475.5 319.8 1475.8 315.0 1476.0 319.5 1476.3 319.5 1476.6 316.2 1476.9 315.2 1477.2 316.6 1477.4 314.5 1477.7 317.6 1478.0 317.5 1478.3 314.7 1478.6 317.0 1478.8 319.7 1479.1 319.7 1479.4 319.6 1479.7 316.8 1480.0 316.4 1480.2 316.2 1480.5 318.5 1480.8 320.0 1481.1 319.0 1481.4 318.4 1481.6 317.4 1481.9 311.5 1482.2 312.8 1482.5 311.6 1482.8 314.3 1483.0 314.1 1483.3 309.6 1483.6 310.9 1483.9 312.2 1484.2 310.1 1484.4 310.0 1484.7 310.1 1485.0 314.0 1485.3 310.0 1485.6 315.0 1485.8 312.7 1486.1 314.7 1486.4 316.3 1486.7 311.1 1487.0 310.8 1487.2 314.4 1487.5 310.5 1487.8 311.1 1488.1 313.0 1488.4 314.1 1488.6 310.4 1488.9 312.7 1489.2 316.4 1489.5 318.6 1489.8 310.1 1490.0 319.0 1490.3 318.2 1490.6 311.6 1490.9 310.8 1491.2 316.3 1491.4 313.0 1491.7 314.8 1492.0 317.3 1492.3 312.7 1492.6 314.4 1492.8 315.5 1493.1 317.2 1493.4 319.7 1493.7 319.8 1494.0 315.4 1494.2 313.9 1494.5 320.9 1494.8 317.6 1495.1 316.9 1495.4 312.2 1495.6 318.3 1495.9 313.0 1496.2 314.0 1496.5 312.1 1496.8 314.1 1497.0 316.3 1497.3 312.3 1497.6 313.6 1497.9 316.5 1498.2 313.1 1498.4 313.2 1498.7 314.4 1499.0 313.1 1499.3 319.7 1499.6 314.0 1499.8 319.9 1500.1 320.2 1500.4 313.1 1500.7 316.3 1501.0 314.4 1501.2 313.0 1501.5 314.6 1501.8 315.0 1502.1 318.7 1502.4 320.1 1502.6 313.4 1502.9 315.2 1503.2 319.0 1503.5 321.3 1503.8 312.7 1504.0 321.6 1504.3 316.3 1504.6 322.3 1504.9 315.3 1505.2 314.2 1505.4 317.0 1505.7 321.4 1506.0 317.1 1506.3 313.0 1506.6 320.1 1506.8 313.5 1507.1 314.5 1507.4 314.3 1507.7 313.5 1508.0 314.3 1508.2 314.9 1508.5 316.0 1508.8 318.2 1509.1 317.0 1509.4 313.6 1509.6 317.8 1509.9 322.2 1510.2 322.1 1510.5 319.3 1510.8 321.0 1511.0 321.7 1511.3 322.6 1511.6 322.9 1511.9 316.0 1512.2 315.8 1512.4 322.0 1512.7 322.0 1513.0 321.8 1513.3 310.8 1513.6 315.2 1513.8 310.4 1514.1 319.7 1514.4 317.1 1514.7 317.4 1515.0 316.7 1515.2 321.8 1515.5 316.6 1515.8 322.1 1516.1 320.8 1516.4 320.0 1516.6 320.5 1516.9 318.5 1517.2 312.9 1517.5 321.4 1517.8 321.4 1518.0 316.7 1518.3 322.0 1518.6 323.4 1518.9 313.2 1519.2 318.3 1519.4 317.1 1519.7 315.4 1520.0 323.1 1520.3 316.5 1520.6 319.2 1520.8 324.1 1521.1 325.0 1521.4 325.1 1521.7 331.3 1522.0 319.9 1522.2 325.1 1522.5 316.1 1522.8 326.6 1523.1 329.7 1523.4 330.0 1523.6 319.1 1523.9 321.7 1524.2 330.4 1524.5 323.3 1524.8 329.6 1525.0 317.8 1525.3 331.1 1525.6 330.3 1525.9 327.8 1526.2 319.3 1526.4 323.9 1526.7 325.9 1527.0 326.3 1527.3 323.5 1527.6 322.3 1527.8 324.6 1528.1 329.9 1528.4 315.1 1528.7 316.4 1529.0 316.2 1529.2 319.2 1529.5 316.3 1529.8 326.1 1530.1 323.8 1530.4 321.9 1530.6 319.9 1530.9 323.7 1531.2 323.4 1531.5 323.7 1531.8 319.2 1532.0 324.3 1532.3 318.0 1532.6 325.9 1532.9 318.1 1533.2 319.5 1533.4 318.9 1533.7 324.0 1534.0 319.2 1534.3 326.7 1534.6 319.6 1534.8 326.8 1535.1 324.0 1535.4 323.0 1535.7 324.2 1536.0 326.8 1536.2 325.5 1536.5 320.5 1536.8 326.2 1537.1 324.1 1537.4 321.0 1537.6 325.4 1537.9 321.4 1538.2 324.0 1538.5 324.1 1538.8 322.3 1539.0 325.3 1539.3 322.0 1539.6 324.4 1539.9 323.0 1540.2 323.9 1540.4 328.3 1540.7 325.1 1541.0 322.9 1541.3 325.0 1541.6 323.8 1541.8 325.9 1542.1 326.6 1542.4 326.6 1542.7 326.9 1543.0 325.5 1543.2 328.2 1543.5 329.2 1543.8 326.0 1544.1 327.6 1544.4 328.1 1544.6 330.0 1544.9 330.1 1545.2 326.7 1545.5 328.9 1545.8 325.2 1546.0 326.4 1546.3 329.2 1546.6 330.6 1546.9 331.3 1547.2 328.4 1547.4 325.9 1547.7 330.4 1548.0 328.8 1548.3 330.5 1548.6 329.6 1548.8 331.1 1549.1 330.9 1549.4 331.4 1549.7 327.5 1550.0 331.8 1550.2 327.5 1550.5 329.0 1550.8 334.3 1551.1 330.2 1551.4 340.5 1551.6 334.2 1551.9 332.9 1552.2 333.5 1552.5 330.7 1552.8 331.3 1553.0 329.7 1553.3 328.9 1553.6 334.6 1553.9 329.7 1554.2 329.6 1554.4 329.8 1554.7 335.2 1555.0 333.4 1555.3 330.4 1555.6 331.4 1555.8 333.0 1556.1 334.0 1556.4 329.6 1556.7 334.2 1557.0 331.7 1557.2 330.9 1557.5 331.5 1557.8 334.1 1558.1 335.5 1558.4 332.8 1558.6 333.6 1558.9 331.1 1559.2 333.5 1559.5 334.2 1559.8 330.5 1560.0 331.7 1560.3 334.4 1560.6 330.5 1560.9 332.3 1561.2 334.5 1561.4 330.7 1561.7 332.9 1562.0 334.0 1562.3 335.4 1562.6 331.7 1562.8 335.6 1563.1 334.7 1563.4 335.3 1563.7 335.2 1564.0 334.2 1564.2 334.1 1564.5 328.9 1564.8 329.2 1565.1 329.6 1565.4 331.1 1565.6 333.7 1565.9 327.0 1566.2 330.0 1566.5 326.9 1566.8 326.1 1567.0 333.2 1567.3 329.9 1567.6 332.7 1567.9 331.7 1568.2 325.2 1568.4 323.4 1568.7 331.2 1569.0 325.1 1569.3 323.0 1569.6 327.5 1569.8 325.3 1570.1 322.6 1570.4 322.9 1570.7 323.9 1571.0 323.1 1571.2 324.7 1571.5 321.1 1571.8 320.8 1572.1 323.5 1572.4 322.7 1572.6 325.0 1572.9 321.3 1573.2 321.7 1573.5 319.9 1573.8 326.0 1574.0 319.8 1574.3 322.5 1574.6 320.4 1574.9 322.9 1575.2 324.1 1575.4 318.8 1575.7 320.8 1576.0 318.8 1576.3 327.2 1576.6 320.5 1576.8 319.0 1577.1 319.5 1577.4 327.4 1577.7 328.1 1578.0 327.5 1578.2 317.7 1578.5 320.0 1578.8 329.0 1579.1 316.7 1579.4 318.2 1579.6 314.8 1579.9 313.7 1580.2 327.7 1580.5 324.5 1580.8 323.5 1581.0 324.9 1581.3 328.1 1581.6 329.6 1581.9 321.4 1582.2 319.0 1582.4 313.9 1582.7 326.7 1583.0 317.8 1583.3 310.8 1583.6 318.6 1583.8 319.7 1584.1 322.5 1584.4 322.1 1584.7 311.2 1585.0 309.7 1585.2 311.2 1585.5 306.2 1585.8 310.3 1586.1 312.7 1586.4 309.2 1586.6 302.6 1586.9 302.3 1587.2 314.5 1587.5 301.0 1587.8 309.6 1588.0 308.3 1588.3 301.3 1588.6 298.2 1588.9 303.7 1589.2 297.1 1589.4 300.3 1589.7 302.5 1590.0 298.2 1590.3 300.9 1590.6 300.8 1590.8 298.0 1591.1 302.4 1591.4 300.6 1591.7 298.5 1592.0 302.9 1592.2 303.4 1592.5 302.2 1592.8 299.7 1593.1 310.0 1593.4 309.7 1593.6 309.7 1593.9 307.9 1594.2 300.8 1594.5 307.1 1594.8 301.8 1595.0 315.8 1595.3 303.9 1595.6 311.3 1595.9 300.5 1596.2 301.4 1596.4 304.2 1596.7 311.8 1597.0 311.0 1597.3 309.6 1597.6 300.2 1597.8 314.8 1598.1 303.3 1598.4 316.7 1598.7 317.2 1599.0 281.4 1599.2 316.0 1599.5 303.7 1599.8 317.4 1600.1 313.1 1600.4 315.9 1600.6 306.7 1600.9 311.7 1601.2 305.2 1601.5 310.9 1601.8 312.4 1602.0 313.4 1602.3 315.9 1602.6 313.9 1602.9 312.8 1603.2 311.4 1603.4 315.6 1603.7 306.8 1604.0 313.9 1604.3 302.2 1604.6 304.0 1604.8 309.2 1605.1 306.2 1605.4 315.4 1605.7 315.2 1606.0 303.0 1606.2 303.9 1606.5 307.7 1606.8 314.8 1607.1 313.8 1607.4 311.2 1607.6 304.4 1607.9 306.2 1608.2 303.3 1608.5 304.4 1608.8 311.7 1609.0 313.0 1609.3 305.0 1609.6 310.4 1609.9 314.8 1610.2 310.8 1610.4 309.0 1610.7 312.9 1611.0 312.8 1611.3 311.3 1611.6 308.7 1611.8 309.2 1612.1 311.6 1612.4 308.5 1612.7 314.8 1613.0 314.0 1613.2 314.3 1613.5 315.3 1613.8 314.9 1614.1 314.5 1614.4 310.7 1614.6 307.1 1614.9 315.2 1615.2 303.5 1615.5 303.3 1615.8 301.9 1616.0 307.5 1616.3 308.5 1616.6 311.8 1616.9 304.0 1617.2 298.4 1617.4 306.9 1617.7 310.7 1618.0 304.2 1618.3 302.9 1618.6 307.1 1618.8 311.2 1619.1 302.4 1619.4 297.2 1619.7 299.5 1620.0 301.4 1620.2 296.4 1620.5 306.5 1620.8 298.4 1621.1 304.7 1621.4 302.7 1621.6 299.8 1621.9 308.0 1622.2 298.3 1622.5 297.8 1622.8 302.4 1623.0 305.1 1623.3 300.7 1623.6 296.8 1623.9 337.0 1624.2 303.6 1624.4 309.1 1624.7 298.7 1625.0 300.4 1625.3 297.1 1625.6 295.8 1625.8 299.5 1626.1 304.1 1626.4 296.6 1626.7 297.6 1627.0 296.8 1627.2 309.3 1627.5 299.5 1627.8 307.4 1628.1 299.7 1628.4 305.7 1628.6 301.6 1628.9 296.4 1629.2 306.2 1629.5 308.7 1629.8 296.8 1630.0 304.0 1630.3 302.3 1630.6 299.1 1630.9 303.5 1631.2 297.2 1631.4 307.2 1631.7 311.1 1632.0 299.8 1632.3 306.7 1632.6 311.5 1632.8 308.1 1633.1 304.8 1633.4 302.6 1633.7 308.2 1634.0 306.4 1634.2 309.2 1634.5 298.9 1634.8 309.8 1635.1 302.7 1635.4 307.5 1635.6 300.4 1635.9 298.5 1636.2 300.9 1636.5 299.8 1636.8 302.0 1637.0 307.1 1637.3 309.1 1637.6 304.8 1637.9 301.9 1638.2 302.3 1638.4 307.0 1638.7 309.9 1639.0 303.6 1639.3 304.6 1639.6 303.3 1639.8 307.1 1640.1 311.7 1640.4 303.3 1640.7 309.7 1641.0 306.8 1641.2 304.5 1641.5 312.4 1641.8 310.9 1642.1 313.8 1642.4 307.0 1642.6 319.5 1642.9 313.5 1643.2 311.4 1643.5 318.8 1643.8 316.5 1644.0 317.3 1644.3 318.2 1644.6 307.5 1644.9 318.9 1645.2 312.8 1645.4 315.5 1645.7 317.4 1646.0 311.1 1646.3 315.2 1646.6 316.6 1646.8 313.4 1647.1 315.4 1647.4 308.6 1647.7 309.3 1648.0 309.5 1648.2 314.5 1648.5 318.1 1648.8 314.2 1649.1 312.8 1649.4 313.1 1649.6 316.3 1649.9 315.8 1650.2 309.8 1650.5 316.9 1650.8 313.6 1651.0 316.6 1651.3 307.9 1651.6 308.2 1651.9 315.9 1652.2 307.4 1652.4 314.7 1652.7 314.3 1653.0 313.2 1653.3 314.3 1653.6 313.9 1653.8 315.2 1654.1 310.9 1654.4 313.6 1654.7 321.1 1655.0 319.9 1655.2 318.6 1655.5 318.0 1655.8 311.7 1656.1 318.1 1656.4 315.6 1656.6 321.0 1656.9 311.4 1657.2 305.3 1657.5 313.5 1657.8 319.8 1658.0 321.7 1658.3 320.4 1658.6 310.3 1658.9 315.0 1659.2 310.8 1659.4 315.6 1659.7 311.6 1660.0 308.2 1660.3 318.9 1660.6 318.1 1660.8 316.6 1661.1 318.6 1661.4 320.5 1661.7 317.6 1662.0 315.1 1662.2 319.3 1662.5 308.3 1662.8 318.4 1663.1 311.1 1663.4 310.4 1663.6 314.6 1663.9 319.3 1664.2 309.7 1664.5 317.3 1664.8 314.6 1665.0 307.1 1665.3 316.4 1665.6 308.2 1665.9 306.6 1666.2 307.9 1666.4 307.9 1666.7 313.8 1667.0 307.8 1667.3 317.6 1667.6 312.4 1667.8 308.3 1668.1 308.1 1668.4 313.4 1668.7 305.8 1669.0 305.7 1669.2 308.4 1669.5 315.6 1669.8 313.5 1670.1 312.7 1670.4 311.5 1670.6 305.8 1670.9 311.1 1671.2 306.3 1671.5 316.8 1671.8 313.0 1672.0 312.8 1672.3 315.5 1672.6 315.3 1672.9 315.0 1673.2 315.7 1673.4 310.9 1673.7 308.1 1674.0 315.8 1674.3 319.8 1674.6 318.7 1674.8 312.8 1675.1 317.3 1675.4 311.9 1675.7 316.5 1676.0 311.4 1676.2 315.5 1676.5 321.7 1676.8 318.8 1677.1 321.0 1677.4 310.5 1677.6 310.5 1677.9 313.4 1678.2 316.3 1678.5 311.8 1678.8 318.1 1679.0 310.0 1679.3 319.4 1679.6 318.1 1679.9 308.4 1680.2 316.9 1680.4 312.9 1680.7 319.1 1681.0 311.8 1681.3 316.4 1681.6 317.4 1681.8 305.9 1682.1 306.5 1682.4 314.4 1682.7 312.5 1683.0 317.6 1683.2 313.3 1683.5 306.5 1683.8 313.0 1684.1 307.4 1684.4 309.4 1684.6 308.1 1684.9 312.3 1685.2 305.0 1685.5 305.8 1685.8 303.5 1686.0 315.1 1686.3 306.3 1686.6 306.8 1686.9 305.5 1687.2 307.5 1687.4 308.6 1687.7 312.3 1688.0 311.1 1688.3 311.6 1688.6 307.6 1688.8 309.6 1689.1 313.7 1689.4 309.3 1689.7 310.6 1690.0 303.8 1690.2 311.4 1690.5 310.2 1690.8 314.2 1691.1 304.3 1691.4 309.2 1691.6 308.6 1691.9 309.6 1692.2 307.0 1692.5 310.5 1692.8 313.1 1693.0 310.3 1693.3 309.1 1693.6 309.7 1693.9 309.3 1694.2 311.5 1694.4 308.6 1694.7 306.5 1695.0 317.8 1695.3 307.0 1695.6 312.3 1695.8 308.1 1696.1 312.0 1696.4 309.4 1696.7 313.4 1697.0 310.0 1697.2 308.8 1697.5 315.3 1697.8 319.4 1698.1 315.4 1698.4 314.1 1698.6 309.5 1698.9 312.7 1699.2 315.1 1699.5 310.4 1699.8 317.1 1700.0 312.5 1700.3 314.4 1700.6 311.1 1700.9 311.4 1701.2 314.8 1701.4 316.0 1701.7 316.4 1702.0 311.2 1702.3 312.5 1702.6 316.0 1702.8 310.3 1703.1 320.6 1703.4 318.1 1703.7 316.9 1704.0 313.6 1704.2 319.9 1704.5 315.2 1704.8 321.8 1705.1 318.0 1705.4 311.4 1705.6 319.3 1705.9 314.2 1706.2 314.4 1706.5 315.7 1706.8 316.6 1707.0 318.4 1707.3 320.3 1707.6 319.4 1707.9 315.4 1708.2 314.4 1708.4 315.7 1708.7 319.6 1709.0 321.4 1709.3 323.2 1709.6 316.4 1709.8 320.1 1710.1 319.7 1710.4 319.8 1710.7 321.8 1711.0 321.3 1711.2 321.5 1711.5 320.8 1711.8 323.5 1712.1 324.4 1712.4 324.9 1712.6 321.5 1712.9 320.3 1713.2 322.1 1713.5 320.8 1713.8 324.7 1714.0 320.9 1714.3 322.9 1714.6 320.2 1714.9 321.9 1715.2 323.1 1715.4 325.5 1715.7 321.4 1716.0 323.6 1716.3 320.5 1716.6 321.1 1716.8 321.7 1717.1 322.3 1717.4 324.5 1717.7 325.2 1718.0 321.5 1718.2 325.4 1718.5 322.2 1718.8 326.9 1719.1 325.5 1719.4 325.2 1719.6 324.5 1719.9 324.7 1720.2 324.7 1720.5 322.7 1720.8 325.9 1721.0 324.7 1721.3 325.7 1721.6 323.5 1721.9 325.4 1722.2 321.6 1722.4 327.5 1722.7 321.6 1723.0 322.2 1723.3 326.0 1723.6 326.4 1723.8 320.8 1724.1 319.6 1724.4 319.6 1724.7 319.9 1725.0 320.0 1725.2 321.1 1725.5 324.7 1725.8 324.7 1726.1 319.8 1726.4 322.8 1726.6 324.0" fill="none" stroke="#f00" stroke-width="2.2" stroke-linejoin="round" />
</g>
<line x1="1726" y1="110" x2="1726" y2="455" stroke="#1f77b4" stroke-width="2" stroke-dasharray="2.08 3.44"/>
<rect x="1205" y="110" width="595" height="345" fill="none" stroke="#000" stroke-width="2"/>
<line x1="1800" y1="111" x2="1800" y2="454" stroke="#f00" stroke-width="2" />
<line x1="1244.5" y1="455" x2="1244.5" y2="450" stroke="#000" stroke-width="1.2" />
<line x1="1318.5" y1="455" x2="1318.5" y2="450" stroke="#000" stroke-width="1.2" />
<line x1="1393.5" y1="455" x2="1393.5" y2="450" stroke="#000" stroke-width="1.2" />
<line x1="1467.5" y1="455" x2="1467.5" y2="450" stroke="#000" stroke-width="1.2" />
<line x1="1542.5" y1="455" x2="1542.5" y2="450" stroke="#000" stroke-width="1.2" />
<line x1="1616.5" y1="455" x2="1616.5" y2="450" stroke="#000" stroke-width="1.2" />
<line x1="1691.5" y1="455" x2="1691.5" y2="450" stroke="#000" stroke-width="1.2" />
<line x1="1765.5" y1="455" x2="1765.5" y2="450" stroke="#000" stroke-width="1.2" />
<line x1="1205" y1="455.5" x2="1210.8" y2="455.5" stroke="#000" stroke-width="1.2" />
<text xml:space="preserve" x="1200" y="462.1" font-size="19.44" text-anchor="end" fill="#000" >−20</text>
<line x1="1205" y1="411.5" x2="1210.8" y2="411.5" stroke="#000" stroke-width="1.2" />
<text xml:space="preserve" x="1200" y="418.98" font-size="19.44" text-anchor="end" fill="#000" >−15</text>
<line x1="1205" y1="368.5" x2="1210.8" y2="368.5" stroke="#000" stroke-width="1.2" />
<text xml:space="preserve" x="1200" y="375.85" font-size="19.44" text-anchor="end" fill="#000" >−10</text>
<line x1="1205" y1="325.5" x2="1210.8" y2="325.5" stroke="#000" stroke-width="1.2" />
<text xml:space="preserve" x="1200" y="332.73" font-size="19.44" text-anchor="end" fill="#000" >−5</text>
<line x1="1205" y1="282.5" x2="1210.8" y2="282.5" stroke="#000" stroke-width="1.2" />
<text xml:space="preserve" x="1200" y="289.6" font-size="19.44" text-anchor="end" fill="#000" >0</text>
<line x1="1205" y1="239.5" x2="1210.8" y2="239.5" stroke="#000" stroke-width="1.2" />
<text xml:space="preserve" x="1200" y="246.47" font-size="19.44" text-anchor="end" fill="#000" >5</text>
<line x1="1205" y1="196.5" x2="1210.8" y2="196.5" stroke="#000" stroke-width="1.2" />
<text xml:space="preserve" x="1200" y="203.35" font-size="19.44" text-anchor="end" fill="#000" >10</text>
<line x1="1205" y1="153.5" x2="1210.8" y2="153.5" stroke="#000" stroke-width="1.2" />
<text xml:space="preserve" x="1200" y="160.22" font-size="19.44" text-anchor="end" fill="#000" >15</text>
<line x1="1205" y1="110.5" x2="1210.8" y2="110.5" stroke="#000" stroke-width="1.2" />
<text xml:space="preserve" x="1200" y="117.1" font-size="19.44" text-anchor="end" fill="#000" >20</text>
<line x1="1800" y1="455.5" x2="1795" y2="455.5" stroke="#f00" stroke-width="1.2" />
<text xml:space="preserve" x="1806" y="462.1" font-size="19.44" text-anchor="start" fill="#f00" >0</text>
<line x1="1800" y1="386.5" x2="1795" y2="386.5" stroke="#f00" stroke-width="1.2" />
<text xml:space="preserve" x="1806" y="393.1" font-size="19.44" text-anchor="start" fill="#f00" >200</text>
<line x1="1800" y1="317.5" x2="1795" y2="317.5" stroke="#f00" stroke-width="1.2" />
<text xml:space="preserve" x="1806" y="324.1" font-size="19.44" text-anchor="start" fill="#f00" >400</text>
<line x1="1800" y1="248.5" x2="1795" y2="248.5" stroke="#f00" stroke-width="1.2" />
<text xml:space="preserve" x="1806" y="255.1" font-size="19.44" text-anchor="start" fill="#f00" >600</text>
<line x1="1800" y1="179.5" x2="1795" y2="179.5" stroke="#f00" stroke-width="1.2" />
<text xml:space="preserve" x="1806" y="186.1" font-size="19.44" text-anchor="start" fill="#f00" >800</text>
<line x1="1800" y1="110.5" x2="1795" y2="110.5" stroke="#f00" stroke-width="1.2" />
<text xml:space="preserve" x="1806" y="117.1" font-size="19.44" text-anchor="start" fill="#f00" >1000</text>
<text xml:space="preserve" x="0" y="0" transform="translate(1116 282.5) rotate(-90)" font-size="24" text-anchor="middle" fill="#000" >IMF Bz</text>
<text xml:space="preserve" x="0" y="0" transform="translate(1147 282.5) rotate(-90)" font-size="24" text-anchor="middle" fill="#000" >( nT )</text>
<text xml:space="preserve" x="0" y="0" transform="translate(1879 282.5) rotate(-90)" font-size="24" text-anchor="middle" fill="#f00" >SW Velocity</text>
<text xml:space="preserve" x="0" y="0" transform="translate(1911 282.5) rotate(-90)" font-size="24" text-anchor="middle" fill="#f00" >( km<tspan dx="5">s</tspan><tspan dy="-9" font-size="16.8">−1</tspan><tspan dy="9"> )</tspan></text>
</g>
<g id="r2">
<line x1="1205" y1="512.4" x2="1800" y2="512.4" stroke="#000" stroke-width="2" stroke-dasharray="2.08 3.44"/>
<clipPath id="cr2"><rect x="1205" y="478" width="595" height="344"/></clipPath><g clip-path="url(#cr2)">
<path d="M1205.0 520.9 1205.6 520.6 1209.8 521.7 1213.3 521.7 1216.5 517.5 1220.3 520.6 1223.8 522.4 1228.0 524.8 1232.2 525.1 1235.7 529.7 1238.5 530.4 1241.3 526.2 1244.5 531.8 1247.6 536.7 1250.7 538.8 1253.9 535.7 1256.7 533.2 1259.9 534.6 1263.3 538.1 1266.5 539.5 1269.3 542.0 1272.5 536.7 1275.6 532.1 1278.4 533.2 1281.9 531.8 1284.7 532.5 1287.9 532.1 1291.0 530.7 1294.1 527.9 1297.3 531.8 1300.1 532.9 1303.6 531.5 1307.1 529.0 1309.9 526.5 1312.7 523.7 1315.9 526.5 1319.0 529.0 1322.1 528.3 1325.3 526.2 1328.1 525.5 1331.3 525.5 1334.4 531.8 1337.9 532.6 1340.7 533.2 1343.9 531.5 1347.0 529.0 1350.1 527.0 1353.3 526.2 1356.5 525.1 1359.6 525.1 1362.7 524.1 1365.6 521.6 1368.7 522.7 1371.9 526.2 1375.0 529.3 1378.1 532.1 1381.3 531.8 1384.5 529.0 1387.3 527.3 1390.4 529.3 1393.9 531.1 1396.7 532.9 1399.9 532.9 1403.0 531.4 1405.8 529.7 1408.6 532.1 1411.7 530.7 1414.9 530.4 1418.1 532.1 1421.2 530.7 1424.0 526.2 1427.5 520.9 1430.7 520.9 1433.8 523.1 1436.6 523.7 1440.1 522.3 1443.3 522.0 1446.4 521.4 1449.9 521.3 1452.7 521.4 1455.9 522.3 1458.7 523.8 1461.8 522.7 1464.6 522.0 1467.7 524.5 1470.0 524.8 1474.2 525.9 1479.1 527.2 1483.3 528.0 1486.5 527.2 1489.6 522.7 1492.4 520.3 1495.9 517.8 1498.7 515.0 1502.2 513.9 1505.7 511.5 1508.9 510.1 1510.9 509.4 1514.1 512.2 1517.3 513.6 1520.4 511.9 1523.5 506.6 1526.7 512.5 1529.9 515.0 1533.0 513.6 1536.1 514.3 1539.3 515.7 1542.5 517.8 1545.3 519.2 1548.4 518.2 1551.5 516.4 1554.7 520.6 1557.9 522.0 1561.0 524.5 1564.1 527.3 1566.9 519.5 1570.1 515.0 1573.3 510.1 1576.1 506.6 1579.2 511.5 1582.3 515.3 1585.5 502.4 1588.7 502.1 1591.8 503.5 1595.3 507.3 1598.1 508.7 1601.6 510.1 1604.4 511.5 1607.9 515.0 1610.7 516.4 1613.9 517.5 1617.0 518.5 1620.1 518.1 1623.3 517.1 1626.5 516.8 1629.6 516.0 1632.7 515.3 1635.6 515.4 1638.7 517.1 1641.9 518.2 1645.0 518.1 1648.1 517.5 1651.3 516.8 1654.5 516.7 1657.3 516.1 1660.4 517.5 1663.5 517.8 1666.7 515.7 1669.9 512.2 1673.0 512.2 1676.1 510.1 1678.9 509.7 1681.7 511.5 1684.9 513.9 1688.1 514.3 1691.2 516.1 1694.3 514.7 1697.5 514.7 1700.7 515.3 1703.8 515.4 1706.6 516.1 1709.7 517.5 1712.9 516.8 1716.1 516.7 1719.2 515.3 1722.7 516.1" fill="none" stroke="#000" stroke-width="2.2" stroke-linejoin="round" />
<path d="M1205.0 677.1 1205.3 673.3 1205.6 670.8 1205.8 662.4 1206.1 674.7 1206.4 670.6 1206.7 666.4 1207.0 674.2 1207.2 674.1 1207.5 656.0 1207.8 654.9 1208.1 656.6 1208.4 673.8 1208.6 671.2 1208.9 644.6 1209.2 644.1 1209.5 675.9 1209.8 689.5 1210.0 661.2 1210.3 648.2 1210.6 710.4 1210.9 659.9 1211.2 682.7 1211.4 690.5 1211.7 681.1 1212.0 669.6 1212.3 681.1 1212.6 650.8 1212.8 661.1 1213.1 651.5 1213.4 660.6 1213.7 654.6 1214.0 662.8 1214.2 659.5 1214.5 670.9 1214.8 671.1 1215.1 675.2 1215.4 696.8 1215.6 635.1 1215.9 681.9 1216.2 659.8 1216.5 634.6 1216.8 654.1 1217.0 656.0 1217.3 671.1 1217.6 626.7 1217.9 647.7 1218.2 642.7 1218.4 619.7 1218.7 621.3 1219.0 649.0 1219.3 685.5 1219.6 658.5 1219.8 646.7 1220.1 643.8 1220.4 638.3 1220.7 661.0 1221.0 697.4 1221.2 634.6 1221.5 647.0 1221.8 618.6 1222.1 669.9 1222.4 631.6 1222.6 650.6 1222.9 685.2 1223.2 637.5 1223.5 646.1 1223.8 691.2 1224.0 635.8 1224.3 651.5 1224.6 679.6 1224.9 678.9 1225.2 683.7 1225.4 677.7 1225.7 702.5 1226.0 695.4 1226.3 683.0 1226.6 643.3 1226.8 574.5 1227.1 628.4 1227.4 687.1 1227.7 628.8 1228.0 806.1 1228.2 716.7 1228.5 637.6 1228.8 647.1 1229.1 655.5 1229.4 704.8 1229.6 649.5 1229.9 678.8 1230.2 667.5 1230.5 681.2 1230.8 724.1 1231.0 655.6 1231.3 692.7 1231.6 697.2 1231.9 710.9 1232.2 640.2 1232.4 710.9 1232.7 688.3 1233.0 698.7 1233.3 668.0 1233.6 629.1 1233.8 642.1 1234.1 687.4 1234.4 660.3 1234.7 657.8 1235.0 708.4 1235.2 744.3 1235.5 662.8 1235.8 709.6 1236.1 628.0 1236.4 628.1 1236.6 698.5 1236.9 711.9 1237.2 724.2 1237.5 695.2 1237.8 679.9 1238.0 698.7 1238.3 686.1 1238.6 637.3 1238.9 685.4 1239.2 682.8 1239.4 706.7 1239.7 640.6 1240.0 671.3 1240.3 655.6 1240.6 662.9 1240.8 702.2 1241.1 676.6 1241.4 650.8 1241.7 669.5 1242.0 686.5 1242.2 714.3 1242.5 657.4 1242.8 700.9 1243.1 690.2 1243.4 705.6 1243.6 650.4 1243.9 659.6 1244.2 628.0 1244.5 690.9 1244.8 672.9 1245.0 664.9 1245.3 628.4 1245.6 739.3 1245.9 674.6 1246.2 665.9 1246.4 642.5 1246.7 675.6 1247.0 689.7 1247.3 639.3 1247.6 643.5 1247.8 635.2 1248.1 629.9 1248.4 714.5 1248.7 679.9 1249.0 673.8 1249.2 630.2 1249.5 632.9 1249.8 660.2 1250.1 649.9 1250.4 666.1 1250.6 643.0 1250.9 678.8 1251.2 690.8 1251.5 689.4 1251.8 689.3 1252.0 667.0 1252.3 682.6 1252.6 653.0 1252.9 680.4 1253.2 649.0 1253.4 643.9 1253.7 638.3 1254.0 668.9 1254.3 736.1 1254.6 652.9 1254.8 626.5 1255.1 650.8 1255.4 703.7 1255.7 678.3 1256.0 647.4 1256.2 657.0 1256.5 651.8 1256.8 626.7 1257.1 629.9 1257.4 657.5 1257.6 679.1 1257.9 634.2 1258.2 641.1 1258.5 654.0 1258.8 624.6 1259.0 623.7 1259.3 639.6 1259.6 645.9 1259.9 637.9 1260.2 672.0 1260.4 643.7 1260.7 656.2 1261.0 672.5 1261.3 672.9 1261.6 625.3 1261.8 647.7 1262.1 670.0 1262.4 630.0 1262.7 638.6 1263.0 631.3 1263.2 629.4 1263.5 690.1 1263.8 657.2 1264.1 672.4 1264.4 755.2 1264.6 647.2 1264.9 619.7 1265.2 642.6 1265.5 635.7 1265.8 651.1 1266.0 639.6 1266.3 620.1 1266.6 652.5 1266.9 619.5 1267.2 628.9 1267.4 650.6 1267.7 651.8 1268.0 677.3 1268.3 704.2 1268.6 654.6 1268.8 663.7 1269.1 642.7 1269.4 664.7 1269.7 631.8 1270.0 666.0 1270.2 664.4 1270.5 636.6 1270.8 642.5 1271.1 691.3 1271.4 642.4 1271.6 666.4 1271.9 673.2 1272.2 665.8 1272.5 663.9 1272.8 651.1 1273.0 647.1 1273.3 636.6 1273.6 638.4 1273.9 666.9 1274.2 653.9 1274.4 637.9 1274.7 651.2 1275.0 652.8 1275.3 642.7 1275.6 647.0 1275.8 665.0 1276.1 666.2 1276.4 636.4 1276.7 643.8 1277.0 640.2 1277.2 641.0 1277.5 667.0 1277.8 656.2 1278.1 664.5 1278.4 669.9 1278.6 636.5 1278.9 639.8 1279.2 643.4 1279.5 661.9 1279.8 642.1 1280.0 657.4 1280.3 668.2 1280.6 669.9 1280.9 659.8 1281.2 638.4 1281.4 631.1 1281.7 676.8 1282.0 669.6 1282.3 644.7 1282.6 654.7 1282.8 657.3 1283.1 638.0 1283.4 671.1 1283.7 651.5 1284.0 660.2 1284.2 676.3 1284.5 661.7 1284.8 671.9 1285.1 669.3 1285.4 661.9 1285.6 662.1 1285.9 684.1 1286.2 658.7 1286.5 683.3 1286.8 649.0 1287.0 674.1 1287.3 664.9 1287.6 651.6 1287.9 644.5 1288.2 681.6 1288.4 646.1 1288.7 646.2 1289.0 655.1 1289.3 652.4 1289.6 653.7 1289.8 646.9 1290.1 642.1 1290.4 659.4 1290.7 642.4 1291.0 649.9 1291.2 655.1 1291.5 665.9 1291.8 646.7 1292.1 646.7 1292.4 648.8 1292.6 639.5 1292.9 645.6 1293.2 644.4 1293.5 644.1 1293.8 665.0 1294.0 658.7 1294.3 679.9 1294.6 679.5 1294.9 640.5 1295.2 668.9 1295.4 651.0 1295.7 674.7 1296.0 670.5 1296.3 678.9 1296.6 672.9 1296.8 678.1 1297.1 661.6 1297.4 637.1 1297.7 644.7 1298.0 647.8 1298.2 652.1 1298.5 643.6 1298.8 685.2 1299.1 654.5 1299.4 681.7 1299.6 651.6 1299.9 685.9 1300.2 642.6 1300.5 672.8 1300.8 643.2 1301.0 672.7 1301.3 687.2 1301.6 643.4 1301.9 652.2 1302.2 611.4 1302.4 665.1 1302.7 647.5 1303.0 684.8 1303.3 670.7 1303.6 685.7 1303.8 675.6 1304.1 652.3 1304.4 662.8 1304.7 685.9 1305.0 650.6 1305.2 663.1 1305.5 699.6 1305.8 682.3 1306.1 679.9 1306.4 648.6 1306.6 686.2 1306.9 663.3 1307.2 665.6 1307.5 664.9 1307.8 661.1 1308.0 651.6 1308.3 659.9 1308.6 681.6 1308.9 648.7 1309.2 645.0 1309.4 674.0 1309.7 671.7 1310.0 677.0 1310.3 683.6 1310.6 657.3 1310.8 670.6 1311.1 674.7 1311.4 680.8 1311.7 678.9 1312.0 653.8 1312.2 648.2 1312.5 659.1 1312.8 646.0 1313.1 676.6 1313.4 654.6 1313.6 654.8 1313.9 649.1 1314.2 680.8 1314.5 666.0 1314.8 656.0 1315.0 673.0 1315.3 662.8 1315.6 674.2 1315.9 682.4 1316.2 660.4 1316.4 672.4 1316.7 670.8 1317.0 679.0 1317.3 669.4 1317.6 658.2 1317.8 648.5 1318.1 659.7 1318.4 691.2 1318.7 663.9 1319.0 655.0 1319.2 662.3 1319.5 649.3 1319.8 647.5 1320.1 647.2 1320.4 671.1 1320.6 655.1 1320.9 655.5 1321.2 644.6 1321.5 658.3 1321.8 643.5 1322.0 671.2 1322.3 655.5 1322.6 657.9 1322.9 646.0 1323.2 647.5 1323.4 662.2 1323.7 654.1 1324.0 660.1 1324.3 665.7 1324.6 661.9 1324.8 645.5 1325.1 649.8 1325.4 649.5 1325.7 651.9 1326.0 645.7 1326.2 645.9 1326.5 655.4 1326.8 657.1 1327.1 667.1 1327.4 659.7 1327.6 671.2 1327.9 645.9 1328.2 647.8 1328.5 663.8 1328.8 657.4 1329.0 649.4 1329.3 668.1 1329.6 670.8 1329.9 672.6 1330.2 655.0 1330.4 660.6 1330.7 664.6 1331.0 663.5 1331.3 674.4 1331.6 658.4 1331.8 670.7 1332.1 643.8 1332.4 675.5 1332.7 679.4 1333.0 666.9 1333.2 676.9 1333.5 644.6 1333.8 658.2 1334.1 643.5 1334.4 664.6 1334.6 687.3 1334.9 642.4 1335.2 645.9 1335.5 648.6 1335.8 680.3 1336.0 656.4 1336.3 660.2 1336.6 665.1 1336.9 665.3 1337.2 657.6 1337.4 643.2 1337.7 652.1 1338.0 679.0 1338.3 667.7 1338.6 657.8 1338.8 643.5 1339.1 661.5 1339.4 661.8 1339.7 650.2 1340.0 670.5 1340.2 688.4 1340.5 653.5 1340.8 666.2 1341.1 656.1 1341.4 666.6 1341.6 646.7 1341.9 643.3 1342.2 654.4 1342.5 649.9 1342.8 662.6 1343.0 651.7 1343.3 645.8 1343.6 652.3 1343.9 655.4 1344.2 637.3 1344.4 645.7 1344.7 644.2 1345.0 663.8 1345.3 644.1 1345.6 663.7 1345.8 639.0 1346.1 652.0 1346.4 665.0 1346.7 650.7 1347.0 665.8 1347.2 637.2 1347.5 655.1 1347.8 656.6 1348.1 652.8 1348.4 639.3 1348.6 660.9 1348.9 637.0 1349.2 662.7 1349.5 656.1 1349.8 662.3 1350.0 545.3 1350.3 641.0 1350.6 645.9 1350.9 646.6 1351.2 659.5 1351.4 676.8 1351.7 658.7 1352.0 660.7 1352.3 670.6 1352.6 639.4 1352.8 653.6 1353.1 669.5 1353.4 671.2 1353.7 657.1 1354.0 663.2 1354.2 666.9 1354.5 670.8 1354.8 661.1 1355.1 659.6 1355.4 651.2 1355.6 662.1 1355.9 684.3 1356.2 702.8 1356.5 682.7 1356.8 690.5 1357.0 669.9 1357.3 694.7 1357.6 662.6 1357.9 705.6 1358.2 667.7 1358.4 638.7 1358.7 682.2 1359.0 703.9 1359.3 656.2 1359.6 686.3 1359.8 643.7 1360.1 645.5 1360.4 681.3 1360.7 662.3 1361.0 715.8 1361.2 691.0 1361.5 635.1 1361.8 643.7 1362.1 660.6 1362.4 692.8 1362.6 648.3 1362.9 643.7 1363.2 664.2 1363.5 687.5 1363.8 639.2 1364.0 643.7 1364.3 651.1 1364.6 667.3 1364.9 686.0 1365.2 635.3 1365.4 634.7 1365.7 656.7 1366.0 665.0 1366.3 637.8 1366.6 647.0 1366.8 674.6 1367.1 650.0 1367.4 666.6 1367.7 661.6 1368.0 670.4 1368.2 667.3 1368.5 665.4 1368.8 681.4 1369.1 657.4 1369.4 666.1 1369.6 681.4 1369.9 657.7 1370.2 659.5 1370.5 655.4 1370.8 653.7 1371.0 690.6 1371.3 753.9 1371.6 689.6 1371.9 674.5 1372.2 663.5 1372.4 658.5 1372.7 667.9 1373.0 663.8 1373.3 684.5 1373.6 658.1 1373.8 679.5 1374.1 689.4 1374.4 679.7 1374.7 684.0 1375.0 703.7 1375.2 707.8 1375.5 698.8 1375.8 703.9 1376.1 693.7 1376.4 719.9 1376.6 707.8 1376.9 594.9 1377.2 700.6 1377.5 737.4 1377.8 708.9 1378.0 680.6 1378.3 711.5 1378.6 705.6 1378.9 702.2 1379.2 714.3 1379.4 679.5 1379.7 694.9 1380.0 679.7 1380.3 700.8 1380.6 703.1 1380.8 693.7 1381.1 699.1 1381.4 676.1 1381.7 700.1 1382.0 673.6 1382.2 712.1 1382.5 708.8 1382.8 672.0 1383.1 665.6 1383.4 710.3 1383.6 682.1 1383.9 716.9 1384.2 673.3 1384.5 695.4 1384.8 679.7 1385.0 698.0 1385.3 679.7 1385.6 701.8 1385.9 668.3 1386.2 695.0 1386.4 673.2 1386.7 678.8 1387.0 658.0 1387.3 657.1 1387.6 680.2 1387.8 656.9 1388.1 661.4 1388.4 698.5 1388.7 657.3 1389.0 668.0 1389.2 654.7 1389.5 655.6 1389.8 668.1 1390.1 640.8 1390.4 660.5 1390.6 660.3 1390.9 665.3 1391.2 658.8 1391.5 634.1 1391.8 644.4 1392.0 646.7 1392.3 662.6 1392.6 654.5 1392.9 643.0 1393.2 653.8 1393.4 643.0 1393.7 653.4 1394.0 647.5 1394.3 657.4 1394.6 647.7 1394.8 654.7 1395.1 642.1 1395.4 651.1 1395.7 640.7 1396.0 651.0 1396.2 665.5 1396.5 643.4 1396.8 641.1 1397.1 644.0 1397.4 653.6 1397.6 631.2 1397.9 659.4 1398.2 631.9 1398.5 650.3 1398.8 649.4 1399.0 657.6 1399.3 654.6 1399.6 706.8 1399.9 653.1 1400.2 657.6 1400.4 659.0 1400.7 654.3 1401.0 635.0 1401.3 646.8 1401.6 653.2 1401.8 657.9 1402.1 642.2 1402.4 645.4 1402.7 652.5 1403.0 659.3 1403.2 637.7 1403.5 653.5 1403.8 637.5 1404.1 644.7 1404.4 653.8 1404.6 636.7 1404.9 642.6 1405.2 653.3 1405.5 642.1 1405.8 636.6 1406.0 638.9 1406.3 648.5 1406.6 634.0 1406.9 637.8 1407.2 634.1 1407.4 635.2 1407.7 649.4 1408.0 642.1 1408.3 639.9 1408.6 645.8 1408.8 638.7 1409.1 636.0 1409.4 648.9 1409.7 648.5 1410.0 638.2 1410.2 648.4 1410.5 650.6 1410.8 647.3 1411.1 655.9 1411.4 633.4 1411.6 641.8 1411.9 629.8 1412.2 650.6 1412.5 640.4 1412.8 651.6 1413.0 633.6 1413.3 648.7 1413.6 627.9 1413.9 634.2 1414.2 643.4 1414.4 546.5 1414.7 634.3 1415.0 625.2 1415.3 649.0 1415.6 642.3 1415.8 651.3 1416.1 654.8 1416.4 635.3 1416.7 652.4 1417.0 674.4 1417.2 683.6 1417.5 666.5 1417.8 649.2 1418.1 686.4 1418.4 673.2 1418.6 715.6 1418.9 658.0 1419.2 637.2 1419.5 623.6 1419.8 620.6 1420.0 658.9 1420.3 645.8 1420.6 715.8 1420.9 654.7 1421.2 689.3 1421.4 709.6 1421.7 639.2 1422.0 636.4 1422.3 696.8 1422.6 704.6 1422.8 639.1 1423.1 623.5 1423.4 653.7 1423.7 649.5 1424.0 680.9 1424.2 727.4 1424.5 652.8 1424.8 651.1 1425.1 624.4 1425.4 624.5 1425.6 670.3 1425.9 671.7 1426.2 638.0 1426.5 682.1 1426.8 675.0 1427.0 667.0 1427.3 697.4 1427.6 665.1 1427.9 672.3 1428.2 674.6 1428.4 657.2 1428.7 624.7 1429.0 650.2 1429.3 636.2 1429.6 631.9 1429.8 668.5 1430.1 698.6 1430.4 674.8 1430.7 642.5 1431.0 634.7 1431.2 639.0 1431.5 694.4 1431.8 688.2 1432.1 648.2 1432.4 681.0 1432.6 693.2 1432.9 637.3 1433.2 720.8 1433.5 680.3 1433.8 668.6 1434.0 650.6 1434.3 700.4 1434.6 682.4 1434.9 693.0 1435.2 709.0 1435.4 692.6 1435.7 711.5 1436.0 690.5 1436.3 711.9 1436.6 683.1 1436.8 714.5 1437.1 692.6 1437.4 683.6 1437.7 594.9 1438.0 638.7 1438.2 659.9 1438.5 688.2 1438.8 728.5 1439.1 621.9 1439.4 662.8 1439.6 718.9 1439.9 717.7 1440.2 670.4 1440.5 635.8 1440.8 624.3 1441.0 684.8 1441.3 676.9 1441.6 638.7 1441.9 646.2 1442.2 628.8 1442.4 617.3 1442.7 731.0 1443.0 632.3 1443.3 624.6 1443.6 635.8 1443.8 683.7 1444.1 663.5 1444.4 657.9 1444.7 653.7 1445.0 669.5 1445.2 666.0 1445.5 629.1 1445.8 644.4 1446.1 637.7 1446.4 653.0 1446.6 648.1 1446.9 631.2 1447.2 666.2 1447.5 655.9 1447.8 633.3 1448.0 672.8 1448.3 658.5 1448.6 667.0 1448.9 659.2 1449.2 663.2 1449.4 648.6 1449.7 633.1 1450.0 646.0 1450.3 665.3 1450.6 661.1 1450.8 678.8 1451.1 657.0 1451.4 710.2 1451.7 723.5 1452.0 640.7 1452.2 550.4 1452.5 653.3 1452.8 634.8 1453.1 672.0 1453.4 642.4 1453.6 688.9 1453.9 657.3 1454.2 649.7 1454.5 646.6 1454.8 628.9 1455.0 639.9 1455.3 640.3 1455.6 645.9 1455.9 627.5 1456.2 648.8 1456.4 667.2 1456.7 641.1 1457.0 647.9 1457.3 657.2 1457.6 637.6 1457.8 643.4 1458.1 667.5 1458.4 655.8 1458.7 690.5 1459.0 632.3 1459.2 678.9 1459.5 545.3 1459.8 634.6 1460.1 660.1 1460.4 669.6 1460.6 660.7 1460.9 633.7 1461.2 679.8 1461.5 670.4 1461.8 656.9 1462.0 671.6 1462.3 655.8 1462.6 653.2 1462.9 673.3 1463.2 632.3 1463.4 685.9 1463.7 666.4 1464.0 687.6 1464.3 674.0 1464.6 678.5 1464.8 678.2 1465.1 675.0 1465.4 656.3 1465.7 673.9 1466.0 654.6 1466.2 644.4 1466.5 670.2 1466.8 667.3 1467.1 676.3 1467.4 626.0 1467.6 664.5 1467.9 663.7 1468.2 649.8 1468.5 674.4 1468.8 629.6 1469.0 652.3 1469.3 636.4 1469.6 643.6 1469.9 626.4 1470.2 640.1 1470.4 659.1 1470.7 645.4 1471.0 650.8 1471.3 626.9 1471.6 675.3 1471.8 628.3 1472.1 643.7 1472.4 657.4 1472.7 679.2 1473.0 661.9 1473.2 652.4 1473.5 670.2 1473.8 660.7 1474.1 672.6 1474.4 637.9 1474.6 659.0 1474.9 662.0 1475.2 656.4 1475.5 634.8 1475.8 640.1 1476.0 643.5 1476.3 645.3 1476.6 624.0 1476.9 653.8 1477.2 637.7 1477.4 638.7 1477.7 629.9 1478.0 634.5 1478.3 649.4 1478.6 624.5 1478.8 629.2 1479.1 624.7 1479.4 629.7 1479.7 650.0 1480.0 630.1 1480.2 632.6 1480.5 623.6 1480.8 635.2 1481.1 642.6 1481.4 634.8 1481.6 636.0 1481.9 646.9 1482.2 642.8 1482.5 634.7 1482.8 626.8 1483.0 621.6 1483.3 642.4 1483.6 619.5 1483.9 634.1 1484.2 625.8 1484.4 620.5 1484.7 630.9 1485.0 618.2 1485.3 629.1 1485.6 614.3 1485.8 621.8 1486.1 623.6 1486.4 610.9 1486.7 621.7 1487.0 616.8 1487.2 606.2 1487.5 615.5 1487.8 614.6 1488.1 608.7 1488.4 611.1 1488.6 617.2 1488.9 604.7 1489.2 622.5 1489.5 629.7 1489.8 621.5 1490.0 636.4 1490.3 640.6 1490.6 605.3 1490.9 605.6 1491.2 619.6 1491.4 642.9 1491.7 638.3 1492.0 609.6 1492.3 605.1 1492.6 657.2 1492.8 650.8 1493.1 604.0 1493.4 608.1 1493.7 638.3 1494.0 613.1 1494.2 603.4 1494.5 646.7 1494.8 628.2 1495.1 609.1 1495.4 615.7 1495.6 642.9 1495.9 619.1 1496.2 633.8 1496.5 644.9 1496.8 646.5 1497.0 600.6 1497.3 622.1 1497.6 625.1 1497.9 633.0 1498.2 642.0 1498.4 644.7 1498.7 617.1 1499.0 604.0 1499.3 626.3 1499.6 608.9 1499.8 643.3 1500.1 624.0 1500.4 616.3 1500.7 632.5 1501.0 602.1 1501.2 606.3 1501.5 608.8 1501.8 624.3 1502.1 634.1 1502.4 627.1 1502.6 627.2 1502.9 609.6 1503.2 622.0 1503.5 611.5 1503.8 635.1 1504.0 606.3 1504.3 617.7 1504.6 624.2 1504.9 632.7 1505.2 606.4 1505.4 647.7 1505.7 603.9 1506.0 595.8 1506.3 634.1 1506.6 624.6 1506.8 592.4 1507.1 597.0 1507.4 623.3 1507.7 600.6 1508.0 594.0 1508.2 631.0 1508.5 600.0 1508.8 601.5 1509.1 619.4 1509.4 596.0 1509.6 607.3 1509.9 610.2 1510.2 623.7 1510.5 596.6 1510.8 634.2 1511.0 619.4 1511.3 650.0 1511.6 622.3 1511.9 607.8 1512.2 610.3 1512.4 601.6 1512.7 668.2 1513.0 629.6 1513.3 654.4 1513.6 636.8 1513.8 612.4 1514.1 658.7 1514.4 622.7 1514.7 641.8 1515.0 664.6 1515.2 662.1 1515.5 752.6 1515.8 625.0 1516.1 661.3 1516.4 652.7 1516.6 638.7 1516.9 647.4 1517.2 594.1 1517.5 611.6 1517.8 596.1 1518.0 604.7 1518.3 610.1 1518.6 635.4 1518.9 656.8 1519.2 646.4 1519.4 630.3 1519.7 611.8 1520.0 659.0 1520.3 628.3 1520.6 592.0 1520.8 616.7 1521.1 634.3 1521.4 597.5 1521.7 627.8 1522.0 664.3 1522.2 617.8 1522.5 627.1 1522.8 630.3 1523.1 604.8 1523.4 620.3 1523.6 606.1 1523.9 629.2 1524.2 615.0 1524.5 663.5 1524.8 635.4 1525.0 548.3 1525.3 608.8 1525.6 636.2 1525.9 652.5 1526.2 655.7 1526.4 624.5 1526.7 637.4 1527.0 644.4 1527.3 635.8 1527.6 635.2 1527.8 656.7 1528.1 624.7 1528.4 621.6 1528.7 633.2 1529.0 649.1 1529.2 621.8 1529.5 671.8 1529.8 644.7 1530.1 656.5 1530.4 629.7 1530.6 643.1 1530.9 679.3 1531.2 685.2 1531.5 658.5 1531.8 638.5 1532.0 641.4 1532.3 669.4 1532.6 631.1 1532.9 628.5 1533.2 641.3 1533.4 662.2 1533.7 628.2 1534.0 654.1 1534.3 654.9 1534.6 651.1 1534.8 646.0 1535.1 660.6 1535.4 667.6 1535.7 624.2 1536.0 660.1 1536.2 649.7 1536.5 645.6 1536.8 632.8 1537.1 632.1 1537.4 612.8 1537.6 630.3 1537.9 641.3 1538.2 640.1 1538.5 619.4 1538.8 607.3 1539.0 611.4 1539.3 619.5 1539.6 638.4 1539.9 604.1 1540.2 618.5 1540.4 625.3 1540.7 624.3 1541.0 612.9 1541.3 596.7 1541.6 621.3 1541.8 614.3 1542.1 619.5 1542.4 600.0 1542.7 605.0 1543.0 625.0 1543.2 608.8 1543.5 608.6 1543.8 597.8 1544.1 626.6 1544.4 588.2 1544.6 621.5 1544.9 604.7 1545.2 596.8 1545.5 606.0 1545.8 598.9 1546.0 607.5 1546.3 588.5 1546.6 588.1 1546.9 591.1 1547.2 578.5 1547.4 600.0 1547.7 579.0 1548.0 595.7 1548.3 597.0 1548.6 593.0 1548.8 584.9 1549.1 577.4 1549.4 572.2 1549.7 585.9 1550.0 578.1 1550.2 589.9 1550.5 576.2 1550.8 582.7 1551.1 574.6 1551.4 580.0 1551.6 574.3 1551.9 575.1 1552.2 569.7 1552.5 572.1 1552.8 574.7 1553.0 581.9 1553.3 577.0 1553.6 570.8 1553.9 581.2 1554.2 577.0 1554.4 579.2 1554.7 571.7 1555.0 569.5 1555.3 571.9 1555.6 571.6 1555.8 576.4 1556.1 572.1 1556.4 574.1 1556.7 573.8 1557.0 578.7 1557.2 584.1 1557.5 582.6 1557.8 582.5 1558.1 583.2 1558.4 581.3 1558.6 583.3 1558.9 585.3 1559.2 581.5 1559.5 587.0 1559.8 585.1 1560.0 589.8 1560.3 597.6 1560.6 604.5 1560.9 592.1 1561.2 617.8 1561.4 608.0 1561.7 610.4 1562.0 618.2 1562.3 604.2 1562.6 637.6 1562.8 612.9 1563.1 639.9 1563.4 626.2 1563.7 584.9 1564.0 596.2 1564.2 592.2 1564.5 593.3 1564.8 589.9 1565.1 596.0 1565.4 587.7 1565.6 575.4 1565.9 588.6 1566.2 590.8 1566.5 584.6 1566.8 591.3 1567.0 587.6 1567.3 578.4 1567.6 579.9 1567.9 583.6 1568.2 587.4 1568.4 584.2 1568.7 589.0 1569.0 589.2 1569.3 569.6 1569.6 567.6 1569.8 577.0 1570.1 582.9 1570.4 587.7 1570.7 585.8 1571.0 581.8 1571.2 563.2 1571.5 573.2 1571.8 563.0 1572.1 572.3 1572.4 580.0 1572.6 562.4 1572.9 565.9 1573.2 598.5 1573.5 562.7 1573.8 565.6 1574.0 562.7 1574.3 562.7 1574.6 593.8 1574.9 572.5 1575.2 574.9 1575.4 574.3 1575.7 567.0 1576.0 598.7 1576.3 582.2 1576.6 591.2 1576.8 608.0 1577.1 593.5 1577.4 599.1 1577.7 601.8 1578.0 617.2 1578.2 588.9 1578.5 602.3 1578.8 590.5 1579.1 619.4 1579.4 633.7 1579.6 617.9 1579.9 654.8 1580.2 651.8 1580.5 664.7 1580.8 645.5 1581.0 675.0 1581.3 628.1 1581.6 643.3 1581.9 633.5 1582.2 618.9 1582.4 639.7 1582.7 632.3 1583.0 601.9 1583.3 615.6 1583.6 602.9 1583.8 597.7 1584.1 598.7 1584.4 584.7 1584.7 592.1 1585.0 592.6 1585.2 580.6 1585.5 581.0 1585.8 598.4 1586.1 587.7 1586.4 607.0 1586.6 606.9 1586.9 579.2 1587.2 595.0 1587.5 569.4 1587.8 582.5 1588.0 579.7 1588.3 582.0 1588.6 567.7 1588.9 598.5 1589.2 597.1 1589.4 582.4 1589.7 595.2 1590.0 607.5 1590.3 611.4 1590.6 578.3 1590.8 613.0 1591.1 576.5 1591.4 588.0 1591.7 596.2 1592.0 616.4 1592.2 612.6 1592.5 613.9 1592.8 619.3 1593.1 613.1 1593.4 605.0 1593.6 621.7 1593.9 609.1 1594.2 593.2 1594.5 587.6 1594.8 611.0 1595.0 623.8 1595.3 615.5 1595.6 603.3 1595.9 618.2 1596.2 584.3 1596.4 604.8 1596.7 589.9 1597.0 618.1 1597.3 587.0 1597.6 611.5 1597.8 602.3 1598.1 600.0 1598.4 612.4 1598.7 598.9 1599.0 622.7 1599.2 599.0 1599.5 554.2 1599.8 624.8 1600.1 624.6 1600.4 614.9 1600.6 625.9 1600.9 618.2 1601.2 592.5 1601.5 584.1 1601.8 590.4 1602.0 601.7 1602.3 617.1 1602.6 588.2 1602.9 593.7 1603.2 637.0 1603.4 597.2 1603.7 596.9 1604.0 594.2 1604.3 633.4 1604.6 625.3 1604.8 627.7 1605.1 636.0 1605.4 631.0 1605.7 636.0 1606.0 625.1 1606.2 634.6 1606.5 633.7 1606.8 636.6 1607.1 604.6 1607.4 626.5 1607.6 624.9 1607.9 619.5 1608.2 632.1 1608.5 647.0 1608.8 644.0 1609.0 633.4 1609.3 636.9 1609.6 646.8 1609.9 609.6 1610.2 638.5 1610.4 649.0 1610.7 649.8 1611.0 647.3 1611.3 646.0 1611.6 615.9 1611.8 633.8 1612.1 644.4 1612.4 649.2 1612.7 658.7 1613.0 615.9 1613.2 638.6 1613.5 649.5 1613.8 632.6 1614.1 640.9 1614.4 651.4 1614.6 648.3 1614.9 646.0 1615.2 654.4 1615.5 657.8 1615.8 636.7 1616.0 625.4 1616.3 630.6 1616.6 634.2 1616.9 641.4 1617.2 624.4 1617.4 633.0 1617.7 639.9 1618.0 650.6 1618.3 646.7 1618.6 641.4 1618.8 646.5 1619.1 642.7 1619.4 642.0 1619.7 643.7 1620.0 641.5 1620.2 640.0 1620.5 642.4 1620.8 633.5 1621.1 636.9 1621.4 627.1 1621.6 632.2 1621.9 644.5 1622.2 632.0 1622.5 634.6 1622.8 631.9 1623.0 629.0 1623.3 639.6 1623.6 635.8 1623.9 713.2 1624.2 630.3 1624.4 637.0 1624.7 633.9 1625.0 631.9 1625.3 645.2 1625.6 630.6 1625.8 547.8 1626.1 650.8 1626.4 634.3 1626.7 632.9 1627.0 638.5 1627.2 628.3 1627.5 636.8 1627.8 627.7 1628.1 630.1 1628.4 629.6 1628.6 646.7 1628.9 639.7 1629.2 651.2 1629.5 650.7 1629.8 630.0 1630.0 641.4 1630.3 632.8 1630.6 632.1 1630.9 650.3 1631.2 659.5 1631.4 641.7 1631.7 644.6 1632.0 644.5 1632.3 645.2 1632.6 645.7 1632.8 633.3 1633.1 648.5 1633.4 636.5 1633.7 633.1 1634.0 642.5 1634.2 646.7 1634.5 650.9 1634.8 647.7 1635.1 647.2 1635.4 657.7 1635.6 648.6 1635.9 646.6 1636.2 647.2 1636.5 636.2 1636.8 658.4 1637.0 651.6 1637.3 650.7 1637.6 643.4 1637.9 639.1 1638.2 654.3 1638.4 632.7 1638.7 638.7 1639.0 641.5 1639.3 654.6 1639.6 643.9 1639.8 666.6 1640.1 633.5 1640.4 669.3 1640.7 657.2 1641.0 665.8 1641.2 645.3 1641.5 667.6 1641.8 648.1 1642.1 657.4 1642.4 634.9 1642.6 660.5 1642.9 652.2 1643.2 634.0 1643.5 646.8 1643.8 643.8 1644.0 656.7 1644.3 640.5 1644.6 648.3 1644.9 657.1 1645.2 640.1 1645.4 656.5 1645.7 646.9 1646.0 643.7 1646.3 640.1 1646.6 640.1 1646.8 650.0 1647.1 644.0 1647.4 643.9 1647.7 652.4 1648.0 651.6 1648.2 649.8 1648.5 643.7 1648.8 643.4 1649.1 655.8 1649.4 652.3 1649.6 651.7 1649.9 659.1 1650.2 651.6 1650.5 656.1 1650.8 661.2 1651.0 657.7 1651.3 648.2 1651.6 644.8 1651.9 661.4 1652.2 640.1 1652.4 659.7 1652.7 664.9 1653.0 650.8 1653.3 662.5 1653.6 655.6 1653.8 668.1 1654.1 660.9 1654.4 647.9 1654.7 663.0 1655.0 660.7 1655.2 649.0 1655.5 653.7 1655.8 637.5 1656.1 640.6 1656.4 661.1 1656.6 629.1 1656.9 651.9 1657.2 645.6 1657.5 635.5 1657.8 664.0 1658.0 654.0 1658.3 634.1 1658.6 645.9 1658.9 658.2 1659.2 627.1 1659.4 647.2 1659.7 640.2 1660.0 650.9 1660.3 665.1 1660.6 636.2 1660.8 640.8 1661.1 630.9 1661.4 648.7 1661.7 652.8 1662.0 625.3 1662.2 656.2 1662.5 655.4 1662.8 624.8 1663.1 628.0 1663.4 646.2 1663.6 642.0 1663.9 648.5 1664.2 637.1 1664.5 648.2 1664.8 627.8 1665.0 644.0 1665.3 636.2 1665.6 635.9 1665.9 624.8 1666.2 636.2 1666.4 649.4 1666.7 632.5 1667.0 636.7 1667.3 640.4 1667.6 627.6 1667.8 641.1 1668.1 643.8 1668.4 633.9 1668.7 620.0 1669.0 649.6 1669.2 635.0 1669.5 633.6 1669.8 630.7 1670.1 626.0 1670.4 619.5 1670.6 632.3 1670.9 635.2 1671.2 647.3 1671.5 654.0 1671.8 626.4 1672.0 654.1 1672.3 637.0 1672.6 643.7 1672.9 622.5 1673.2 639.8 1673.4 622.3 1673.7 641.7 1674.0 617.5 1674.3 631.8 1674.6 650.9 1674.8 633.2 1675.1 630.9 1675.4 628.6 1675.7 619.5 1676.0 634.5 1676.2 631.9 1676.5 615.1 1676.8 632.7 1677.1 615.1 1677.4 623.6 1677.6 620.1 1677.9 621.0 1678.2 633.7 1678.5 609.6 1678.8 641.7 1679.0 612.9 1679.3 645.7 1679.6 641.1 1679.9 619.5 1680.2 644.3 1680.4 638.2 1680.7 630.7 1681.0 660.1 1681.3 662.0 1681.6 658.2 1681.8 668.4 1682.1 659.9 1682.4 656.5 1682.7 673.6 1683.0 655.0 1683.2 674.6 1683.5 676.7 1683.8 668.7 1684.1 667.2 1684.4 671.3 1684.6 668.3 1684.9 656.6 1685.2 647.1 1685.5 658.3 1685.8 650.1 1686.0 674.9 1686.3 658.8 1686.6 667.6 1686.9 673.3 1687.2 685.1 1687.4 654.7 1687.7 682.7 1688.0 678.5 1688.3 676.5 1688.6 655.5 1688.8 687.5 1689.1 679.5 1689.4 685.7 1689.7 666.5 1690.0 692.5 1690.2 692.1 1690.5 672.6 1690.8 696.6 1691.1 656.6 1691.4 689.3 1691.6 685.2 1691.9 684.9 1692.2 658.7 1692.5 662.7 1692.8 686.3 1693.0 687.5 1693.3 666.2 1693.6 663.1 1693.9 660.3 1694.2 693.9 1694.4 667.7 1694.7 662.7 1695.0 654.4 1695.3 655.1 1695.6 658.7 1695.8 655.5 1696.1 666.3 1696.4 667.6 1696.7 660.6 1697.0 666.2 1697.2 670.5 1697.5 658.3 1697.8 684.0 1698.1 657.4 1698.4 696.0 1698.6 660.7 1698.9 680.3 1699.2 675.0 1699.5 687.8 1699.8 669.8 1700.0 691.3 1700.3 660.7 1700.6 694.0 1700.9 674.6 1701.2 683.8 1701.4 690.7 1701.7 663.1 1702.0 667.3 1702.3 666.0 1702.6 671.6 1702.8 674.0 1703.1 679.0 1703.4 674.0 1703.7 670.9 1704.0 676.6 1704.2 681.2 1704.5 681.2 1704.8 688.7 1705.1 663.3 1705.4 672.3 1705.6 699.0 1705.9 658.8 1706.2 675.4 1706.5 683.7 1706.8 657.1 1707.0 668.8 1707.3 661.7 1707.6 667.2 1707.9 661.8 1708.2 653.2 1708.4 647.6 1708.7 647.8 1709.0 663.0 1709.3 656.8 1709.6 684.0 1709.8 658.8 1710.1 670.6 1710.4 651.7 1710.7 651.9 1711.0 663.0 1711.2 679.2 1711.5 667.4 1711.8 661.0 1712.1 669.4 1712.4 672.3 1712.6 671.6 1712.9 668.5 1713.2 660.1 1713.5 660.2 1713.8 665.4 1714.0 668.9 1714.3 660.0 1714.6 678.2 1714.9 674.0 1715.2 665.0 1715.4 674.4 1715.7 678.3 1716.0 670.3 1716.3 670.0 1716.6 674.8 1716.8 660.7 1717.1 664.4 1717.4 663.5 1717.7 673.3 1718.0 661.2 1718.2 671.6 1718.5 667.0 1718.8 668.9 1719.1 668.0 1719.4 678.5 1719.6 667.9 1719.9 667.0 1720.2 676.5 1720.5 672.1 1720.8 678.4 1721.0 676.2 1721.3 677.0 1721.6 677.4 1721.9 668.5 1722.2 667.9 1722.4 682.3 1722.7 671.5 1723.0 680.6 1723.3 671.9 1723.6 678.7 1723.8 678.3 1724.1 684.3 1724.4 680.2 1724.7 671.8 1725.0 673.1 1725.2 684.2 1725.5 685.9 1725.8 686.8 1726.1 687.2 1726.4 672.2" fill="none" stroke="#f00" stroke-width="2.3" stroke-linejoin="round" />
</g>
<line x1="1726" y1="478" x2="1726" y2="822" stroke="#1f77b4" stroke-width="2" stroke-dasharray="2.08 3.44"/>
<rect x="1205" y="478" width="595" height="344" fill="none" stroke="#000" stroke-width="2"/>
<line x1="1800" y1="479" x2="1800" y2="821" stroke="#f00" stroke-width="2" />
<line x1="1244.5" y1="822" x2="1244.5" y2="817" stroke="#000" stroke-width="1.2" />
<line x1="1318.5" y1="822" x2="1318.5" y2="817" stroke="#000" stroke-width="1.2" />
<line x1="1393.5" y1="822" x2="1393.5" y2="817" stroke="#000" stroke-width="1.2" />
<line x1="1467.5" y1="822" x2="1467.5" y2="817" stroke="#000" stroke-width="1.2" />
<line x1="1542.5" y1="822" x2="1542.5" y2="817" stroke="#000" stroke-width="1.2" />
<line x1="1616.5" y1="822" x2="1616.5" y2="817" stroke="#000" stroke-width="1.2" />
<line x1="1691.5" y1="822" x2="1691.5" y2="817" stroke="#000" stroke-width="1.2" />
<line x1="1765.5" y1="822" x2="1765.5" y2="817" stroke="#000" stroke-width="1.2" />
<line x1="1205" y1="787.5" x2="1210.8" y2="787.5" stroke="#000" stroke-width="1.2" />
<text xml:space="preserve" x="1200" y="794.7" font-size="19.44" text-anchor="end" fill="#000" >−400</text>
<line x1="1205" y1="718.5" x2="1210.8" y2="718.5" stroke="#000" stroke-width="1.2" />
<text xml:space="preserve" x="1200" y="725.9" font-size="19.44" text-anchor="end" fill="#000" >−300</text>
<line x1="1205" y1="650.5" x2="1210.8" y2="650.5" stroke="#000" stroke-width="1.2" />
<text xml:space="preserve" x="1200" y="657.1" font-size="19.44" text-anchor="end" fill="#000" >−200</text>
<line x1="1205" y1="581.5" x2="1210.8" y2="581.5" stroke="#000" stroke-width="1.2" />
<text xml:space="preserve" x="1200" y="588.3" font-size="19.44" text-anchor="end" fill="#000" >−100</text>
<line x1="1205" y1="512.5" x2="1210.8" y2="512.5" stroke="#000" stroke-width="1.2" />
<text xml:space="preserve" x="1200" y="519.5" font-size="19.44" text-anchor="end" fill="#000" >0</text>
<line x1="1800" y1="822.5" x2="1795" y2="822.5" stroke="#f00" stroke-width="1.2" />
<text xml:space="preserve" x="1806" y="829.9" font-size="19.44" text-anchor="start" fill="#f00" >10<tspan dy="-7.1" font-size="13.61">−2</tspan></text>
<line x1="1800" y1="796.5" x2="1796.8" y2="796.5" stroke="#f00" stroke-width="1" />
<line x1="1800" y1="780.5" x2="1796.8" y2="780.5" stroke="#f00" stroke-width="1" />
<line x1="1800" y1="770.5" x2="1796.8" y2="770.5" stroke="#f00" stroke-width="1" />
<line x1="1800" y1="761.5" x2="1796.8" y2="761.5" stroke="#f00" stroke-width="1" />
<line x1="1800" y1="755.5" x2="1796.8" y2="755.5" stroke="#f00" stroke-width="1" />
<line x1="1800" y1="749.5" x2="1796.8" y2="749.5" stroke="#f00" stroke-width="1" />
<line x1="1800" y1="744.5" x2="1796.8" y2="744.5" stroke="#f00" stroke-width="1" />
<line x1="1800" y1="739.5" x2="1796.8" y2="739.5" stroke="#f00" stroke-width="1" />
<line x1="1800" y1="736.5" x2="1795" y2="736.5" stroke="#f00" stroke-width="1.2" />
<text xml:space="preserve" x="1806" y="743.9" font-size="19.44" text-anchor="start" fill="#f00" >10<tspan dy="-7.1" font-size="13.61">−1</tspan></text>
<line x1="1800" y1="710.5" x2="1796.8" y2="710.5" stroke="#f00" stroke-width="1" />
<line x1="1800" y1="694.5" x2="1796.8" y2="694.5" stroke="#f00" stroke-width="1" />
<line x1="1800" y1="684.5" x2="1796.8" y2="684.5" stroke="#f00" stroke-width="1" />
<line x1="1800" y1="675.5" x2="1796.8" y2="675.5" stroke="#f00" stroke-width="1" />
<line x1="1800" y1="669.5" x2="1796.8" y2="669.5" stroke="#f00" stroke-width="1" />
<line x1="1800" y1="663.5" x2="1796.8" y2="663.5" stroke="#f00" stroke-width="1" />
<line x1="1800" y1="658.5" x2="1796.8" y2="658.5" stroke="#f00" stroke-width="1" />
<line x1="1800" y1="653.5" x2="1796.8" y2="653.5" stroke="#f00" stroke-width="1" />
<line x1="1800" y1="650.5" x2="1795" y2="650.5" stroke="#f00" stroke-width="1.2" />
<text xml:space="preserve" x="1806" y="657.9" font-size="19.44" text-anchor="start" fill="#f00" >10<tspan dy="-7.1" font-size="13.61">0</tspan></text>
<line x1="1800" y1="624.5" x2="1796.8" y2="624.5" stroke="#f00" stroke-width="1" />
<line x1="1800" y1="608.5" x2="1796.8" y2="608.5" stroke="#f00" stroke-width="1" />
<line x1="1800" y1="598.5" x2="1796.8" y2="598.5" stroke="#f00" stroke-width="1" />
<line x1="1800" y1="589.5" x2="1796.8" y2="589.5" stroke="#f00" stroke-width="1" />
<line x1="1800" y1="583.5" x2="1796.8" y2="583.5" stroke="#f00" stroke-width="1" />
<line x1="1800" y1="577.5" x2="1796.8" y2="577.5" stroke="#f00" stroke-width="1" />
<line x1="1800" y1="572.5" x2="1796.8" y2="572.5" stroke="#f00" stroke-width="1" />
<line x1="1800" y1="567.5" x2="1796.8" y2="567.5" stroke="#f00" stroke-width="1" />
<line x1="1800" y1="564.5" x2="1795" y2="564.5" stroke="#f00" stroke-width="1.2" />
<text xml:space="preserve" x="1806" y="571.9" font-size="19.44" text-anchor="start" fill="#f00" >10<tspan dy="-7.1" font-size="13.61">1</tspan></text>
<line x1="1800" y1="538.5" x2="1796.8" y2="538.5" stroke="#f00" stroke-width="1" />
<line x1="1800" y1="522.5" x2="1796.8" y2="522.5" stroke="#f00" stroke-width="1" />
<line x1="1800" y1="512.5" x2="1796.8" y2="512.5" stroke="#f00" stroke-width="1" />
<line x1="1800" y1="503.5" x2="1796.8" y2="503.5" stroke="#f00" stroke-width="1" />
<line x1="1800" y1="497.5" x2="1796.8" y2="497.5" stroke="#f00" stroke-width="1" />
<line x1="1800" y1="491.5" x2="1796.8" y2="491.5" stroke="#f00" stroke-width="1" />
<line x1="1800" y1="486.5" x2="1796.8" y2="486.5" stroke="#f00" stroke-width="1" />
<line x1="1800" y1="481.5" x2="1796.8" y2="481.5" stroke="#f00" stroke-width="1" />
<line x1="1800" y1="478.5" x2="1795" y2="478.5" stroke="#f00" stroke-width="1.2" />
<text xml:space="preserve" x="1806" y="485.9" font-size="19.44" text-anchor="start" fill="#f00" >10<tspan dy="-7.1" font-size="13.61">2</tspan></text>
<text xml:space="preserve" x="0" y="0" transform="translate(1105 652.5) rotate(-90)" font-size="24" text-anchor="middle" fill="#000" >Dst</text>
<text xml:space="preserve" x="0" y="0" transform="translate(1136 650) rotate(-90)" font-size="24" text-anchor="middle" fill="#000" >( nT )</text>
<text xml:space="preserve" x="0" y="0" transform="translate(1875.4 650) rotate(-90)" font-size="24" text-anchor="middle" fill="#f00" >SW Pressure</text>
<text xml:space="preserve" x="0" y="0" transform="translate(1906.2 650) rotate(-90)" font-size="24" text-anchor="middle" fill="#f00" >( nPa )</text>
</g>
<g id="r3">
<line x1="1205" y1="931.25" x2="1800" y2="931.25" stroke="#000" stroke-width="2" stroke-dasharray="2.08 3.44"/>
<clipPath id="cr3"><rect x="1205" y="845" width="595" height="172.5"/></clipPath><g clip-path="url(#cr3)">
<path d="M1205.0 1002.0 1205.3 1000.3 1205.6 1007.6 1205.9 992.5 1206.2 1003.9 1206.5 991.1 1206.8 996.1 1207.1 997.0 1207.4 1007.0 1207.7 1001.1 1208.0 997.3 1208.3 1009.4 1208.6 986.7 1208.9 1001.2 1209.2 1008.3 1209.5 1002.8 1209.8 1005.7 1210.1 1005.8 1210.4 995.6 1210.7 1001.6 1211.0 994.7 1211.3 993.9 1211.6 995.2 1211.9 992.2 1212.2 992.2 1212.5 996.7 1212.8 1000.3 1213.1 1002.2 1213.4 994.8 1213.7 1001.2 1214.0 1007.4 1214.3 1006.5 1214.6 993.1 1214.9 992.2 1215.2 1001.2 1215.5 1007.6 1215.8 1000.8 1216.1 1006.2 1216.4 1002.2 1216.7 1001.4 1217.0 1001.6 1217.3 1000.6 1217.6 996.0 1217.9 1008.5 1218.2 1005.1 1218.5 994.9 1218.8 995.3 1219.1 992.2 1219.4 999.8 1219.7 991.5 1220.0 995.0 1220.3 1003.5 1220.6 1003.7 1220.9 1004.3 1221.2 993.4 1221.5 986.2 1221.8 1000.9 1222.1 1008.0 1222.4 1000.9 1222.7 1008.7 1223.0 1005.7 1223.3 1006.7 1223.6 1000.1 1223.9 999.0 1224.2 998.8 1224.5 1006.8 1224.8 998.5 1225.1 984.3 1225.4 1006.9 1225.7 1004.1 1226.0 998.0 1226.3 1001.0 1226.6 991.5 1226.9 990.8 1227.2 1000.6 1227.5 1009.2 1227.8 1009.0 1228.1 1009.3 1228.4 1005.4 1228.7 997.7 1229.0 1007.1 1229.3 995.0 1229.6 990.4 1229.9 1004.1 1230.2 1008.2 1230.5 1007.7 1230.8 1009.2 1231.1 1008.0 1231.4 1006.1 1231.7 996.1 1232.0 1000.6 1232.3 993.5 1232.6 996.6 1232.9 1008.6 1233.2 1000.7 1233.5 1000.0 1233.8 993.0 1234.1 1009.2 1234.4 990.4 1234.7 991.5 1235.0 1003.3 1235.3 993.7 1235.6 993.1 1235.9 1001.8 1236.2 1004.5 1236.5 1004.3 1236.8 993.6 1237.1 1002.9 1237.4 991.4 1237.7 991.3 1238.0 990.9 1238.3 996.5 1238.6 992.9 1238.9 990.8 1239.2 994.4 1239.5 991.0 1239.8 992.6 1240.1 994.3 1240.4 993.8 1240.7 992.3 1241.0 991.7 1241.3 1005.5 1241.6 990.8 1241.9 999.1 1242.2 993.4 1242.5 993.2 1242.8 990.9 1243.1 995.1 1243.4 993.2 1243.7 1002.6 1244.0 993.5 1244.3 991.8 1244.6 991.5 1244.9 1001.8 1245.2 1001.1 1245.5 995.4 1245.8 1007.9 1246.1 1001.5 1246.4 997.4 1246.7 1003.3 1247.0 993.7 1247.3 1000.9 1247.6 994.0 1247.9 1005.0 1248.2 1006.5 1248.5 1002.3 1248.8 1008.3 1249.1 998.6 1249.4 1005.9 1249.7 1002.6 1250.0 995.0 1250.3 1006.6 1250.6 1009.5 1250.9 1009.9 1251.2 1005.9 1251.5 1006.6 1251.8 1009.5 1252.1 998.1 1252.4 1009.2 1252.7 994.3 1253.0 995.5 1253.3 1001.9 1253.6 1000.9 1253.9 1007.7 1254.2 995.5 1254.5 999.9 1254.8 998.1 1255.1 1001.1 1255.4 1004.0 1255.7 1005.7 1256.0 1002.1 1256.3 1002.1 1256.6 999.9 1256.9 991.4 1257.2 990.8 1257.5 1001.1 1257.8 992.5 1258.1 994.5 1258.4 1001.4 1258.7 998.1 1259.0 995.1 1259.3 994.3 1259.6 999.7 1259.9 1008.8 1260.2 992.8 1260.5 997.6 1260.8 1006.8 1261.1 1003.6 1261.4 997.8 1261.7 1001.7 1262.0 1005.0 1262.3 1008.7 1262.6 987.0 1262.9 996.0 1263.2 1004.3 1263.5 1005.9 1263.8 1004.6 1264.1 1005.2 1264.4 1007.3 1264.7 987.6 1265.0 1010.0 1265.3 996.3 1265.6 995.7 1265.9 990.2 1266.2 1001.1 1266.5 999.9 1266.8 997.0 1267.1 991.5 1267.4 1008.5 1267.7 1003.7 1268.0 1005.7 1268.3 992.6 1268.6 1002.5 1268.9 1004.8 1269.2 1008.9 1269.5 1006.6 1269.8 1008.0 1270.1 994.1 1270.4 1001.6 1270.7 1004.6 1271.0 1004.1 1271.3 1003.2 1271.6 1003.1 1271.9 987.9 1272.2 1003.5 1272.5 1007.7 1272.8 1007.8 1273.1 1003.2 1273.4 1005.1 1273.7 992.6 1274.0 998.5 1274.3 1007.7 1274.6 984.4 1274.9 992.2 1275.2 1006.8 1275.5 995.0 1275.8 1008.2 1276.1 1003.1 1276.4 994.1 1276.7 996.5 1277.0 1008.8 1277.3 1004.2 1277.6 1001.5 1277.9 1002.8 1278.2 1000.4 1278.5 996.3 1278.8 1004.8 1279.1 1008.8 1279.4 1002.2 1279.7 1009.1 1280.0 1008.1 1280.3 991.3 1280.6 1005.0 1280.9 1008.9 1281.2 990.2 1281.5 995.7 1281.8 1004.2 1282.1 987.4 1282.4 1000.1 1282.7 997.5 1283.0 993.0 1283.3 996.5 1283.6 994.5 1283.9 996.0 1284.2 995.8 1284.5 992.6 1284.8 992.2 1285.1 992.9 1285.4 999.3 1285.7 993.0 1286.0 1006.1 1286.3 994.8 1286.6 1008.8 1286.9 1000.2 1287.2 998.2 1287.5 998.0 1287.8 1004.3 1288.1 1003.2 1288.4 996.5 1288.7 1002.3 1289.0 1004.5 1289.3 1002.9 1289.6 1008.1 1289.9 992.5 1290.2 997.4 1290.5 996.0 1290.8 1002.3 1291.1 1009.5 1291.4 993.8 1291.7 994.4 1292.0 997.2 1292.3 1005.3 1292.6 1006.8 1292.9 996.3 1293.2 1005.7 1293.5 1000.9 1293.8 1007.6 1294.1 1002.7 1294.4 1005.4 1294.7 1002.2 1295.0 984.4 1295.3 995.4 1295.6 1004.6 1295.9 997.4 1296.2 995.4 1296.5 1000.3 1296.8 1006.1 1297.1 1007.9 1297.4 999.4 1297.7 1003.0 1298.0 1008.2 1298.3 1000.9 1298.6 1009.9 1298.9 1006.8 1299.2 997.6 1299.5 1007.9 1299.8 1002.0 1300.1 1010.8 1300.4 1002.3 1300.7 987.5 1301.0 1011.4 1301.3 1006.1 1301.6 1004.0 1301.9 996.9 1302.2 999.2 1302.5 1004.1 1302.8 1010.0 1303.1 1007.5 1303.4 994.1 1303.7 1006.1 1304.0 994.7 1304.3 1008.8 1304.6 1007.5 1304.9 1003.6 1305.2 993.6 1305.5 1003.9 1305.8 996.9 1306.1 996.2 1306.4 1000.6 1306.7 993.4 1307.0 1002.4 1307.3 1005.7 1307.6 1008.3 1307.9 1000.9 1308.2 1001.1 1308.5 1009.4 1308.8 1009.5 1309.1 995.2 1309.4 1006.9 1309.7 1008.8 1310.0 1000.9 1310.3 1008.3 1310.6 1003.1 1310.9 1001.0 1311.2 995.1 1311.5 1008.2 1311.8 996.6 1312.1 990.7 1312.4 992.3 1312.7 996.0 1313.0 993.6 1313.3 1008.1 1313.6 997.4 1313.9 999.7 1314.2 1003.8 1314.5 1007.1 1314.8 995.6 1315.1 992.7 1315.4 996.8 1315.7 986.7 1316.0 1002.4 1316.3 1006.5 1316.6 997.3 1316.9 1006.7 1317.2 1003.1 1317.5 1000.3 1317.8 1002.7 1318.1 1001.1 1318.4 999.9 1318.7 990.3 1319.0 998.5 1319.3 996.5 1319.6 1000.9 1319.9 1000.2 1320.2 995.9 1320.5 1002.5 1320.8 1008.9 1321.1 1006.0 1321.4 1003.0 1321.7 985.3 1322.0 1008.9 1322.3 1000.4 1322.6 1004.9 1322.9 1003.3 1323.2 995.6 1323.5 1008.9 1323.8 1009.9 1324.1 1004.7 1324.4 1004.3 1324.7 1007.9 1325.0 1010.6 1325.3 1002.8 1325.6 1010.4 1325.9 1009.1 1326.2 991.5 1326.5 995.9 1326.8 1000.6 1327.1 995.9 1327.4 1004.8 1327.7 1001.3 1328.0 1003.1 1328.3 998.8 1328.6 992.1 1328.9 1003.8 1329.2 996.0 1329.5 1008.2 1329.8 1006.3 1330.1 1011.4 1330.4 1008.1 1330.7 993.1 1331.0 1011.1 1331.3 1007.1 1331.6 1009.0 1331.9 1009.6 1332.2 994.8 1332.5 993.1 1332.8 1003.5 1333.1 992.9 1333.4 991.3 1333.7 992.8 1334.0 995.1 1334.3 1001.2 1334.6 994.8 1334.9 993.8 1335.2 1001.0 1335.5 1000.7 1335.8 1006.2 1336.1 994.6 1336.4 1011.0 1336.7 997.3 1337.0 1009.5 1337.3 1009.8 1337.6 1000.1 1337.9 1003.5 1338.2 986.5 1338.5 1007.2 1338.8 1008.7 1339.1 1003.1 1339.4 1003.6 1339.7 997.2 1340.0 1006.0 1340.3 1006.6 1340.6 1000.9 1340.9 995.8 1341.2 987.1 1341.5 997.1 1341.8 998.8 1342.1 997.6 1342.4 983.5 1342.7 1003.0 1343.0 995.0 1343.3 998.8 1343.6 998.7 1343.9 1008.1 1344.2 1010.4 1344.5 1010.1 1344.8 1010.0 1345.1 1009.7 1345.4 1002.6 1345.7 1001.7 1346.0 995.6 1346.3 1007.5 1346.6 1004.5 1346.9 995.9 1347.2 1004.0 1347.5 1001.0 1347.8 1006.1 1348.1 999.6 1348.4 996.5 1348.7 1000.5 1349.0 1000.9 1349.3 1006.7 1349.6 1001.7 1349.9 1001.0 1350.2 1005.0 1350.5 997.6 1350.8 1002.1 1351.1 1008.0 1351.4 1001.8 1351.7 1008.6 1352.0 1004.2 1352.3 1005.1 1352.6 1007.7 1352.9 1006.5 1353.2 997.9 1353.5 994.7 1353.8 1004.1 1354.1 997.0 1354.4 999.5 1354.7 1004.8 1355.0 999.6 1355.3 996.4 1355.6 993.1 1355.9 998.7 1356.2 1008.9 1356.5 993.9 1356.8 991.3 1357.1 994.1 1357.4 984.8 1357.7 996.3 1358.0 996.8 1358.3 997.6 1358.6 1000.0 1358.9 993.8 1359.2 992.5 1359.5 1000.3 1359.8 1009.4 1360.1 993.1 1360.4 1000.2 1360.7 1001.1 1361.0 999.9 1361.3 1003.6 1361.6 997.7 1361.9 1006.6 1362.2 996.1 1362.5 992.0 1362.8 998.0 1363.1 1004.2 1363.4 1010.4 1363.7 987.5 1364.0 1009.0 1364.3 991.6 1364.6 1004.4 1364.9 1008.0 1365.2 998.3 1365.5 1004.0 1365.8 995.4 1366.1 993.4 1366.4 994.8 1366.7 1001.4 1367.0 990.4 1367.3 1006.0 1367.6 997.0 1367.9 994.6 1368.2 1007.0 1368.5 1002.9 1368.8 1011.1 1369.1 995.7 1369.4 1000.0 1369.7 998.5 1370.0 1009.5 1370.3 997.0 1370.6 992.3 1370.9 990.7 1371.2 991.3 1371.5 997.7 1371.8 993.4 1372.1 1006.0 1372.4 991.5 1372.7 995.3 1373.0 991.4 1373.3 994.6 1373.6 992.6 1373.9 993.3 1374.2 990.7 1374.5 1001.6 1374.8 993.0 1375.1 993.2 1375.4 992.9 1375.7 993.2 1376.0 1005.5 1376.3 1005.9 1376.6 999.6 1376.9 992.0 1377.2 998.1 1377.5 994.8 1377.8 989.9 1378.1 992.3 1378.4 997.9 1378.7 992.6 1379.0 993.8 1379.3 1003.3 1379.6 1004.7 1379.9 989.6 1380.2 996.8 1380.5 996.4 1380.8 998.2 1381.1 992.4 1381.4 996.8 1381.7 989.1 1382.0 992.4 1382.3 1001.5 1382.6 990.3 1382.9 992.3 1383.2 991.5 1383.5 996.9 1383.8 1004.9 1384.1 993.8 1384.4 1009.0 1384.7 994.0 1385.0 1003.1 1385.3 1002.0 1385.6 991.1 1385.9 991.6 1386.2 998.4 1386.5 992.2 1386.8 990.8 1387.1 997.4 1387.4 991.3 1387.7 999.4 1388.0 998.1 1388.3 1005.1 1388.6 1007.9 1388.9 991.6 1389.2 997.0 1389.5 1005.2 1389.8 1010.0 1390.1 1001.8 1390.4 1000.7 1390.7 995.0 1391.0 1009.5 1391.3 997.1 1391.6 1001.4 1391.9 1004.0 1392.2 992.6 1392.5 992.2 1392.8 992.4 1393.1 996.6 1393.4 1002.3 1393.7 994.4 1394.0 988.0 1394.3 995.3 1394.6 999.7 1394.9 997.4 1395.2 993.7 1395.5 996.0 1395.8 998.0 1396.1 988.5 1396.4 997.8 1396.7 994.1 1397.0 1004.3 1397.3 993.9 1397.6 993.2 1397.9 993.5 1398.2 999.8 1398.5 1006.1 1398.8 993.5 1399.1 1001.9 1399.4 1003.8 1399.7 997.2 1400.0 1003.2 1400.3 1003.1 1400.6 996.2 1400.9 992.1 1401.2 997.4 1401.5 995.4 1401.8 997.7 1402.1 999.9 1402.4 1008.0 1402.7 995.1 1403.0 1001.4 1403.3 997.1 1403.6 993.6 1403.9 992.6 1404.2 992.2 1404.5 992.0 1404.8 998.4 1405.1 1001.7 1405.4 995.0 1405.7 1004.8 1406.0 1002.4 1406.3 1001.8 1406.6 997.5 1406.9 998.4 1407.2 1007.4 1407.5 1007.2 1407.8 1004.0 1408.1 1008.3 1408.4 1007.3 1408.7 996.9 1409.0 1008.7 1409.3 1004.2 1409.6 1009.1 1409.9 999.5 1410.2 992.6 1410.5 1005.0 1410.8 1008.7 1411.1 1002.3 1411.4 1004.0 1411.7 1009.4 1412.0 1008.6 1412.3 1008.0 1412.6 1002.0 1412.9 1030.0 1413.2 996.8 1413.5 1030.0 1413.8 1005.4 1414.1 1008.7 1414.4 1010.6 1414.7 1010.6 1415.0 1008.7 1415.3 1007.7 1415.6 1008.3 1415.9 1004.5 1416.2 1010.7 1416.5 998.8 1416.8 998.7 1417.1 991.8 1417.4 991.3 1417.7 1000.0 1418.0 1005.0 1418.3 1004.2 1418.6 1004.2 1418.9 991.9 1419.2 1008.6 1419.5 1002.4 1419.8 995.6 1420.1 998.3 1420.4 993.6 1420.7 994.6 1421.0 1003.0 1421.3 999.8 1421.6 1004.5 1421.9 1005.5 1422.2 993.5 1422.5 1009.5 1422.8 1010.3 1423.1 1002.0 1423.4 1007.3 1423.7 1009.1 1424.0 1005.7 1424.3 1006.2 1424.6 1000.5 1424.9 1001.5 1425.2 1006.4 1425.5 1009.1 1425.8 1006.6 1426.1 1008.8 1426.4 1007.2 1426.7 986.5 1427.0 1008.4 1427.3 1007.7 1427.6 1009.1 1427.9 1009.5 1428.2 1007.9 1428.5 1007.7 1428.8 1009.0 1429.1 1003.5 1429.4 1004.2 1429.7 1008.8 1430.0 999.3 1430.3 994.9 1430.6 999.3 1430.9 1008.1 1431.2 1007.3 1431.5 1005.3 1431.8 1005.0 1432.1 998.3 1432.4 1003.8 1432.7 999.9 1433.0 1008.3 1433.3 1004.4 1433.6 1007.6 1433.9 1007.1 1434.2 1003.9 1434.5 1001.6 1434.8 1000.4 1435.1 1007.9 1435.4 1008.8 1435.7 999.8 1436.0 1003.3 1436.3 1007.7 1436.6 1007.1 1436.9 1010.5 1437.2 1008.3 1437.5 1011.3 1437.8 1003.4 1438.1 1008.9 1438.4 1004.5 1438.7 999.3 1439.0 992.4 1439.3 1000.1 1439.6 1003.6 1439.9 1005.9 1440.2 1009.0 1440.5 1005.3 1440.8 1000.3 1441.1 995.9 1441.4 997.8 1441.7 1003.1 1442.0 993.4 1442.3 993.9 1442.6 999.8 1442.9 1008.4 1443.2 1003.0 1443.5 1006.1 1443.8 1000.2 1444.1 994.9 1444.4 997.1 1444.7 1004.2 1445.0 997.8 1445.3 1000.5 1445.6 1002.3 1445.9 1009.8 1446.2 1009.0 1446.5 992.2 1446.8 992.6 1447.1 1004.4 1447.4 1000.3 1447.7 1003.9 1448.0 1005.5 1448.3 1008.1 1448.6 991.2 1448.9 993.3 1449.2 991.1 1449.5 987.8 1449.8 1002.2 1450.1 998.0 1450.4 1000.5 1450.7 1006.1 1451.0 986.8 1451.3 992.9 1451.6 1003.9 1451.9 1008.7 1452.2 1000.3 1452.5 1004.5 1452.8 996.9 1453.1 1010.5 1453.4 998.3 1453.7 1002.0 1454.0 1006.4 1454.3 1007.6 1454.6 1008.9 1454.9 999.3 1455.2 1008.4 1455.5 1002.6 1455.8 1005.5 1456.1 1007.3 1456.4 999.9 1456.7 992.5 1457.0 1009.4 1457.3 1002.5 1457.6 997.0 1457.9 1009.0 1458.2 1009.4 1458.5 1002.4 1458.8 1008.8 1459.1 1003.0 1459.4 996.1 1459.7 995.3 1460.0 1003.7 1460.3 997.1 1460.6 993.0 1460.9 996.3 1461.2 998.4 1461.5 994.5 1461.8 997.8 1462.1 1005.0 1462.4 997.7 1462.7 1005.9 1463.0 1000.5 1463.3 1005.2 1463.6 1000.9 1463.9 1002.0 1464.2 994.7 1464.5 1005.0 1464.8 991.4 1465.1 997.0 1465.4 999.5 1465.7 999.7 1466.0 1009.6 1466.3 997.8 1466.6 1003.9 1466.9 1005.6 1467.2 1007.4 1467.5 1005.4 1467.8 1003.4 1468.1 1003.2 1468.4 1009.0 1468.7 993.4 1469.0 992.5 1469.3 997.6 1469.6 999.1 1469.9 1004.4 1470.2 999.5 1470.5 1005.9 1470.8 992.7 1471.1 995.6 1471.4 1003.3 1471.7 998.9 1472.0 1004.9 1472.3 998.8 1472.6 997.6 1472.9 1005.1 1473.2 1005.0 1473.5 998.7 1473.8 1007.3 1474.1 996.8 1474.4 999.9 1474.7 990.8 1475.0 1000.2 1475.3 1005.6 1475.6 1000.3 1475.9 992.0 1476.2 1001.0 1476.5 996.3 1476.8 991.3 1477.1 990.9 1477.4 997.5 1477.7 991.9 1478.0 992.0 1478.3 1002.7 1478.6 1002.1 1478.9 1004.6 1479.2 994.6 1479.5 1000.0 1479.8 1008.3 1480.1 997.9 1480.4 995.2 1480.7 1003.4 1481.0 1004.1 1481.3 993.6 1481.6 1003.3 1481.9 1006.3 1482.2 994.5 1482.5 992.8 1482.8 996.0 1483.1 1000.6 1483.4 1000.4 1483.7 1003.0 1484.0 994.1 1484.3 1006.8 1484.6 1008.3 1484.9 1003.2 1485.2 997.0 1485.5 996.4 1485.8 1030.0 1486.1 1001.7 1486.4 968.9 1486.7 998.0 1487.0 1001.9 1487.3 998.4 1487.6 995.6 1487.9 994.9 1488.2 993.4 1488.5 1005.1 1488.8 993.5 1489.1 997.2 1489.4 1000.4 1489.7 1003.4 1490.0 997.8 1490.3 1004.9 1490.6 998.4 1490.9 997.9 1491.2 996.2 1491.5 993.0 1491.8 995.2 1492.1 997.1 1492.4 998.9 1492.7 1007.6 1493.0 990.7 1493.3 993.5 1493.6 992.4 1493.9 1002.6 1494.2 1005.5 1494.5 998.4 1494.8 996.0 1495.1 1007.1 1495.4 1005.1 1495.7 994.4 1496.0 1000.9 1496.3 1006.5 1496.6 1001.1 1496.9 1009.4 1497.2 1000.9 1497.5 1002.6 1497.8 1003.7 1498.1 1002.8 1498.4 993.6 1498.7 994.4 1499.0 998.9 1499.3 1001.2 1499.6 1001.0 1499.9 996.5 1500.2 994.1 1500.5 996.6 1500.8 994.0 1501.1 990.4 1501.4 991.0 1501.7 1001.0 1502.0 994.8 1502.3 988.6 1502.6 1003.0 1502.9 996.0 1503.2 994.4 1503.5 1005.7 1503.8 995.5 1504.1 991.0 1504.4 993.8 1504.7 998.6 1505.0 1008.0 1505.3 1000.7 1505.6 1003.9 1505.9 992.7 1506.2 1002.9 1506.5 991.3 1506.8 1003.5 1507.1 1003.0 1507.4 1009.6 1507.7 1001.0 1508.0 1002.6 1508.3 997.1 1508.6 994.2 1508.9 998.9 1509.2 1005.4 1509.5 993.1 1509.8 1001.9 1510.1 1009.1 1510.4 993.2 1510.7 991.7 1511.0 993.2 1511.3 991.4 1511.6 1006.1 1511.9 985.6 1512.2 994.4 1512.5 991.4 1512.8 1004.7 1513.1 996.8 1513.4 999.4 1513.7 1001.0 1514.0 1009.7 1514.3 996.0 1514.6 1007.4 1514.9 1008.4 1515.2 1003.0 1515.5 1010.2 1515.8 993.7 1516.1 1003.1 1516.4 1010.0 1516.7 1010.9 1517.0 1009.0 1517.3 1009.1 1517.6 990.7 1517.9 1001.0 1518.2 1002.6 1518.5 997.3 1518.8 991.5 1519.1 995.6 1519.4 1010.5 1519.7 1001.3 1520.0 997.9 1520.3 1011.3 1520.6 1010.1 1520.9 1005.5 1521.2 1008.8 1521.5 993.8 1521.8 997.8 1522.1 1010.6 1522.4 998.4 1522.7 1002.0 1523.0 1010.4 1523.3 1008.3 1523.6 999.6 1523.9 996.6 1524.2 998.8 1524.5 1007.1 1524.8 994.7 1525.1 1003.4 1525.4 1007.2 1525.7 1005.9 1526.0 1002.8 1526.3 992.3 1526.6 1005.6 1526.9 1009.5 1527.2 1008.8 1527.5 1003.6 1527.8 998.9 1528.1 998.2 1528.4 1001.5 1528.7 997.0 1529.0 993.4 1529.3 992.3 1529.6 996.2 1529.9 1002.5 1530.2 1007.0 1530.5 1009.2 1530.8 1005.6 1531.1 1003.9 1531.4 1008.6 1531.7 997.1 1532.0 1007.2 1532.3 1006.2 1532.6 998.0 1532.9 1001.1 1533.2 999.5 1533.5 998.3 1533.8 1004.4 1534.1 1000.7 1534.4 1003.6 1534.7 1002.0 1535.0 985.8 1535.3 995.1 1535.6 1007.0 1535.9 1005.1 1536.2 1005.6 1536.5 995.4 1536.8 1006.1 1537.1 1006.7 1537.4 1010.3 1537.7 1005.6 1538.0 994.7 1538.3 1005.7 1538.6 992.9 1538.9 1004.4 1539.2 1010.0 1539.5 1004.9 1539.8 993.5 1540.1 1004.3 1540.4 995.4 1540.7 996.2 1541.0 991.3 1541.3 997.7 1541.6 1002.7 1541.9 1007.6 1542.2 1007.1 1542.5 1002.1 1542.8 1005.2 1543.1 1007.8 1543.4 1000.9 1543.7 997.3 1544.0 999.0 1544.3 992.0 1544.6 1003.6 1544.9 1009.6 1545.2 995.5 1545.5 1001.3 1545.8 1001.1 1546.1 992.2 1546.4 1006.8 1546.7 1001.0 1547.0 1005.4 1547.3 1001.0 1547.6 1001.4 1547.9 1000.1 1548.2 1009.5 1548.5 1005.2 1548.8 999.9 1549.1 1004.1 1549.4 1004.9 1549.7 1005.9 1550.0 1001.8 1550.3 1000.8 1550.6 993.7 1550.9 995.1 1551.2 992.6 1551.5 999.1 1551.8 1005.1 1552.1 1009.1 1552.4 994.8 1552.7 996.2 1553.0 1008.6 1553.3 999.0 1553.6 1002.1 1553.9 1000.7 1554.2 993.2 1554.5 996.2 1554.8 1008.0 1555.1 1004.5 1555.4 1009.2 1555.7 1002.6 1556.0 994.6 1556.3 1002.5 1556.6 999.5 1556.9 1003.1 1557.2 1008.9 1557.5 1010.4 1557.8 1006.8 1558.1 1000.7 1558.4 1006.8 1558.7 986.8 1559.0 1002.4 1559.3 998.7 1559.6 998.0 1559.9 997.1 1560.2 993.0 1560.5 1002.2 1560.8 1001.2 1561.1 999.4 1561.4 991.6 1561.7 995.8 1562.0 1006.4 1562.3 1004.6 1562.6 995.9 1562.9 999.4 1563.2 1005.7 1563.5 1000.0 1563.8 1005.6 1564.1 993.4 1564.4 1000.8 1564.7 1004.5 1565.0 992.2 1565.3 1000.9 1565.6 993.6 1565.9 993.3 1566.2 992.9 1566.5 993.6 1566.8 996.9 1567.1 993.0 1567.4 992.0 1567.7 994.5 1568.0 987.9 1568.3 995.6 1568.6 991.1 1568.9 1001.3 1569.2 1001.4 1569.5 996.2 1569.8 1000.9 1570.1 1010.0 1570.4 998.2 1570.7 1001.6 1571.0 1007.9 1571.3 1000.4 1571.6 1008.0 1571.9 998.4 1572.2 1006.9 1572.5 998.2 1572.8 993.0 1573.1 997.2 1573.4 997.8 1573.7 994.7 1574.0 1001.1 1574.3 996.4 1574.6 1007.8 1574.9 996.8 1575.2 999.2 1575.5 999.6 1575.8 993.7 1576.1 1001.7 1576.4 1005.3 1576.7 1000.6 1577.0 1005.5 1577.3 1004.0 1577.6 994.0 1577.9 1006.3 1578.2 992.5 1578.5 1003.1 1578.8 997.5 1579.1 993.8 1579.4 998.4 1579.7 995.1 1580.0 1004.3 1580.3 1000.8 1580.6 993.0 1580.9 992.2 1581.2 994.0 1581.5 1007.2 1581.8 997.9 1582.1 1003.4 1582.4 1005.9 1582.7 1000.7 1583.0 996.6 1583.3 1001.8 1583.6 1005.6 1583.9 1006.0 1584.2 992.3 1584.5 994.5 1584.8 997.7 1585.1 1009.2 1585.4 1007.3 1585.7 997.5 1586.0 1004.6 1586.3 1008.1 1586.6 1007.1 1586.9 1007.7 1587.2 1006.1 1587.5 1006.2 1587.8 995.7 1588.1 1006.8 1588.4 1003.6 1588.7 1004.3 1589.0 1004.4 1589.3 984.9 1589.6 1006.5 1589.9 990.4 1590.2 1007.9 1590.5 990.3 1590.8 991.3 1591.1 1005.1 1591.4 985.0 1591.7 1004.7 1592.0 1007.1 1592.3 995.9 1592.6 1008.2 1592.9 998.4 1593.2 997.2 1593.5 999.8 1593.8 996.6 1594.1 999.5 1594.4 996.6 1594.7 1003.1 1595.0 998.7 1595.3 997.4 1595.6 1008.4 1595.9 1006.8 1596.2 997.2 1596.5 1010.3 1596.8 1002.6 1597.1 1006.6 1597.4 1010.1 1597.7 1002.2 1598.0 990.5 1598.3 1009.9 1598.6 1010.8 1598.9 987.8 1599.2 996.3 1599.5 1010.2 1599.8 1007.9 1600.1 1008.8 1600.4 1001.2 1600.7 994.5 1601.0 998.7 1601.3 1000.8 1601.6 1006.0 1601.9 994.0 1602.2 993.6 1602.5 1001.2 1602.8 1006.8 1603.1 1006.9 1603.4 1000.2 1603.7 1003.6 1604.0 1006.2 1604.3 1002.8 1604.6 993.5 1604.9 1004.1 1605.2 1005.0 1605.5 1003.6 1605.8 1006.6 1606.1 1006.2 1606.4 1005.2 1606.7 1009.7 1607.0 999.7 1607.3 1005.5 1607.6 999.8 1607.9 995.9 1608.2 1008.2 1608.5 1005.4 1608.8 1005.9 1609.1 1008.7 1609.4 1008.9 1609.7 999.0 1610.0 992.1 1610.3 999.1 1610.6 995.8 1610.9 995.8 1611.2 1009.3 1611.5 998.2 1611.8 997.3 1612.1 1004.9 1612.4 1000.1 1612.7 995.0 1613.0 1010.1 1613.3 994.3 1613.6 1003.4 1613.9 1003.8 1614.2 1009.5 1614.5 995.9 1614.8 1002.6 1615.1 1001.1 1615.4 994.0 1615.7 1002.6 1616.0 1002.3 1616.3 1007.1 1616.6 1003.4 1616.9 1004.1 1617.2 1010.3 1617.5 1010.9 1617.8 1009.9 1618.1 1007.7 1618.4 995.0 1618.7 996.0 1619.0 1005.9 1619.3 1004.9 1619.6 997.6 1619.9 1004.1 1620.2 992.2 1620.5 991.5 1620.8 991.3 1621.1 997.2 1621.4 994.0 1621.7 994.4 1622.0 997.0 1622.3 997.3 1622.6 991.3 1622.9 993.9 1623.2 1001.0 1623.5 995.3 1623.8 994.9 1624.1 1008.5 1624.4 992.8 1624.7 995.2 1625.0 994.8 1625.3 984.2 1625.6 995.0 1625.9 998.8 1626.2 997.3 1626.5 1006.2 1626.8 1004.8 1627.1 1008.1 1627.4 1002.9 1627.7 994.0 1628.0 996.3 1628.3 995.7 1628.6 992.6 1628.9 1002.3 1629.2 991.8 1629.5 992.9 1629.8 993.3 1630.1 990.1 1630.4 993.7 1630.7 1006.6 1631.0 1002.3 1631.3 995.0 1631.6 990.2 1631.9 993.3 1632.2 1006.6 1632.5 995.4 1632.8 992.6 1633.1 990.3 1633.4 995.5 1633.7 994.9 1634.0 1003.9 1634.3 996.8 1634.6 1004.0 1634.9 994.8 1635.2 1008.1 1635.5 1008.8 1635.8 997.1 1636.1 1000.5 1636.4 1008.4 1636.7 1004.8 1637.0 1006.9 1637.3 1002.6 1637.6 992.8 1637.9 998.7 1638.2 1006.4 1638.5 1009.3 1638.8 1008.1 1639.1 1002.0 1639.4 1003.8 1639.7 1003.9 1640.0 1006.8 1640.3 1001.8 1640.6 980.5 1640.9 999.1 1641.2 1002.2 1641.5 1003.0 1641.8 996.6 1642.1 999.0 1642.4 1000.2 1642.7 1002.8 1643.0 994.9 1643.3 998.3 1643.6 994.5 1643.9 992.1 1644.2 1007.2 1644.5 993.8 1644.8 1003.0 1645.1 994.5 1645.4 997.1 1645.7 994.0 1646.0 994.2 1646.3 996.4 1646.6 1002.4 1646.9 993.1 1647.2 1005.1 1647.5 1001.5 1647.8 996.2 1648.1 995.6 1648.4 997.6 1648.7 1005.1 1649.0 1007.6 1649.3 1003.0 1649.6 995.7 1649.9 998.6 1650.2 1008.6 1650.5 999.7 1650.8 997.0 1651.1 996.0 1651.4 1010.7 1651.7 1007.1 1652.0 998.7 1652.3 1007.4 1652.6 995.1 1652.9 1003.9 1653.2 997.0 1653.5 992.2 1653.8 999.9 1654.1 992.9 1654.4 1008.6 1654.7 1005.7 1655.0 1002.6 1655.3 997.9 1655.6 1000.2 1655.9 1001.1 1656.2 1002.0 1656.5 1006.9 1656.8 1006.6 1657.1 1002.1 1657.4 995.6 1657.7 992.3 1658.0 992.2 1658.3 1008.5 1658.6 1002.7 1658.9 1005.2 1659.2 993.8 1659.5 997.3 1659.8 997.8 1660.1 1000.9 1660.4 992.8 1660.7 997.3 1661.0 991.4 1661.3 994.2 1661.6 1001.2 1661.9 996.0 1662.2 996.5 1662.5 995.0 1662.8 1005.8 1663.1 1001.3 1663.4 993.1 1663.7 999.0 1664.0 1006.8 1664.3 1003.2 1664.6 998.2 1664.9 994.4 1665.2 1002.5 1665.5 999.0 1665.8 1002.9 1666.1 998.4 1666.4 996.8 1666.7 994.2 1667.0 1001.1 1667.3 1010.7 1667.6 1003.3 1667.9 997.7 1668.2 1005.2 1668.5 1008.2 1668.8 998.9 1669.1 1009.2 1669.4 1009.8 1669.7 999.0 1670.0 1008.5 1670.3 1000.6 1670.6 995.8 1670.9 1007.0 1671.2 1009.4 1671.5 1005.0 1671.8 994.1 1672.1 1005.7 1672.4 1001.6 1672.7 1002.4 1673.0 1003.6 1673.3 990.6 1673.6 999.2 1673.9 997.6 1674.2 991.5 1674.5 990.8 1674.8 990.1 1675.1 991.3 1675.4 992.6 1675.7 994.1 1676.0 1005.3 1676.3 994.1 1676.6 998.7 1676.9 993.8 1677.2 994.8 1677.5 993.9 1677.8 1002.1 1678.1 1006.3 1678.4 1003.7 1678.7 1006.6 1679.0 995.9 1679.3 1003.9 1679.6 1003.9 1679.9 992.6 1680.2 985.0 1680.5 1008.0 1680.8 1010.6 1681.1 1000.4 1681.4 993.9 1681.7 1006.6 1682.0 1003.6 1682.3 1004.8 1682.6 1001.4 1682.9 1010.4 1683.2 1006.3 1683.5 1010.8 1683.8 996.1 1684.1 996.9 1684.4 1004.9 1684.7 1003.9 1685.0 998.9 1685.3 994.0 1685.6 1008.4 1685.9 1003.1 1686.2 1003.7 1686.5 995.2 1686.8 992.6 1687.1 990.2 1687.4 1001.2 1687.7 998.1 1688.0 1000.0 1688.3 1006.4 1688.6 997.0 1688.9 996.2 1689.2 997.1 1689.5 1005.2 1689.8 991.6 1690.1 993.5 1690.4 995.4 1690.7 1005.2 1691.0 989.3 1691.3 993.7 1691.6 994.5 1691.9 999.5 1692.2 993.9 1692.5 1002.2 1692.8 996.7 1693.1 993.0 1693.4 1003.2 1693.7 1006.4 1694.0 1000.7 1694.3 998.9 1694.6 991.8 1694.9 992.4 1695.2 994.6 1695.5 991.3 1695.8 996.3 1696.1 993.1 1696.4 996.3 1696.7 994.3 1697.0 1003.8 1697.3 1005.1 1697.6 1005.2 1697.9 999.8 1698.2 1005.0 1698.5 1003.1 1698.8 998.9 1699.1 1007.2 1699.4 1005.4 1699.7 1003.5 1700.0 999.6 1700.3 995.6 1700.6 994.5 1700.9 997.2 1701.2 997.9 1701.5 1004.7 1701.8 999.5 1702.1 1006.3 1702.4 1003.8 1702.7 1003.4 1703.0 995.3 1703.3 997.6 1703.6 994.7 1703.9 1000.0 1704.2 995.4 1704.5 1010.3 1704.8 1006.7 1705.1 1009.5 1705.4 1009.5 1705.7 995.5 1706.0 1009.3 1706.3 1006.7 1706.6 1009.4 1706.9 999.7 1707.2 1004.9 1707.5 1007.8 1707.8 996.6 1708.1 994.2 1708.4 1009.0 1708.7 997.1 1709.0 1010.3 1709.3 995.9 1709.6 992.9 1709.9 1002.3 1710.2 999.5 1710.5 995.6 1710.8 1002.3 1711.1 992.7 1711.4 1008.5 1711.7 998.0 1712.0 994.0 1712.3 993.2 1712.6 1000.7 1712.9 1009.3 1713.2 1000.5 1713.5 1003.1 1713.8 1008.2 1714.1 997.5 1714.4 1005.5 1714.7 993.1 1715.0 994.3 1715.3 993.3 1715.6 991.4 1715.9 1007.7 1716.2 994.2 1716.5 993.9 1716.8 992.5 1717.1 995.5 1717.4 1001.3 1717.7 1003.4 1718.0 1003.0 1718.3 1003.1 1718.6 1007.7 1718.9 992.1 1719.2 1000.4 1719.5 1006.6 1719.8 993.8 1720.1 995.6 1720.4 990.5 1720.7 1004.9 1721.0 996.8 1721.3 998.2 1721.6 1003.8 1721.9 992.9 1722.2 1001.4 1722.5 999.8 1722.8 999.9 1723.1 1005.6 1723.4 986.3 1723.7 1008.6 1724.0 1004.5 1724.3 1006.3 1724.6 1005.4 1724.9 991.9 1725.2 1009.6 1725.5 1001.5" fill="none" stroke="#000" stroke-width="2.5" stroke-linejoin="round" />
</g>
<line x1="1726" y1="845" x2="1726" y2="1017.5" stroke="#1f77b4" stroke-width="2" stroke-dasharray="2.08 3.44"/>
<rect x="1205" y="845" width="595" height="172" fill="none" stroke="#000" stroke-width="2"/>
<line x1="1244.5" y1="1017.5" x2="1244.5" y2="1012.5" stroke="#000" stroke-width="1.2" />
<text xml:space="preserve" x="1244.4" y="1037.1" font-size="19.44" text-anchor="middle" fill="#000" >26</text>
<line x1="1318.5" y1="1017.5" x2="1318.5" y2="1012.5" stroke="#000" stroke-width="1.2" />
<text xml:space="preserve" x="1318.9" y="1037.1" font-size="19.44" text-anchor="middle" fill="#000" >27</text>
<line x1="1393.5" y1="1017.5" x2="1393.5" y2="1012.5" stroke="#000" stroke-width="1.2" />
<text xml:space="preserve" x="1393.4" y="1037.1" font-size="19.44" text-anchor="middle" fill="#000" >28</text>
<line x1="1467.5" y1="1017.5" x2="1467.5" y2="1012.5" stroke="#000" stroke-width="1.2" />
<text xml:space="preserve" x="1467.9" y="1037.1" font-size="19.44" text-anchor="middle" fill="#000" >29</text>
<line x1="1542.5" y1="1017.5" x2="1542.5" y2="1012.5" stroke="#000" stroke-width="1.2" />
<text xml:space="preserve" x="1542.4" y="1037.1" font-size="19.44" text-anchor="middle" fill="#000" >30</text>
<line x1="1616.5" y1="1017.5" x2="1616.5" y2="1012.5" stroke="#000" stroke-width="1.2" />
<text xml:space="preserve" x="1616.9" y="1037.1" font-size="19.44" text-anchor="middle" fill="#000" >31</text>
<line x1="1691.5" y1="1017.5" x2="1691.5" y2="1012.5" stroke="#000" stroke-width="1.2" />
<text xml:space="preserve" x="1691.4" y="1037.1" font-size="19.44" text-anchor="middle" fill="#000" >01</text>
<line x1="1765.5" y1="1017.5" x2="1765.5" y2="1012.5" stroke="#000" stroke-width="1.2" />
<text xml:space="preserve" x="1765.9" y="1037.1" font-size="19.44" text-anchor="middle" fill="#000" >02</text>
<line x1="1205" y1="1017.5" x2="1210.8" y2="1017.5" stroke="#000" stroke-width="1.2" />
<line x1="1800" y1="1017.5" x2="1795" y2="1017.5" stroke="#000" stroke-width="1.2" />
<text xml:space="preserve" x="1200" y="1025.4" font-size="19.44" text-anchor="end" fill="#000" >10<tspan dy="-7.1" font-size="13.61">−1</tspan></text>
<line x1="1205" y1="1004.5" x2="1208.8" y2="1004.5" stroke="#000" stroke-width="1" />
<line x1="1800" y1="1004.5" x2="1796.8" y2="1004.5" stroke="#000" stroke-width="1" />
<line x1="1205" y1="996.5" x2="1208.8" y2="996.5" stroke="#000" stroke-width="1" />
<line x1="1800" y1="996.5" x2="1796.8" y2="996.5" stroke="#000" stroke-width="1" />
<line x1="1205" y1="991.5" x2="1208.8" y2="991.5" stroke="#000" stroke-width="1" />
<line x1="1800" y1="991.5" x2="1796.8" y2="991.5" stroke="#000" stroke-width="1" />
<line x1="1205" y1="987.5" x2="1208.8" y2="987.5" stroke="#000" stroke-width="1" />
<line x1="1800" y1="987.5" x2="1796.8" y2="987.5" stroke="#000" stroke-width="1" />
<line x1="1205" y1="983.5" x2="1208.8" y2="983.5" stroke="#000" stroke-width="1" />
<line x1="1800" y1="983.5" x2="1796.8" y2="983.5" stroke="#000" stroke-width="1" />
<line x1="1205" y1="981.5" x2="1208.8" y2="981.5" stroke="#000" stroke-width="1" />
<line x1="1800" y1="981.5" x2="1796.8" y2="981.5" stroke="#000" stroke-width="1" />
<line x1="1205" y1="978.5" x2="1208.8" y2="978.5" stroke="#000" stroke-width="1" />
<line x1="1800" y1="978.5" x2="1796.8" y2="978.5" stroke="#000" stroke-width="1" />
<line x1="1205" y1="976.5" x2="1208.8" y2="976.5" stroke="#000" stroke-width="1" />
<line x1="1800" y1="976.5" x2="1796.8" y2="976.5" stroke="#000" stroke-width="1" />
<line x1="1205" y1="974.5" x2="1210.8" y2="974.5" stroke="#000" stroke-width="1.2" />
<line x1="1800" y1="974.5" x2="1795" y2="974.5" stroke="#000" stroke-width="1.2" />
<text xml:space="preserve" x="1200" y="982.27" font-size="19.44" text-anchor="end" fill="#000" >10<tspan dy="-7.1" font-size="13.61">0</tspan></text>
<line x1="1205" y1="961.5" x2="1208.8" y2="961.5" stroke="#000" stroke-width="1" />
<line x1="1800" y1="961.5" x2="1796.8" y2="961.5" stroke="#000" stroke-width="1" />
<line x1="1205" y1="953.5" x2="1208.8" y2="953.5" stroke="#000" stroke-width="1" />
<line x1="1800" y1="953.5" x2="1796.8" y2="953.5" stroke="#000" stroke-width="1" />
<line x1="1205" y1="948.5" x2="1208.8" y2="948.5" stroke="#000" stroke-width="1" />
<line x1="1800" y1="948.5" x2="1796.8" y2="948.5" stroke="#000" stroke-width="1" />
<line x1="1205" y1="944.5" x2="1208.8" y2="944.5" stroke="#000" stroke-width="1" />
<line x1="1800" y1="944.5" x2="1796.8" y2="944.5" stroke="#000" stroke-width="1" />
<line x1="1205" y1="940.5" x2="1208.8" y2="940.5" stroke="#000" stroke-width="1" />
<line x1="1800" y1="940.5" x2="1796.8" y2="940.5" stroke="#000" stroke-width="1" />
<line x1="1205" y1="937.5" x2="1208.8" y2="937.5" stroke="#000" stroke-width="1" />
<line x1="1800" y1="937.5" x2="1796.8" y2="937.5" stroke="#000" stroke-width="1" />
<line x1="1205" y1="935.5" x2="1208.8" y2="935.5" stroke="#000" stroke-width="1" />
<line x1="1800" y1="935.5" x2="1796.8" y2="935.5" stroke="#000" stroke-width="1" />
<line x1="1205" y1="933.5" x2="1208.8" y2="933.5" stroke="#000" stroke-width="1" />
<line x1="1800" y1="933.5" x2="1796.8" y2="933.5" stroke="#000" stroke-width="1" />
<line x1="1205" y1="931.5" x2="1210.8" y2="931.5" stroke="#000" stroke-width="1.2" />
<line x1="1800" y1="931.5" x2="1795" y2="931.5" stroke="#000" stroke-width="1.2" />
<text xml:space="preserve" x="1200" y="939.15" font-size="19.44" text-anchor="end" fill="#000" >10<tspan dy="-7.1" font-size="13.61">1</tspan></text>
<line x1="1205" y1="918.5" x2="1208.8" y2="918.5" stroke="#000" stroke-width="1" />
<line x1="1800" y1="918.5" x2="1796.8" y2="918.5" stroke="#000" stroke-width="1" />
<line x1="1205" y1="910.5" x2="1208.8" y2="910.5" stroke="#000" stroke-width="1" />
<line x1="1800" y1="910.5" x2="1796.8" y2="910.5" stroke="#000" stroke-width="1" />
<line x1="1205" y1="905.5" x2="1208.8" y2="905.5" stroke="#000" stroke-width="1" />
<line x1="1800" y1="905.5" x2="1796.8" y2="905.5" stroke="#000" stroke-width="1" />
<line x1="1205" y1="901.5" x2="1208.8" y2="901.5" stroke="#000" stroke-width="1" />
<line x1="1800" y1="901.5" x2="1796.8" y2="901.5" stroke="#000" stroke-width="1" />
<line x1="1205" y1="897.5" x2="1208.8" y2="897.5" stroke="#000" stroke-width="1" />
<line x1="1800" y1="897.5" x2="1796.8" y2="897.5" stroke="#000" stroke-width="1" />
<line x1="1205" y1="894.5" x2="1208.8" y2="894.5" stroke="#000" stroke-width="1" />
<line x1="1800" y1="894.5" x2="1796.8" y2="894.5" stroke="#000" stroke-width="1" />
<line x1="1205" y1="892.5" x2="1208.8" y2="892.5" stroke="#000" stroke-width="1" />
<line x1="1800" y1="892.5" x2="1796.8" y2="892.5" stroke="#000" stroke-width="1" />
<line x1="1205" y1="890.5" x2="1208.8" y2="890.5" stroke="#000" stroke-width="1" />
<line x1="1800" y1="890.5" x2="1796.8" y2="890.5" stroke="#000" stroke-width="1" />
<line x1="1205" y1="888.5" x2="1210.8" y2="888.5" stroke="#000" stroke-width="1.2" />
<line x1="1800" y1="888.5" x2="1795" y2="888.5" stroke="#000" stroke-width="1.2" />
<text xml:space="preserve" x="1200" y="896.02" font-size="19.44" text-anchor="end" fill="#000" >10<tspan dy="-7.1" font-size="13.61">2</tspan></text>
<line x1="1205" y1="875.5" x2="1208.8" y2="875.5" stroke="#000" stroke-width="1" />
<line x1="1800" y1="875.5" x2="1796.8" y2="875.5" stroke="#000" stroke-width="1" />
<line x1="1205" y1="867.5" x2="1208.8" y2="867.5" stroke="#000" stroke-width="1" />
<line x1="1800" y1="867.5" x2="1796.8" y2="867.5" stroke="#000" stroke-width="1" />
<line x1="1205" y1="862.5" x2="1208.8" y2="862.5" stroke="#000" stroke-width="1" />
<line x1="1800" y1="862.5" x2="1796.8" y2="862.5" stroke="#000" stroke-width="1" />
<line x1="1205" y1="857.5" x2="1208.8" y2="857.5" stroke="#000" stroke-width="1" />
<line x1="1800" y1="857.5" x2="1796.8" y2="857.5" stroke="#000" stroke-width="1" />
<line x1="1205" y1="854.5" x2="1208.8" y2="854.5" stroke="#000" stroke-width="1" />
<line x1="1800" y1="854.5" x2="1796.8" y2="854.5" stroke="#000" stroke-width="1" />
<line x1="1205" y1="851.5" x2="1208.8" y2="851.5" stroke="#000" stroke-width="1" />
<line x1="1800" y1="851.5" x2="1796.8" y2="851.5" stroke="#000" stroke-width="1" />
<line x1="1205" y1="849.5" x2="1208.8" y2="849.5" stroke="#000" stroke-width="1" />
<line x1="1800" y1="849.5" x2="1796.8" y2="849.5" stroke="#000" stroke-width="1" />
<line x1="1205" y1="846.5" x2="1208.8" y2="846.5" stroke="#000" stroke-width="1" />
<line x1="1800" y1="846.5" x2="1796.8" y2="846.5" stroke="#000" stroke-width="1" />
<line x1="1205" y1="845.5" x2="1210.8" y2="845.5" stroke="#000" stroke-width="1.2" />
<line x1="1800" y1="845.5" x2="1795" y2="845.5" stroke="#000" stroke-width="1.2" />
<text xml:space="preserve" x="1200" y="852.9" font-size="19.44" text-anchor="end" fill="#000" >10<tspan dy="-7.1" font-size="13.61">3</tspan></text>
<text xml:space="preserve" x="0" y="0" transform="translate(1107 933.25) rotate(-90)" font-size="24" text-anchor="middle" fill="#000" >&gt;10 MeV Proton Flux</text>
<text xml:space="preserve" x="0" y="0" transform="translate(1139 932.25) rotate(-90)" font-size="24" text-anchor="middle" fill="#000" >( cm<tspan dy="-9" font-size="16.8">2</tspan><tspan dy="9" dx="5">s</tspan><tspan dy="-9" font-size="16.8">−1</tspan><tspan dy="9" dx="5">sr</tspan><tspan dy="-9" font-size="16.8">−1</tspan><tspan dy="9"> )</tspan></text>
<text xml:space="preserve" x="1499" y="1065" font-size="24" text-anchor="middle" fill="#000" >October/November</text>
<text xml:space="preserve" x="1502" y="1093" font-size="24" text-anchor="middle" fill="#000" >2019 (UT)</text>
</g>
</svg></body></html>
